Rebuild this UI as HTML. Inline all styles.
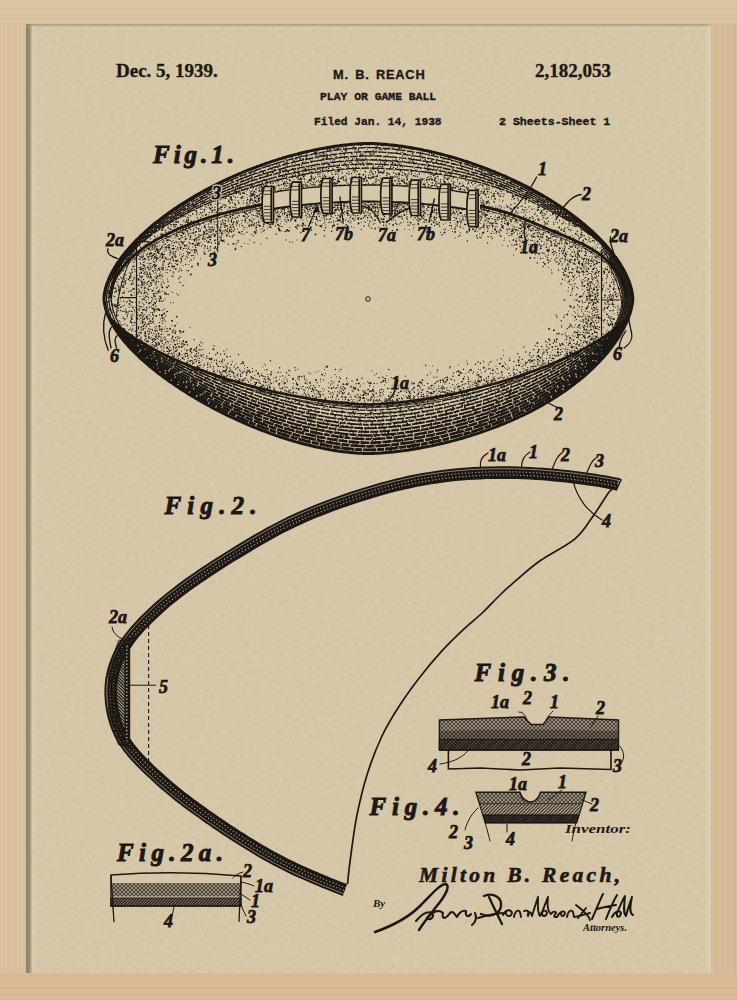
<!DOCTYPE html><html><head><meta charset="utf-8"><style>
*{margin:0;padding:0}
html,body{width:737px;height:1000px;overflow:hidden;background:#d9c19e}
#ft{position:absolute;left:0;top:0;width:737px;height:24px;background:#dac3a0;background-image:repeating-linear-gradient(0deg,rgba(180,140,90,.04) 0 1px,rgba(255,240,210,.05) 1px 3px,rgba(190,150,100,.03) 3px 5px)}
#fb{position:absolute;left:0;top:973px;width:737px;height:27px;background:#d7b994;background-image:repeating-linear-gradient(0deg,rgba(180,140,90,.04) 0 1px,rgba(255,240,210,.05) 1px 4px,rgba(190,150,100,.03) 4px 6px)}
#fl{position:absolute;left:0;top:24px;width:26px;height:949px;background:#dac19c;background-image:repeating-linear-gradient(90deg,rgba(180,140,90,.04) 0 1px,rgba(255,240,210,.05) 1px 3px,rgba(190,150,100,.03) 3px 5px)}
#fr{position:absolute;left:711px;top:24px;width:26px;height:949px;background:#d4b996;background-image:repeating-linear-gradient(90deg,rgba(180,140,90,.04) 0 1px,rgba(255,240,210,.05) 1px 4px,rgba(190,150,100,.03) 4px 6px)}
#paper{position:absolute;left:26px;top:24px;width:685px;height:949px;background:#d6c7a9;overflow:hidden}
#shl{position:absolute;left:26px;top:24px;width:11px;height:949px;background:linear-gradient(90deg,rgba(125,118,95,.85) 0,rgba(130,122,98,.8) 3px,rgba(150,140,112,.55) 5px,rgba(215,205,178,.0) 6px,rgba(230,220,195,.25) 7px,rgba(230,220,195,0) 11px)}
#sht{position:absolute;left:26px;top:24px;width:685px;height:5px;background:linear-gradient(180deg,rgba(140,132,105,.6) 0,rgba(150,140,112,.35) 2px,rgba(230,220,195,.15) 3px,rgba(230,220,195,0) 5px)}
#shr{position:absolute;left:704px;top:24px;width:7px;height:949px;background:linear-gradient(90deg,rgba(240,228,200,0),rgba(240,228,200,.35))}
.t{position:absolute;white-space:nowrap;color:#1d1813;line-height:1;-webkit-text-stroke:0.35px #1d1813}
svg{position:absolute;left:0;top:0}
</style></head><body>
<div id="ft"></div><div id="fb"></div><div id="fl"></div><div id="fr"></div>
<div id="paper"></div>
<svg width="737" height="1000" style="position:absolute;left:0;top:0">
<defs>
<filter id="ptd" filterUnits="userSpaceOnUse" x="26" y="24" width="685" height="949" color-interpolation-filters="sRGB">
<feTurbulence type="fractalNoise" baseFrequency="0.2" numOctaves="2" seed="11"/>
<feColorMatrix type="matrix" values="0 0 0 0 0.38  0 0 0 0 0.33  0 0 0 0 0.24  0.14 0 0 0 -0.072"/>
</filter>
<filter id="ptl" filterUnits="userSpaceOnUse" x="26" y="24" width="685" height="949" color-interpolation-filters="sRGB">
<feTurbulence type="fractalNoise" baseFrequency="0.2" numOctaves="2" seed="11"/>
<feColorMatrix type="matrix" values="0 0 0 0 0.96  0 0 0 0 0.92  0 0 0 0 0.82  -0.14 0 0 0 0.067"/>
</filter>
</defs>
<rect x="26" y="24" width="685" height="949" fill="#000" filter="url(#ptd)"/>
<rect x="26" y="24" width="685" height="949" fill="#000" filter="url(#ptl)"/>
</svg><div id="shl"></div><div id="sht"></div><div id="shr"></div>

<div class="t" style="left:116px;top:60px;font:bold 19px 'Liberation Serif',serif">Dec. 5, 1939.</div>
<div class="t" style="left:333px;top:67px;font:bold 12.8px 'Liberation Sans',sans-serif;letter-spacing:0.8px;word-spacing:2px">M. B. REACH</div>
<div class="t" style="left:320px;top:91px;font:bold 11.4px 'Liberation Mono',monospace">PLAY OR GAME BALL</div>
<div class="t" style="left:314px;top:115.5px;font:bold 11.2px 'Liberation Mono',monospace">Filed Jan. 14, 1938</div>
<div class="t" style="left:535px;top:60px;font:bold 19px 'Liberation Serif',serif">2,182,053</div>
<div class="t" style="left:499px;top:115px;font:bold 11.6px 'Liberation Mono',monospace">2 Sheets-Sheet 1</div>
<svg width="737" height="1000" viewBox="0 0 737 1000">
<defs>
<filter id="stip" filterUnits="userSpaceOnUse" x="0" y="0" width="737" height="1000" color-interpolation-filters="sRGB">
 <feTurbulence type="fractalNoise" baseFrequency="0.55" numOctaves="2" seed="5" result="noise"/>
 <feColorMatrix in="noise" type="matrix" values="0 0 0 0 0  0 0 0 0 0  0 0 0 0 0  1 0 0 0 0" result="nA"/>
 <feComposite in="SourceAlpha" in2="nA" operator="arithmetic" k1="0" k2="1" k3="2.2" k4="-1.4" result="s"/>
 <feComponentTransfer in="s" result="th"><feFuncA type="discrete" tableValues="0 1"/></feComponentTransfer>
 <feFlood flood-color="#1d1813"/>
 <feComposite in2="th" operator="in"/>
</filter>
</defs>
<clipPath id="ballclip"><path d="M632.8 298.5 L632.8 299.1 L632.8 299.8 L632.7 300.6 L632.6 301.5 L632.5 302.4 L632.4 303.4 L632.2 304.3 L632 305.3 L631.8 306.4 L631.6 307.4 L631.4 308.5 L631.1 309.6 L630.8 310.6 L630.5 311.8 L630.2 312.9 L629.8 314 L629.4 315.2 L629 316.3 L628.6 317.5 L628.1 318.7 L627.7 319.9 L627.2 321.1 L626.6 322.3 L626.1 323.5 L625.5 324.7 L624.9 325.9 L624.3 327.1 L623.7 328.4 L623.1 329.6 L622.4 330.8 L621.7 332.1 L621 333.3 L620.2 334.6 L619.5 335.8 L618.7 337.1 L617.9 338.4 L617.1 339.6 L616.2 340.9 L615.4 342.1 L614.5 343.4 L613.6 344.7 L612.6 345.9 L611.7 347.2 L610.7 348.5 L609.7 349.7 L608.7 351 L607.7 352.3 L606.7 353.5 L605.6 354.8 L604.5 356 L603.4 357.3 L602.3 358.6 L601.1 359.8 L600 361.1 L598.8 362.3 L597.6 363.5 L596.4 364.8 L595.1 366 L593.9 367.3 L592.6 368.5 L591.3 369.7 L590 370.9 L588.6 372.1 L587.3 373.4 L585.9 374.6 L584.5 375.8 L583.1 377 L581.7 378.2 L580.3 379.3 L578.8 380.5 L577.3 381.7 L575.9 382.9 L574.3 384 L572.8 385.2 L571.3 386.4 L569.7 387.5 L568.2 388.6 L566.6 389.8 L565 390.9 L563.3 392 L561.7 393.1 L560.1 394.2 L558.4 395.3 L556.7 396.4 L555 397.5 L553.3 398.6 L551.6 399.7 L549.8 400.7 L548.1 401.8 L546.3 402.8 L544.5 403.8 L542.8 404.9 L540.9 405.9 L539.1 406.9 L537.3 407.9 L535.4 408.9 L533.6 409.9 L531.7 410.9 L529.8 411.8 L527.9 412.8 L526 413.7 L524.1 414.7 L522.2 415.6 L520.2 416.5 L518.3 417.4 L516.3 418.3 L514.3 419.2 L512.3 420.1 L510.3 421 L508.3 421.9 L506.3 422.7 L504.3 423.5 L502.2 424.4 L500.2 425.2 L498.2 426 L496.1 426.8 L494 427.6 L491.9 428.4 L489.9 429.2 L487.8 429.9 L485.7 430.7 L483.6 431.4 L481.5 432.1 L479.3 432.9 L477.2 433.6 L475.1 434.2 L473 434.9 L470.8 435.6 L468.7 436.3 L466.6 436.9 L464.4 437.5 L462.3 438.2 L460.1 438.8 L458 439.4 L455.8 440 L453.6 440.6 L451.5 441.1 L449.3 441.7 L447.2 442.2 L445 442.8 L442.8 443.3 L440.7 443.8 L438.5 444.3 L436.4 444.8 L434.2 445.2 L432.1 445.7 L430 446.1 L427.8 446.6 L425.7 447 L423.6 447.4 L421.4 447.8 L419.3 448.2 L417.2 448.5 L415.1 448.9 L413.1 449.2 L411 449.6 L408.9 449.9 L406.9 450.2 L404.8 450.5 L402.8 450.8 L400.8 451 L398.8 451.3 L396.8 451.5 L394.9 451.7 L392.9 452 L391 452.2 L389.1 452.3 L387.3 452.5 L385.4 452.7 L383.6 452.8 L381.8 452.9 L380.1 453.1 L378.4 453.2 L376.7 453.3 L375.1 453.3 L373.5 453.4 L372.1 453.4 L370.7 453.5 L369.4 453.5 L368.4 453.5 L367.4 453.5 L366.2 453.5 L364.8 453.4 L363.4 453.4 L361.9 453.3 L360.4 453.2 L358.8 453.2 L357.2 453.1 L355.5 452.9 L353.9 452.8 L352.2 452.7 L350.4 452.5 L348.7 452.3 L347 452.1 L345.2 451.9 L343.4 451.7 L341.6 451.5 L339.8 451.2 L337.9 451 L336.1 450.7 L334.2 450.4 L332.4 450.1 L330.5 449.8 L328.6 449.4 L326.7 449.1 L324.8 448.7 L322.8 448.3 L320.9 447.9 L319 447.5 L317 447.1 L315.1 446.7 L313.1 446.2 L311.1 445.8 L309.2 445.3 L307.2 444.8 L305.2 444.3 L303.2 443.8 L301.2 443.3 L299.2 442.7 L297.2 442.1 L295.2 441.6 L293.2 441 L291.1 440.4 L289.1 439.8 L287.1 439.1 L285.1 438.5 L283 437.8 L281 437.2 L278.9 436.5 L276.9 435.8 L274.9 435.1 L272.8 434.4 L270.8 433.7 L268.7 432.9 L266.7 432.2 L264.6 431.4 L262.6 430.6 L260.5 429.8 L258.5 429 L256.4 428.2 L254.4 427.4 L252.3 426.5 L250.3 425.7 L248.3 424.8 L246.2 423.9 L244.2 423 L242.2 422.2 L240.1 421.2 L238.1 420.3 L236.1 419.4 L234.1 418.5 L232 417.5 L230 416.6 L228 415.6 L226 414.6 L224 413.6 L222.1 412.6 L220.1 411.6 L218.1 410.6 L216.1 409.6 L214.2 408.6 L212.2 407.6 L210.3 406.5 L208.4 405.5 L206.4 404.4 L204.5 403.3 L202.6 402.3 L200.7 401.2 L198.8 400.1 L197 399 L195.1 397.9 L193.2 396.8 L191.4 395.7 L189.6 394.6 L187.7 393.4 L185.9 392.3 L184.2 391.2 L182.4 390 L180.6 388.9 L178.9 387.8 L177.1 386.6 L175.4 385.4 L173.7 384.3 L172 383.1 L170.3 382 L168.6 380.8 L167 379.6 L165.4 378.4 L163.8 377.3 L162.2 376.1 L160.6 374.9 L159 373.7 L157.5 372.5 L155.9 371.3 L154.4 370.1 L152.9 368.9 L151.5 367.7 L150 366.5 L148.6 365.3 L147.2 364.1 L145.8 362.9 L144.4 361.7 L143.1 360.5 L141.7 359.3 L140.4 358.1 L139.1 356.9 L137.9 355.7 L136.6 354.5 L135.4 353.3 L134.2 352.1 L133 350.9 L131.8 349.7 L130.7 348.6 L129.6 347.4 L128.5 346.2 L127.4 345 L126.4 343.8 L125.3 342.6 L124.3 341.4 L123.4 340.2 L122.4 339.1 L121.5 337.9 L120.6 336.7 L119.7 335.6 L118.8 334.4 L118 333.2 L117.2 332.1 L116.4 330.9 L115.6 329.8 L114.9 328.6 L114.2 327.5 L113.5 326.3 L112.8 325.2 L112.2 324.1 L111.5 323 L110.9 321.8 L110.4 320.7 L109.8 319.6 L109.3 318.5 L108.8 317.4 L108.3 316.4 L107.9 315.3 L107.5 314.2 L107.1 313.2 L106.7 312.1 L106.4 311.1 L106 310 L105.7 309 L105.4 308 L105.2 307 L105 306 L104.8 305.1 L104.6 304.1 L104.4 303.2 L104.3 302.3 L104.2 301.4 L104.1 300.6 L104 299.8 L104 299.1 L104 298.5 L104 297.9 L104 297.2 L104.1 296.4 L104.2 295.5 L104.3 294.6 L104.4 293.7 L104.6 292.8 L104.8 291.8 L105 290.8 L105.2 289.8 L105.4 288.8 L105.7 287.8 L106 286.7 L106.3 285.7 L106.7 284.6 L107 283.5 L107.4 282.4 L107.9 281.3 L108.3 280.2 L108.8 279.1 L109.2 277.9 L109.8 276.8 L110.3 275.7 L110.8 274.5 L111.4 273.4 L112 272.2 L112.7 271 L113.3 269.8 L114 268.7 L114.7 267.5 L115.4 266.3 L116.2 265.1 L116.9 263.9 L117.7 262.7 L118.5 261.5 L119.4 260.3 L120.2 259.1 L121.1 257.9 L122 256.7 L122.9 255.5 L123.9 254.3 L124.9 253 L125.8 251.8 L126.9 250.6 L127.9 249.4 L129 248.2 L130 246.9 L131.1 245.7 L132.3 244.5 L133.4 243.3 L134.6 242 L135.7 240.8 L136.9 239.6 L138.2 238.4 L139.4 237.2 L140.7 235.9 L142 234.7 L143.3 233.5 L144.6 232.3 L145.9 231.1 L147.3 229.9 L148.7 228.7 L150.1 227.4 L151.5 226.2 L153 225 L154.4 223.8 L155.9 222.7 L157.4 221.5 L158.9 220.3 L160.4 219.1 L162 217.9 L163.5 216.7 L165.1 215.6 L166.7 214.4 L168.3 213.2 L169.9 212.1 L171.6 210.9 L173.2 209.8 L174.9 208.6 L176.6 207.5 L178.3 206.3 L180 205.2 L181.7 204.1 L183.5 203 L185.3 201.9 L187 200.8 L188.8 199.7 L190.6 198.6 L192.4 197.5 L194.3 196.4 L196.1 195.3 L197.9 194.3 L199.8 193.2 L201.7 192.2 L203.6 191.1 L205.4 190.1 L207.4 189.1 L209.3 188.1 L211.2 187.1 L213.1 186.1 L215.1 185.1 L217 184.1 L219 183.1 L221 182.2 L222.9 181.2 L224.9 180.3 L226.9 179.3 L228.9 178.4 L230.9 177.5 L232.9 176.6 L235 175.7 L237 174.8 L239 173.9 L241.1 173.1 L243.1 172.2 L245.1 171.4 L247.2 170.5 L249.3 169.7 L251.3 168.9 L253.4 168.1 L255.5 167.3 L257.5 166.5 L259.6 165.8 L261.7 165 L263.8 164.3 L265.8 163.5 L267.9 162.8 L270 162.1 L272.1 161.4 L274.2 160.7 L276.3 160.1 L278.4 159.4 L280.4 158.8 L282.5 158.1 L284.6 157.5 L286.7 156.9 L288.8 156.3 L290.9 155.7 L292.9 155.2 L295 154.6 L297.1 154.1 L299.1 153.5 L301.2 153 L303.3 152.5 L305.3 152 L307.4 151.5 L309.4 151.1 L311.4 150.6 L313.5 150.2 L315.5 149.8 L317.5 149.4 L319.5 149 L321.5 148.6 L323.5 148.2 L325.5 147.9 L327.5 147.5 L329.4 147.2 L331.4 146.9 L333.3 146.6 L335.2 146.3 L337.2 146 L339.1 145.8 L340.9 145.5 L342.8 145.3 L344.7 145.1 L346.5 144.9 L348.3 144.7 L350.1 144.5 L351.9 144.3 L353.6 144.2 L355.3 144.1 L357 143.9 L358.6 143.8 L360.2 143.8 L361.8 143.7 L363.3 143.6 L364.8 143.6 L366.2 143.5 L367.4 143.5 L368.4 143.5 L369.4 143.5 L370.7 143.5 L372 143.6 L373.5 143.6 L375 143.7 L376.6 143.8 L378.2 143.8 L379.9 143.9 L381.6 144.1 L383.3 144.2 L385.1 144.3 L386.8 144.5 L388.6 144.7 L390.5 144.9 L392.3 145.1 L394.2 145.3 L396.1 145.5 L398 145.8 L399.9 146 L401.8 146.3 L403.8 146.6 L405.7 146.9 L407.7 147.2 L409.7 147.5 L411.7 147.8 L413.7 148.2 L415.7 148.6 L417.7 148.9 L419.8 149.3 L421.8 149.7 L423.9 150.2 L425.9 150.6 L428 151 L430 151.5 L432.1 152 L434.2 152.4 L436.3 152.9 L438.3 153.5 L440.4 154 L442.5 154.5 L444.6 155.1 L446.7 155.6 L448.8 156.2 L450.9 156.8 L453 157.4 L455.1 158 L457.2 158.6 L459.3 159.3 L461.4 159.9 L463.5 160.6 L465.6 161.3 L467.7 161.9 L469.8 162.6 L471.9 163.4 L474 164.1 L476.1 164.8 L478.2 165.6 L480.2 166.3 L482.3 167.1 L484.4 167.9 L486.5 168.6 L488.5 169.4 L490.6 170.3 L492.7 171.1 L494.7 171.9 L496.8 172.8 L498.8 173.6 L500.8 174.5 L502.9 175.4 L504.9 176.2 L506.9 177.1 L508.9 178 L510.9 179 L512.9 179.9 L514.9 180.8 L516.8 181.8 L518.8 182.7 L520.8 183.7 L522.7 184.7 L524.6 185.6 L526.6 186.6 L528.5 187.6 L530.4 188.6 L532.3 189.6 L534.2 190.7 L536 191.7 L537.9 192.7 L539.8 193.8 L541.6 194.8 L543.4 195.9 L545.2 197 L547 198 L548.8 199.1 L550.6 200.2 L552.3 201.3 L554.1 202.4 L555.8 203.5 L557.5 204.7 L559.2 205.8 L560.9 206.9 L562.6 208 L564.3 209.2 L565.9 210.3 L567.5 211.5 L569.1 212.6 L570.7 213.8 L572.3 215 L573.9 216.1 L575.4 217.3 L576.9 218.5 L578.5 219.7 L579.9 220.9 L581.4 222.1 L582.9 223.3 L584.3 224.5 L585.7 225.7 L587.1 226.9 L588.5 228.1 L589.9 229.3 L591.2 230.5 L592.6 231.7 L593.9 232.9 L595.2 234.2 L596.4 235.4 L597.7 236.6 L598.9 237.8 L600.1 239.1 L601.3 240.3 L602.5 241.5 L603.7 242.7 L604.8 244 L605.9 245.2 L607 246.4 L608.1 247.7 L609.1 248.9 L610.1 250.1 L611.1 251.4 L612.1 252.6 L613.1 253.8 L614 255.1 L614.9 256.3 L615.8 257.5 L616.7 258.7 L617.5 259.9 L618.4 261.2 L619.2 262.4 L620 263.6 L620.7 264.8 L621.5 266 L622.2 267.2 L622.9 268.4 L623.5 269.6 L624.2 270.8 L624.8 271.9 L625.4 273.1 L626 274.3 L626.5 275.5 L627.1 276.6 L627.6 277.8 L628.1 278.9 L628.5 280 L629 281.2 L629.4 282.3 L629.8 283.4 L630.1 284.5 L630.5 285.6 L630.8 286.6 L631.1 287.7 L631.4 288.7 L631.6 289.8 L631.8 290.8 L632 291.8 L632.2 292.8 L632.4 293.7 L632.5 294.6 L632.6 295.5 L632.7 296.4 L632.8 297.2 L632.8 297.9Z"/></clipPath>
<clipPath id="topclip"><path d="M0 0 L737 0 L737 298.5 L626.4 298.5 L624.2 285.5 L622.1 280.1 L620 276 L617.8 272.6 L615.6 269.6 L613.5 267 L611.3 264.6 L609.2 262.4 L607 260.4 L604.9 258.5 L602.8 256.7 L600.6 255 L598.5 253.5 L596.3 252 L594.1 250.6 L592 249.2 L589.8 248 L587.7 246.8 L585.5 245.6 L583.4 244.5 L581.2 243.4 L579.1 242.4 L577 241.4 L574.8 240.4 L572.6 239.4 L570.5 238.5 L568.3 237.6 L566.2 236.7 L564 235.7 L561.9 234.8 L559.8 234 L557.6 233.1 L555.5 232.2 L553.3 231.3 L551.1 230.4 L549 229.5 L546.8 228.5 L544.7 227.6 L542.5 226.7 L540.4 225.8 L538.2 224.9 L536.1 224 L534 223.1 L531.8 222.2 L529.6 221.3 L527.5 220.4 L525.3 219.5 L523.2 218.7 L521 217.9 L518.9 217 L516.8 216.2 L514.6 215.5 L512.5 214.7 L510.3 214 L508.1 213.2 L506 212.6 L503.8 211.9 L501.7 211.2 L499.5 210.6 L497.4 210 L495.2 209.4 L493.1 208.9 L490.9 208.3 L488.8 207.8 L486.6 207.3 L484.5 206.8 L482.3 206.3 L480.2 205.9 L478 205.4 L475.9 205 L473.8 204.6 L471.6 204.2 L469.4 203.8 L467.3 203.4 L465.1 203.1 L463 202.7 L460.8 202.4 L458.7 202 L456.5 201.7 L454.4 201.4 L452.2 201.1 L450.1 200.8 L447.9 200.5 L445.8 200.2 L443.6 200 L441.5 199.7 L439.3 199.5 L437.2 199.2 L435 199 L432.9 198.8 L430.8 198.6 L428.6 198.3 L426.4 198.1 L424.3 197.9 L422.1 197.8 L420 197.6 L417.8 197.4 L415.7 197.2 L413.5 197.1 L411.4 196.9 L409.2 196.8 L407.1 196.7 L404.9 196.5 L402.8 196.4 L400.6 196.3 L398.5 196.2 L396.3 196.1 L394.2 196 L392 195.9 L389.9 195.9 L387.8 195.8 L385.6 195.7 L383.4 195.7 L381.3 195.6 L379.1 195.6 L377 195.6 L374.8 195.5 L372.7 195.5 L370.5 195.5 L368.4 195.5 L366.2 195.5 L364.1 195.5 L361.9 195.5 L359.8 195.6 L357.6 195.6 L355.5 195.6 L353.3 195.7 L351.2 195.7 L349 195.8 L346.9 195.9 L344.8 195.9 L342.6 196 L340.4 196.1 L338.3 196.2 L336.1 196.3 L334 196.4 L331.8 196.5 L329.7 196.7 L327.5 196.8 L325.4 196.9 L323.2 197.1 L321.1 197.2 L318.9 197.4 L316.8 197.6 L314.6 197.8 L312.5 197.9 L310.3 198.1 L308.2 198.3 L306 198.6 L303.9 198.8 L301.8 199 L299.6 199.2 L297.4 199.5 L295.3 199.7 L293.1 200 L291 200.2 L288.8 200.5 L286.7 200.8 L284.5 201.1 L282.4 201.4 L280.2 201.7 L278.1 202 L275.9 202.3 L273.8 202.7 L271.6 203 L269.5 203.4 L267.3 203.7 L265.2 204.1 L263 204.5 L260.9 204.9 L258.8 205.3 L256.6 205.7 L254.4 206.1 L252.3 206.5 L250.1 207 L248 207.4 L245.8 207.9 L243.7 208.3 L241.5 208.8 L239.4 209.3 L237.2 209.8 L235.1 210.3 L232.9 210.8 L230.8 211.4 L228.6 211.9 L226.5 212.5 L224.3 213 L222.2 213.6 L220 214.2 L217.9 214.8 L215.7 215.5 L213.6 216.1 L211.4 216.8 L209.3 217.4 L207.1 218.1 L205 218.8 L202.8 219.5 L200.7 220.2 L198.5 221 L196.4 221.7 L194.2 222.5 L192.1 223.3 L189.9 224.1 L187.8 224.9 L185.6 225.8 L183.5 226.7 L181.3 227.6 L179.2 228.5 L177 229.4 L174.9 230.4 L172.7 231.4 L170.6 232.4 L168.4 233.4 L166.3 234.5 L164.1 235.6 L162 236.7 L159.8 237.9 L157.7 239.1 L155.5 240.3 L153.4 241.6 L151.2 242.9 L149.1 244.2 L146.9 245.7 L144.8 247.1 L142.6 248.6 L140.5 250.2 L138.3 251.9 L136.2 253.6 L134 255.4 L131.9 257.3 L129.7 259.4 L127.6 261.5 L125.4 263.8 L123.3 266.3 L121.1 269.1 L119 272.1 L116.8 275.6 L114.7 279.8 L112.5 285.2 L110.4 298.5 L0 298.5Z"/></clipPath>
<clipPath id="botclip"><path d="M0 298.5 L98.4 298.5 L100.6 305.6 L102.9 309.5 L105.1 312.6 L107.4 315.4 L109.6 317.9 L111.9 320.2 L114.1 322.3 L116.4 324.3 L118.6 326.3 L120.9 328.1 L123.1 329.9 L125.4 331.6 L127.6 333.2 L129.9 334.8 L132.1 336.3 L134.4 337.8 L136.6 339.3 L138.9 340.7 L141.1 342.1 L143.4 343.4 L145.6 344.7 L147.9 346 L150.1 347.2 L152.4 348.5 L154.6 349.7 L156.9 350.8 L159.1 352 L161.4 353.1 L163.6 354.2 L165.9 355.3 L168.1 356.4 L170.4 357.5 L172.6 358.5 L174.9 359.5 L177.1 360.5 L179.4 361.5 L181.6 362.5 L183.9 363.4 L186.1 364.3 L188.4 365.3 L190.6 366.2 L192.9 367.1 L195.1 367.9 L197.4 368.8 L199.6 369.7 L201.9 370.5 L204.1 371.3 L206.4 372.1 L208.6 372.9 L210.9 373.7 L213.1 374.5 L215.4 375.3 L217.6 376 L219.9 376.8 L222.1 377.5 L224.4 378.2 L226.6 379 L228.9 379.7 L231.1 380.4 L233.4 381 L235.6 381.7 L237.9 382.4 L240.1 383 L242.4 383.7 L244.6 384.3 L246.9 384.9 L249.1 385.5 L251.4 386.1 L253.6 386.7 L255.9 387.3 L258.1 387.9 L260.4 388.5 L262.6 389 L264.9 389.6 L267.1 390.1 L269.4 390.6 L271.6 391.2 L273.9 391.7 L276.1 392.2 L278.4 392.7 L280.6 393.2 L282.9 393.6 L285.1 394.1 L287.4 394.6 L289.6 395 L291.9 395.5 L294.1 395.9 L296.4 396.3 L298.6 396.7 L300.9 397.1 L303.1 397.5 L305.4 397.9 L307.6 398.3 L309.9 398.7 L312.1 399 L314.4 399.4 L316.6 399.7 L318.9 400.1 L321.1 400.4 L323.4 400.7 L325.6 401 L327.9 401.3 L330.1 401.6 L332.4 401.8 L334.6 402.1 L336.9 402.4 L339.1 402.6 L341.4 402.8 L343.6 403 L345.9 403.3 L348.1 403.4 L350.4 403.6 L352.6 403.8 L354.9 404 L357.1 404.1 L359.4 404.2 L361.6 404.3 L363.9 404.4 L366.1 404.5 L368.4 404.5 L370.6 404.5 L372.9 404.4 L375.1 404.3 L377.4 404.2 L379.6 404.1 L381.9 404 L384.1 403.8 L386.4 403.6 L388.6 403.4 L390.9 403.3 L393.1 403 L395.4 402.8 L397.6 402.6 L399.9 402.4 L402.1 402.1 L404.4 401.8 L406.6 401.6 L408.9 401.3 L411.1 401 L413.4 400.7 L415.6 400.4 L417.9 400.1 L420.1 399.7 L422.4 399.4 L424.6 399 L426.9 398.7 L429.1 398.3 L431.4 397.9 L433.6 397.5 L435.9 397.1 L438.1 396.7 L440.4 396.3 L442.6 395.9 L444.9 395.5 L447.1 395 L449.4 394.6 L451.6 394.1 L453.9 393.6 L456.1 393.2 L458.4 392.7 L460.6 392.2 L462.9 391.7 L465.1 391.2 L467.4 390.6 L469.6 390.1 L471.9 389.6 L474.1 389 L476.4 388.5 L478.6 387.9 L480.9 387.3 L483.1 386.7 L485.4 386.1 L487.6 385.5 L489.9 384.9 L492.1 384.3 L494.4 383.7 L496.6 383 L498.9 382.4 L501.1 381.7 L503.4 381 L505.6 380.4 L507.9 379.7 L510.1 379 L512.4 378.2 L514.6 377.5 L516.9 376.8 L519.1 376 L521.4 375.3 L523.6 374.5 L525.9 373.7 L528.1 372.9 L530.4 372.1 L532.6 371.3 L534.9 370.5 L537.1 369.7 L539.4 368.8 L541.6 367.9 L543.9 367.1 L546.1 366.2 L548.4 365.3 L550.6 364.3 L552.9 363.4 L555.1 362.5 L557.4 361.5 L559.6 360.5 L561.9 359.5 L564.1 358.5 L566.4 357.5 L568.6 356.4 L570.9 355.3 L573.1 354.2 L575.4 353.1 L577.6 352 L579.9 350.8 L582.1 349.7 L584.4 348.5 L586.6 347.2 L588.9 346 L591.1 344.7 L593.4 343.4 L595.6 342.1 L597.9 340.7 L600.1 339.3 L602.4 337.8 L604.6 336.3 L606.9 334.8 L609.1 333.2 L611.4 331.6 L613.6 329.9 L615.9 328.1 L618.1 326.3 L620.4 324.3 L622.6 322.3 L624.9 320.2 L627.1 317.9 L629.4 315.4 L631.6 312.6 L633.9 309.5 L636.1 305.6 L638.4 298.5 L737 298.5 L737 1000 L0 1000Z"/></clipPath>
<clipPath id="midclip"><path d="M138.3 251.9 L140.5 250.2 L142.6 248.6 L144.8 247.1 L146.9 245.7 L149.1 244.2 L151.2 242.9 L153.4 241.6 L155.5 240.3 L157.7 239.1 L159.8 237.9 L162 236.7 L164.1 235.6 L166.3 234.5 L168.4 233.4 L170.6 232.4 L172.7 231.4 L174.9 230.4 L177 229.4 L179.2 228.5 L181.3 227.6 L183.5 226.7 L185.6 225.8 L187.8 224.9 L189.9 224.1 L192.1 223.3 L194.2 222.5 L196.4 221.7 L198.5 221 L200.7 220.2 L202.8 219.5 L205 218.8 L207.1 218.1 L209.3 217.4 L211.4 216.8 L213.6 216.1 L215.7 215.5 L217.9 214.8 L220 214.2 L222.2 213.6 L224.3 213 L226.5 212.5 L228.6 211.9 L230.8 211.4 L232.9 210.8 L235.1 210.3 L237.2 209.8 L239.4 209.3 L241.5 208.8 L243.7 208.3 L245.8 207.9 L248 207.4 L250.1 207 L252.3 206.5 L254.4 206.1 L256.6 205.7 L258.8 205.3 L260.9 204.9 L263 204.5 L265.2 204.1 L267.3 203.7 L269.5 203.4 L271.6 203 L273.8 202.7 L275.9 202.3 L278.1 202 L280.2 201.7 L282.4 201.4 L284.5 201.1 L286.7 200.8 L288.8 200.5 L291 200.2 L293.1 200 L295.3 199.7 L297.4 199.5 L299.6 199.2 L301.8 199 L303.9 198.8 L306 198.6 L308.2 198.3 L310.3 198.1 L312.5 197.9 L314.6 197.8 L316.8 197.6 L318.9 197.4 L321.1 197.2 L323.2 197.1 L325.4 196.9 L327.5 196.8 L329.7 196.7 L331.8 196.5 L334 196.4 L336.1 196.3 L338.3 196.2 L340.4 196.1 L342.6 196 L344.8 195.9 L346.9 195.9 L349 195.8 L351.2 195.7 L353.3 195.7 L355.5 195.6 L357.6 195.6 L359.8 195.6 L361.9 195.5 L364.1 195.5 L366.2 195.5 L368.4 195.5 L370.5 195.5 L372.7 195.5 L374.8 195.5 L377 195.6 L379.1 195.6 L381.3 195.6 L383.4 195.7 L385.6 195.7 L387.8 195.8 L389.9 195.9 L392 195.9 L394.2 196 L396.3 196.1 L398.5 196.2 L400.6 196.3 L402.8 196.4 L404.9 196.5 L407.1 196.7 L409.2 196.8 L411.4 196.9 L413.5 197.1 L415.7 197.2 L417.8 197.4 L420 197.6 L422.1 197.8 L424.3 197.9 L426.4 198.1 L428.6 198.3 L430.8 198.6 L432.9 198.8 L435 199 L437.2 199.2 L439.3 199.5 L441.5 199.7 L443.6 200 L445.8 200.2 L447.9 200.5 L450.1 200.8 L452.2 201.1 L454.4 201.4 L456.5 201.7 L458.7 202 L460.8 202.4 L463 202.7 L465.1 203.1 L467.3 203.4 L469.4 203.8 L471.6 204.2 L473.8 204.6 L475.9 205 L478 205.4 L480.2 205.9 L482.3 206.3 L484.5 206.8 L486.6 207.3 L488.8 207.8 L490.9 208.3 L493.1 208.9 L495.2 209.4 L497.4 210 L499.5 210.6 L501.7 211.2 L503.8 211.9 L506 212.6 L508.1 213.2 L510.3 214 L512.5 214.7 L514.6 215.5 L516.8 216.2 L518.9 217 L521 217.9 L523.2 218.7 L525.3 219.5 L527.5 220.4 L529.6 221.3 L531.8 222.2 L534 223.1 L536.1 224 L538.2 224.9 L540.4 225.8 L542.5 226.7 L544.7 227.6 L546.8 228.5 L549 229.5 L551.1 230.4 L553.3 231.3 L555.5 232.2 L557.6 233.1 L559.8 234 L561.9 234.8 L564 235.7 L566.2 236.7 L568.3 237.6 L570.5 238.5 L572.6 239.4 L574.8 240.4 L577 241.4 L579.1 242.4 L581.2 243.4 L583.4 244.5 L585.5 245.6 L587.7 246.8 L589.8 248 L592 249.2 L594.1 250.6 L596.3 252 L598.5 253.5 L600.6 255 L600.1 339.3 L597.9 340.7 L595.6 342.1 L593.4 343.4 L591.1 344.7 L588.9 346 L586.6 347.2 L584.4 348.5 L582.1 349.7 L579.9 350.8 L577.6 352 L575.4 353.1 L573.1 354.2 L570.9 355.3 L568.6 356.4 L566.4 357.5 L564.1 358.5 L561.9 359.5 L559.6 360.5 L557.4 361.5 L555.1 362.5 L552.9 363.4 L550.6 364.3 L548.4 365.3 L546.1 366.2 L543.9 367.1 L541.6 367.9 L539.4 368.8 L537.1 369.7 L534.9 370.5 L532.6 371.3 L530.4 372.1 L528.1 372.9 L525.9 373.7 L523.6 374.5 L521.4 375.3 L519.1 376 L516.9 376.8 L514.6 377.5 L512.4 378.2 L510.1 379 L507.9 379.7 L505.6 380.4 L503.4 381 L501.1 381.7 L498.9 382.4 L496.6 383 L494.4 383.7 L492.1 384.3 L489.9 384.9 L487.6 385.5 L485.4 386.1 L483.1 386.7 L480.9 387.3 L478.6 387.9 L476.4 388.5 L474.1 389 L471.9 389.6 L469.6 390.1 L467.4 390.6 L465.1 391.2 L462.9 391.7 L460.6 392.2 L458.4 392.7 L456.1 393.2 L453.9 393.6 L451.6 394.1 L449.4 394.6 L447.1 395 L444.9 395.5 L442.6 395.9 L440.4 396.3 L438.1 396.7 L435.9 397.1 L433.6 397.5 L431.4 397.9 L429.1 398.3 L426.9 398.7 L424.6 399 L422.4 399.4 L420.1 399.7 L417.9 400.1 L415.6 400.4 L413.4 400.7 L411.1 401 L408.9 401.3 L406.6 401.6 L404.4 401.8 L402.1 402.1 L399.9 402.4 L397.6 402.6 L395.4 402.8 L393.1 403 L390.9 403.3 L388.6 403.4 L386.4 403.6 L384.1 403.8 L381.9 404 L379.6 404.1 L377.4 404.2 L375.1 404.3 L372.9 404.4 L370.6 404.5 L368.4 404.5 L366.1 404.5 L363.9 404.4 L361.6 404.3 L359.4 404.2 L357.1 404.1 L354.9 404 L352.6 403.8 L350.4 403.6 L348.1 403.4 L345.9 403.3 L343.6 403 L341.4 402.8 L339.1 402.6 L336.9 402.4 L334.6 402.1 L332.4 401.8 L330.1 401.6 L327.9 401.3 L325.6 401 L323.4 400.7 L321.1 400.4 L318.9 400.1 L316.6 399.7 L314.4 399.4 L312.1 399 L309.9 398.7 L307.6 398.3 L305.4 397.9 L303.1 397.5 L300.9 397.1 L298.6 396.7 L296.4 396.3 L294.1 395.9 L291.9 395.5 L289.6 395 L287.4 394.6 L285.1 394.1 L282.9 393.6 L280.6 393.2 L278.4 392.7 L276.1 392.2 L273.9 391.7 L271.6 391.2 L269.4 390.6 L267.1 390.1 L264.9 389.6 L262.6 389 L260.4 388.5 L258.1 387.9 L255.9 387.3 L253.6 386.7 L251.4 386.1 L249.1 385.5 L246.9 384.9 L244.6 384.3 L242.4 383.7 L240.1 383 L237.9 382.4 L235.6 381.7 L233.4 381 L231.1 380.4 L228.9 379.7 L226.6 379 L224.4 378.2 L222.1 377.5 L219.9 376.8 L217.6 376 L215.4 375.3 L213.1 374.5 L210.9 373.7 L208.6 372.9 L206.4 372.1 L204.1 371.3 L201.9 370.5 L199.6 369.7 L197.4 368.8 L195.1 367.9 L192.9 367.1 L190.6 366.2 L188.4 365.3 L186.1 364.3 L183.9 363.4 L181.6 362.5 L179.4 361.5 L177.1 360.5 L174.9 359.5 L172.6 358.5 L170.4 357.5 L168.1 356.4 L165.9 355.3 L163.6 354.2 L161.4 353.1 L159.1 352 L156.9 350.8 L154.6 349.7 L152.4 348.5 L150.1 347.2 L147.9 346 L145.6 344.7 L143.4 343.4 L141.1 342.1 L138.9 340.7 L136.6 339.3Z"/></clipPath>
<clipPath id="capclip"><path d="M0 0H136.5V1000H0Z M601.5 0H737V1000H601.5Z"/></clipPath>
<filter id="blur30" x="-50%" y="-50%" width="200%" height="200%"><feGaussianBlur stdDeviation="14"/></filter>
<filter id="blur8" x="-50%" y="-50%" width="200%" height="200%"><feGaussianBlur stdDeviation="8"/></filter>
<mask id="midmask" maskUnits="userSpaceOnUse" x="0" y="0" width="737" height="1000"><rect width="737" height="1000" fill="#fff"/><ellipse cx="370.4" cy="302.5" rx="202" ry="76" fill="#000" filter="url(#blur30)"/><ellipse cx="370.4" cy="302.5" rx="180" ry="58" fill="#000"/></mask>
<g clip-path="url(#ballclip)">
<path d="M0 0m365.2 142.5h0m-1 0h0m-40.4 6.4h0m7.3-2.1h0m1.4 1.4h0m.9 1.1h0m6.4-1.1h0m3.6-.6h0m.1-2.2h0m3.3 3.4h0m.8 .6h0m2.4-4h0m2 .5h0m.6 3.1h0m1.2-3.3h0m1.4-1.2h0m.1 3.4h0m3.2-2.5h0m3.2 2.8h0m5.2-3h0m.2 4.4h0m2.1-3.7h0m4.7 1.4h0m1.9 2.5h0m.1-1.5h0m3.7 .9h0m.9-.9h0m8-1h0m.6-1.9h0m1.9 1.8h0m.3-1.1h0m3.5 3h0m1.7-3.3h0m6.9 3.9h0m2.5-1.6h0m3 .5h0m25.4 6.2h0m-3.3-2.3h0m-.1 3.2h0m-1.4 .1h0m-1.2-4.3h0m-5.6-.9h0m-.9 5.2h0m-1.3-1.3h0m-.6-2.5h0m-9.6-.9h0m-2.4 1h0m-.8 3.8h0m-2-2h0m-4.4-1.6h0m-3.1 1h0m-8.9-1.3h0m-.8 3.7h0m-.7-3.3h0m-.3 2.5h0m-10-4.5h0m-2.7 5.5h0m-1.3-2.2h0m-3.9-1.1h0m-16.1 1.2h0m-21.8-1.6h0m-2-1.5h0m-4.2 4h0m-6.8-1.7h0m-.6-1.7h0m-8.1 0h0m-6.4 1.4h0m-32.5 8h0m.9 .9h0m7.9-2h0m2.6-.8h0m8.6 .5h0m.8-1.8h0m11.7 4.4h0m2.9-.6h0m3.2-5h0m3.1 3.9h0m5.8-1.6h0m4.6-.2h0m.2 .7h0m1.1 .3h0m1.2 2.6h0m2.5-4.1h0m1.7 .7h0m.8 1.6h0m1.7-1.3h0m1.6 .4h0m5.9 1.4h0m7-.8h0m.3-3.3h0m.4 .7h0m5.3 1.8h0m7.7-.6h0m1.8 2.4h0m2-.4h0m0-3.9h0m1.4 2.7h0m.6-3.2h0m1.6 5.7h0m2.6-5.3h0m2.8-.5h0m7.7 5.9h0m1.6-1.9h0m1.6-2.8h0m1.4 .3h0m2.8 2.6h0m1.8 1.8h0m3.1-1.9h0m6.6-.3h0m3.2 .4h0m1.8 1.2h0m4.9-.2h0m1.3-.4h0m3.3-2.6h0m11.6 2.4h0m2.3 1h0m8.6-2.4h0m1.2 .7h0m2.8-2.5h0m.1-1.2h0m1.4 4.2h0m1.8-.6h0m4.2 1.7h0m3.3-.2h0m3.8-.4h0m5.6-.2h0m2.6 .7h0m16.5 6.7h0m-3.4-2.6h0m-10.6 .4h0m-11-2h0m0-.2h0m-3.6 3.9h0m-2-.8h0m-2-.5h0m-3-1h0m-2.3 2.4h0m-.4-1.2h0m-.8-2.9h0m-.7 3.4h0m-3-3.8h0m-2.9 3h0m-2-3.8h0m-7.4 4.7h0m-8-4h0m-3-.3h0m-.5 4h0m-5.3-4.1h0m-5.2 5h0m-1.3-3.1h0m-1.4-1.2h0m-8.7 1h0m-.7 3.4h0m-13-.5h0m-4-1.9h0m-.2 1.5h0m-1.9-2.2h0m-3.8 1.6h0m-1.8-4h0m-5.1 3h0m-2.1 1.6h0m-2.2-3.8h0m-12.2-.1h0m-3.2-.7h0m-1 5.5h0m-3.4-.2h0m-2.8-2.8h0m-.8 2h0m-2.3-.9h0m-3.4-3.6h0m-.5 2.6h0m-.5 2h0m-1.8 1.1h0m-1.2-2h0m-1.5-.8h0m-.4-2.3h0m-3.2 2.1h0m-.7 2h0m-.5-3.6h0m-2 3.2h0m-2.2-.1h0m-4.2-3.1h0m-2.5 1.9h0m-.1 1.9h0m0-4.6h0m-3.6 5.4h0m-.5-2.8h0m-2.6 1.1h0m-3.2-1.4h0m-1.1-1.4h0m-.1 3.3h0m-2.7-1.9h0m-.2-1.5h0m-2.4 2.8h0m-4.8-1.2h0m-7.1 1.7h0m-5.4-.6h0m-3.1 1.2h0m-2.2-2.3h0m-1.5 1.3h0m-.4-1.5h0m-1.3 .4h0m-10.1 7.9h0m.9-.5h0m.7-2.3h0m.1 .9h0m1.4-1.6h0m3.3 .1h0m2.5-1.6h0m3.4 3.6h0m6.3 1.3h0m7.5-4.2h0m0 5.1h0m6.3-2.3h0m5-2.3h0m1.5 3.4h0m.4-3.4h0m.4 1.2h0m7.7 1.3h0m1.2-1h0m0 2.9h0m1.4-1.3h0m.7-1.5h0m1.8 2.9h0m3.5-3.9h0m9.4-.6h0m.9 4.7h0m3.1-.5h0m3.6-4h0m1.1 3.6h0m3.7-.2h0m.2-2.2h0m.9-1.9h0m.7 .4h0m2 2.3h0m0 1.7h0m1.2-2.1h0m.4 2.5h0m.9-.7h0m2.9-4.8h0m1.4 3h0m3.7-1.5h0m6.5 1.4h0m8.1-1.1h0m5.4 3h0m3.9 0h0m.1-.7h0m5.5 1.1h0m11.9-3.5h0m7 .9h0m1.4-2h0m5 1.8h0m6.3 0h0m1.2-.7h0m0 3.5h0m.9-.1h0m1-1.1h0m.2-2.5h0m2.4 1.2h0m1.5 0h0m0-2.6h0m1.5 5.6h0m.3-4h0m1 1.2h0m2.6 2.6h0m2.6-1.6h0m2.5-3.8h0m3.3 5h0m2.1 .3h0m1-1h0m1.6-2.7h0m1.6 4.1h0m6.5-3.9h0m3.3-.1h0m2.5 .2h0m2.2 2h0m3.5-3.7h0m1 .1h0m1.4 2.1h0m.9 1.1h0m.9-.8h0m.6 1.8h0m8.8-1.5h0m12-.4h0m1.5 .6h0m.8 2.1h0m1.3-1.5h0m1.2-.4h0m6.2-1.9h0m8.1 3.6h0m10.5 4.8h0m-2.7 1.3h0m-5.6-4.3h0m-5 3.6h0m-1.3 .7h0m-1-3.6h0m-3.1 3.3h0m-1.1-2.8h0m-1.4-.4h0m-3.1 1.7h0m-15.5 2h0m-1.3-3.7h0m-2.6-.8h0m-3.9 1.3h0m-9.7 .1h0m-4.2-2.2h0m-1.6 3.6h0m-.4-.8h0m-.4 2.5h0m-2.3-4.9h0m-2.6 4.6h0m-.5-2.6h0m-.2-2.3h0m-1.7 3.7h0m-2.2-2.2h0m-2.2 3.1h0m-.6-2.4h0m-1 .7h0m-1.5-.3h0m-.5 2.8h0m-4.1-1.3h0m0-4.1h0m-2.6 4.8h0m-.8-1.1h0m-1.4-3.5h0m-1.3 3.3h0m-.3-1.4h0m-.1-2h0m-.8 1.7h0m-5.4 2.4h0m-.2-3.9h0m-.4 5.3h0m-1.6-5.5h0m-1.6 .5h0m-3.2 4.9h0m-.6-.8h0m-2.3-.2h0m-.3-4.1h0m-3.1 4.2h0m-2.5-2.1h0m-1.5 .8h0m-7.4 0h0m-.1-2.7h0m-6.6 1h0m-2.4-1h0m-1.1 3.3h0m-.3 1.3h0m-.9-.5h0m-1.4-1.5h0m-.4-3.2h0m-3 .7h0m-1.7 0h0m-.1 .9h0m-6.8 2.5h0m-.7 1.2h0m-2.6-5.2h0m-2.1 .4h0m-1.6 4.3h0m-.8-1.2h0m-2.2-1.7h0m-5.5 1.9h0m-3 .2h0m-1.8-1.1h0m-2.7-2.6h0m-.5 1.7h0m-6.4 2.9h0m-1.7 .3h0m-.1-2h0m-6.4 .4h0m-.1-.9h0m-1-1.9h0m-1.6 3.3h0m-1.3-3.4h0m-1.3 4.8h0m-.3-3h0m-3.9 1.8h0m-1.2-1.4h0m-1.5 1.1h0m-.1-3.2h0m-8.5 3.5h0m-3.5-2.8h0m-.9-.3h0m0 3.2h0m-1.1 .6h0m-3.4 .3h0m-3-5.4h0m-4.5 1h0m-2.2 1.3h0m-3 3.5h0m-1.3-3.8h0m-1.1 2h0m-2.7-.2h0m-.2-3.4h0m-2.1 5.4h0m-.1-4.2h0m-3.4-1.5h0m-1.1 5.7h0m-2-4.1h0m-1.3-.3h0m-5.6 1.6h0m-1.3-3.2h0m-1.5 5.9h0m-1.8-3.4h0m-2.6-2.4h0m-.4 5.8h0m-4.6-.5h0m-1.6-1.8h0m-.8-1.9h0m-.2-1.2h0m-.7 .5h0m-.2 1.1h0m-1.7 3.8h0m-2.6-3.9h0m-.5 .4h0m-1.6 3h0m-.9-1.3h0m-20 7.6h0m3.2-.3h0m1.8-1.1h0m.4-3.3h0m.6 4.8h0m4.1-.1h0m12.5-1.8h0m.6 1.3h0m.4-3.7h0m1.1 2.2h0m.5-1.6h0m2.6 2.2h0m1.5-1.7h0m.7 2.7h0m1.4-5.2h0m2.7 3.9h0m1.7 .4h0m.1-.6h0m3.5-2.1h0m5-1.1h0m.4 1h0m.4 2.4h0m2.5-.9h0m.3 2.6h0m1.6-2.1h0m3-2.5h0m2-.7h0m.1 3.3h0m.3-2.7h0m.8 2.2h0m2.3-2.1h0m.3 1.6h0m1.4 1.3h0m1.6-2.8h0m3.8-.1h0m2 .3h0m.2 3.9h0m.2 .6h0m4.2-.6h0m1.3-1.4h0m1.2 2h0m0-1.3h0m2.1-.4h0m2.2 1.4h0m1.8-2h0m.2-1.9h0m2 3.9h0m4.3-3.7h0m1.4 1.4h0m1.6 1.5h0m1.8 .8h0m2.4-.7h0m3.2 0h0m.4-2.3h0m2.9 2.9h0m0-4.4h0m1.9 4.9h0m2.4-2.6h0m1.9 2.4h0m1.8-2.3h0m1.3 2.5h0m.4-1.3h0m2.8-2.9h0m2.5 3.7h0m3.6-3.6h0m.7 1.4h0m18.7-2.9h0m3.7 4.7h0m1.5-1.8h0m3.6-2h0m3.1 4.4h0m6.2-3.5h0m1.8 1.1h0m.5-2h0m3-.3h0m.7-.9h0m.5 2.3h0m1.2 .5h0m.9 1.5h0m1.8-3.6h0m2.5-.2h0m2 1.4h0m.9-.4h0m.9 3.9h0m.2-2.9h0m1.8-1.5h0m3-.5h0m6.3 5.2h0m2.3-2.3h0m3.7-1.2h0m2.3 3h0m4.6-3h0m1.5 1.3h0m4-.4h0m.2 1.2h0m2.9-.8h0m1.2-2.8h0m.3 2.5h0m2-.9h0m.3-.2h0m1.6 2.6h0m2.8-1.7h0m3.5 .2h0m2.4-1.3h0m2.4 1.2h0m3.2 2.8h0m.4-.8h0m.1-3.8h0m3 2.6h0m1.3 0h0m.3-1.8h0m1.2 2.4h0m2.2 .2h0m3-2.6h0m2.5-.8h0m1.8 3.4h0m1-1.7h0m2.1 0h0m5.6 1.3h0m.8-2.8h0m.1 1h0m.2-2.2h0m2.7 2.6h0m1.3-1.2h0m2.8-1.4h0m2.5 4.9h0m1.1-.4h0m1.1-.4h0m4.4-1.9h0m2.8 .7h0m4.2 1.5h0m.9-3.8h0m13.7 4.5h0m1.6-3.3h0m2.8 2.1h0m1.4-3.5h0m13.4 7.9h0m-3 .1h0m-6.7-1.3h0m-4.4 1h0m-3.2-2.2h0m-15.7 1.6h0m-3.2 .1h0m-3-1.8h0m-2.1 4.7h0m-1.1-4.4h0m-.3 2.2h0m-3.8 .5h0m-2.1-3.1h0m-1.3 3.4h0m-.3 1.9h0m-2.9-.3h0m-2.4-4.9h0m-2.5 1.8h0m0 3h0m-1.8-2.1h0m-.6 2.6h0m-2.4-1.9h0m-2.3-3h0m-1.6 2.4h0m-2 2.5h0m-4.1-3.8h0m-1.4 1.6h0m-.2-2.8h0m-1.5 3.9h0m-1-1.3h0m-2.4 2.6h0m-.7-1.5h0m-2.2-2h0m-1.5 1.3h0m-3.5-1.3h0m-1.1 1.3h0m-2.4 1.3h0m-2.1-2.2h0m-1.9-2.6h0m-.1 3.7h0m-.3-2.9h0m-14.5 0h0m-1.1 3.9h0m-4.2-3.5h0m-.2 3.9h0m-.6-2.8h0m-.5 3.1h0m-.3-4.5h0m-1.4 2.1h0m-4 .5h0m-1.8 2.5h0m-.3-.4h0m-1-3.3h0m-1.5 1.2h0m-1.3-1.3h0m-.1-1.3h0m-6.6 0h0m-4.7 .8h0m-.4 4.2h0m0-4.9h0m-2.7 2.7h0m-1.8-3.5h0m-2.9 4.1h0m-2.5-3.9h0m-.6 3.1h0m-.4-1.9h0m-.8 1.1h0m-2.1 2.8h0m-.2-1h0m-1.2 .4h0m-1.3-3.5h0m-.2 1.6h0m-1.9 0h0m-.4 .5h0m-5-3h0m-1.4 1.9h0m-3.5 2.4h0m-.5-3.9h0m0 1.6h0m-1.4 2.6h0m-1-4.2h0m-.6 3.4h0m-.3-2.2h0m-.6-1.9h0m-.8 5.4h0m-1.3-1h0m-1 1.3h0m-.8-2.9h0m-.2 .8h0m-1.1-2.5h0m-1.7 2h0m-.6-1.6h0m-1 2.8h0m-.9-2.3h0m-.4-2h0m-1.7 2.2h0m-1.4-1.2h0m-1.8-1.2h0m-1.5 4.5h0m-1.1-3.7h0m-1.9 1.8h0m-.4 1.7h0m-2.6 1.5h0m-3.4-2h0m-.6 .4h0m-.7-2h0m-1.3 2.3h0m-1.4-2.3h0m-3.2 2.4h0m-.5-2.7h0m-3.7 .5h0m-.4 3.2h0m-2.3-3.5h0m-.9-1.6h0m-.6 .8h0m-1.7 0h0m-2.7 2.5h0m-.7-.9h0m-3-2h0m-.1 1h0m-2.8 2.6h0m-.4-2.9h0m-.5 .4h0m-1.9 .1h0m-.5-1.1h0m-.1 4.3h0m-2.3-3.2h0m-.6-.7h0m-1.5 2h0m-1.3-1h0m-.8 .6h0m-1.6 .4h0m-.7-1.6h0m-.6 3.4h0m-.5-2.6h0m-1.3 2h0m-1.9-3.3h0m-.5 1.5h0m-3.1 1h0m-1.1-1h0m-2.6-2.6h0m-1.5 5h0m-.1-.4h0m-2.6-1.4h0m-1.8-2.3h0m-4 1.8h0m-1.5 2.2h0m-2.2-3.3h0m-3.3 0h0m-.2 2h0m-.9-1.9h0m-6.3 2.2h0m-1.3-2.2h0m-1.4 2.5h0m-2.3-.8h0m-.6 1.2h0m-.8-4h0m-1.1 5.1h0m-1-1.7h0m-2.8 1.1h0m-1.3-1.1h0m-.1-1.3h0m-2.4-.1h0m-1.7-1h0m-4.5-1.8h0m-3 5.1h0m-1.7-3.7h0m-2.6 1.8h0m-1.8-2.3h0m-.6 1.1h0m-3.3 2.4h0m-.1-1.7h0m-2.5-2.6h0m-3 5h0m-.1-4.2h0m-2.9 3.9h0m-10.5 4.5h0m4-2.9h0m.3 5.1h0m.1-2.8h0m1.4 .4h0m3.6-.4h0m2.1-1.8h0m1.3 .5h0m.7 2h0m1.6 .7h0m1.4 1.1h0m3.3-5h0m.7 1.9h0m1.5 1h0m1.4-.4h0m.3-2h0m9.2 1.9h0m1.8-1.4h0m4.1 4.1h0m3.1-4.4h0m3 4.2h0m3.4 .5h0m4.1-4.2h0m2.3-1h0m1.5 1.8h0m.9-1.9h0m.9 3.6h0m1.6 1.3h0m6.7-.6h0m1.6-2.4h0m2.2 1.8h0m.3-3.5h0m1.2 4.7h0m.9-3h0m5.8-1h0m6.7 3.7h0m3.4-2.1h0m.9-1h0m1.1 3.4h0m1.5-2.1h0m3.7-1.2h0m4.4 .8h0m.5 3.1h0m3.8-4.3h0m.2 4.1h0m1-1.7h0m1.9-.2h0m.3-3.6h0m2 .9h0m1.4 3.7h0m.7-3.7h0m1.1 4.2h0m2.9-2.3h0m2.9-.2h0m.4-2.6h0m1 3.7h0m1-2h0m3.4 3.8h0m4.1-1.2h0m3.2-2.8h0m2.1 1.8h0m.8-1.2h0m2.1 2.6h0m3.8 1.1h0m.5-1.3h0m1.5-4.2h0m.8 4.1h0m.8 1.4h0m2.6-3.3h0m4.9 1h0m6.8 2h0m.3-2.6h0m.5-1h0m.7 2.4h0m1.3 1.1h0m4.3-.8h0m1.7-4.3h0m0 3.6h0m2.1-1.9h0m.4 2.8h0m4-1h0m.9-2.7h0m.4 1.8h0m1.8-.8h0m.6 3h0m2.4-3.3h0m1 1.7h0m1.7-.5h0m.4-2.8h0m1.7 1.9h0m1 2h0m3.6-3.5h0m1.1-.6h0m.2 5.3h0m2.3-2.5h0m2.5 .3h0m.9 1.5h0m2.9-2.7h0m.1-1.4h0m2.2 3.2h0m1.2-2.4h0m2.7 1.6h0m.2 1.7h0m5-.2h0m1.1-1.5h0m.2 2.7h0m.1-3.7h0m1.3 1.1h0m1.2 1.7h0m.4 1h0m.7-.4h0m2.6-4.5h0m1.2 2.5h0m1-3.3h0m.7 1.7h0m.7 3h0m.4-2h0m.8-1.1h0m1.9 2.1h0m1 1.7h0m2.2-2.2h0m.1 1.8h0m.3-.1h0m1-1h0m.9-2.2h0m.4 3.8h0m2.3-2.9h0m4.2-1.9h0m6.6-.4h0m.2 2.3h0m1.1-1.8h0m.6 1.3h0m2.5 0h0m.5 2.2h0m2-2.4h0m.6 .7h0m1.4-.7h0m3.6 .7h0m.5 2h0m4.1 .2h0m1.7-3.1h0m3.3-.6h0m1 4h0m1.8-2.9h0m.7 2.5h0m.3-1.5h0m1.8 .3h0m.5 .8h0m1.7-.3h0m.6-2h0m5.9 3.8h0m.4-3h0m1.6 2.1h0m5.1 .3h0m.7-3.5h0m2.1 .2h0m10.3 2.4h0m1.4-2.7h0m11.5 .5h0m4.4-1.4h0m.9 .9h0m9-.7h0m1.2 1h0m.6 3.6h0m2.2-4.1h0m1.9-1h0m7.7 1.2h0m11.8 9h0m-16.5-3.6h0m-1.4-.7h0m-20.8 .8h0m-1.7 .4h0m-8.7 .8h0m-.4 1.2h0m-3-1.6h0m-6 1.3h0m-2.3-2.1h0m-1.8 4.3h0m-6.6-.9h0m-.6-3.4h0m-1.6-.7h0m-.5 1.9h0m-.3 1.8h0m-1.8 .5h0m-.9-4.6h0m-.3 2.3h0m-1.2-2.1h0m-.6 3.5h0m-1 .3h0m-2.2-1.7h0m-.7 2.7h0m-.9-2.1h0m-.1-2.5h0m-2.5 2.2h0m-1.9 2.3h0m-2.3-3.7h0m-.4 3.7h0m-1 .7h0m-3.4-1.9h0m-1.1-.3h0m-.2 2.1h0m-.8-3.5h0m-.9 3.5h0m-.2-2.1h0m-1.6-1.4h0m0-.8h0m-1.3-.7h0m-.1 2.3h0m-.8 .9h0m-2.5 1.4h0m-.3-3.9h0m-6.4 2.5h0m-.5-.8h0m-1.3-1.2h0m-.3 3.5h0m-6-4.6h0m-.8 .6h0m-.5 1.6h0m-1.9-.4h0m-1.4-.6h0m-2 2.1h0m-.1-4h0m-3.5 5.5h0m-.5-3h0m-1.3 2.2h0m0-3.4h0m-.5 .3h0m-1.1 2.6h0m-.6-2h0m-.2 1.6h0m-2.4-.6h0m-1.8-2.4h0m-1.2 1.2h0m-3.1 .9h0m-1.7-2.2h0m-1.5 0h0m-1.6 1.9h0m-3.8-.9h0m-1.3-1.3h0m-1.6 3.6h0m-.6-3.9h0m-2 5.7h0m-1.2-4.5h0m-.7 1.6h0m-.5 2.7h0m-.1-4.5h0m-.9 .5h0m-2.5 2.9h0m-2.8-.3h0m-1.5-1.3h0m-2.1-1h0m0 1.9h0m-.5-.1h0m-.5-1.5h0m-.7-1.3h0m-.2 4.3h0m-1.2-3.4h0m-1 .5h0m-1.8-.4h0m-.1 1.9h0m-2.2-.4h0m-.1-2.4h0m-.2 1.3h0m-.6 .8h0m-2.6-2.5h0m-1 2.1h0m-.9 1.4h0m-.8-3.3h0m-1.3 2.1h0m-1.6 1.6h0m-1.8-4.4h0m-.2 5.6h0m-1.1-2.7h0m-.8-2.5h0m-1.7-.1h0m-1.3 4.4h0m-.1-4.2h0m-.4 1.4h0m-1.6-.1h0m-1-.9h0m-.9 2.9h0m-2.4 1.8h0m-.6-4.9h0m-1.9 2.6h0m-.6 1.9h0m-2.2-4.9h0m-.4 .2h0m-2 3.9h0m-.6-3h0m-2.6 .6h0m-.4 2.9h0m-1.3-4.5h0m-.3 4h0m-1.2 1.4h0m-.9-2.9h0m-.7 1.1h0m-1.1-3.5h0m-1.2 2.9h0m-1.3-2.4h0m-.5 3.8h0m-1-.4h0m-2.7-4.1h0m-.4 3.1h0m0 2.1h0m-3.3-1.7h0m-.1-3.1h0m-.4-.8h0m-1.7 1.4h0m-.3 .6h0m-1.5 2.9h0m-.6-.3h0m-1.5-3.9h0m-.3 2.1h0m-.9-1.1h0m0 2.2h0m-1 1.8h0m-1.3-.8h0m-.4-4.6h0m-2.6 3.9h0m-.4-1.7h0m-.1 3.4h0m-1.4-4.5h0m-3.3 2.6h0m-.3-2.7h0m-.8 1h0m-.7 1.1h0m-.3 2.2h0m-.2-3.5h0m-6.9 .7h0m0-2.7h0m-.3 3.5h0m-.9-.2h0m-1-1.7h0m-3.1 .1h0m-1.3 3.3h0m-.7-3.4h0m-1.3 1.9h0m-1.6 2.4h0m-1.5-3.6h0m-2.5 3.5h0m-2.3-.8h0m-.2-4.6h0m-.8 2.8h0m-.8-1.3h0m-2.1 .5h0m-.7 1.3h0m-2.1 .3h0m-1.4-.5h0m-.4 1.5h0m-1.1-3.1h0m-.3 1.8h0m-2.6 0h0m-.6-2.8h0m0 4.3h0m-1.6-.2h0m-1.8-.5h0m-1.1-2.8h0m-1.3 3h0m-.9-4.6h0m-2.8 1.1h0m-5.1-.7h0m-1.6-.3h0m-1.6 5.2h0m-.5-3.6h0m-2.9 2.4h0m-2.7-1.6h0m-3.5 0h0m-.5-2.3h0m-4.3 3.4h0m-.5-1.2h0m-3-.5h0m-.1 3.6h0m-5.1-.5h0m-.6-3.5h0m-7.2-.8h0m-1.5-.5h0m-.4 4.7h0m-2.5-.9h0m-2.4 1.8h0m0-2.3h0m-2-2.9h0m-.8-.5h0m-7 1.4h0m-4.8 1.8h0m-5.5 1.6h0m-6.3-1.5h0m0-2.6h0m-3.4 3.9h0m-1.1-.1h0m-3.8 6.4h0m.5-.2h0m1.3-2.6h0m.5-2.3h0m4.9 2h0m.3 1h0m3.6-.7h0m.6 1.7h0m1.4-3.4h0m2.4 3.7h0m6.8 .8h0m4-1.7h0m3.6-3.4h0m4 5.4h0m8.5-5.2h0m.2 1h0m2.9 1.2h0m1.5 2.8h0m2.4-.9h0m2.4-1.1h0m8.4 1.9h0m5.7-3.4h0m2.6 3.2h0m.2-4.2h0m1.2 3.1h0m.9-.7h0m2.3-2.1h0m.6 .1h0m1.8 1.8h0m.6 1.4h0m1-2.6h0m1.3 .9h0m1 .8h0m.3-2.8h0m1.2 2.8h0m2.4 .6h0m.5-3.9h0m.3 2.2h0m.7-.9h0m3.6 1.1h0m.3-.9h0m6.5 2.2h0m.5-2.6h0m.5 3.8h0m.8 .7h0m.3-5.8h0m3.8 3.8h0m.4-2.4h0m3.3 1.7h0m.2-2h0m3 0h0m1.9 3.6h0m1.1-1.3h0m.1 1.4h0m1.3-4.8h0m.4 1.3h0m.6 2h0m1.2-.1h0m1.2 1.3h0m.8 1h0m1.8-2.7h0m.4 1.5h0m.3-2.8h0m.7 3.8h0m0 .5h0m.4-2.7h0m1.5 2.3h0m.7 .4h0m1.3-.8h0m.5-3h0m2.1 0h0m3 0h0m1.6 .4h0m1.3-.4h0m2.8 2h0m2.5-2.2h0m.4 2.6h0m0-1.2h0m1.6 2.6h0m1.7-5.3h0m1.1 1.4h0m1.1 2.9h0m2.7-3h0m.8-1.1h0m.6-.4h0m2.1 0h0m.2 2.5h0m.5-1.7h0m2.1 .1h0m4.5 4.1h0m3.1-1.7h0m.9-3.4h0m2.1 4.7h0m.4-1.9h0m.4 1.2h0m.5-1.7h0m2.3 1.6h0m.1-2.2h0m.1 1.9h0m1.7 .3h0m.7-3.3h0m1 4.9h0m.4-1.3h0m.1-.5h0m.3 1.9h0m.4-4.6h0m2.1 4h0m1.7 .3h0m.7-4.4h0m.4-.9h0m2 .9h0m.7 1.7h0m3.8-.7h0m2.8 2.6h0m.2-4.4h0m3.8 5h0m2.2-4.8h0m.8 3h0m0 1.1h0m2.5-2.5h0m.2 2.9h0m1.3-3.9h0m2.4-.9h0m.5 5.4h0m2.9-2.2h0m0-3.2h0m2.2 3h0m1.8-3.2h0m.2 4.8h0m.2-1.5h0m3.6-3.2h0m2.8 .9h0m.7 4.1h0m.8-4.7h0m2.8 4h0m1.2 .8h0m.6-2h0m4.2 1h0m.6-3.1h0m1.6 .7h0m1 4.1h0m.2-1.3h0m.8-1.3h0m.6-1.3h0m.2 .4h0m1.8-2.1h0m0 3h0m1.6-1.4h0m2.3 1.5h0m1-.1h0m1 .7h0m2.6-.2h0m1.7 0h0m.3 2h0m2.6-.8h0m3.1-3.9h0m2.2 2.5h0m.6-2.1h0m2.2-.2h0m.6 3.1h0m1.4-1.3h0m.5 1.6h0m.5-3.6h0m2.9-.1h0m.7 1.4h0m.8-1h0m.7 3.4h0m3.7-4.5h0m.7 3.1h0m.6-3.1h0m2.3 1h0m.2 1.2h0m1.3 2h0m.9-4.5h0m.6 2h0m.5 2.1h0m1.8-2.9h0m1 0h0m2.1-.2h0m1.2 3.7h0m1.1-.9h0m2.6-.7h0m1.8-.4h0m1.6 2.5h0m2.3-.3h0m.3-1.5h0m11.4-2.4h0m1 2.9h0m2.2-3.2h0m7 1.5h0m1.7 0h0m2.6 .1h0m3.3-.4h0m8.3 1.9h0m2.5-2.7h0m3 2.6h0m7.6 .4h0m1.1-.6h0m2.5-1h0m6.2 3h0m1.6-2.5h0m1.2-.6h0m4.4 2.5h0m3.1-1.2h0m1.5-2h0m1.7-1.2h0m10.2 .1h0m14.8 11.3h0m-1.3-.1h0m-1.4-4.9h0m-6.1 1.5h0m-1.3-1.8h0m0 3.3h0m-.2 1.9h0m-.4-3.2h0m-1.2-1.3h0m-3.3 3.9h0m-6.2 .4h0m-1.6-3.1h0m-.7 1.4h0m-6.4-.9h0m-5.9-1.2h0m-3.2 .2h0m-3.3-1.4h0m-2 1.5h0m-2.8 .7h0m-1.1 .5h0m-1.2-2.3h0m-3.4 1.6h0m-.8-.5h0m-2.1 .6h0m-.3 2.2h0m-.9-.9h0m-.1-1.2h0m-1.3 .3h0m-2.2-2h0m-4.7 .1h0m-.8 1.4h0m-1.5 1.3h0m-1.8-2h0m-.8 3.9h0m-.5-2.6h0m-2.2-2.8h0m-2.7 3.1h0m-1.9-1.2h0m-1.3-1.3h0m-3.2 3.1h0m-.8 .9h0m-1.3-.7h0m0-3.3h0m-2 4.8h0m-3.6-3.9h0m-3.1 2.3h0m-2.8-4.2h0m-.1 .3h0m-3.8 3.8h0m-3.6 1.6h0m-1-2.9h0m-2.1 0h0m-.1 .4h0m-.3-2.2h0m-2.4 1.4h0m-1.7 2.6h0m-3.4-.1h0m-.2-4.2h0m-2.6 3.8h0m-3.1-3.4h0m-1.7-.7h0m-2.1 4h0m-1.8-.3h0m-.8-1.6h0m-.6 1.7h0m-.2-3h0m-1.9 3.7h0m-.1-4.4h0m-1.9 1.9h0m-4.6 2.1h0m-1.6-4h0m-1.1 0h0m-2 .2h0m-3.4 3.6h0m-.3-1.8h0m-1.5-1.7h0m-.1 3.4h0m-1-1.3h0m0 .3h0m-3.4 1.2h0m-.5-1.6h0m-.3-1.8h0m-1.2 2.5h0m-6.9-3h0m0 3.8h0m-2.7-1.9h0m-9.3-.1h0m-2.7 2.1h0m-.7-.6h0m-.1-3.1h0m-1.4 4.9h0m-1.7-1.8h0m-5.7 .8h0m-3.4-1h0m-1.7 0h0m-2.8-3h0m-.4 1.9h0m-4.8 1.5h0m-3.2-1.6h0m-2.4 .1h0m-.9-1.1h0m-2 2.9h0m-1-2.6h0m-3.6 .7h0m-1.6-.4h0m-1.3 3.4h0m-2 .5h0m-1.4-.7h0m-3.2-1.9h0m-2.3 1.3h0m-.6-1.3h0m-2.4 2.3h0m-.6-1.7h0m-4.7-2.2h0m-.3 3.9h0m-7.5-.3h0m-1.2-2.1h0m-.4-2.1h0m-1.7 2.5h0m-1.9 1.8h0m0-3.2h0m-1.9 .5h0m-.4 1.3h0m-2.3-2.3h0m-1.1-1.5h0m-2.4 3.4h0m-1.6-1.8h0m-3.2 3.7h0m-7.3 .3h0m-1.9-.5h0m-8.5-2.8h0m-3.5 2.1h0m-1.8-1.9h0m-1.7 0h0m-.7-2h0m-.2 3.9h0m-1.7 .3h0m-1.2-3.1h0m-1.1 .7h0m-1.7-.3h0m-.7 3.5h0m-.8 0h0m-2.3-1.3h0m-2.1-2h0m-1.6-2.1h0m-1.1 3.7h0m-3.3-2.3h0m-1-.5h0m-.3 3.6h0m-4.2-2.9h0m-2.1-1.4h0m-1 2.3h0m-1.8 .3h0m-.3-1.1h0m0 3.7h0m-.8 0h0m-3.4-.9h0m-.4-.2h0m-1.8-1.4h0m-1.1-1.1h0m-1-1.1h0m-5.1 1.4h0m-1.7-.7h0m-1.6 1.4h0m-.9-1.6h0m-2.3 2.8h0m-.4-4.2h0m-1.6 2.3h0m-1.1 .1h0m-2.3 .9h0m-.3-1.6h0m-1 1.6h0m-2.2 1.9h0m-8 .1h0m-.1-2h0m-1.4 1.7h0m-2-5.1h0m-.5 2.3h0m-.8 2.5h0m-5.3 0h0m-3.6 .3h0m-1-3.5h0m-2.8 2.4h0m-2.3 .3h0m-2.5-.1h0m-.4 .8h0m-2.3-4.7h0m-1.6 3.1h0m-3.9 1.8h0m-.1-4.5h0m-1.9 1.1h0m-8.4 2.7h0m-.5-2.7h0m-1-.2h0m-1.4 .6h0m-2.2-2.1h0m-2.9 4.3h0m-1.3-1h0m-4.8 2.7h0m2.6 2.2h0m.5 3h0m2.9-.2h0m3.5-5.1h0m1.8 1.8h0m.9 2.2h0m.1-1.1h0m1.6-1.6h0m.6 1.4h0m2.1-.8h0m5.6 1.4h0m1.3-2.1h0m.8 3.4h0m14.4-1.1h0m2.5 1.1h0m1.3-.7h0m2.9 1.4h0m1.8-2.5h0m2.4 .5h0m.1 2.1h0m.5 .5h0m.9-.1h0m1-4.2h0m.6 1.7h0m.3 2.2h0m.8-4.7h0m1.5 1h0m.9 3.8h0m3.8-1.8h0m1.4 1.9h0m2.5-.8h0m0-2.5h0m.7 3.4h0m1.1-5.7h0m2.6 1.8h0m.5 .4h0m2.7 0h0m3 2.6h0m3.3-.5h0m.4 .2h0m2.3-4.6h0m0 .9h0m.7 1.8h0m.4-2.5h0m.8 1.4h0m.7 .4h0m4.8 0h0m1.7 1.4h0m1-.6h0m2.2-2h0m1.9 3.2h0m4.7-3h0m1.1 4.7h0m2.1-4.3h0m.4-1.4h0m1.3 4.6h0m1.4 1.3h0m2.4-3.9h0m.3 .7h0m1.8-2.6h0m.8 2.2h0m3.4 1.2h0m1.6-.6h0m1.5 2.4h0m3.5-.4h0m.1-3.6h0m4.6-.1h0m2.7 1h0m1.6-.7h0m.4 3.3h0m2.2-2.3h0m.8-.9h0m3.3 1.3h0m2.1 1.1h0m3.6-1.7h0m.7 2.8h0m.5-4.2h0m5.5 2.3h0m1.3-2.6h0m2.4 .5h0m.5 2h0m.2 1.9h0m1.6-.5h0m2.7-2.6h0m2.5 3h0m1.5-4.2h0m7.1 .6h0m.6 3.8h0m1.4 .5h0m10.4-1.2h0m1.4-1.5h0m2.9 1.2h0m1.2 1.1h0m4.4-3h0m2-.1h0m6.7 3.7h0m3.7-1.1h0m1.7 .3h0m2.8-2.4h0m.5 1.6h0m5.8-2.3h0m8.8 2.3h0m2.7-3.2h0m1.3 2.6h0m3.9 .9h0m.8-4.3h0m2.1 1h0m4 .2h0m1.2 4.6h0m3.1-4.4h0m.5 1.5h0m.4-2.5h0m6.1 2.9h0m3.5-3h0m1-.3h0m.2 2.6h0m1.8 2h0m2.8-2.9h0m1.1 4h0m1-2.3h0m1 .9h0m5.4-3.5h0m2.8-.1h0m2.7 4.6h0m10.2-4.9h0m1-.4h0m9.7-.2h0m1.9 2.5h0m.1 2.4h0m1.3-4.6h0m0 3.7h0m.5 1.7h0m.2-.6h0m1.3-3.2h0m.3-1.5h0m2.1 3.8h0m3.5 .1h0m1.2-2.2h0m2.3-1.4h0m3-.7h0m.3 1.4h0m3.3 2.5h0m.5-2.2h0m1.6-.8h0m.2 1.9h0m.6-.1h0m2.4 2.2h0m1.9-3.3h0m.1 1.6h0m1.2-.5h0m.7 2.6h0m6.7-3.9h0m.7 2.2h0m1.3 .5h0m2.6-1.1h0m5.3 2.7h0m2-2.4h0m1.1-2.1h0m.5 3.7h0m.9-1.8h0m3.5-3h0m.3 2.6h0m6.1 0h0m1.9-.8h0m4 .1h0m1.9-.5h0m1.4 3.8h0m2.3-3.1h0m4.9 1.8h0m3-.3h0m3.6-.2h0m4.8-.5h0m9.5-1.9h0m4.4-.9h0m0 .3h0m3 4.6h0m2.4-.7h0m2.4-1.3h0m2.2 2.3h0m.2-5.2h0m4.1 .9h0m5.4 7.6h0m-11.8-1.9h0m-3.3 .9h0m-.3 4.2h0m-9.7-5.8h0m-2 .2h0m-7.2 5.5h0m-1.9-2.6h0m-1.8 .1h0m-5.5 0h0m-2-.1h0m-1.7-1.2h0m-1.4-1.3h0m-2 4.2h0m-.4-2.8h0m-.4-2h0m-1.7 5.4h0m-2.4-1.4h0m-1.9 1.7h0m-6.1-.6h0m-.2-4.2h0m-2.1-.8h0m-1.6 4.7h0m-1-1.9h0m-2.9-1.6h0m-2-.4h0m-1 1h0m-4.6 1.1h0m-.4-.6h0m-3.5-.6h0m-.3 3h0m-2.5-3.7h0m-.1 4.7h0m-2.3 .1h0m-4.9-1.9h0m-.7-2.3h0m-.3 2.1h0m0 1h0m-2.5-2.7h0m-.1-1.1h0m-3.5 .1h0m-1-.9h0m-2.5 3.9h0m-1-1.9h0m-1.6-.8h0m-2.1 .1h0m-2.3-.2h0m-9.3 4.3h0m-.2-3.7h0m-5.3 .1h0m-9.5-1.3h0m-2.4 1.5h0m-7.8-1.3h0m-9.1-.7h0m-1 5.4h0m-10.9-3.5h0m-.5 2.9h0m-6.2-1.8h0m-8.1-1.2h0m-13.5-.1h0m-7.8 3.4h0m-3.5-4h0m-5.6 3.6h0m-.2-3.5h0m-3.6-1.2h0m-4.4-.1h0m-2.9 1.9h0m-4.3 3.6h0m-2.4-1h0m-.5-3.8h0m-1.1-.2h0m-4.9 3.4h0m-11.5-3.1h0m-2-.9h0m-3.1 .7h0m-2.5 2.3h0m-1-2.4h0m-1.6 1h0m-1.1 1.3h0m-3.1 .8h0m-2.2-.3h0m-7.5-2.5h0m-9.3 2.3h0m-1.3 1h0m-9 1h0m-5.1-3.2h0m-2.4 2.6h0m-1.8-2.9h0m-4.3-.8h0m-6 3.2h0m-1.4 .1h0m-10.8-1.1h0m-1.1-.2h0m-3.6-.6h0m-.1 1.3h0m-1.4 .8h0m-2.5-4.3h0m-.3 2.4h0m-1.6-1.6h0m-.7 4.8h0m-5.1-4.5h0m-1.9 1.1h0m-.2 1.9h0m-2.9-.6h0m-.4-1.5h0m-6.8 .2h0m-4.9 .7h0m-1.4-.3h0m-2.2 1.4h0m-2.3 1.1h0m-.4-5h0m-.9 1.9h0m-1.1 .3h0m-1.7-.4h0m-3.2-.3h0m-2 3.5h0m-.8-.8h0m-2.6-2h0m-1.7 3h0m-4-3h0m-.3 .8h0m-4.8 1.6h0m-2.3-1.4h0m-.1-2.5h0m-5.7 3.4h0m-.1-1.9h0m-1.8 3h0m-7.7-.3h0m-3-.1h0m-.4-.1h0m-.3-4.8h0m-2.5 4.8h0m-1.3-4.8h0m-1.9 3h0m-2.7-1h0m-9.3-1.1h0m-1.3 3.9h0m-1.8-2.2h0m-6.6 6.6h0m3.7 .3h0m2.3-.6h0m.1-2.9h0m2 2.8h0m.8-1.7h0m.4 2.1h0m5.8 1.9h0m1.3-3.1h0m5.4-1.7h0m.4 4.2h0m.2-1h0m2.9 .9h0m.4-1.1h0m2.9-1.9h0m1.6 3.7h0m6.8-1h0m1.4-.1h0m4.3-3.5h0m.9-.5h0m.1 5.2h0m1.7-.4h0m1.8-2.3h0m2.4 .8h0m.5 .5h0m.1-.4h0m4-1.8h0m1.3-1.8h0m1.6 3.4h0m1.5 .5h0m.9 1.8h0m.2-3.1h0m7.3 2.8h0m.1-2.2h0m3.4 2.4h0m2.4-4.1h0m.6 3.9h0m2.7-2.4h0m.5 2.7h0m2.2-.7h0m.4-3.5h0m0 .9h0m2-2.1h0m1.9 1.2h0m1.7 2.9h0m1.9-1.1h0m4.3-2.4h0m1.2 3.1h0m2 1.2h0m3.4-3.8h0m12.6 1.2h0m4.4-1.2h0m.2 2.9h0m1.6-3.9h0m5-.2h0m13.8 2.8h0m2.9 .4h0m12.2-2.7h0m.9-.5h0m34.7-.1h0m42.5 1.4h0m29.7-.3h0m5.1 .5h0m3.9-.7h0m27.1 3.4h0m3.4-2.9h0m4.1 .8h0m4.5 1h0m1.7-1.9h0m6 3.1h0m3-4.3h0m12.7 1.2h0m1.7 2h0m1.2-3.3h0m5.9 1h0m8 2.3h0m1 1.9h0m1.4-2.9h0m1.9 .8h0m2-.4h0m7.2 2.8h0m1.2-2.7h0m.5 1.9h0m.1-4h0m3.8 4.5h0m3.6-2.2h0m2 2.2h0m1.1-5.2h0m.1 2.8h0m1-2.3h0m2.7 4.6h0m.8-.8h0m2.1 .9h0m1-1.2h0m2-1.8h0m1.7-.9h0m2.9 .9h0m.6-1.1h0m.2-1.1h0m2.9 2.5h0m3.1 2.2h0m4-2.5h0m2 2.6h0m.1-2.8h0m5.6 2h0m.9 .9h0m2.1 .2h0m1.1 .6h0m2-3h0m7.3-2.6h0m.7 5.2h0m5.6-4.1h0m17.9 3.7h0m.4-1.6h0m1.9 4.1h0m-2.9 1.7h0m-.2-2.7h0m-6 .3h0m-5 .2h0m-3.1 2.4h0m-1.7-1.9h0m-2.7 4.1h0m-3.9-4.6h0m-1.9 4.2h0m-.7-2.9h0m-2.1 .7h0m-2.2-1.2h0m-1.6 1.8h0m-.9 .2h0m-6-2.9h0m-2 4.3h0m-.6-1.2h0m-1.6 1.6h0m-3.2-2.8h0m-5.9-1.8h0m-1.9 2.5h0m-3-2.8h0m-3.5-.6h0m-.5 5h0m-2 .6h0m-8.5-4.8h0m-1.3 3.9h0m-4.8-3.4h0m-7.1 2.9h0m-22.6-2.6h0m-2.1-1.6h0m-.2 3.2h0m-24.5 .6h0m-158.2 2.1h0m-43.4-4h0m-.6-1.1h0m-2-.5h0m-1 5.6h0m-8.1-5.8h0m-7.4 .8h0m-1.2 0h0m-.5 .7h0m-6-1h0m-5.8 4.4h0m-5.2 .6h0m-2.8-5.7h0m-4.5 .9h0m-3.2 2.4h0m-1.7 1.2h0m-1.6-4h0m-2.1 2.9h0m-.3-2.1h0m-3.6 2.2h0m-3.8 1.8h0m-4-3.7h0m-1.1 2.9h0m-1.2-4h0m-5.3 4h0m-1.2-4.3h0m-3.3 4.1h0m-.8-1h0m-.5-1.9h0m-1.9 2.4h0m-3.7-.4h0m-6.8 .3h0m-1.9-3.1h0m-1.5 3.8h0m-1.2-2.4h0m-2.3 1.8h0m-4.7 1.4h0m-.3-.8h0m-1.4-2.6h0m-.9 0h0m-5.9 3h0m-1.2-1.8h0m-.7-1h0m-.6 2.2h0m-6.8 6.7h0m1.8-4.2h0m1.7-.6h0m8.6 4.8h0m2.1-2.1h0m4.5 1.4h0m1-1.7h0m2.2 .2h0m.7-2h0m1.3 2.7h0m.8 2.4h0m1.4-3.1h0m.6 3.1h0m2.4-3.7h0m1.2 2.2h0m.5-3.8h0m.6 1.6h0m1.3 1.8h0m1.8 1.6h0m0-2.9h0m1 2.6h0m2.9-1.6h0m.8 2.3h0m1.2-5.3h0m.4 2.4h0m2.2-1.8h0m2.6 1.4h0m1.4 3.1h0m.3-4h0m2.1 2.9h0m4.6 .5h0m2-2.4h0m.8-.3h0m3.8 1.5h0m1.4-3.1h0m1.5 1.3h0m.4-1.7h0m4 2h0m1.9 1.8h0m1.5 1.4h0m.1-4.3h0m.8 3.9h0m2.7-2.7h0m7.4-1.6h0m9.1 1.1h0m11.5 2.6h0m.8-1.8h0m1.4-.5h0m6.4 1h0m3.6 .5h0m12.6 0h0m31.8-1.6h0m210.1 2.8h0m1.5-4.5h0m5.5 .6h0m2.3 3.3h0m.3 1.3h0m7.6-1.3h0m.6-3.1h0m2.4-.8h0m.8 4.4h0m2.3-1.9h0m2-2.4h0m1.1 4.2h0m1.8-.4h0m4.2-3.2h0m4.7 2.2h0m4.8-.8h0m2.4 2h0m.1-1.3h0m1.4-2.7h0m3.3 4.9h0m6.2-1.5h0m3.9-.1h0m.1-1.1h0m2.4 2.7h0m.8-3.9h0m.7 1.1h0m1.1-.2h0m2.9 3.4h0m2-3.3h0m2.4 1.3h0m.4 1.6h0m4.8-1.2h0m4.9-.9h0m3.5-1.1h0m3.1-.5h0m3.6 1h0m1.8 2.9h0m4.4-5.1h0m1.2 4.8h0m.8-.4h0m.4-1.5h0m5.1 8.4h0m-1.2-.3h0m-.7-4.4h0m-1.3 2.8h0m-1 1.7h0m-.5-2.3h0m-1.3-2h0m-1.8 4.4h0m-.2-3.8h0m-2.5-.5h0m-2.1 .7h0m-2.6-1h0m-3.5 2.4h0m-1.4 1.1h0m-.5-1.2h0m-1.8-3.5h0m-1.1 .8h0m-5.8 2.6h0m-1.5 1h0m-3 1.2h0m-.5-1.9h0m-3.5 .2h0m-3.2 1.7h0m-4.1-1.5h0m-.6-2h0m-12.9-1.7h0m-1.4 1.7h0m-1.6-1h0m-9.7 .8h0m-1.3 .1h0m-6.3 3.7h0m-3.7 .1h0m-2.2-.3h0m-7.8-1.7h0m-279.7-1.7h0m-25.7 .2h0m-2.7-2h0m-10.8 5.1h0m-.4-3.8h0m-.7 0h0m-.7 3.9h0m-2.2-4.3h0m-3.6-.7h0m-1.5 2.8h0m-.9-1.2h0m-1.6 .3h0m-2.2 1.9h0m-4.4-.4h0m-.4-2.4h0m-.7 .4h0m-1.1 3.3h0m-.7-5h0m-.8 2.2h0m-5.8 1.4h0m-2.6-3.4h0m-.1 4.2h0m-1.9 1.1h0m0-1.8h0m-1.2-2h0m-.2-1.6h0m-.6 5.7h0m-2.8-.4h0m-2.3-3.5h0m-1.7 3.4h0m-.8-.7h0m-.1-3.1h0m-3 .3h0m-.8 2.8h0m-.2-.8h0m-1.5 0h0m-.7-.7h0m-2.5 1.6h0m-5-1.5h0m-4.5-1.7h0m-4.7 .2h0m-.5-1.1h0m-.6 3.8h0m-7.2 6.3h0m.6-1.7h0m.3 2.4h0m.9-2.7h0m.9-1.7h0m2.1 1.7h0m.2-1.6h0m1.1 2.3h0m1.2-1.1h0m3.2 .9h0m1-2.4h0m.5-1h0m4.1 4.6h0m4.5-3.8h0m3.5 .9h0m.1 .3h0m.1 2.7h0m2.2-1.6h0m2.2 2.4h0m1.4-4.2h0m2.7-.4h0m.5 2.3h0m2.5 2.2h0m2 .3h0m.3-4.4h0m1 .5h0m2.4 3.1h0m1 .6h0m3.4-2.2h0m4.4-.6h0m1.9 2.8h0m.9-.6h0m3.2-1.8h0m.2-2.7h0m.6 5.6h0m.9-3.6h0m2.1-.7h0m.1 2.1h0m3.8-2.7h0m6.7-.8h0m.1 5.1h0m2.9-2.9h0m.6-1.7h0m315.8 2.3h0m10-2.4h0m3.3-.5h0m8.7 2.3h0m12.8-2.3h0m6 1.2h0m2-.8h0m.2 2.5h0m2.5 .9h0m4.8-1.2h0m6.2-.4h0m.3 .3h0m4.8 1.1h0m.2-1.4h0m2.2 1.5h0m2.4 1.6h0m4.5-1.8h0m.2-.5h0m1.4 .6h0m3.4 .7h0m2.5-.1h0m.9-1.9h0m.1 2.7h0m.2-4.4h0m1.5 3.4h0m3.6-3.2h0m.9 1h0m2.9 .3h0m.5-1.2h0m.8 3.1h0m.9-.6h0m.1-.9h0m.9-2.1h0m1.7 3.4h0m.4-2.9h0m.5 4.1h0m2.7-3.6h0m.6 .5h0m2.1 2.1h0m4 5h0m-.8 2.7h0m-.2-3.9h0m-.2 2.2h0m-1.9-2.3h0m-.6 3.9h0m-.1-3.1h0m-4.3 1.1h0m-.2 1.2h0m-1.2-5h0m-4.4 3.5h0m-.4-1.7h0m-.1-1.1h0m-3 .7h0m-2-.3h0m-.1 2.9h0m-.9-3.7h0m-.8 2.2h0m-.7-2.4h0m-2 4.6h0m-.3-2.5h0m-1.5 3.4h0m-2.4-4.4h0m-3.5 2.4h0m-2.2 0h0m-1.7 1.9h0m-3.2-2.4h0m-2.8-2h0m-3.3 3.2h0m-.5-2.7h0m-6.2-1.4h0m-.6 2.8h0m-.7-1.8h0m0 2.7h0m-2.4 1.6h0m-1.3-4.8h0m-1.3 1h0m-1.8 2.2h0m-2.5-3.3h0m-3.9-.1h0m-8.2 0h0m-328.5 3.3h0m-14-2.8h0m-3 4h0m-3.9-3.8h0m-3.9 2.2h0m-8.4 .1h0m-3-.6h0m-.7-1h0m-2.2 1.1h0m-.1 2.5h0m-1.9-4.2h0m-2 4.4h0m-1.3-2.6h0m-7.6 1h0m-2-2.1h0m-.8 .2h0m-6.3-.8h0m-3.7 4.4h0m-1.3 .1h0m0-3.6h0m-1.6 3h0m-2.2-1.6h0m-4.1-2.6h0m-5.2 0h0m-6.4-.9h0m-1.2 3.6h0m-.6 1.3h0m-.8-4h0m-1.4-.8h0m-.6 1.7h0m-2.7 3.1h0m-.1-.9h0m-.2-4.1h0m-.9 2.8h0m-1.2 2.9h0m-.6-2.2h0m-1.8 2.3h0m-.1 1.2h0m.4 3.2h0m1.6-.6h0m.6-1.4h0m1.9 .6h0m2.2 .4h0m17.4-2.9h0m3.8 2.5h0m.9 .3h0m3.5 1.1h0m1-2.8h0m.9 4.2h0m0-1.2h0m2.3-2.9h0m3.5 3.8h0m4.3-2.2h0m.4 2.2h0m3.8 .5h0m.6-2.6h0m1.2 2.5h0m2.5-3.2h0m2.3 .1h0m1.3 1.8h0m9.9-2.9h0m5.7-1h0m359.8 3.1h0m17.6-1.5h0m2.8-1.2h0m6.7-.8h0m.3 3.9h0m3.4-.5h0m.3-3.2h0m2.2 5.5h0m1.2-3.6h0m2 3.1h0m0-3.1h0m1 .3h0m2.3 3.1h0m.1-5.1h0m2.1 1.7h0m.6 .1h0m3.8 .3h0m5.1 .1h0m5.6 2.5h0m1.7-2.7h0m2.1 1h0m8.6 2.2h0m.2-2.9h0m.9 1.4h0m.7 1h0m1.6 .4h0m3.2 5.7h0m-1.1-1.8h0m-3.1-1.4h0m-.4 2.8h0m-2.5-4.9h0m-6 4.5h0m-8.5-.6h0m-3.6-2.4h0m-7.7 2.9h0m-.3-2.9h0m-.4 2h0m-1.8-.1h0m-4.4-1.2h0m-1.5 .4h0m-.2-2.3h0m-1.6 1.4h0m-2.1 1.7h0m-7 1.8h0m-5.6 .2h0m-.9-.8h0m-2.3-1.8h0m-12-2.9h0m-364.8 .5h0m-7.5 .3h0m-.5 .9h0m-5.4 1.5h0m-6-.5h0m-1.5-.1h0m-3.2 2.1h0m-1.8-.5h0m-.4-2.3h0m-.8 1.7h0m-2.3-3h0m-1.1 3.3h0m-.6-1.4h0m-1.7 .8h0m-.8-1.7h0m-3.8 .8h0m-2.2 2.8h0m-1.4-3.5h0m-.6 2.2h0m-.4 .4h0m-1.4-.9h0m-1.8-1.4h0m-4.1 3.5h0m-2.6-4.1h0m-5.6 1.6h0m-10.3-1.3h0m-2.1 3.6h0m-1-1.9h0m-1.8-.1h0m-1.1-2.8h0m-.9 4.2h0m-3.7 5.6h0m.7 1.1h0m1.4-4.7h0m1.8 1.8h0m.4-1.7h0m1.7 1.1h0m.3 .3h0m5.9-1h0m2.3-.2h0m1.4 2.7h0m1.5 .8h0m.9-1.8h0m5.1-2h0m1.9 5.2h0m.3-4.6h0m1 .7h0m4.5-.9h0m.8 2.9h0m3.9 1.5h0m2.3-5.1h0m1.2 1.2h0m1.6 3.3h0m.6-2.4h0m1.8-.5h0m.1 2.3h0m1.2 1.4h0m1.9-4.5h0m2.9 1.6h0m2.4-.2h0m1.1-2.6h0m1.5 3.8h0m4.6-.8h0m4.3-2.9h0m9.3 .5h0m384 3.6h0m.9-2.9h0m3-.7h0m2.7 3.1h0m2.2 1h0m1-1.6h0m1.9-1.6h0m4.5 2.5h0m1.4 1.8h0m1-2.1h0m1.2-1.3h0m7.6-1.3h0m1.1 1.3h0m2.1-.2h0m1.2-.3h0m.8 2.4h0m4.7 .3h0m9.1-3.3h0m2.3 .1h0m2.4 1h0m2.4-1.1h0m3.1 2.8h0m1.4-4h0m.8 2.6h0m5.4 4.6h0m-2 .1h0m-2.9 1.7h0m-2.2-2.2h0m-7.6 2.1h0m-.6 2.6h0m-.2-3h0m-9.9-.4h0m-.5 1.6h0m-.2 1.4h0m-3.9-.3h0m-1.3-1.2h0m-2-3.1h0m-1.7 3.7h0m-.1 1.6h0m-1.4-4.2h0m-1.8 3.9h0m-.3-4.1h0m-1.1 3.6h0m-6.5-.9h0m-8.8 .5h0m-2.1-1.5h0m-1.1-.6h0m-1.7-.7h0m-.7 3.8h0m-399.6-1h0m-4.7-3.2h0m-3.3-.4h0m-3.3 4.2h0m-2.9-4.7h0m-.9 5.4h0m-3.7-4.1h0m-1.5 2h0m-3.2-2.6h0m-3.5 3.6h0m-1.9-1.2h0m-1.7 0h0m-4.7-1.6h0m-1.2-1.1h0m-22.3 5h0m-.4-4.1h0m-.3 .8h0m-2.8 3h0m-1.4 4h0m.2 2.3h0m.7-2.3h0m.9 2.1h0m.3-5h0m1.3 4h0m.2-4.1h0m1.9 5h0m1.6-3h0m2 1.9h0m2.3-2.7h0m5.5 3.6h0m2.3-.4h0m0-2.1h0m2.4-2.6h0m4.4 3h0m2.6 1.1h0m3.8 1.4h0m1.5-3.2h0m1.2 1.6h0m1.8-1.6h0m2.2-.4h0m1.7-2h0m2-.2h0m2.8 1.3h0m4.7 2.3h0m.4 1.8h0m3.5-3.7h0m11.5 2h0m2.1 .7h0m3.4 1.2h0m395.1-1.2h0m6.6-3.9h0m4 1.1h0m2.1 1.8h0m4.1 1.6h0m3.2-4.7h0m.1 3.2h0m.7-.5h0m.5 1.4h0m5.3 .5h0m3.5-.4h0m4-1.6h0m1.5-2.1h0m8.6-.1h0m3.1 4.9h0m.8-5.1h0m1.9 2.3h0m2.5-.9h0m5 3.6h0m.5-1.2h0m.5 5.9h0m-.1-.3h0m-.8-.6h0m-1.8-1.7h0m-.4-1.6h0m-.2 3h0m-.8-2.9h0m-.2 4.6h0m-4.2-2.3h0m-.8 .9h0m-.7 2.5h0m-1.2-4.3h0m-1.5 .5h0m-4-2h0m-2.8 4.7h0m-1.2-3.8h0m-.5 .6h0m-4.1 2h0m-2.6 .3h0m-3 1.8h0m-1-.7h0m-.6-2h0m-.6-1h0m-1 .8h0m-1-1.9h0m-4 1.8h0m-2.3-1.9h0m-2.2 3.8h0m-.3-1.2h0m-3.7-2h0m-.2 1h0m-.8-.1h0m-4.7 3.2h0m-.9-3.9h0m-3.8-.8h0m-8.6 4.6h0m-398.2-.7h0m-16.7 .7h0m-5.4-3.2h0m-.7 3.1h0m-1.2-.2h0m-7-3.9h0m-2.4 .3h0m-3.1 3.7h0m-6.2-2.7h0m-2.4 1.9h0m-7-2.2h0m-1.7 .6h0m-3-.9h0m-.1 2.4h0m-.6-1.2h0m-.2 .5h0m-.4-2.9h0m-3.6 .9h0m4.8 5.3h0m3.1 4.1h0m2.9-.9h0m6.3-3.3h0m3.8 4.4h0m1.7-2.6h0m4.6 2.9h0m4.5-3.2h0m2.9 3.3h0m1.1-2h0m2.6-1.7h0m1.1 1.6h0m2.7-3.1h0m5.6 2.5h0m1.8 2.5h0m20.1-2.6h0m414.2-2.6h0m1.1 2.4h0m.1 1.4h0m.7-3.9h0m.9 1.9h0m1.8 3.7h0m3.4-3.3h0m2.3-1.8h0m9.5 3.5h0m10.9 1.5h0m3.4-5.6h0m1.2 5.4h0m4.3 .3h0m.8-4.5h0m.9 7.8h0m-10.9 1.1h0m-2.5-2.8h0m-3 3.6h0m-4.6-2.7h0m-4.1 2.4h0m-.4-1.3h0m-6.3-1.7h0m-.1-1.6h0m-.3 3.5h0m-1.4 .3h0m-1.5-2.5h0m-.3 3h0m-.6-1h0m0 2.4h0m-5.1-.5h0m-6.2 .2h0m-3.8-1.3h0m-3.4 1.4h0m-5.9-.3h0m-401.7 .7h0m-1.8-3h0m-1.4 .8h0m-1.6 .9h0m-5.6 .6h0m-4.7-3.1h0m-.2-1.7h0m-1.9 1h0m-.2-.9h0m-1.3 1.8h0m-1.2 1h0m-.4 2.6h0m-2-2.8h0m-1.2-2.3h0m-2.2 .4h0m-1.5-.7h0m-1.7 2.8h0m-1.9-1.9h0m-1.2 3h0m-.1 1.5h0m-.5-2.5h0m-1.5 2.2h0m-6.4-1.3h0m-.6-1.2h0m-3.2 2.4h0m-.7-4.6h0m-4.8-.3h0m-4.2 3.2h0m-2.2 1.1h0m-.2-3h0m-5.4-1.8h0m6.1 6h0m3.9 .8h0m3.8 1.9h0m4.3 2.5h0m3.1-3.2h0m1.6 .8h0m.3-2.1h0m.4 .6h0m4.6 2.7h0m5.2-1.3h0m4.2-2.2h0m2.5 2h0m6 2h0m0-4.1h0m2.8 3.3h0m.3-.4h0m7.9 1.5h0m2.4 .9h0m400.1-2.6h0m8.6 .1h0m2.4-2.5h0m2.4 1.1h0m3.7 3.3h0m1.6-4h0m.5 1.5h0m1.6 .2h0m.6 1.7h0m1.7-1.7h0m.7 1.6h0m3.7 .8h0m2.4 0h0m1.3-5.1h0m.6 .3h0m0 2.9h0m2.9-1.1h0m5.9-2.2h0m3.6 3.6h0m5.7-2h0m4.1 4.1h0m3.3-1.3h0m6.7 .4h0m-2.9 3.1h0m-.7 .6h0m-.5 2.5h0m-3.4-.1h0m-2.8-3.8h0m-6.3 2.9h0m-1.3-1.7h0m-3.3 2.8h0m-3.2-1h0m-1.3-2.2h0m-4.4 2.6h0m-3.9 .3h0m-1.2-1.2h0m-1.5-2.5h0m-1.1-.9h0m-1.6 1.6h0m-.2-.9h0m-1.1 4.5h0m-1.7-5.3h0m0 3h0m-.8 .6h0m-3.9-.3h0m-1.2-.6h0m-5.7-.3h0m-397.2 2.5h0m-11.3-1.6h0m-2.7 2.2h0m-1-.7h0m-1.5-4h0m-6.6 4.7h0m-4.4-4.6h0m-.4 2.4h0m-.1-3.1h0m-5.1 3.4h0m-1.7-3.5h0m-2.1 4.8h0m-.5-3.2h0m-3.2 1.2h0m-.7 1.8h0m-9.7-4.4h0m-1 5.3h0m-4.2-1.5h0m-4.1-3.3h0m-1.7-.4h0m-2.7 .4h0m-.6 3.2h0m2.1 3.7h0m2.4 .6h0m2.4-2h0m.9 3h0m.7 0h0m3.6-3h0m2.6 1.8h0m3.8 1.8h0m1.9-2.2h0m4.3 3.9h0m.1-5.7h0m.3 .1h0m1.7 3.7h0m2.5-1.1h0m1 1.5h0m1.4 1.6h0m2.2-1.9h0m.3-3.2h0m1.4-.1h0m2.5 1.7h0m.5 3h0m4.5-1.6h0m1 .6h0m4.9-2.2h0m2 1.9h0m1.7 1.1h0m1.1-2.5h0m6-1.4h0m18.2 2.1h0m372-2.1h0m11 2h0m1.5-.1h0m1.2-2.5h0m7.1 1.5h0m3.3 0h0m4.9 .8h0m.6-1.6h0m2.1 3.6h0m1-4.1h0m1.6 3.8h0m.2-.3h0m1.4 .2h0m5.7-.9h0m4.4 2.2h0m9.6-2.4h0m.5-.1h0m2.7 1.3h0m.1-4.1h0m.4 3.9h0m.5-2h0m-2.4 5.4h0m-.3 2.3h0m-1.4-3.5h0m-1.1 1.9h0m-.9-1.1h0m-1 4.2h0m-.4-2.9h0m-.6 2.6h0m-.3-4.4h0m-5.1 2h0m-.2 1.9h0m-.2 .6h0m-.9-2.3h0m-.9-2.3h0m-2.4 2.7h0m-.6 .6h0m-5.4 .7h0m-3.3-4.7h0m-.4 5.8h0m-8.5-2.8h0m-.1-2.2h0m-.3 4.1h0m-1.9 .7h0m-2.3-3.3h0m-.3 2.6h0m-2.1-3.4h0m-.3-1.5h0m-2.9 5.8h0m-1.2-2.8h0m-1.3 2.1h0m-4 .5h0m-3-3h0m-1.6 1.4h0m-383-2.7h0m-7.9 .9h0m-1.1 .3h0m-5.5-1h0m-1.7-.2h0m-1.8 2.5h0m-4.5 .1h0m-.8-1.3h0m-5.1 2.9h0m-.1-5.2h0m-7.6 1.6h0m-.6 3.3h0m-3.4-5.3h0m-12.1 4.9h0m-1.7-1.5h0m-4.2-.1h0m-1.4-2.5h0m-1.2 2.4h0m-.3 1.2h0m-.9-1.5h0m-1.4-.8h0m2.2 4.3h0m1.7 1.1h0m.2-1.5h0m2.6 3.5h0m.5-2.7h0m.3 4.6h0m.9-3.7h0m.1 1.9h0m1.2-1.3h0m2.1-.5h0m.8-.1h0m2.1 1.8h0m.6-1.7h0m2 2.8h0m10 .3h0m2.2-.7h0m.9-4.3h0m3.5 1.5h0m1.8 1.1h0m1 1.9h0m2.9-2h0m1 .5h0m.5-2.4h0m1.4 1.3h0m.9-1.4h0m.5 1.7h0m1.6-.1h0m2.9 .9h0m0 1.7h0m3.3 .4h0m1.9 .5h0m2-1.8h0m3.9-2.9h0m.6-.4h0m1.8 4.7h0m.5-3.9h0m384.8 2.9h0m4.7 .6h0m.8 1h0m.9-2.5h0m1.8-2.6h0m.5 2.9h0m5.5-.1h0m2 1.6h0m1.1-3h0m8.8 2.5h0m1.1-3.7h0m3.1-.8h0m2.4 .9h0m.7 .4h0m3.9 1.2h0m.1 2.7h0m1.2-4.6h0m.4 .8h0m1.5 .8h0m1.3 1.2h0m.4 1.7h0m2.4-.4h0m.2-1.4h0m1.2-2.4h0m2.7 2.1h0m.6 1.9h0m1.5-.7h0m.9-3.5h0m-2.6 6.2h0m-1.4 .3h0m-3.6 0h0m-1.7 1h0m-.5-1.1h0m-1.1 4.5h0m-.3-2.8h0m-.6 2.3h0m-1.4-5.1h0m-1.9 1.1h0m0 3.2h0m-.4-1.6h0m-2.2 0h0m-8.8 .8h0m-7.4-.8h0m-1.6 1.3h0m-.3-2.6h0m-1 3.2h0m-1.4-1.4h0m-.9-2.2h0m-2.9 3.5h0m-3-1.6h0m-.5 2.6h0m-.6-4.1h0m-3.8-1h0m-.7 4.5h0m-2.2-2.2h0m-6.7 1.6h0m-9.4-3.9h0m-1.3 2.3h0m-8.8 1.8h0m-335.5-3.4h0m-1.1 3.2h0m-17.2-.6h0m-2.2-3h0m-2.3 .7h0m-1.9-.3h0m-.3 4.2h0m-4.1-5h0m-2.7 2.1h0m-1.1 1.4h0m-.6-3.1h0m-1.7 4.7h0m-.7-3.4h0m-2.1 .6h0m-.4 .5h0m-.6 1.2h0m-.4-2.9h0m-.8-.5h0m-9.2 4.1h0m-.3-2.5h0m-1.6-.4h0m-3.2 1.1h0m-3.4 1.2h0m-.2-2.4h0m-1.4-1.7h0m-1.9 5.1h0m-1.9-1h0m-.1-4h0m-5.7 4.2h0m-.6-2h0m-.9-2.2h0m-1.4 3.3h0m-1.6-2.3h0m5.1 6h0m1.6 1h0m8.9-1h0m.2 3.8h0m2-3.3h0m.2 3.9h0m1-2.4h0m1.5-3.4h0m5.5 0h0m3.1 5.8h0m2.6-.9h0m1.5-2.7h0m1.3-.8h0m.5 2.3h0m7.9-2h0m2 .2h0m.3 2.8h0m.3-.7h0m.7 1.9h0m3-4.6h0m4 1.7h0m2.3 2.6h0m.6-4.8h0m4.5 1h0m1.2-1.4h0m3.1 1.5h0m2.2 1.5h0m.8-.9h0m6.7-1.2h0m14.4 3h0m8.9-3h0m277.3 .9h0m39.4-.8h0m3.4 1.6h0m.8-.8h0m3.7 1.8h0m1.5-2h0m2.5-.6h0m2.6-.2h0m5.3-.8h0m3.1 2.6h0m1.1 .6h0m2.7-1.5h0m.1 1.8h0m2.2-1.6h0m.5 1.9h0m.1 1.4h0m7.8-5.2h0m6.4 5.1h0m2.3-2.3h0m11.2-.4h0m2.4 2.7h0m.8-2h0m1.6-2.5h0m.7 3.2h0m1.1-3h0m.2-1.1h0m-4.1 7.3h0m-11.6 1.9h0m-10.7-2.1h0m-4 2.1h0m-1.6 1h0m-5.4 .7h0m-1.6-2.6h0m-4.3 .8h0m-11.5-2h0m-4.7-1h0m-5.1 1.5h0m-.1 3.3h0m-2.9-2.7h0m-3 .5h0m-2.5 2.8h0m-4.3-4.1h0m-.7-.8h0m-19.6 3.7h0m-5.9-3.2h0m-6.6 4.6h0m-270.6-3.8h0m-3.8 3.1h0m-11.7-.8h0m-7-1.2h0m-.2-2.9h0m-1 1.2h0m-4-.1h0m-.7 .6h0m-.3 2.6h0m-2.1 .7h0m-3.1-1.5h0m-1.2-1.5h0m-.4 .8h0m-1-2.4h0m-1.9 1.6h0m-3.5-1.3h0m-.6 2h0m-2-1.8h0m-1.2 4.3h0m-3.6-2.1h0m-.4-2.4h0m-2.6 .7h0m-2.1 1.4h0m-2.2 1h0m-.6 1.8h0m-1.3-2.4h0m-2.4-3.1h0m-6.5 5h0m-7.8-1.3h0m-.6-1.6h0m-5.4 1h0m-1.3 1.5h0m-2.5-.9h0m10.9 3.1h0m3.6 3h0m4.7-.9h0m3.1 .9h0m4-3.6h0m3.9 2.2h0m2 1.1h0m4.1-.9h0m3.1-1.3h0m2.8 .8h0m4.5-2h0m1.2 .9h0m.8 .3h0m.2 1.9h0m2.2-2.4h0m1.1 1.1h0m1 .9h0m2.1-3.1h0m1.1 5.5h0m1.6-.2h0m3.1-5.3h0m1.7 3.3h0m3.5-.3h0m.3-.7h0m3.6 .1h0m10.4 1.2h0m12.6 2.2h0m1.5-2h0m8.5 1.8h0m19.6-1.8h0m1.1 1.4h0m167.3 .5h0m25.9-.9h0m8.4-3.8h0m16.4-.3h0m.5 1.5h0m4.7 2.5h0m.6-1.8h0m15.6-.2h0m16.3 .4h0m2.7 1.6h0m1.5-2.9h0m7.9-.9h0m4 .6h0m.1 3.7h0m.4-2.2h0m.7 1.9h0m.6-3h0m2 2.9h0m2.1-3.1h0m.3 3.1h0m.6-4h0m1.9 5h0m2.6-1.7h0m.1-3.7h0m4.8 .6h0m4.5 2.6h0m.7-1.9h0m4.1-1.4h0m3.2 4.7h0m2.5-4h0m6-.7h0m1.5 4.2h0m.5-3.7h0m3.4 .4h0m2 4.3h0m1.8-.6h0m5.1-2.6h0m.7 2h0m2.9-2.3h0m-7.2 6.3h0m-1.1 3.2h0m-.5-4.3h0m-8.5 2.3h0m-3 1.3h0m-2.1-2.3h0m-1.3-2.5h0m-5.6 0h0m-3.3 .3h0m-.2 1.9h0m-2.4 1.7h0m-2.1-2.9h0m-.8 1.6h0m-11.2-1.5h0m-1.7 4.6h0m-1.3-2.7h0m-3.4 .5h0m-.2-3h0m-5.7 2.1h0m-.7 1.6h0m-.9-.3h0m-1.2-2.5h0m-.4 .1h0m-2.8 1.8h0m-1.5-.8h0m-5.5 1.9h0m-1.2-.8h0m-2.7-2.8h0m-4.3 1.5h0m-1.4-1.6h0m-1.9 2h0m-1.7-1.1h0m-2.5-1h0m-5.9-.6h0m-.4 5.7h0m-4.9-2.9h0m-4.1 .7h0m-6 .2h0m-2-.3h0m-8.8 .6h0m-20.2-2.1h0m-77.8 2.7h0m-32.7 .6h0m-14.5-1.7h0m-5.9 1.4h0m-20.8-1.7h0m-2.5 1.2h0m-5.4 .5h0m-25.1-1h0m-2.2-2.9h0m-10.1 1.5h0m-7.7 2.8h0m-.2-2.4h0m-3.8 2.4h0m-2.8-3.3h0m-4.1-.6h0m-11.3-1.1h0m-2.4 .1h0m-.7 4.2h0m-2.1-4.4h0m-.1 3.8h0m-.2 1.7h0m-7.6 .1h0m-.6-4.8h0m-1.6 .4h0m-4.2-.4h0m-2.7 4.7h0m-2.8-1.3h0m-2 .9h0m-5.9-5.2h0m-11.4 1h0m-1.3 4.5h0m-4.9-4.1h0m-.3 4.1h0m-1-3.9h0m-4.9-.8h0m-3.7 4.4h0m-5.9-4.6h0m-5.2-.6h0m12.9 7.3h0m3.6 1.7h0m2.1 .4h0m3.3-1.9h0m3.7 1.2h0m.1-1.3h0m4.5 2.7h0m5.6-2.4h0m6.2 1.7h0m.7 1.8h0m6.4-2.4h0m3.2 1.4h0m3.3-4.3h0m2 2.9h0m3.1-2.5h0m10.2 .9h0m1.5 2.4h0m4.6-1.9h0m9.6 2.4h0m2.8-.5h0m14.2-.6h0m3.8-2.5h0m3 1.3h0m6.2 .5h0m2.5 .6h0m9.8 1.4h0m.8-4.2h0m4.3 5h0m12.6 .4h0m6.7-.5h0m4.6-4.1h0m1.5 .7h0m5.3-1.6h0m8.6 3.5h0m1-2.3h0m5.6 4.3h0m4-3h0m1.6 2.2h0m3 .1h0m35.1-1.6h0m11.7 .3h0m44.3-2.6h0m6.2-1h0m8.4 5.4h0m19.2-.9h0m1.2-2.9h0m2 3.3h0m.5 .7h0m4.3-4.1h0m5-1.1h0m4.1 .3h0m11.3 4.5h0m1.8-.4h0m2.2-3.4h0m1.6-.1h0m2.8 1.4h0m1.2 .1h0m.6 2.9h0m1.1-.6h0m5.5-4h0m3.6 2.1h0m2.6-.6h0m.9-1.3h0m.9 3.7h0m2.8-3.3h0m1.7 2.8h0m2.4-4.4h0m1 3.2h0m6.5 .2h0m2.5-3.5h0m4.4 5.1h0m1.9-3.8h0m.9 1.8h0m3.8 1.9h0m2.2-1.7h0m1.2 .5h0m2.3-2.3h0m6 1.3h0m.5-1.5h0m2.5 4.5h0m.3-4.9h0m4.4 1.8h0m6.5 2h0m5.7-2h0m1.5-1.2h0m2.7-.8h0m.2 3.4h0m-5.3 3.6h0m-3.2 1.4h0m-.7 2h0m-3.1-1.1h0m-5.3-1.8h0m-5.5 2h0m-3-.8h0m-.3-1.9h0m-2.2-.6h0m-.2 2.1h0m-.5 .6h0m-6.7-3.4h0m-9.3 2h0m-.9-1.2h0m-3.7 1.7h0m-2.2 2.1h0m-.9-.3h0m-1.6-1.7h0m-.1 .8h0m-7.4-.7h0m-.5 1.4h0m-.6-2.6h0m-1.4 4.1h0m-4-5.5h0m-.4 2.2h0m-3.3 3h0m-6.3-5.2h0m0 2.7h0m-10.7 .5h0m-2.3 2h0m-1.3-5.5h0m-.2 4.2h0m-.4-1.9h0m-4.6-.8h0m-2.1-.8h0m-2.4 2.1h0m-1.1-2.3h0m-5.9 3.9h0m-1.4-1.3h0m-12.2 2.1h0m-8.4-4.4h0m-.8 4.5h0m-3-1.4h0m-1.7-3.7h0m-2 .7h0m-2.2 3.4h0m-5.8 1.3h0m-15.7-.1h0m-6.7 .4h0m-.3-.2h0m-.4-1.8h0m-2.7 .3h0m-13.2-2.6h0m-7.2 .3h0m-4.1-1.5h0m-7.2 5.1h0m-8.2-.2h0m-1.4-1.6h0m-4 2h0m-15.1 0h0m-1.2-2.6h0m-14.5 2.6h0m-3.8-.8h0m-8.5-1.2h0m-12.9 2.1h0m-.4-3.9h0m-1.1 1.1h0m-6.6-1.2h0m-3.8 .7h0m-2.1-2.2h0m-.3 5h0m-6.3-4.1h0m-1.1 4.1h0m-1.7-4.1h0m-1 2.6h0m-1.4-.9h0m-2.3-1.6h0m-3.7-1.3h0m-1.8 0h0m-.2 4.1h0m-3.2 .4h0m-2.2-2.8h0m-.2 2.2h0m-3.5-3.3h0m-.8 .3h0m-7.1 .8h0m-1.3-.8h0m-.9 3.3h0m-3.5 1.5h0m-3.6-3.6h0m-2.4 0h0m0 2.4h0m-2.7 0h0m-3.9-4h0m-.2 3.8h0m-1.3-2h0m-6.2 1.7h0m-3.5-3.3h0m-3.8 1.6h0m-2.3-.5h0m0 3.9h0m-9.5-1.5h0m0-3.6h0m-1.4 1.5h0m-2.6 3.1h0m-8.6-2.9h0m-2.5 1h0m-18.3 1.1h0m-.5-4.1h0m-1.1 1.6h0m22.2 7.5h0m3 1.4h0m7.6-1h0m.3-3h0m1-.9h0m3.2 4.5h0m3.3-1h0m1.6-2.2h0m4-.1h0m5.5 3.9h0m1.3-4.1h0m2.8 3.4h0m10.1-4.2h0m3.6 1.5h0m5.1 2.1h0m1-2h0m.2-.3h0m3.5 2.2h0m3.6-.6h0m1.7 2.6h0m1-5.3h0m3.6 5.1h0m.4-4.3h0m1.5 .5h0m.2 1.5h0m.5-2.9h0m1.8-.1h0m3.3 3.7h0m1.4 .1h0m4.4-.2h0m1.3 1h0m3.8-1.9h0m.5 2.9h0m2.3-2.4h0m1.5 2.6h0m3.7-2.4h0m1.3-1.2h0m4.7 3.6h0m2.5-3.2h0m.9 1.8h0m1.9 .9h0m1.3 .4h0m.7-2h0m2.8 1.3h0m4-1.3h0m2.1-.2h0m1.1 1.9h0m6.9-1h0m1.8 .9h0m6-4.1h0m.6-1.3h0m4.1 4.2h0m.9 .2h0m.5-1h0m1.6 .2h0m2.2 1.5h0m4.7-4.8h0m5.8 2.7h0m.4 .2h0m1.8 1.9h0m7-2.3h0m.3-1.7h0m7.2 4.8h0m6-.1h0m.3-2.9h0m7.5 2.2h0m2.4 .4h0m.7-4.7h0m4.6 3.6h0m1.5-.7h0m1.8-2.4h0m.9 3.5h0m4.7-2h0m.3 2.1h0m.6-3.7h0m20.7 .1h0m.9 3.5h0m2-4h0m1.8 .6h0m3.8 3.4h0m.7-1.7h0m3 1.5h0m1.1-3.6h0m.2 4.2h0m1.7-2.2h0m1.8 2h0m8.3-5.1h0m1.4 4.2h0m.8-.6h0m3.3-.5h0m3.5 .7h0m2-1h0m.9-2.3h0m1 3.5h0m2.9 1.5h0m1.1-3.7h0m1.9 4.2h0m.7-5.8h0m3.3 3.1h0m1.4-.5h0m1.9-1.5h0m1.7 .6h0m.3-1.5h0m1.1 3.6h0m.7 .6h0m2-.7h0m1.7-1.3h0m.5-1.5h0m6.1-1h0m1.1 .7h0m3.3 1.4h0m6.5 1.7h0m.8-3.8h0m7.6 3.6h0m3.6-2.3h0m3.4 3.9h0m9.1-.4h0m2.2 .7h0m3.6-4.3h0m3.5 2.6h0m2.8-3.2h0m1.5 1.1h0m1.1 1h0m4.6-2.2h0m3.5 1.8h0m6.6 3.2h0m2.5-.7h0m1.7-.2h0m4-.2h0m1.1-3.2h0m.2-.9h0m.8 3.2h0m-2.5 2.8h0m-1 4.8h0m-5-2.1h0m-4.4 2.1h0m-1.7-2.7h0m-.4 1.4h0m-4-.2h0m-1.7-1.4h0m-.4-1.6h0m-5.1-.7h0m-6.6 .6h0m-3.4 2.1h0m-5.4 .5h0m-4.1-1.5h0m-7.6 4.2h0m-3.3-.4h0m-8-.7h0m-.4-3.3h0m-16.2-.7h0m-2.5 3.4h0m-1.1-4.2h0m-1.3 2.8h0m-3.1 .7h0m-3.7 1.8h0m-1.5-4.5h0m-1.4 2.8h0m-5.3-2.5h0m0 4.7h0m-3.5-1.1h0m-3.3-2.9h0m-2.5 .4h0m-.2-1.2h0m-2.7-.8h0m-.9 3.4h0m-3.2-2.3h0m-2.8-.9h0m-2.7 2.8h0m-.8-2.8h0m-1.1 5.2h0m-2.1-4.2h0m-2.4 4.3h0m-3.9-2.3h0m-4.4-3.2h0m-.4 .4h0m-5.5 4.6h0m-3.1 .6h0m-.1-5h0m-2.4 .2h0m-.3 4.3h0m-.2-1.7h0m-1.2-.3h0m-1 2.1h0m-2.5-4.6h0m-2.2 5.1h0m-7.5-.5h0m-.4-4.2h0m-1.3 2.9h0m-1.5 .6h0m-1.8 .1h0m-7.6-.1h0m-.2-3.2h0m-3.8 .7h0m-3.4 .5h0m-9.7 2.7h0m-.8-4.4h0m-3.7 4.6h0m-1.6-.7h0m-1.6 1h0m-6.6-5.3h0m-1.4 4.6h0m-8-2.7h0m-2.9-1.6h0m-.3 2.2h0m-.4 .3h0m-1.1-1.2h0m-.3-.9h0m-.5 3.5h0m-2.7-3h0m-1.8 .7h0m-1.8 .3h0m-7.8-1.4h0m-2.6 .3h0m-1.7 1.2h0m-1.7 1.2h0m-2.1 .9h0m-.4-1.1h0m-1-1.9h0m-6.2 .1h0m-3 .2h0m-.2-1.5h0m-.1 2.8h0m-1.2 1.1h0m-.3 1.1h0m-2.6 .1h0m-3.1-.6h0m-1.1-2.8h0m-.6 2.7h0m-1.7-3.8h0m-7.4-.8h0m-1.4 3.6h0m-.4-3.6h0m-2.6 1.6h0m-6.6 2.9h0m-8.9-3h0m-8.6-1h0m-1.5 1h0m-3.2 .2h0m-7.2-1.7h0m-2.4 3.2h0m-2.5-2.2h0m-12.1 1.1h0m-7 1.6h0m-8.8-.5h0m-2.2-1.1h0m-2.3 3.1h0m-4.8-4.6h0m-5.3 2.2h0m-1.8-.4h0m-2.6-2.7h0m-.2 3.4h0m-2.2-2h0m8.2 8.8h0m2.5-1.4h0m2.6-1.6h0m1.8-1h0m5 1.8h0m3.5-1.8h0m.8 4.7h0m1.2 .1h0m6.6-.2h0m5.9-1.7h0m2.1 2.4h0m.2-3.7h0m5.1 1.5h0m10.6-2.2h0m.5 4.1h0m3.5-.1h0m2.8-.9h0m1.7-1.2h0m.5 1.2h0m1.9-1.8h0m2.5-1h0m5.9 2.3h0m1.9-.6h0m8.1-2.4h0m2.6 4.3h0m18.6-4.2h0m1 2.5h0m.6-2h0m5.7-1.4h0m1.6 4h0m3.5-2.8h0m1.9-.7h0m.1 3h0m1.6-3h0m4.3-.2h0m.3 4.6h0m1.9-4.3h0m4.4 .3h0m1.1 1.6h0m2.4-1.4h0m1.9-.1h0m1.3 2.5h0m2.5 1h0m8.4-1.4h0m2.6-2.9h0m4.3 4.1h0m.7-3.1h0m1.1-.3h0m.4 2.4h0m.9 .7h0m1.5-.7h0m3 1.8h0m.3-3.2h0m1.4 2.2h0m1.8-.5h0m1.8-1.5h0m1.9 .2h0m.1 2.8h0m.3-1h0m1.7-1.5h0m2.1 1h0m2.4-.1h0m.8-.6h0m0-2.5h0m2 2.7h0m1-1.7h0m2.6-.6h0m1.8-.8h0m.3 3h0m2.6 1.8h0m4.9-.2h0m5.4-1.4h0m.8-2.2h0m2.8 4h0m1.1-3h0m4.6 3.1h0m4.3-5h0m.6 .6h0m.2 4.7h0m7.7-.8h0m4.9-1h0m1.6-2.8h0m2.1-.1h0m1.7 1.7h0m2.3 2.9h0m.5-.6h0m3.1-3.7h0m3.2 4.1h0m.8 0h0m5.2-5h0m6.5 .3h0m1.4 2.5h0m9.8 2.3h0m.7-3.6h0m1.3 3.7h0m1.8-2.6h0m.6 .9h0m.7 .7h0m6-4.4h0m.6 1.6h0m.4 1.1h0m19.2-.2h0m2 .9h0m6.1-1.9h0m5.1 2.8h0m.8-.5h0m1.6-1.1h0m4 2h0m2.8-3.7h0m7.7 0h0m3.1 2.7h0m3.7 1.3h0m.3-.7h0m9.9-1.3h0m.8 2.9h0m5.2-.2h0m7.7-4.8h0m-14.3 6.7h0m-2.4 0h0m-8.2 1.9h0m-4.4 1.9h0m-1.5-.2h0m-3.8-.7h0m-2-1.6h0m-.4 2.2h0m-2.2-2h0m-.5-1.6h0m-4.6 2h0m-2.1-.8h0m-.4 2.2h0m-3.8-2.4h0m-3.2 3.2h0m-1.2-1.6h0m-1.4-2h0m-1.3 3.7h0m-3.5 0h0m-5.1-5.8h0m-2.8 1.1h0m-.5 1.3h0m-1.3 1h0m-6.9-3.2h0m-4.6 .5h0m-9.4 4.9h0m-3.9-5.5h0m-1.6 5.1h0m-7.6-1.6h0m-.1-1.9h0m-1.7-1.4h0m-5 .2h0m-5.1 3.7h0m-3.1 1.5h0m-7.5-4.5h0m-13.1-.9h0m-1.2 .3h0m-2.6 2.4h0m-5.8-.8h0m-8.6 .8h0m-2.6-2.6h0m-.8 .1h0m-2.8 2h0m-3.5-2.2h0m-1.8 4.7h0m-.6-.8h0m-10.4 1.4h0m-3.2-5.1h0m-2 .7h0m-2.3-.1h0m-1.2 4.3h0m-1.3-.2h0m-.6-4.8h0m-2.8 5.5h0m-2.5-1.3h0m-2-1.7h0m-8 .2h0m-1.2 2h0m-6.8-5.1h0m-7.7 .2h0m-1.8 3.6h0m-2.1-3.6h0m-4.2 .4h0m-4.5 5.1h0m-8.2-2.4h0m-2.4-3.3h0m-.9 0h0m-.6 2.5h0m-.7 1.7h0m-8.3-1.1h0m-9.1-.5h0m-1.5 2.5h0m-.6-3.5h0m-.5-.7h0m-13.3 1.5h0m-1 .9h0m-11.8-2h0m-3.6 .8h0m-.5-1.3h0m-3.2 1.7h0m-4.1-1.4h0m-19.2 2.7h0m-8-.1h0m-1.9 .6h0m-2.7-.5h0m-6.5-1.9h0m13.9 4.9h0m16.7 4.2h0m9.5-4h0m3.2 3.1h0m3.9-2.5h0m10.3-1.3h0m3.3 2.5h0m.2-1.5h0m2.1 3.4h0m1.7-4h0m7.7 1.7h0m1.4 3h0m.4-2.7h0m6.7-1.2h0m.3 2h0m1.6 1.3h0m.5-3.6h0m3.9 1.9h0m3-1.2h0m2.8 3.8h0m.8-3.4h0m.6 2h0m3.4-3h0m2.9 2.3h0m.6-.1h0m9.1 1h0m3-.5h0m13.8 1.4h0m18.4 .4h0m4.2-2h0m5-1.9h0m5.9-.7h0m2.2 4.4h0m.8-2.6h0m1.8 .4h0m4.3-1.8h0m5.2 1.7h0m5.5 .4h0m1.2 1.1h0m4.6-1.8h0m6-2.7h0m1.7 4.2h0m5.2-4.4h0m10.9 .6h0m.9 4.2h0m1.7-1.5h0m2.7-1.9h0m9.8 2.9h0m2.8-.3h0m0-3.2h0m4.7 2.1h0m2.6 2.8h0m.1-5.7h0m3.7 .5h0m3.1 .9h0m2.5-1h0m1.7 4.6h0m1-.6h0m7.8-2.8h0m5.4-.5h0m2.9 3.7h0m2.3-1.3h0m.3 .7h0m4.3 1.5h0m.3-.8h0m5.3 .5h0m1.6-4.1h0m1.6-.4h0m0 1.4h0m11.1 .1h0m5.5 1.1h0m2.8-3.5h0m1.9 .7h0m2.5-.7h0m4.2 2.4h0m2.8-1.6h0m2 3.8h0m2.1-1.9h0m-5.4 4.7h0m-4.5 2h0m-2.1 1.7h0m-4.9-4.2h0m-2 1.6h0m-5.8-2.4h0m-3.6 2.6h0m-1.8-2.4h0m-.2 2.8h0m-10.2-.5h0m-8.6-2.5h0m-3.3 2.2h0m-2.7 1.7h0m-1.4-3.5h0m-13.8 4.3h0m-4.2-4.2h0m-2.8 4.8h0m-2.5-3.7h0m-.1-.6h0m-3.7 1.5h0m-5.1-1.9h0m-1.2 2.3h0m-6.9 .5h0m-7.3-2.7h0m-15-.8h0m-3.7 1.7h0m-13.5 3.5h0m-.9-.2h0m-4.7-4.3h0m-1.2 1.8h0m-3.2-1.5h0m-1.7 1.4h0m-2.5 2.8h0m-1.3-3.9h0m-.2-1.1h0m-2.1 3.1h0m-4.3 .2h0m-1.2-2.2h0m-1.5 4.3h0m-2.2-2.9h0m-2.1-.2h0m-1.7 .5h0m-1.3 .9h0m-.8 1.4h0m-4.3-1.8h0m-3.7-.1h0m-1.2 .4h0m-.2-3.6h0m-5.3 .2h0m-1.8 3.4h0m-7.9 .9h0m-5.9 .8h0m-4.3-2.9h0m-.4-2.3h0m-2 2.1h0m-1.4 3.2h0m-15.6-1.9h0m-.3-.7h0m-3.4 .4h0m-4.8-1.8h0m-4.2 3h0m-.6-3.1h0m-.7 1.9h0m-5.4-1.5h0m-2 3.1h0m-2-2.4h0m-2 2.8h0m-4.2-2.3h0m-10.5-1.8h0m-5.8 2.7h0m-18-2.6h0m18.3 7.4h0m.2-.9h0m5 0h0m.2-1.8h0m4 5.1h0m2.9-5.1h0m2.9 2.7h0m2.1-1.2h0m9.5-.2h0m.7 1.3h0m3.8-.5h0m16.9-2.3h0m2.7 5h0m.2-1.4h0m18.6 2.1h0m8.4-1h0m.5-1.7h0m3.6-2.1h0m2.1-.1h0m1.1 1.9h0m1.3-.1h0m.6 1.9h0m.2-4.3h0m6 1.6h0m3-1.6h0m2 2.2h0m7.4-1.6h0m2.8 5.1h0m1.5-.6h0m4.9-3h0m6.2-.5h0m6.4-1.4h0m.3-.4h0m1.2 2.4h0m2.8-1.6h0m9.4 1.2h0m3.1-.2h0m2.3 3h0m3.5-2.1h0m2.1 3h0m12.8-1.4h0m1.3-1.7h0m12.5-.9h0m7.2 3.1h0m3.5 .9h0m5-2.6h0m1.3 .5h0m6.1-2.2h0m.9 3.4h0m3.9-4.2h0m.7-.2h0m1.3 3.1h0m1.1 .5h0m.5-1.2h0m2-.1h0m.5 1.4h0m17-3.1h0m4.7 3.1h0m2.5-1.5h0m1.5-.1h0m.2 2.6h0m3-2.6h0m1 2.4h0m1-4h0m3.7 2.6h0m-10.8 4.1h0m-2.7-.6h0m-3.5 .3h0m-5.2 4.1h0m-.8-1.4h0m-1.3-2.7h0m-5.7-1.1h0m-2.3 1h0m-3.8 .9h0m-11.1 3.1h0m-2.9-2.9h0m-.8-.7h0m-9.4 4h0m-2.8-5.3h0m-4.5 5.5h0m-4.2-1.4h0m-3.6-3.4h0m-5.1 .7h0m-.2 1.8h0m-10.8-3.6h0m-1.5 3.9h0m-1.2-1.7h0m-8.4 0h0m-.3 3.8h0m-2.8-1.3h0m-.4-4h0m-1.2 .1h0m-4 .3h0m-2.4-.2h0m-1.2 4h0m-.7-3.5h0m-2.3 3h0m-1.3-4.1h0m-1.1 1.4h0m-3.2 .8h0m-6.9-1.6h0m-3.6 4.9h0m-12.5-3.9h0m-1 2.2h0m-4.1-2.4h0m-11.5 2.4h0m-5.8-.4h0m-6.8-1.1h0m-5.1-1.2h0m-1.4 4.2h0m-2.6-2.2h0m0-3.1h0m-1.4 5h0m-2.8-3.8h0m-.9 4.3h0m-3.5-4.2h0m-11.3 3.6h0m-.3-.7h0m-5.7-1h0m-3.8-.9h0m-2.3 2.6h0m-1.2 .8h0m-2.3-4.9h0m-1 4.3h0m-1.1-4h0m-1.5-1h0m-2.4 .2h0m-1.7-.5h0m-3.2 3.5h0m-4.8-1.2h0m-.3 .7h0m-1.2-1.2h0m17 4.7h0m9.3 5.2h0m8.7-1.1h0m3.2 1h0m3.3-1.3h0m8.3-4.2h0m2.3 3.8h0m4.1 .2h0m12.8-2.4h0m3.5 .7h0m2-.9h0m.6 2h0m5.9 2h0m.1-4.2h0m5.1 4.6h0m.2-1.7h0m.1-2.4h0m2.4-.5h0m11.6-.1h0m6.6 4.4h0m1.3-2.4h0m4-2.1h0m3 .2h0m1 4.2h0m3.1 .3h0m.8-3.7h0m.7-.8h0m5.6 .2h0m2.1 3.2h0m4.6 .9h0m3.1-1.2h0m0-4.5h0m6.1 1.2h0m.2 4.5h0m2.7-5.4h0m12.8 .9h0m5.1-1.1h0m.2 5.1h0m3.3-4h0m13.8 1.8h0m1.3 1.7h0m4.8-2.5h0m2.4 2.8h0m.2-3.3h0m1.9-.6h0m1.3 4.4h0m2.9-.7h0m2-1.6h0m2.2-2.2h0m5.7 .1h0m5.4-.8h0m5.1 .2h0m-29.3 6.2h0m-2.1 1.6h0m-13.3-.9h0m-1-.5h0m-9.5-.6h0m-.2 5.6h0m-3.1-2.8h0m-.8-.5h0m-3.5 1.6h0m-3.3 .2h0m-6.6-.3h0m-5.1-1.3h0m-4.3 3h0m-1.8-.1h0m-1.1-5.2h0m-4.4 4h0m-2 1.2h0m-11.4 .3h0m-7-5.7h0m-5.5 1.8h0m-.7 3.4h0m-2.2-1.5h0m-5.1-3.3h0m-.2 3.3h0m-6.6 .7h0m-.7-2.3h0m-3.1-.8h0m-10.1 3.1h0m-.1-4.3h0m-.8 .7h0m-1.9 4.8h0m-1.1-2.7h0m-1.5 .9h0m-8 .9h0m-3.3-4.9h0m-.6 5.1h0m-1.4-4.8h0m-4 4.7h0m-9-2.5h0m-1.2 1.9h0m-11.3-3.1h0m29.2 5.5h0m2.6 1.9h0m6.7-1.9h0m.3 1.5h0m5.9 .4h0m2.9 2.3h0m.8-3.3h0m2.9 1.4h0m7.1-.8h0m6.6 1.9h0m17.2-1.3h0m.2-2.1h0m.8 1.4h0m2.6 .9h0m1.6-1.9h0m1.8 1.4h0m3.2 2.1h0m3.9-2.2h0m.3 2h0m2.7-3.7h0m6.3-.1h0m3.3-.3h0m2.9 5.1h0m9.5-2.2h0m6.3-2.1h0m2.9 2.1h0m9.2-.9h0m-55.2 4.8h0m-20.9-.6h0m-7.8 .5h0" fill="none" stroke="#1d1813" stroke-width="1.00" stroke-linecap="round"/>
<path d="M0 0m370.9 143.9h0m-6.4-.3h0m-.8 0h0m-5.4 .4h0m-4.1-.1h0m-3.1-.1h0m-31.9 5h0m15.2-.5h0m.9 1.6h0m2.1 0h0m.9-3.3h0m.4 1.7h0m2.6-1.2h0m4.1-.5h0m.6 1.4h0m8.9 2h0m1.3-1.1h0m2.3 .1h0m2-3.5h0m6.7 2h0m8.9-.8h0m.7 1.3h0m.9-2.2h0m2.3 3.9h0m2 0h0m2.6-.6h0m.9-3.3h0m.4 4h0m3.2-1h0m.4-3.9h0m3.4 2.2h0m.7-.9h0m5.3 2.4h0m2.2-.3h0m9.4 .4h0m1.8 .8h0m7.3-.9h0m1.3 1.2h0m20.3 5.2h0m-.9-.8h0m-7 .3h0m-1.8-.8h0m-2.2-.7h0m-5-2.3h0m-1.6 2.5h0m-2.8 2.4h0m-9-3.9h0m-5.6 1.9h0m-1-.2h0m-1.7-1.2h0m-4.2-1.8h0m-1.8 1.8h0m-16.5 3.7h0m-1-3.9h0m-4.7 .9h0m-.9 1.8h0m-.1-4.3h0m-2.3 3.9h0m-1.1-.8h0m-2.3-2.1h0m-2 1.4h0m-2.7 1.1h0m-1.1 .8h0m-1.5-.7h0m-.8-2.4h0m-1.5-1.3h0m-1.5 3.6h0m-5 .1h0m-5.6-3h0m-1.7 3.5h0m-2.2-3.2h0m-1 4.6h0m-1.4-2.3h0m-10.3 1.9h0m-2.9-1.5h0m-3.5-1.7h0m-.2 3.7h0m-1.5-.2h0m-1.3-1.3h0m-1 1.5h0m-3-.7h0m-.6-1.3h0m-.8-1.3h0m-2-2.2h0m-.9 4.4h0m-4.9-.9h0m-.4-1.7h0m-5.2 1.8h0m-.2 1.8h0m-27.2 5h0m11.6-1.6h0m7 .6h0m.2-1.5h0m1.5 1.8h0m.4 .9h0m1.6-3.5h0m10.6 .8h0m.6 .4h0m2.6 1h0m1.1 1.3h0m1.1-2.6h0m8.9 2.3h0m3-4.4h0m.2 1.9h0m6.7 .2h0m0-1.9h0m1.8 4.5h0m1.9-1.4h0m1.6-3.2h0m4.3 1.2h0m3.7-1.1h0m.3 1.4h0m.8 3.8h0m3.2-3.1h0m4.1 .3h0m1.8-.9h0m.9 2.5h0m1.2-3.6h0m.7 4.6h0m1.1 .3h0m.4-2.6h0m1.8 1.2h0m2.2-1.5h0m3.1-.8h0m4 1.8h0m2.7-.2h0m3.7-.5h0m1.9-2.9h0m.1 4.5h0m4.7 .3h0m2.7-1.5h0m.7 1.8h0m1.7-.9h0m5.2 0h0m1.4 0h0m1 .5h0m.3-2.1h0m6.6 2.2h0m.1-5.2h0m6.2 2.2h0m1.7 .2h0m1.2-2h0m2.8 3.4h0m2.5 .2h0m3.3-.6h0m2.3-1.4h0m.6 3.2h0m1.9-1.9h0m3.4-.5h0m4.3 1h0m15.8-2.6h0m2.7 1.7h0m2.1 1.9h0m.6-2.5h0m7.7 2.7h0m16.6 5.1h0m-1.3-1.4h0m-.7 1.3h0m-3-.4h0m-.7-1.4h0m-2.5 1.7h0m-.2-2.8h0m-1.6 .9h0m-1.2-.6h0m-13.5 .9h0m-1.7-.2h0m-5-1.4h0m-5 .7h0m-3.4 .8h0m-4.9 3.7h0m-.1-4.5h0m-11.2 1.6h0m-4 1h0m-.2-2h0m-.3 3.7h0m-3.8-5h0m-13.7 3.7h0m-2.5-4.1h0m-.2 4.8h0m-4.1 .3h0m-1.4-3.5h0m-1.5 2.8h0m-5.5-3.5h0m-.3 2h0m-.3-2.8h0m-3.9 .7h0m-.5 3.5h0m-1.5-.3h0m-3.2-1.8h0m-2.5 2.6h0m-1.4-3.5h0m-2.2-.5h0m-.7 1.5h0m-1.1-.6h0m-1.6 3.8h0m-2.8-5.5h0m-.5 1h0m-2.7 .1h0m-3.8 4h0m-.3-1.7h0m-3 1.9h0m-.4-3.6h0m-.9-1.7h0m-2 .4h0m-1 4.3h0m-2-.4h0m-.4-2.3h0m-1.7-.3h0m-.7 1.3h0m-4.4-.9h0m-5.2 1.4h0m-3.8-3.4h0m-4.8 5.3h0m-1.5-3.3h0m-4.2 .7h0m-8.4-2.8h0m0 5.1h0m-2.8 .5h0m-4.4-4.4h0m-1.7-.9h0m-1.1 3h0m-2.4-.4h0m-13.2-2.3h0m-1.5 .2h0m-.3 1h0m-3.9 2.2h0m-.8-1.9h0m-2.7 0h0m-1.3 2h0m-1.3 .7h0m-3.5-2.4h0m-.5 1.4h0m-8.3 .7h0m-4 .6h0m-13 4.4h0m5.3 2.1h0m1-.9h0m.2-1.5h0m.5-2.8h0m2.7-.2h0m1.4 4.9h0m1.7 .2h0m4.3-2.5h0m1.3 .4h0m7.5 .1h0m1.4-2.3h0m4.7 3.9h0m3.3-1.9h0m2.4-.5h0m1.6 .1h0m1.9 2.6h0m2.4-.9h0m2.6 .9h0m2.8-.1h0m.9-2h0m1.1 .7h0m2.1 .6h0m.5-2.9h0m.6 2.3h0m3.1-1.7h0m2-1.1h0m2 1.9h0m1.9 2.4h0m1.5-1.5h0m2.1-.2h0m.4-.1h0m.9 1.4h0m1.6-3.8h0m1.1 1.3h0m1.8-1.2h0m1 3.3h0m2-.4h0m.1-2.4h0m1.8 .8h0m.4-.9h0m5.8 1.5h0m.1-2.9h0m1.8 2.4h0m7.6 .3h0m.5-.9h0m3.7 2.7h0m4.7 .4h0m1.9-1.4h0m2.9 1.5h0m2-3.3h0m1 1.9h0m.1 .2h0m2.4-1h0m8 0h0m5.4-1.2h0m.9 1h0m.5 1.4h0m3.5-.8h0m2.5-1.9h0m.4 .9h0m.2-.3h0m3.1 1.6h0m2.2 .6h0m.2-.9h0m.1-1.4h0m4.8 3.3h0m4.6-.9h0m2.3 1h0m1.4-3.9h0m5.3 2.6h0m2.1 .8h0m6.8-3.3h0m.4 3.7h0m7-1.7h0m1.9-3.7h0m5 2.9h0m.2-2.8h0m1.6 1.5h0m.8 1.1h0m.2-2.1h0m1.4 3.2h0m2.4-1.9h0m5.4-1h0m3 4h0m5.1 .7h0m1.7-.9h0m1.6 .4h0m1.4 .5h0m1.3-.2h0m.2-2h0m13.6 1.4h0m3.3-4.7h0m3.3-.3h0m1 5.7h0m.9-1.2h0m7.4-4h0m4.8 1.8h0m3 3h0m21.2 6.2h0m-13.5-1.3h0m-2.3 1.6h0m-1.8-5.8h0m-8.8 .9h0m-1.9-.8h0m-1.9 4.5h0m-.6-.7h0m-2.8 2h0m-.3-4.5h0m-1.7-.5h0m-1.1 4.2h0m-3.3-2.8h0m-3.6-1.6h0m-.1 1.9h0m-9.2 2.6h0m-4.2-2.6h0m-.2 1.6h0m-1-1.9h0m-1.5-1.6h0m-.8 3.4h0m-1.5 0h0m-1.2 .5h0m-2.2-.6h0m-.6-2.2h0m-3.8 4.1h0m-3.2-3.5h0m-1.3-2.3h0m-1.1 .4h0m-2.7-.4h0m-1.6 .3h0m-.6 4.4h0m-.8 .9h0m-2-2.2h0m-4.9 1.4h0m-7.3-2.6h0m-1.2-.7h0m-.3 .2h0m-5.8 .2h0m-.3 3.6h0m-.2-1.6h0m-.5 2h0m-.5-3.1h0m-3.8-1.5h0m-3.1-1h0m-.2 4.1h0m-.4-2.6h0m-1.7 1.1h0m-.2-2.4h0m-2 1.5h0m-2.4 1.4h0m-1.8 1.3h0m-1.3-4.6h0m-.9 5.1h0m-1.4-3.6h0m-6.2 2.7h0m-2.9 1.6h0m-3-3.5h0m-1.9-.2h0m-.4-2.3h0m-.7 3.2h0m-6.4-.9h0m-1.1 3.5h0m-.4-.2h0m-4.6-3.1h0m-4.4 .3h0m-1.8 .3h0m-.3 2.1h0m-.9 .2h0m-.7-1.3h0m-1.1 .8h0m-1.2-4.6h0m-2.9 4.9h0m-.9-3.3h0m-2 4.1h0m-2-1.6h0m-.8 .2h0m-2-.4h0m-2.8-3.6h0m-.7 4.9h0m-1.3 .3h0m-1.4-5.6h0m-2.7 2.9h0m-1.3 1.2h0m-3.7-3h0m-1.6 1.8h0m-1 1.6h0m-2-2.1h0m-2.3-2.2h0m-2.1 2.8h0m-3.7 1.1h0m-6.8-3.6h0m-.4 4.6h0m-.1-4.3h0m-1.5 1.1h0m-3.8 3.4h0m-2.5-2.1h0m-1.6-3.3h0m-2.6 1.2h0m-.3 1.2h0m0 1h0m-3.1 2h0m-2.1-.3h0m-.3-3h0m-1 2.1h0m-1.7-3.2h0m-3.2 3.8h0m-2.1-4.2h0m-.9 4.8h0m-6.2-1h0m-.4-4.4h0m-2.6 4.6h0m-4 1.1h0m-.8-.4h0m-1.8-4.1h0m-8 3.2h0m-2.2 1.1h0m-.1-2.8h0m-1.7 1.1h0m-8.6 2h0m-.7-1.7h0m-2.5-3.2h0m-2.2 .1h0m-4.3 4.5h0m-4 .3h0m-12.7 4.7h0m5-1.3h0m1.9-.3h0m2.9 .4h0m7.2-1.6h0m1.3 .8h0m2.8 1.9h0m1.3 1h0m.3-4.1h0m6-.3h0m.6 2.6h0m4.8-2.4h0m.7 3.1h0m.1 1.6h0m4.4-2.2h0m4.2 1.3h0m.5-2.3h0m1.8 2.7h0m1.2-2.7h0m1.7 2.2h0m1.4-4.1h0m5.3 2.6h0m2.7-1.5h0m8 2.8h0m2.1-.2h0m3.1-2.9h0m.5 4h0m.5-2.4h0m1.8 .5h0m1.5 1.6h0m2.5-3.3h0m.2 1.8h0m1.5-1.6h0m1.3 3.7h0m3.1-4.2h0m.3 1.9h0m2.4 1.8h0m1.4-.9h0m2.9 1.4h0m1-3.9h0m1.4-.4h0m1.8 2.1h0m.7-2.8h0m1.8 3.8h0m.2-2.6h0m1 1.9h0m1.1 1.6h0m1.4-4.5h0m2.7 3.6h0m.3-2.8h0m.4 2h0m1.4-1.5h0m1.3 2.4h0m3.1-4h0m1.5 .3h0m.9-.8h0m3.5 5.2h0m1.9-1.8h0m.6 1.1h0m10.9-4.5h0m1 .8h0m.6 4.6h0m.2-2.7h0m1.7 1.1h0m.7 1.7h0m2.3-.2h0m.6-2.5h0m1.4-1.1h0m3.1-.2h0m1-.1h0m1 .8h0m3.1 2.6h0m1.3-3.9h0m.3 3.6h0m1.8-.4h0m3-1.2h0m2.4 1.9h0m2.2-1.8h0m1.2 1.3h0m1.7-3.2h0m3.2 3h0m1.7-.9h0m6.2 1.9h0m6.6-.9h0m1.2-3.7h0m1 4.8h0m1.5-1.1h0m.1-1.2h0m.9-3.3h0m.8 1.4h0m.3 3.9h0m2-4.7h0m2.9 5.1h0m2.4-.8h0m1.5-.7h0m1.1-2.6h0m.9 1.9h0m1.8-.4h0m.6-.7h0m.8 3.4h0m.6-3.4h0m.9 2h0m1.3-4.4h0m.1 1.8h0m1.2 .7h0m2.3-1h0m1.8 .3h0m2 2.7h0m5-.2h0m3.1 1.3h0m1-2.8h0m0 2.6h0m2.4-4.6h0m1.2 .8h0m.4 2.3h0m2.2-.6h0m1.6-1.5h0m1.6 2.2h0m2.5 .7h0m5.2-.9h0m1.9-3.3h0m1.5 2.9h0m.4 1.3h0m.2-2.8h0m2.1 3.6h0m3.7-2.4h0m6.5-2.7h0m2 2.7h0m3.4-.4h0m1.5 2.2h0m2.3-1.5h0m7.3-1.7h0m1.4-1.3h0m1.4 1.6h0m6.2 .9h0m8.6 1.3h0m1.6-1.3h0m2.5 2.6h0m3-2h0m27.7 8.1h0m-2.8-.9h0m-1.9 .6h0m-.9-3.3h0m-7.6 .5h0m-.7 2.5h0m-6.8 .4h0m-.6-2.5h0m-.7-2.7h0m-4.3 2.8h0m-1.4 .6h0m-3.7-2.2h0m-2.4 4.1h0m-2.2-3.8h0m-.8-.6h0m-2.2 4h0m-6.8-1.8h0m-1-2.3h0m-1.1 2.4h0m-.2-.9h0m-1.8 .4h0m-.7 2.7h0m-1.1 .2h0m-2-.7h0m-3.9-.9h0m-.3-1.3h0m-1.6-1.3h0m-6 3.5h0m-1.1-3h0m-.9 1.2h0m-.8-2.2h0m-2.2 3h0m-.2-3.5h0m-2.4-.1h0m-1.2 2.2h0m-.1 .7h0m-1.1 0h0m-1.2-2.5h0m-1.3-.5h0m-3.7 .8h0m-1 4.6h0m-1.1-3.9h0m-.3-.9h0m-1.9 4.7h0m-.2-1.4h0m-1.3-1.9h0m-.4-1.3h0m-1.4 1.8h0m-1-2.1h0m-3.7-.4h0m-.8 3.9h0m-.2 1.5h0m-.9-1.6h0m-2.3-4h0m-.7 5.3h0m-.5-2.9h0m-2.6 2.3h0m-1.6-2.3h0m-.9 .3h0m-.1 3h0m-1.5-.8h0m-.5-4.8h0m-.4 2.7h0m-2.5-2.6h0m-2.3 2.2h0m0 3.1h0m-.5-2.4h0m-1.4 1.9h0m-.2-4.1h0m-2.1-.2h0m-.9 2.3h0m-.6-2.8h0m-1.7 2.6h0m-1.7-2.2h0m-3.9 4h0m-3-4.6h0m-.2 2.1h0m-.4 1.7h0m-.8 1.6h0m-.6-3.6h0m-6.5-.8h0m-2.4 4h0m-.2-4.7h0m-.8 2h0m-.2-1.6h0m-1.6 1.3h0m-.6-1.4h0m-.7 1.3h0m-.3 1.4h0m-.5-.5h0m-.5 .3h0m-1.4 0h0m-2 1.3h0m-.3-2.6h0m-1.5 2.2h0m-.9-2.3h0m-.9-.8h0m-1.8 1.7h0m-.7-2.9h0m-.6 3.5h0m-1-3.3h0m-1.8 4.9h0m-1.2-3.2h0m-.6 4h0m-1.7-5.4h0m-.9 5.2h0m-2.2-5.1h0m-2 4.7h0m-3-4h0m-.9 .5h0m-.8 2.5h0m-1-2.4h0m-1.9 2.7h0m-.2-1.5h0m-.6 2.1h0m-2.4-1.4h0m-.2-2h0m-1.8 3.8h0m-1-2h0m-3.2-3.4h0m-5.1 2.6h0m-.9 2.6h0m-3.8-1.2h0m-2.5 1.4h0m-1.5 0h0m-.9-1.7h0m-1 1.5h0m-.3-3h0m-3-1.6h0m-2.6 1.3h0m-1.6-.7h0m-.1 3.2h0m-1.2-2.8h0m-1 3.5h0m-.6-4.4h0m-2.1 1.8h0m-1.1 1.2h0m-2.3 1.2h0m-.1-2.6h0m-.8 3.2h0m-1.5-5.3h0m-.6 1.9h0m-3 1.4h0m-.1 1.5h0m-.5-3.4h0m-1.2 2.1h0m-2.2 .9h0m0 .4h0m-.5-2.4h0m-.3 1h0m-2.1-3h0m-2 5.1h0m-2.3-1.1h0m-1.1-1.7h0m-.6 .8h0m-.1 1.5h0m-2.4-4h0m-3.1 2.3h0m-2.1 .7h0m-3.4-.4h0m-.1-2.8h0m-1.1-.1h0m-2.6 3h0m-1.2-1.4h0m-.7 2.6h0m-2.8-.6h0m-.4 .9h0m-.2-3h0m-3.4 2h0m0 1.1h0m-4-5h0m-2.6-.7h0m-.5 1.9h0m-.7 .6h0m-.6 1.1h0m-2.5-3.4h0m-1.1 3.6h0m-4.6-3.3h0m-1.5 4.8h0m-.2-4.1h0m-.9 3.6h0m-2.3-4.5h0m-.6 2.5h0m-.1 1h0m-2.7-1.8h0m-1.9 3.4h0m-1.2-3.6h0m-5.4 .3h0m0-2h0m-2.3 1.3h0m-.4 2.2h0m-.7-.6h0m-3.5 2.8h0m-.3-4.5h0m-2.4 1h0m-.8 3.4h0m-1.6-4.9h0m-.3 1.4h0m-1.5 2.9h0m-1-2.3h0m-5.3-2.6h0m-2.4 5.2h0m-7.9-.1h0m-.7-2.5h0m-18.9 8.8h0m5.1-3.2h0m6.2 2.2h0m2.9-4.6h0m5.9 2.2h0m3.2-.8h0m1.3 2h0m.4 1h0m.9-.2h0m3.1 1.8h0m1.1-4h0m1.1 0h0m2.3 .9h0m.7 1.6h0m.6-3.4h0m.1-.6h0m4 3.4h0m1.8 1.4h0m2.9-4.3h0m1.3-.1h0m.6 1.5h0m2.2 2h0m.1-3.4h0m4.2 1.6h0m3.2 1.4h0m.4-3h0m.5 3.6h0m1.5-.7h0m5.1 0h0m3-2.1h0m.8 3.4h0m.3-4.1h0m1 3.5h0m.1-3.8h0m.1-.7h0m1.6 3.2h0m.7-2.5h0m3.4 .2h0m.5 4h0m1.3-1.3h0m.3-1.5h0m.6 1.2h0m.3 2h0m2.1-4.1h0m.1 4.3h0m2-2.3h0m.1 1.7h0m.5-5h0m.2 3.4h0m.2 1.8h0m1.3-3.4h0m.4 2.1h0m1.2-1.1h0m1-1.5h0m.8 1.9h0m2.1-1.3h0m.8-1.6h0m1 2.1h0m.6 3.5h0m2.8-5.8h0m2.1 5.1h0m.8-1.1h0m3.3-.5h0m1.8-.9h0m.2 2.7h0m2.3-3.7h0m.9-1.5h0m2.4 2.1h0m2.7 2.8h0m1.6 .1h0m2.2-1.6h0m3.8-.9h0m.7-.4h0m1.8 3.3h0m1.5-2.3h0m1.3-1.6h0m3.7 3.4h0m1.5 .9h0m1.1-5.9h0m.7 5.1h0m.6-4.4h0m.8 4.7h0m1.1-4.3h0m.3-.6h0m1.2 3h0m1.3-1.7h0m.4 2.8h0m.5-2h0m4-.9h0m.8-.3h0m1.2 2.5h0m.8-3.1h0m.8 4.5h0m1.5-2.2h0m.1-1.8h0m1.7 4.1h0m.5-2.7h0m.5-2.4h0m.1 1.6h0m3.4 3.7h0m1.6-3.9h0m.5 .9h0m1.7 1.4h0m1.2-.3h0m.1 .4h0m1.8-3.4h0m.4 4.5h0m.5-4.2h0m.3 3.7h0m0-1.5h0m1.3-1.4h0m.4 1.2h0m1 2.8h0m2.3-2.3h0m.9-2.6h0m.6-1h0m.3 4.5h0m.3-3.7h0m1 4.8h0m1.2-2.8h0m3.4 2.4h0m4-4.5h0m.5 3.6h0m2.1 .9h0m.9-1.4h0m1.2 2.1h0m.9-3.9h0m1.6 3.5h0m3.9-.4h0m3.8-2h0m.2-3.1h0m.5 4.3h0m.9-.6h0m1.9-.2h0m.2 .6h0m.1-1.9h0m1 .3h0m1.2-2.2h0m.6 .8h0m.2 4.4h0m2.1-2.5h0m2.4 .3h0m.4 2.3h0m.9-2.4h0m3.5-1.3h0m1.6-.7h0m.9-.9h0m.5 3.8h0m.1-3.1h0m2.1 4.6h0m.6-2.5h0m1-.9h0m3.1-1h0m1.5 2.8h0m.3-3.6h0m.2 1.8h0m1.2 1.7h0m.3 .3h0m9.4-3.7h0m2.1 1.3h0m3.8 3.5h0m.7-4.6h0m1 4.3h0m.4-2h0m1.9 .1h0m.6 1.6h0m2.1-4.4h0m.5 2.3h0m.7-.8h0m1.3 0h0m1.2-1.7h0m.5 4.5h0m3.5-1.5h0m.3 1.9h0m.4-.8h0m1.2-1.6h0m.4 .1h0m3.8-.1h0m1.1 1.6h0m.8 1.2h0m1.7-4.5h0m1.6 4.7h0m.8-2.6h0m.7 1.6h0m3.1-4.2h0m.5 4.3h0m.9-2.2h0m.2 1.8h0m.9-4.2h0m2.2 3.7h0m1.5-.9h0m.1 2h0m1.5-3.9h0m4.6-.4h0m.1 3.3h0m1.8 1.8h0m2.1-4.5h0m.2 2h0m2.8-1.9h0m7.6 4h0m2.7-5h0m.5 4.5h0m1.8-2.9h0m.8 2.5h0m.1-2.9h0m4.3 1.4h0m1.9 1h0m2.5 .7h0m.8-2.6h0m3.7-1.8h0m8.1 3.6h0m.7-.7h0m4-.1h0m4.9 2.1h0m.8-1.2h0m.5 .7h0m1.7-.8h0m2.8-1.3h0m.3-1.5h0m.5 4.5h0m18.6 5.2h0m-6.2-2.4h0m-3-1.6h0m-3.8 2.4h0m-8.9 .8h0m-3.1-1h0m-.2 2.3h0m-4.9-2.5h0m-2.2-.7h0m-.7-1.7h0m-2.7 4.9h0m-.3-4.7h0m-20.1 3.7h0m-6.2-1.2h0m-1.6 .7h0m-.3 1.8h0m-2.3-1.4h0m-1-1.3h0m-1.4 2h0m-5.4-2.1h0m-3.7 .6h0m-3.7 2.6h0m-1.2-5.7h0m-1.8-.1h0m-1.7 3.3h0m-2.5 .2h0m-1.3-.6h0m-4.5-.8h0m-5 2.4h0m-1.1-1.9h0m-.1-2.2h0m-2.3 1.6h0m-.1 2.1h0m-1.9-2h0m-.1 2.4h0m-1.4-2.6h0m-2.2 3.1h0m-1.4-1.3h0m-1.2-3.6h0m-1 2h0m-.4 2.9h0m0-.9h0m-.2-1.5h0m-.4-2.1h0m-.3 4.2h0m-.1 .4h0m-1.3 .3h0m-.7-2.2h0m-.1-1.1h0m-3.1 2h0m-.6 1.2h0m-1.3-1.7h0m-.1 2h0m-.2-5.3h0m-2.4 3.1h0m-.8-3.4h0m-.1 1.5h0m-.6 2.3h0m-.1-2.6h0m-1.8 4.4h0m-1.2 .1h0m-.8-4.8h0m-1.3-.5h0m-2.5 4.5h0m-.8 .5h0m-.1-3.1h0m-.5 1.3h0m-.9 .2h0m-.8 2.1h0m-1.8-1.4h0m-.4 1.3h0m-.5-5.5h0m-.4 2.9h0m-1.2-.4h0m-.8 2.3h0m-.5-.8h0m-.7-.6h0m-.6-2h0m-1.4 4h0m-.7-4.9h0m-.2 3.6h0m-.5 1.3h0m-.8-5.6h0m-.4 4.6h0m-.3-.6h0m-.3 1.6h0m-1.3-1.7h0m-1.2-1.3h0m-2.2-2.5h0m-.2 4.3h0m-2.4-.9h0m-2 0h0m-.5-.3h0m-.7-3.4h0m-1.9 .9h0m-1.2 0h0m-2.1-.6h0m-.6 4.4h0m-.3 .2h0m-.4-4.2h0m-3.5 4h0m-2.4-3.4h0m-.1 2.8h0m-1.1-2.9h0m-1.1 4.8h0m-2 0h0m-.9-2.8h0m-1.1 .7h0m-.8-2.2h0m-1.4-1h0m-1.9 3.2h0m-1.1 .5h0m-.2-3.7h0m-1.4 .3h0m-1.1 2.2h0m-1.5-.4h0m-.4 .5h0m-.1 1.9h0m-2.4-.1h0m-.2-.3h0m-.8 1.1h0m-1.3-.5h0m-1.1-1.7h0m-3.1 .2h0m-.4-3.8h0m-.3 2.8h0m-.2 2.8h0m-.7-1h0m-2.4-2.2h0m-.5 2.7h0m-1.2-.7h0m-.1-2.9h0m-.7 1.4h0m-1.7 2.5h0m-.6-4.4h0m-1.6 4.7h0m-.2-3.9h0m-.1-.8h0m-2.7 1.3h0m-3 0h0m-.2 3.1h0m-2.3-3h0m-.1-1.7h0m-.1 4.1h0m-.5-2.8h0m-.7 1.6h0m-1.4-3.7h0m-1 5h0m-1-2.8h0m-1.3 2.1h0m-.8-4.2h0m-1.6 1.6h0m-.7 .1h0m-.3 3.6h0m-1.6-.8h0m-1.1 .9h0m-1.9-3.2h0m-1.2 1.9h0m-.8-3.7h0m-2.8 3h0m-.1-1.3h0m-.9-1.6h0m-2 .7h0m-1.6 .6h0m-.3 3.8h0m-1-1.3h0m-.2-2.7h0m-.3 3.4h0m-.1-4.2h0m-1.7 4.8h0m-.9-4.4h0m-1.7 1h0m-.3 1.6h0m-1.3-1.2h0m-.6 .7h0m0 1.8h0m-.6-4.5h0m-1 3.6h0m-.6-2.4h0m-.2-1.2h0m-1.1 4.6h0m-1.1-2.8h0m-.3 2.7h0m-1.4 0h0m-2.1-4.9h0m-.5 3.4h0m-.4 1.7h0m-.5-2.8h0m-3.3 2.1h0m-2.8 .9h0m-.1-1.2h0m-1.5 .3h0m-1.9-1.2h0m-1 .9h0m-2.8-4.3h0m-.5 5.4h0m-3.9-2.5h0m-1.1-1.5h0m-2-.2h0m-1.7 1.5h0m-.5-1.9h0m-.5 1.6h0m-2.5-.6h0m-1.7-.6h0m-.2 4.5h0m-2.2-5.3h0m-1 4.1h0m-.2-2.6h0m-4.3 3.7h0m-.2-3.9h0m-.8 2h0m-1 .4h0m-.9-1.8h0m-.5 1.1h0m-.4-1h0m-1.6 1.5h0m-1.1-1.7h0m-2 2.6h0m-2.6-3.4h0m-.6 4.4h0m-.1-1.4h0m-3.4 .6h0m-4.6 .1h0m-.1-.5h0m-6.1-.1h0m-2.4 .3h0m-10.3-3.1h0m-1.5 3.7h0m-.5 .1h0m-6.9-5h0m-2.4 5.3h0m-.8-2.5h0m-.6-3.1h0m-4.8 3.7h0m-1.1-3.8h0m-5.5 4.5h0m-.9-4.4h0m-1.7 1.7h0m-1 1.5h0m-1.2-1.1h0m-2.6 3.5h0m-13.9 5.6h0m2.5-.3h0m5.2-3.1h0m1-.7h0m0 4.2h0m1 .3h0m.6-1.5h0m2.3-2.9h0m2.8 2.2h0m2.6-2.9h0m1.9 1.8h0m1.9 .1h0m.1-2.2h0m3.6 .9h0m.5 1.5h0m.1 2.2h0m3.4-5h0m.4 5.6h0m0-.2h0m.8-3.3h0m3-.6h0m1.2 2.2h0m2.8-.6h0m1.7 2.8h0m.9-2.5h0m2.4-2.2h0m1.5 3.5h0m1.2-.2h0m.3-1.1h0m1.1 2.3h0m3.1-4.9h0m.2 2.7h0m1.2-2.4h0m8.1 2h0m2 .4h0m4.4-.1h0m2.2 .5h0m0-.6h0m3.3 .2h0m2.2-2.5h0m.3 3.4h0m2 1.2h0m.7-1.5h0m.7-2.4h0m1.2 2.8h0m.7-1.4h0m1.1-2.9h0m.4 3.2h0m.4 1.4h0m.4-4.1h0m3.6-.4h0m.9 5.1h0m2.4-4.5h0m.5 1.9h0m2.2 2.5h0m1.6-4.7h0m2.2 3.8h0m.3-1.8h0m.5-1.8h0m1.3 2.8h0m.8-2h0m.8-1.4h0m.1 .6h0m0 4.7h0m.7-2.7h0m1.5-1.5h0m1.8-1.3h0m.3 3.3h0m.5-.8h0m.6 2.1h0m1.3-2.5h0m1.2 2.9h0m.8-4.8h0m.8 4.1h0m1.1-1.3h0m.4 2.6h0m.3-3.7h0m.2 2.4h0m2.3-3.9h0m.2 3.1h0m.7 .5h0m.2 .7h0m1-2.4h0m1.6 .1h0m1.9-1.5h0m.6 4.2h0m2.4-3.7h0m1.1-.5h0m.8 2.3h0m3.6-2.5h0m1.3 1.1h0m2.4 1.1h0m1.3 .4h0m1.7 2.3h0m.1-.6h0m.2-1.8h0m1.6 2.2h0m.2-3h0m.3 1.7h0m.9-2.8h0m1.5 3.2h0m.4-.9h0m1.4-1.9h0m2.1 4.2h0m2.5-4.9h0m1.4 2.1h0m.8-1.6h0m.2 2.7h0m.8 0h0m.7-.5h0m1.3-1.2h0m.2-1.7h0m2.4 2.2h0m0 2.5h0m.4-3.1h0m.7 1.8h0m2.2-2.7h0m1.2 1.3h0m1.4 1.3h0m1-.9h0m1 .1h0m.1-2.4h0m.6 4.4h0m1.1 .4h0m.1-.4h0m3.8-1.4h0m.3 1.3h0m1-1.4h0m.8 1.9h0m2.3-3.7h0m2.9 .3h0m2.5 0h0m2.6 1.1h0m1.9-1.7h0m3.3 3.1h0m0-2.2h0m1.4 1.7h0m.5-2.5h0m1.7-.3h0m1.5 2.9h0m.9-.7h0m1.1-3h0m.6 2.8h0m1.2 .5h0m.8-2.7h0m.6-.1h0m.2 3.1h0m1.2-1.1h0m.6-2.5h0m.6-.6h0m.6 .5h0m.1 3.6h0m1.2-1.5h0m5.1 1.4h0m1.2-.6h0m.4-2.2h0m.5-1h0m1.8 1.3h0m1.7 1.1h0m1.3-.6h0m4.2-1h0m1.9 3.2h0m.5-3.6h0m1.2 2.1h0m.3-1.2h0m3.2 2.7h0m3.6-3.3h0m1.1-1h0m.1 5.2h0m.6 .4h0m.1-4.7h0m2.5 2h0m3.4-2.1h0m.1-.6h0m2.2 5.2h0m1-4.9h0m1.4 4.3h0m2.6-.2h0m3.1-1.3h0m.8 .6h0m.5-3.9h0m.9 4h0m.1-3.5h0m1.9 .5h0m.4 2h0m1.8-.2h0m1.4-2.6h0m1.2 4.6h0m1.2-4.7h0m.7 .9h0m2.5 2.6h0m.9 2.2h0m1.6-5.6h0m2.8 4.9h0m0-2.8h0m1.8 3.1h0m1.6-2.5h0m1.1 1.3h0m.1-1h0m1.9 1.8h0m.7-4.5h0m1.2 3.6h0m2.4 .5h0m.5-1.7h0m3.1 .3h0m1.2 .3h0m1 .9h0m.1-4.1h0m2 2.8h0m.7 2h0m.4-2.6h0m.1-1.9h0m2.1 .4h0m0 4.2h0m3.1-3.9h0m.4 3.7h0m.4 .8h0m.9-2.4h0m1.9-1.8h0m1.1 1h0m.6-1.2h0m1.4-.5h0m.8 4.3h0m3.7-4.5h0m.2 4.3h0m1.4-2.1h0m0-2.2h0m1.2 2.7h0m.7 1.9h0m1.6-.2h0m.4 .4h0m.9-3.7h0m1.8 2.2h0m1.5-2.7h0m.4 2.8h0m.9-.9h0m.4 1.7h0m2 0h0m1.5-.8h0m1.8-.1h0m6.1 .1h0m2 0h0m1.9-2.5h0m.5 3.2h0m1.2-1.8h0m9 1.9h0m.6-4.2h0m.9 4h0m2.5-.4h0m3.6-.3h0m4.2-2.1h0m.6 3.4h0m2.5-2h0m6.8 1.9h0m10.8-4.2h0m2.3-.2h0m5.2 2.1h0m1.8 2.2h0m1.2-3.4h0m3.8 .5h0m.4 2.1h0m.3 1.6h0m8.2 3.4h0m-1.4 1h0m-3.5-4.3h0m-1.8 4.8h0m-.7-1.1h0m-5.4-.4h0m-3.5-2.4h0m-2.8 .7h0m-1 2.4h0m-1.8-.2h0m-1.6 1.8h0m-1.9-3.2h0m0 .9h0m-3.3-3.4h0m-.2 5.9h0m-2.4-1.5h0m-9.4 .7h0m-.3-4.8h0m-1.1 2.3h0m-7.8-.8h0m-1.3 2.2h0m-4 0h0m-.6 .6h0m-1.6 .9h0m-2.3-3.7h0m-1.6 3.8h0m-3.4 .2h0m-6.9-5.6h0m-1.5 2.7h0m-7.7 2.3h0m-.9-2.7h0m0 2.5h0m-1.1-4.9h0m-.3 3.2h0m-5.1 1.9h0m-7.7-2.7h0m-1.7 1.5h0m-.9-.6h0m-2.7 1.5h0m-4.4-2.2h0m-2.5 1.7h0m-1-3.2h0m-1.9 2.1h0m-1.4-2.3h0m-1.5 2.4h0m-1.5-.8h0m0 2.3h0m-3.3-.1h0m-1.5-1.6h0m-4.7-2.9h0m-4 2.3h0m-1 .8h0m-3.3-2.4h0m-1.3 3.6h0m-.8-1.8h0m0 2.1h0m-2.9-.3h0m-2.5-1.4h0m-.9-1.1h0m-.6 1.8h0m0-2.1h0m-.5 3.6h0m-.5-4.1h0m-3.5 4.1h0m0-3.9h0m-2-.2h0m-.8 0h0m-.8 .8h0m-2.2-1.8h0m-3.5 1.2h0m-3.2 .5h0m-3.2-.9h0m-6.2-.7h0m-.2 4.6h0m-2-3.6h0m-.9 1.8h0m-.4-2.6h0m-1.2-.3h0m-.6 1.9h0m-3.2 1.2h0m-.4-3.3h0m-1.5 2.4h0m0-1.7h0m-1 0h0m-.6 3h0m-.6 .7h0m-.7-2h0m-.1-2.1h0m-.5 4.6h0m-.5-4.4h0m-1 1.4h0m-3.4-1.9h0m-.3 5h0m-.1-3.3h0m-.7 4.1h0m-.2-4.1h0m-2-1h0m-.2 1.1h0m-4.6 2h0m-1.5 1.7h0m-1-3.1h0m-1.7 2.6h0m-.9-4h0m-1.4 2.1h0m-1.1-2.4h0m-1.4-.6h0m-.8 0h0m-2.8 1.8h0m-.1 3.4h0m-.4-4.9h0m-2.1 5.3h0m-.2-5.7h0m-1.8 4.2h0m-.4-2.8h0m-.7 .2h0m-1.7-.3h0m-1.8-.7h0m-.9 4.7h0m-.5-5h0m-2.4 1.3h0m-1.5 1h0m-1.1-2.3h0m-.1 1.4h0m-1.5 2.3h0m-1.6-3.5h0m-.3-.6h0m-.7 5.3h0m-4.1-3.1h0m-1.5-.4h0m-.1 2.1h0m-2.2-2.9h0m-2.7 .1h0m-2.6 1.7h0m-.4-1.5h0m-2.7 0h0m-2.5 .3h0m-.4 1.9h0m-.9 .6h0m-3.4-3h0m-.8 1.7h0m-2.4 .5h0m-.3-2.7h0m-2 4h0m-.9-3.1h0m-.9 2.3h0m-1.4 1.8h0m-.5-3.4h0m-.9-1.4h0m-2.7 3h0m-4.2 1.2h0m-.6-1h0m-.9 .4h0m-1.6-.1h0m-1.2-4.2h0m-1.8 0h0m-.3 .8h0m-1.3 .9h0m-.1 3.3h0m-2.5-.4h0m-2.5-1.2h0m-.5-1h0m-1.8 1.3h0m-.9-2.8h0m-2.2 3.6h0m-1.8-2.6h0m-.9 1.3h0m-1.3-1.4h0m-.4-1.7h0m-1.6 4.5h0m-.1-4.1h0m-3.3-.1h0m-.1 5.2h0m-4.5-1.8h0m-1.3 .4h0m-4.3-2.8h0m-2.1 2.2h0m-1.3-3.4h0m-2.8 4.9h0m-.8-4.3h0m-2.2 1h0m-.6 .5h0m-2.7 2.1h0m-.6-4.1h0m-2.1 .6h0m-2.1-.4h0m-3.3 5.1h0m-1.2-2.2h0m-4.4-.3h0m-1.5-2h0m-7.9 3.9h0m-.4-2.6h0m-3.9-.3h0m-7.9 .2h0m-2.7 .2h0m-6.5 3.2h0m-.1-3.6h0m-2.2 .6h0m-3.4 .1h0m-4.1 1.3h0m-2.5 1.6h0m-4.1-2.4h0m-3.5-.6h0m-3.5 .8h0m-1.6-3.2h0m-1.8 0h0m-.2 4.3h0m-2.3-2.7h0m-5.7 3.9h0m-6.2 3.5h0m1.5 0h0m1.9 1.1h0m0-2.8h0m4.5 1.1h0m1.5-1.6h0m.4 4.4h0m1.7-4.4h0m9-.4h0m1.6 4.1h0m1.5-4.6h0m3.1 1.6h0m.1 1.7h0m2.5 1.6h0m.4 0h0m2.1 0h0m3.9-3.5h0m3.4 0h0m1.7 2.7h0m1.3 .7h0m2-2.6h0m.8-.6h0m1.4 1.8h0m1.7-.1h0m1.1-2.5h0m.6 3.7h0m.5-1.4h0m1.1-2.2h0m3.1 1.1h0m.2-2h0m4.3 1.3h0m2 2.8h0m2.2-3.6h0m.7 4h0m1.1-3.4h0m2.2 2.5h0m2-3.8h0m.7 4.8h0m.3-1.3h0m3.4-1.4h0m1.5 3h0m.7-4h0m8 4.8h0m3.1-5.7h0m.9 3.5h0m.9 .7h0m1.6 .3h0m5.8-4.8h0m.4 .8h0m2.6 1h0m1.1 .9h0m.5 2.3h0m.4-.4h0m2.8-1.2h0m.1-1.5h0m19.6 1.7h0m1.6 2.3h0m.5-4.7h0m.8 2.2h0m.3 1.2h0m2.3 .4h0m1.3-4.8h0m.6 1.7h0m2.7 1.7h0m3.5-2.8h0m10.7 .3h0m1.3 4.2h0m.3-4.6h0m2.8-.3h0m2.5 0h0m0 .9h0m2.9-1.1h0m1.1 4.4h0m3.8-3.8h0m.2 1.9h0m2.3 .5h0m2.6 .4h0m1.3-1.1h0m.9-2.3h0m5.7 1.9h0m.1 2.7h0m0-2.3h0m1.2 2.2h0m.6-1.2h0m1.3-2h0m3.4 1.8h0m4.5 2.2h0m2.2-4h0m3.9 2.7h0m4.6-2.6h0m4.6 .4h0m6.8 3.6h0m.6-5h0m.6 .9h0m6 1h0m3.5 .2h0m1.1 .7h0m.2 2h0m2.2-4.9h0m4.9 2.1h0m.3-1.7h0m2.2 3.5h0m0-4.4h0m1.7 2.9h0m1.3-2.1h0m3.9-.5h0m1.1 .7h0m1.4-.7h0m1 2.7h0m5.1-.1h0m3.6-1.9h0m4.2 .7h0m1.9 2.1h0m.8-2.2h0m.3 3.7h0m3-2.2h0m.6-2.1h0m1.8 1.5h0m.5-2.4h0m1.4 4.3h0m.8-.7h0m3.7 1.4h0m1.1-4.8h0m.7 4h0m4.8-2.6h0m2.6-1.3h0m.4 .3h0m.5-.7h0m.9 2h0m.2 1h0m2-.1h0m.8-1.8h0m6.3 0h0m3.9 .3h0m0 3.2h0m8.5-1.6h0m.6 1h0m2-3.2h0m2.8 2h0m0 1.9h0m2.5 .5h0m6.4-4.1h0m3.5-.8h0m.1 3.9h0m1.2-3h0m3.3-.5h0m.5 3.8h0m2.5 1.2h0m2.7-5.2h0m1.4 2.2h0m2.6 1h0m.8 2.1h0m1.8-4h0m.7 1.8h0m3.6 2.1h0m1.5-3.9h0m.5-1.7h0m1.3 1.8h0m.8-1.1h0m.3 3.8h0m4.5 .3h0m.2-1.5h0m.4 2.3h0m.7-1.6h0m.9-2.1h0m2.7 1.2h0m0 1.9h0m4.8-.8h0m3.4-3.5h0m1 5h0m1.2-2h0m3.1-.7h0m.6-1.5h0m2.5-.8h0m1 1.5h0m4.6 .3h0m5.9-.9h0m.8 4h0m1.6-3.1h0m1.8-.8h0m.6 3.7h0m8.9-4.7h0m2.1 3.6h0m3.7-2.1h0m.1-2.1h0m1.6 1h0m.3 1.7h0m2-1.8h0m11 3h0m7.7 7.4h0m-1.6-1.2h0m-8.4 .2h0m-.4-4.1h0m-3.3 2.8h0m-2.3-1.7h0m-.6 1.5h0m-1.3 2.6h0m-4.8-4.6h0m-1.2 .9h0m-4.2-1.3h0m-4 1.6h0m-6.3-.2h0m-1.4-1.1h0m-.7 1.1h0m-1.6 4h0m-5.1-3.3h0m-1.4 3.2h0m-.9-3.6h0m-1.2 2.6h0m-3.1-1.7h0m-4.6 1.3h0m-.9-1.9h0m-1.4-1h0m-1.7 .7h0m-1.1-1.1h0m-.4 3.9h0m-.1-1.7h0m-1.6-.9h0m0 .8h0m-2.6-3.2h0m-2.9 4.9h0m-6.2-2h0m-3.9-1.6h0m-8.3 .1h0m-.4 3.1h0m-4.4-2.5h0m-.5-1.1h0m-1.3-.1h0m-.4 2.9h0m-1.5 1.5h0m-4-.6h0m-1 .7h0m-1.8 .4h0m-2.5-4h0m-3.1 2.6h0m-1.9-3.7h0m-1 2.9h0m-5-3h0m-1.8 2.1h0m-1.1-.5h0m-3.7-2h0m-.8 4.3h0m-2.1-4.1h0m-.8 1.5h0m-.2 2h0m-1.6 1.2h0m-4-1.3h0m-1.2-3.1h0m-.6 2.7h0m-9.9 .8h0m-.6-3.7h0m-.3 1.6h0m-4.3 1.4h0m-3-1.2h0m-7.2-2.2h0m-3.9 5.4h0m-7.5-2.9h0m-1.9-1.7h0m-.7-.8h0m-1.2 3.1h0m-1.3-3.1h0m-7 .8h0m-3.8 1.3h0m-1.4-1h0m-6.1 .7h0m-3.2 2.2h0m-2.7-.9h0m-3.4-2.5h0m-7 1.4h0m-4.5 1.1h0m-4.8 .8h0m-17.7-1.6h0m-5-2.3h0m-3.6 2.2h0m-7.7-2.2h0m-4.5 5.7h0m-3.8-1h0m-5.4-2.3h0m-.9-1.4h0m-3.2-.6h0m-1.9 .7h0m-5 2.2h0m-24.1 1.2h0m-1.8-.8h0m-3.8-.1h0m-2.3-1.7h0m-5.2-.3h0m-1.3-.3h0m-3.3 2.9h0m-4.3-3.8h0m-.2 2.4h0m-.3-2.9h0m-2.2 .8h0m-1.9 .9h0m-.4 1.8h0m-1.7-3.2h0m-8.4 4.8h0m-1.8-1.6h0m-8.3-3.5h0m-.7 1h0m-1.8-1h0m-.5 4h0m-.2 1.7h0m-.7-.3h0m-2.7-1.5h0m-2.2-2.2h0m-.4 3.5h0m-.7-3.6h0m-1.1-1.4h0m-2.1 5.1h0m-3.7-.3h0m-.1-1.5h0m-2.8 2.4h0m-1.8-.9h0m-1.5 .7h0m-2.2-3.7h0m-3.2 4h0m-6.1-2.9h0m-.8-1h0m-1.4-.1h0m-.8 1.1h0m-.1 2.7h0m-6.1-1.3h0m-1.4-4.1h0m-.6 4.1h0m-.8-4.1h0m-1.9 0h0m-.7 3h0m-2.5-.5h0m-1.3 1.2h0m-.2-1.5h0m-.1 3.3h0m-1.9-.2h0m-2.5-3h0m-.9 1.7h0m-.5-2h0m-6.7 2.9h0m-1.2-4.7h0m-7.2-.4h0m-1.5 3.5h0m-1.9 .6h0m-2.6-.4h0m-7.8 7.1h0m2.4-1.1h0m.6-2.8h0m2 1.2h0m8.8-1.8h0m5.7 1.9h0m.3 1.9h0m7.2-2.5h0m1.1 4.1h0m2.9-2.4h0m1.7 1.1h0m1.3-.3h0m.4-3.5h0m.2 1.6h0m2.3 0h0m3.7-1.6h0m.3 2.2h0m.8 .2h0m.2 1.8h0m.9-5h0m1.7 1.8h0m3-.7h0m1.8 3.1h0m3.7-.9h0m1.3-.3h0m7 2.4h0m1.6-1.4h0m.1-2.9h0m1 .6h0m.8 2.5h0m.3-.8h0m2.7-1.6h0m6.4-.5h0m.5 2.5h0m3.4-.9h0m3.6-1.9h0m.7 4h0m3-1.4h0m.2-2.2h0m2 1.7h0m.9-1.6h0m7.5 2h0m4.8 .7h0m8.9 1.3h0m.2-1.6h0m0-2.8h0m7.3 2h0m1.1-.9h0m21.5 1.4h0m1.6-.8h0m13.4 1.7h0m3-1.1h0m4.4 .8h0m.6-3.4h0m2.7 1.5h0m12.8 .2h0m7.5 .8h0m8.5 0h0m3.1-3.1h0m18 1.3h0m10.3-1.3h0m3.5 .1h0m7.5 .3h0m9.6 1.9h0m4.5-.4h0m29.6 1.9h0m1.5-3.4h0m.4 1.8h0m4.6 2.7h0m12.4-4h0m6.2-1h0m3.6 .8h0m24.8 .2h0m3.9 3.2h0m3.8-1h0m.4-2.7h0m3.1 4.8h0m5.2-.5h0m.4-1.5h0m2.5 .8h0m1.1-2.8h0m.8 1.3h0m2.3-2.6h0m3.4 1.3h0m2.7-.4h0m1.8 4.8h0m0-2.6h0m.8-1.7h0m.6 4.5h0m.4-5.1h0m1.1 3.7h0m.7-3.1h0m1.3 0h0m1 .9h0m2.7 3h0m.2-5.2h0m.8 .5h0m.5 2.8h0m1.7-.9h0m2.3-2.4h0m.4 .5h0m3-.2h0m1.7 2h0m1.2 .3h0m.5-2.2h0m1.6 5.1h0m1-.6h0m.7-2.8h0m1.7 2.5h0m.2-3.4h0m1.3 1.4h0m.1 2.1h0m2-3.1h0m1.9-.9h0m.5 5h0m.7-1.4h0m.4-3.4h0m2.9 2.4h0m.2-2.5h0m.7 2.2h0m4.5-.2h0m1.1 2.5h0m4.7-2h0m1.8 1.5h0m4.1-3.9h0m4.6 .4h0m1.9 1.1h0m6.5 .7h0m4.2-1h0m.1 2.2h0m4.1-3.1h0m3.8 .1h0m.2 8.6h0m-1 1.8h0m-2.7-.4h0m-.8-1h0m-1.1-2.8h0m-2.2 .2h0m-1.1 1.4h0m-1.4 .6h0m-.4 1h0m-.9-3.1h0m-3.9 3.6h0m-2.9 0h0m-1.3-2.9h0m-1.1 1.5h0m-.7-1.4h0m-.4 1.1h0m-1.2 1.9h0m-1.1-3h0m-3.7 1.5h0m-1.5-2.8h0m-1.7-.7h0m-1.9 1h0m-1 4.3h0m-.5-3.5h0m-1.4-.1h0m-1.3 .3h0m-.9-1.7h0m-2.9 3.6h0m-1.6 1.4h0m-4.6-2.1h0m-1.2-1.2h0m-1 .7h0m-.1-2.7h0m-.5 4.6h0m-7.2-2h0m-1.1-1.4h0m-4.4 .3h0m-.1-1.2h0m-1.2 2.2h0m-.8 1.6h0m-4.3-1.3h0m-.9-.9h0m-.7 1.3h0m-5.3 2h0m-4.5-4.2h0m-8.2 .8h0m-1-1.2h0m-7.7 3.1h0m-1.4-1.7h0m-2.8 .2h0m-7.3 .9h0m-3.4 .3h0m-.8-2.3h0m-16.6-.4h0m-1.5 1.3h0m-16.4-1.9h0m-30.5 1.2h0m-87.2 0h0m-38.4 4h0m-9.7-5.7h0m-9.5 4.1h0m-23-4.2h0m-11.5 2.9h0m-2.7-.7h0m-7.9-1h0m-.6 2.2h0m-1.3-.5h0m-2.2 1.9h0m-2.6-3h0m-3.8-.9h0m-2.5 2.5h0m-1.5 .2h0m-.8-3.6h0m-1.5 5.1h0m-1.5-2.8h0m-.3 2.4h0m-.3-.5h0m-.1 .7h0m-1.8-3.6h0m-1.9 4.3h0m-.1-5.1h0m-2.1 3.9h0m-.9 .9h0m-.7-4.1h0m-4.8 2.5h0m-.4 1.6h0m-1.2-5.3h0m-3.6 2.6h0m-2.8 .8h0m-4.6-1h0m-.8-2.3h0m-6.4 2.5h0m-1.8 .2h0m-.2 3h0m-.5-3.2h0m-1.1 2.5h0m-.2-2.2h0m-1-.8h0m-.4 2.2h0m-.1-2.3h0m-2.7 .4h0m-.7 2.3h0m-.9-4h0m-2.8 4.3h0m-3.6-2.9h0m-.7 3.8h0m-6.8-1.7h0m-1.3 0h0m-.2 1.7h0m-4.6-.2h0m-8.6 5.8h0m1.3 0h0m.4-3.5h0m1 3.7h0m.4-2.3h0m.7-3.2h0m.9 1.3h0m.7 1.2h0m1.6 2.5h0m.3-4.7h0m6.4 4h0m1.4 1h0m2.7 .1h0m2.5 .2h0m.2-1.1h0m1.4-3h0m.4 2.7h0m2.7-1.4h0m5.7-1h0m1.9 2.3h0m1.8-3.6h0m.9-.4h0m1.3 5.1h0m.4-.8h0m.7-4.2h0m2 1.1h0m1.2 4.1h0m1.4-3.1h0m2-.3h0m2.5 2h0m2.1-2.8h0m2.1 1.5h0m.7-1.6h0m.2 3.7h0m2.4 .5h0m3.4-1.8h0m2.2 0h0m2.1-3.1h0m1.4 3.4h0m3.2 1.5h0m.3-1.8h0m7.3-2.9h0m2.2 1.5h0m2.5 .3h0m3.3-2.2h0m.9 2.7h0m2.5 .8h0m.9-.9h0m.3-1.4h0m.1 2.4h0m4.5-3.8h0m4.4 3.9h0m10.1-3.7h0m15.9 2h0m35.8-.6h0m177.4-.9h0m20.1 1.9h0m25.6-2.6h0m1.5 4.6h0m4.9-4.8h0m11.3 .1h0m1.7 5.6h0m.1-5.2h0m2.5 2.7h0m.9 1.9h0m3.3-.3h0m2.4-3.7h0m2.2 3.5h0m3.1-4.3h0m3.2 .3h0m.9 2.3h0m.4-1.3h0m2.3-1.5h0m.7 3.5h0m1 1.4h0m.3-3.1h0m.4 3.6h0m.8 .4h0m.6-2.4h0m1.8-.5h0m.1 .6h0m.4-2.6h0m1.5-.5h0m.4 .2h0m3.1 2.7h0m.6-2.5h0m4.1 2h0m3.2-1.6h0m.4 3.7h0m2.6 .9h0m.7-4.3h0m1.5 2.7h0m5.4-4.2h0m6.8 1.4h0m2.3-.8h0m1.6 0h0m3.9 3.1h0m2.9-1.6h0m1.4 2.2h0m6.2 3.8h0m-.3 1.1h0m-2.1-2.6h0m-1.2 1.5h0m-.3-2h0m-.8 .1h0m-.2 2.2h0m-1.5 1.4h0m-.8 1h0m-8.5-.1h0m-3.5 .7h0m-3.2-3.5h0m-.3 3.6h0m-.2-2h0m-.2 2.1h0m-.1-3.2h0m-3.6 .2h0m0 2.5h0m-2.7-4.4h0m-.9 4.7h0m-.7-3.4h0m-2-.8h0m-4.6-.3h0m-.4-.3h0m-1.6 1.7h0m-3.5-1.6h0m-.7 1.6h0m-2.9 2.8h0m-2.6-.6h0m-3.8 1h0m-.6-5.7h0m-1 5.5h0m-.7-2.1h0m-4.3 1.3h0m-1.3 .4h0m-1.2-3.9h0m-9.1 2.7h0m-2.5-3.9h0m-.3 1.4h0m-1.3 2.7h0m-11.2-.5h0m-5.2-.9h0m-8.8-2.6h0m-266.4 .4h0m-23.7 .7h0m-.2 3h0m-1-1.3h0m-1-2.3h0m-.2 1.2h0m-1.1 .4h0m-3.7-1.4h0m-.2 3.3h0m-1.8 .8h0m-.9-2.6h0m-2.4-2h0m-.7 1.8h0m-.4 3.8h0m-2.7-5.8h0m-4.9 4.2h0m-2.3-.8h0m-2.2 1h0m-2.1-.9h0m-1.5-1.5h0m-1.6 3.5h0m-3.1-3.1h0m-2.5-1.6h0m-.6 2.1h0m-3.6 .1h0m-1.6 2.7h0m-2.2-2.7h0m-.2 2.5h0m-.8-3h0m-1.3 3.3h0m-.7-1.6h0m-3.4-2.9h0m-.7 1.5h0m-.8-1.7h0m-3.3-1h0m-.4 1.6h0m-1 1.2h0m-2.4 .8h0m-1.5-1.3h0m-.8-1.7h0m-1.9 2h0m-1.2-1.6h0m-.5 2.1h0m-1.7-2.9h0m-5-.1h0m-.5 .9h0m-.8 3.7h0m-.4-4.8h0m0 2.9h0m-.7-.6h0m-1.6 2.5h0m-.9-3.6h0m-1.7 4.3h0m-2.7-2.4h0m-2.4 1.9h0m-.4-1.4h0m-.8 1.9h0m-.1-2.4h0m-1.2 .8h0m-.4-2h0m-1.2 1.3h0m-1.6 2h0m-.1-1.4h0m-1.5 1.1h0m-1.2 .6h0m1.7 4.9h0m.3-1.3h0m.1-1.5h0m.6 4.2h0m1.9-5.5h0m2.2 2h0m.8-2.2h0m.8 5.3h0m1.4-4.1h0m4.3-.7h0m1.3 4.6h0m.4-1.2h0m1.2 1.6h0m.8-1.2h0m0-1.6h0m3.5-.1h0m1.5 3h0m.7-1.3h0m2.2 0h0m2.1-1.3h0m1.4 1.8h0m1.3-1h0m3.1-2.6h0m1.3 2.6h0m2.4 .2h0m1.6-1.8h0m5.5-1.6h0m1.2 1.3h0m1 3.8h0m.2-1.4h0m.9 1.4h0m.1-4.6h0m1.8 .4h0m7.3 2.8h0m3.9-.4h0m1.3 1.4h0m.6-5h0m.1 2.3h0m3.5 .8h0m1.6-.2h0m1.7-2.7h0m9.1 1.3h0m1.1-.2h0m320.7-.2h0m6.6-.4h0m2.2 4.7h0m7.6-5.2h0m1.8 .7h0m1.7 2.6h0m1.5 1.7h0m1-2.8h0m4.1-2.4h0m1.2 2.2h0m3.2 3h0m2.7-4.1h0m3-.2h0m1-.8h0m.9 3.1h0m1 1.1h0m5.9-.9h0m.8-3.6h0m2.4 0h0m1.2 4h0m1.5 1.2h0m4.5 .3h0m4-2.5h0m.5-2h0m4.8-.4h0m7.2 3.8h0m.4-1.7h0m3.7-2.1h0m1.3 2.3h0m1.2 2.6h0m2.5-.3h0m1.4-3.7h0m.7 1.2h0m.2 1.4h0m1.8 1h0m.4-3.7h0m.7 2.7h0m1.7 .9h0m1.1 .4h0m3.2 5.3h0m-3.1-3.9h0m-3.6 2.9h0m-.2-2.4h0m-1.5-1.2h0m-.7 3.1h0m-.5-1.1h0m-4.6 1.9h0m-1.9-1.8h0m-3 1.9h0m-1.6 .4h0m-1-1.3h0m-2.6-1.3h0m-1.5 1.6h0m-.9-3.2h0m-2.8 4.8h0m-.1-2.5h0m-.3 .1h0m-.2-1h0m-.3 3.1h0m-1-4.5h0m-.7 4.2h0m0-3h0m-1.3 4.1h0m-.7-5.4h0m-1.7 4.8h0m-3.4-2.2h0m-1.7-1.8h0m-3 1.6h0m-3.5-1.1h0m-.8 2.7h0m-.5-2.5h0m-1.9 3.8h0m-.3-3.5h0m-2.1-.9h0m-3.3-1.2h0m-1.6 3.1h0m-1.3 1.8h0m-3.3-1.2h0m-1.2-1.8h0m-4.7 .9h0m-1.7 1.7h0m-4.9-.2h0m-3-4h0m-3.2 4.5h0m-346.1-3h0m-5.9-.9h0m-3.9 1.2h0m0-1.8h0m-.9 4.1h0m-5.3-2h0m-1.9 .2h0m-2.8-1.6h0m-2.3-.1h0m-1.6 .2h0m-1.3-.7h0m-1.9 5.3h0m-5.5-5.5h0m-1.1 .9h0m-.5 1.4h0m-1.5 1.5h0m-1.4-.6h0m-1.9-3h0m-.6 4.8h0m-1.5-3.8h0m-3.6-.4h0m-2.2 3.2h0m-.8-2.6h0m-2.3 3.5h0m-1.1-4h0m-4.7 .5h0m-1.1 2.4h0m-4.5-3.2h0m-.1 3.8h0m-2.5-3.8h0m-.8 3.3h0m-2.5-1.4h0m-.5-.5h0m-1.1-2.1h0m-1.3 1.9h0m-1.4 .2h0m-4.7 8.1h0m1.6-1.4h0m.4 1.3h0m1.2-1.2h0m1.6-2.6h0m.8 4.5h0m.3-4.6h0m1.5 .8h0m4.2 .1h0m.9 .6h0m5.4 2.9h0m.8-2.7h0m1 .3h0m.7 3h0m4.4-1.9h0m1.9-.3h0m.2 1.5h0m2.1-2.7h0m0-1.3h0m.4 3.8h0m.9-3.1h0m.8 3.8h0m2.5-2.2h0m1.2 2.7h0m1.7-2.7h0m1.6-.3h0m2.5-.1h0m.2 1.8h0m3.5-.3h0m.7-.1h0m2.6 .6h0m1.1-3.4h0m4.8 4.1h0m.6-5h0m.3 2.1h0m11.3 2.1h0m5.7-4.1h0m12.5 1.1h0m345.1 .9h0m15.2 3.5h0m.1-5.7h0m3.7 .8h0m.4 3.5h0m1.9 1.1h0m3-5.1h0m.8 4.8h0m.4-2.2h0m8.7 .7h0m.1-1.1h0m4.4-1.8h0m1.9 2.7h0m2.9 .9h0m1.9-.4h0m2-2.6h0m2.1 3.9h0m.9-4.4h0m.9-.9h0m1.8 4.2h0m5.6 .4h0m3.3-.4h0m5.5-4.1h0m1.2 .2h0m2.2 .3h0m.1 1.6h0m.3-.6h0m.2 2.7h0m1.9-2.9h0m.7 2.2h0m.3-.9h0m1.2-2.4h0m1.2 2.5h0m1.1 1.1h0m2.4 7.8h0m-.4-4.7h0m-1.1 1.6h0m-.4 1.8h0m-.2-2.4h0m-2.1-.9h0m-1.4 1.7h0m-2 2.8h0m-3.1-2.1h0m-.8-1h0m-.7-.8h0m-1.9-1.3h0m-2.3 4.1h0m-8.5 .9h0m0-4.1h0m-.3 1.4h0m-1.1-2.5h0m-4.3 1.5h0m-4.6 1.2h0m-.8-1.9h0m-.4 3.4h0m-.8-3.3h0m-2.7 3.5h0m-3.9-2.6h0m-2.8-2h0m-.2 1.6h0m-2 3.3h0m-2.4-2.5h0m-.6 .1h0m-1.7-.5h0m-.9 .8h0m-6-.4h0m-11.2 .4h0m-363.5-2.2h0m-6.9-.3h0m-8.3 1.5h0m-2.9-1.5h0m-7.3-.5h0m-5.9 5.9h0m-2-5.3h0m-2.5 .2h0m-2.1 3.9h0m-3.3-2.6h0m-2.5 .1h0m-1.5-1.5h0m-3.3 5h0m-.5-2.1h0m-7-1.3h0m-.7-2.2h0m-.8 4.6h0m-.1-1.4h0m-4.9 1.7h0m-1.7-1h0m-.9-3.2h0m-6.4-.6h0m-.1 1.8h0m-.7 .3h0m-.4 2.3h0m-.8-4.5h0m-1.3 4.4h0m-.5-3.2h0m-.5-1h0m-.9 2.7h0m0-1.2h0m-2.4 4.8h0m.8 1.6h0m.9 3.6h0m.7-2.1h0m1.9-2.4h0m3.2 4.6h0m2-2.5h0m2.9-1.2h0m1.7 3.5h0m.8-3.6h0m4.2 1.3h0m.8-.8h0m.3-2h0m.4 4h0m.3-2.7h0m2.1 2.8h0m1.5-1.7h0m4.3-.3h0m3.2-1.7h0m.2 .7h0m1-1.4h0m1 3.2h0m5.2 2.1h0m3.5-1.5h0m4.2 1.1h0m.3-5.1h0m1.2 .4h0m.6 5.3h0m4.3-5.2h0m5.1 4.9h0m4.9-5.2h0m5.8 2.5h0m1.3-1.9h0m382.5 2.4h0m6.8 2.1h0m.2-1.3h0m9.8-4.1h0m5.8 4.9h0m.7-3.5h0m2 3.6h0m2.5 .9h0m1.5-5.7h0m.1 2.4h0m.7 1.1h0m2.4-2.2h0m1.7-1.1h0m.6 4h0m1 1.3h0m4.2-3h0m3.8-.1h0m1.1-1.9h0m5.4 3h0m.8 2h0m3.3-1.4h0m2.2 1.6h0m2.6-3.7h0m.4-1.2h0m1.9 3h0m.8-3.1h0m.3 2.3h0m.5 2.1h0m3 4h0m-1.2 1.7h0m-.3-2.3h0m-1.1 .7h0m-.4 1.8h0m-1.5-4h0m-5.5 4.1h0m-4.6-4.4h0m-2.6-.6h0m-1.5 2.6h0m-3.4-2.1h0m-4.5 2.3h0m-3.8-1h0m-3.9 .5h0m-3.6 .5h0m-.4 .8h0m-1.1-3h0m-1 2.6h0m-1.1 1.9h0m-4.6-4h0m-.4-1.1h0m-.1 3.3h0m-4.9 1.6h0m-2.1-3.5h0m-6.9-1.6h0m-6.9 1.6h0m-378 1.7h0m-3.1-3h0m-11.6 3.2h0m-5.3-3.6h0m-1.8 3h0m-5.2-2.1h0m-.1 1.9h0m-4.7 .4h0m-1.8 1.1h0m-2.2-4h0m-.1 1.9h0m-2.2 3.1h0m-.7-4.5h0m-.3 1.9h0m-1.6 .5h0m-.7-1h0m-.2 3.5h0m-3.4-2.8h0m-14.3 2.1h0m-.2-1.7h0m-1.7-.1h0m-.4-2.9h0m-3.7 2.6h0m-5.6-2.7h0m-.6 4.4h0m0-3.1h0m-1.4 4.1h0m-.8-1.9h0m-1-2.7h0m-.5 4h0m-1.4-3.9h0m-2 6h0m2.5 1.1h0m3.1 .4h0m2.9-2.5h0m3.5 3.5h0m2.3-1.1h0m1.3-.6h0m8.3 1.7h0m1.9-.9h0m2.2-1.3h0m5.6 3.3h0m.4-3.5h0m.9 2.3h0m2 1.8h0m2.7 .2h0m.3-5.3h0m2.3 4.2h0m5.4-1.1h0m.9-.9h0m.6 3.3h0m2.9-5.6h0m.7 5.1h0m2.8-1.1h0m2.3-1h0m2.2 2.7h0m.7-1.6h0m402.9-1.1h0m4.4-1.2h0m.1-1.7h0m11.1 5.5h0m3.4-4.3h0m.4 .6h0m.3 2.1h0m2 .7h0m.1-4h0m2.6 4.3h0m1.9-3.3h0m2.4 .8h0m.5 2.4h0m0-.4h0m5.3-3.8h0m6.2 .3h0m.8 2.6h0m4.1-1.9h0m2.7 3.8h0m9.2-2.8h0m1.2-1h0m.4 2.3h0m.5-3.4h0m1.8-.5h0m.9 3h0m.4-1.9h0m1 6.2h0m-.8 .6h0m-2.1-1.3h0m-3.3 2.7h0m-10.2-2.8h0m-2 1.4h0m-.4 1.9h0m-.6-2.6h0m-1.3 1.1h0m-.6-2h0m-1.2 2.8h0m-1.6 .4h0m-13.1 1.5h0m-.3 .7h0m-1.5-4.1h0m-.4 3.9h0m-2.7-.9h0m-1.8-2.3h0m-.2 2.4h0m-1.1-2.7h0m-5.9 .8h0m-.5-.9h0m-.9 .9h0m-2.5-2.7h0m-6.4 .9h0m-392.1-.3h0m-10-.7h0m-9.3 4.8h0m-3.1 0h0m-.3-2.9h0m-1.5 .6h0m-.1-1.2h0m-1 3.6h0m-1.2-1.6h0m-3.3-.1h0m-.7-3.2h0m-1 2.4h0m-1.2-.6h0m-.6 1.7h0m-.8 2.1h0m-.6-.8h0m-3.7-2.4h0m-19.9 1h0m-.6-3.5h0m-2 5.7h0m-2.7-3.2h0m-3 1.8h0m-1.4-3.6h0m-4.9 .7h0m.4 7.4h0m1.1 0h0m0 1.8h0m2.6 .3h0m1-4.2h0m5.1 3.9h0m3 .5h0m.2-3.3h0m.9 3.1h0m3.9-3.6h0m3.7 .2h0m3.9 .6h0m1.6 .1h0m6.3-.3h0m4.9 2.6h0m2.6-2.4h0m3.4 .2h0m1.7-1.5h0m3.7 2.7h0m1.1-2.2h0m5.3-.1h0m1.8-.7h0m6.8 2h0m394.4-2.5h0m5 5.5h0m4.9-5.5h0m2.5 .4h0m.5 4.5h0m4.4-4.3h0m.5 1.9h0m2.5-.4h0m1.7-2h0m1.1 5.8h0m1.3-2.8h0m1.6-.6h0m2-1.5h0m3 2.1h0m2.2-1h0m7 .4h0m.3 1.3h0m3.5 .2h0m.7 .1h0m3.1-3.4h0m.1 2.1h0m1.2 1.7h0m7.6-.7h0m.9-1.7h0m.5 .7h0m0 3h0m.7-5.1h0m1 3h0m.2 1.6h0m3.3 .2h0m.4-5.1h0m-1.5 7.2h0m-.9 .2h0m-2.2 2.3h0m-.9-3.3h0m-1.7-.2h0m-2.1 2.5h0m-1.3-2.1h0m-4.2-.5h0m-.4 3.7h0m-3.2 .5h0m-1.7-4.4h0m-3.6 1.1h0m-.3 1.4h0m-6.7 2.9h0m-.1-2.3h0m-3.7 .9h0m-2.3-2h0m-3.7-1.6h0m-2.8 4.3h0m-3.2-4.3h0m-.1 2.8h0m-2.6-2.6h0m-4.9 0h0m-1.2 1.1h0m-405.7 3.3h0m-8-1.2h0m-2.6-1.2h0m-1.1-2.7h0m-1.4 5.6h0m-.6-1.4h0m-.5-2.3h0m-6.8-.9h0m-.3 3.3h0m-1.2-.6h0m-3.9-3.5h0m-1.6 2.2h0m-.5 1.7h0m-2.3-2.2h0m-5.4 3.1h0m-2.1-4.2h0m-.1 4.2h0m-5.2-.1h0m-1.1-5.1h0m-2 4.4h0m-.4-3.1h0m-2 .8h0m-.1 2.5h0m-2.3-4.2h0m-.9 .5h0m-4.5 2.4h0m-3.3-3.3h0m.7 8.4h0m2.4 .4h0m2.1-2.8h0m4.7 3.5h0m10.1 .6h0m3.9-.6h0m.1 1.8h0m1.2-3.3h0m5.2 1h0m1.9 1h0m2-3.4h0m1 3.8h0m.3-2.4h0m.7 2h0m2.8 .4h0m.9-.2h0m2-1.6h0m3.1-1.9h0m.3 1.7h0m.4 3.5h0m6.6-3h0m6 1.1h0m390.4-1.2h0m.9 2.1h0m6.8 .3h0m14.5-1.3h0m1.7 .4h0m2.8 .2h0m6 .3h0m.7-4.8h0m.1 4.3h0m2.4-2.7h0m.9 4.3h0m.1-2.3h0m1.6-.7h0m.2 .5h0m2.4-.8h0m1.3 1.8h0m9.8 .6h0m1.2 .7h0m1.6-1.2h0m6.5-4.2h0m.3 2.3h0m3.5 2.3h0m.4-2.5h0m2.6-2.2h0m.4-.2h0m1.9 4.1h0m-3.7 4.5h0m-8.6-1.7h0m-1.1 .4h0m-.6-1h0m-1.1 3.4h0m-1-3.1h0m-2.3 5.3h0m-.9-3.1h0m-2.7-1.1h0m-1 .8h0m-2.8-2.4h0m-2.2 .6h0m-.1 2.3h0m-2.1 1.7h0m-.9-2.4h0m-2.5 1.8h0m-1-1.9h0m-5.3-1.2h0m-.2 3.4h0m-.4 1.3h0m-.9-4.8h0m-2 3.3h0m-.1-2h0m-.1-.5h0m-6.8-.2h0m-6.1 4.3h0m-8.9-3.2h0m-397.1-.7h0m-2.2 .9h0m-2.8 1.7h0m-5.9-1.4h0m-.8-1.9h0m0 3.1h0m-1.6 1h0m-3.4-4.4h0m-.4-.7h0m-.4-.3h0m-1.4 5h0m-.7-4.8h0m-.4 .9h0m-1.3 .2h0m-2.1-1.3h0m-2.9 1.1h0m-3.5 3.4h0m-3.7-.6h0m-.2-1h0m-5.8-1.2h0m-1-1.3h0m-4.6 2.6h0m-2.5 2.7h0m-2.6-.9h0m-1.5-1.7h0m-1.4-1.4h0m-1.5 .7h0m4.5 4.1h0m1.1-.5h0m0 1.3h0m1.2 3.9h0m.7-.7h0m3.1-3.7h0m1 4.5h0m.8-4.2h0m.6 4.6h0m1.2-1.2h0m.8 .6h0m2.7-4h0m1.4 4.8h0m2.1-.8h0m2.1 .1h0m1-4.1h0m4.3 2.8h0m.3 .8h0m0-1.9h0m2.6 .6h0m.9 2.6h0m1.8-1.5h0m.6-3.7h0m2 1.6h0m2.5 2.4h0m3.2 .6h0m4.1-3h0m3.1 1.5h0m.2 1.8h0m2.7 .2h0m4.9-1.1h0m6.8 1.1h0m387.7-3h0m5.5 1.8h0m1.9-1.4h0m1-1.3h0m1.5-.3h0m6.1 1.7h0m2.1-2.8h0m.4 3.4h0m3.5-.8h0m.5-.1h0m.3-1.5h0m3.4-.7h0m0 2.1h0m2.4-.5h0m2.6-.3h0m1.1 1.1h0m.7-1.7h0m1.3 1.2h0m1.8-.2h0m1.2 2.8h0m.6-2h0m9.1-2.1h0m.8 .2h0m2.9 .3h0m.1 3.6h0m.5 .4h0m.2-2.3h0m2 1.7h0m.2-1.7h0m2.1 2.4h0m.6-.9h0m1.3-4h0m.6 1h0m2.1 3h0m.5-.5h0m.3-4h0m.3 .3h0m-3.2 6.1h0m-.3 2.1h0m-.3 .1h0m-4.1 .3h0m-.3 1.5h0m-2.5-1.7h0m-1-2.7h0m0 4.7h0m-.6-1.5h0m-.4 .7h0m-2.1-2.6h0m-1 3.8h0m-10.2-2.9h0m-1.1-.8h0m-3.6 1.6h0m0 .4h0m-.3 .3h0m-2.9-.8h0m0-2.8h0m-3.1 2.4h0m-2.6-.8h0m-1.2 2.2h0m-5.1-1.9h0m-1.2 0h0m-1.4-.7h0m-8.6 4h0m-4.2-1.3h0m-5-.5h0m-375.9-1.1h0m-5.2-1.6h0m-3.1-.3h0m-3.1 3.8h0m-1.6-.1h0m-.1-3.6h0m-6.2 .5h0m-.5 2.9h0m-2.3-1h0m-1.7-3h0m-.8 4.3h0m-.6-3.6h0m-.9-.8h0m-.9 3.1h0m-2.4-.7h0m-1.9-1.6h0m-.5 2.1h0m-.3 .9h0m-1-3h0m-2.3 2.8h0m-.1-2.1h0m-6.2 3.3h0m-.2-2.4h0m-1.7 2.1h0m-.5-4.2h0m-.7 4h0m-.8-3.4h0m-2.9 3.4h0m-.5 1.1h0m-.1-4.8h0m-4.9 3.8h0m-.9-2.3h0m-1.1-2.1h0m-.8 3.2h0m-.2 1.7h0m-1.9-1.1h0m-4.9-2.8h0m6 4.9h0m.1 2.3h0m4 1.3h0m.1-2.9h0m.7 4.9h0m1-5.9h0m1.2 4h0m1.4 1.8h0m2.4-1.7h0m.5-1.8h0m.3 2.4h0m.6-.3h0m2.5-4h0m1.7 3.2h0m1.3-1.1h0m.1-1.4h0m.1 3h0m1.1 .9h0m2.6-1.4h0m1.4-1.2h0m.3 2.9h0m2.6-4.6h0m1.8 2.4h0m2.3 2.2h0m1.5-2.6h0m1.1 1.1h0m1.1-1.9h0m4 2.4h0m.1 .9h0m1.6-.5h0m2.3-3.8h0m0 2.4h0m2.7 2.2h0m4.2-2.6h0m.7-1.6h0m.3-1h0m2.8 1.5h0m1.3 2.3h0m2-1.8h0m15.4 1.3h0m351.5 1.9h0m4.1-1h0m4.5-.5h0m.1 1.5h0m1.8 .5h0m10.3-2.8h0m.3-2.3h0m6.3 3.5h0m3.6-2.9h0m.5 4.4h0m3.3-1.5h0m3.5 .6h0m1.7 .1h0m1.7 .5h0m.4-3.8h0m.9-1.1h0m1.3 2.9h0m1.3-.3h0m.1-1h0m1.3 1.3h0m.2-1.4h0m1.3 1.9h0m3.6-.9h0m3.2 1.1h0m2.3-.4h0m1.8-.1h0m.6-3.5h0m1.3 1.2h0m.6 2.8h0m.8 1.6h0m1.6-4h0m1.3 2.8h0m.9-2h0m1.6-.2h0m1.1 2.9h0m.5-3.7h0m-3.8 7h0m-1 1.2h0m-.5-3h0m-.7 1.1h0m-1.1 3.7h0m-.5-3.6h0m-.3 2h0m-2.1-2.8h0m-1.9 1.1h0m-.4-1.8h0m-.7 4.1h0m-14.3-1.4h0m-1-1.4h0m-3.7-1.4h0m-.2 4.4h0m-6.5-3h0m-.6 3.2h0m-.2-2.5h0m-1.8-1.2h0m-1.3 3.6h0m-.1 .9h0m-4.5-2.7h0m-5.6-.7h0m-3.1-.6h0m-4 2.3h0m-2.3-3h0m-3.3 1h0m-.4 .4h0m-2.7 2h0m-5.1-.1h0m-6.7-.9h0m-11.1 1.3h0m-309.9-1h0m-13.2-3.8h0m-1.5 2.9h0m-2.6 2.2h0m-9.3-2.2h0m-1.9-2.9h0m-.8 2.3h0m-.9 .5h0m-1-1.3h0m-1 .7h0m-4.6-.2h0m-.9 3h0m-2.8 .9h0m-.4-1.5h0m-3.3 1.1h0m-3-.7h0m-1.4-4.1h0m-1.4 4.8h0m-3 0h0m-.1-1.6h0m-1.8-1.3h0m-.8-2.5h0m-1.2 2.9h0m-1-.3h0m-.9-2.4h0m-.9 4.2h0m-.5-1.4h0m-1.5-2.8h0m-.8 3.7h0m-2.8 .1h0m-2.9-2.8h0m-1.6 .1h0m-7.8-.6h0m-2.2 4.4h0m-.4-3.8h0m-.5 1.2h0m-.6-1.8h0m-1.4 1.9h0m-2.2 .4h0m-1.3-1h0m-.5-.5h0m3.2 5.1h0m1.4-.3h0m6.2 .5h0m.4 4.8h0m1.6-.3h0m7.7 .5h0m2.1-1.1h0m.9-3.9h0m3 1h0m3.6-1.9h0m6.8 3h0m2.7 .3h0m.9 .2h0m.7-2.4h0m.1 3.9h0m2.8 .2h0m3.9-2h0m.2-3.3h0m.3 3.4h0m.6-.9h0m10.8 3.3h0m3.3-4h0m.8-1h0m.3 4h0m4.6-4.5h0m.1 5.7h0m.2-3h0m1.7 2h0m.7-3.2h0m2.1 .1h0m8.4 3.2h0m7.9 .1h0m6.4-2.1h0m.9 2.9h0m293-.3h0m8.1-1.7h0m4.1 .8h0m3.9-3.3h0m3.8 2.9h0m.6-.6h0m4.5 2h0m1.2-.7h0m.1-1.2h0m2.2-2.2h0m1.1 2.8h0m1.5-4.2h0m9.5 3.8h0m2 .6h0m.5-3.2h0m1.6 2.2h0m2.8-2.5h0m1.1 4.1h0m1.4-3.9h0m3.8 2.5h0m3-1.5h0m.7 1h0m1.1-3.2h0m1.2 .7h0m6.4 2.4h0m3.6 2.4h0m1-3.8h0m2.6-1.5h0m2.3 2h0m1.5 3.4h0m2.2-2h0m.1-1.2h0m.4-2.6h0m2.9 5.3h0m3.4-4.4h0m1 3h0m-2.7 5.1h0m-.2-2.7h0m-2.1 2.2h0m-11.8-1.1h0m-2.5 3.3h0m-2.7 .1h0m-4.1-2.1h0m-.8-2.2h0m-5.1-.2h0m-.4 2.5h0m-1.8-.7h0m0 1.9h0m-3.4-2.8h0m-1.4 .4h0m-1.2-.5h0m-2.1 3.7h0m-1.8-4.2h0m-1.3 4.6h0m-.8-3.5h0m-.3-1.6h0m-1.4 1.6h0m-1.3 .4h0m-1.5-.8h0m-1.9 3h0m-2.3-3h0m-.1 2.5h0m-3.3 .6h0m-8.1-1.9h0m-5.2-.8h0m-1.9 1.5h0m-9.1 2.2h0m-2.8-2.2h0m-18.3 1.6h0m-262.7-4.1h0m-8.3 1.7h0m-3 .5h0m-3 3.1h0m-3.6-5.8h0m-5 .4h0m-4.6 5.1h0m-4.1-3.4h0m-.3 2.1h0m-5.2-2.2h0m-.6-1.3h0m-1.3 3.2h0m-3-1.4h0m-1.4-1.2h0m-.3 .9h0m-.5 3.4h0m-6.2-1.5h0m-.6-2.8h0m-1.9 1h0m-1.6 2.9h0m-4.2-4.6h0m-.9-.1h0m-.4 3.9h0m-.3-2.4h0m-4 .3h0m-1.3 .3h0m-.4-2h0m-3.5-.8h0m-1.9 .3h0m-1.1 4.9h0m-4.9-4.4h0m-1.8 2.6h0m-1.8 2.2h0m-3.6-.8h0m-.3 .8h0m-6.4-1.1h0m9.8 3.9h0m6.3-1.3h0m.9-1h0m1.1 5.4h0m1.6-3.2h0m5.2 2.4h0m.6 .9h0m3.8-2h0m.6-1.3h0m.1 2.2h0m3.5-1.5h0m9.6-2.3h0m.8 5.3h0m.6-5.4h0m.9 2.6h0m.3 .6h0m3.4-2.3h0m2.5 1.6h0m.2-2.5h0m.1 2h0m.7-.4h0m1 2.9h0m3.5 .2h0m3.3-.5h0m2.4-.2h0m4.3-4.3h0m2.1 2.7h0m.2-2.8h0m.3 4.1h0m2.5-2.6h0m2.1-.7h0m.8 .8h0m3.8 4h0m1.6-2.3h0m3.6 1.2h0m.9-3.1h0m9 2.2h0m1.5-2.2h0m27.7-.9h0m155.3 4.6h0m41.8-1.6h0m7.9 .6h0m2.6-2.3h0m2.4 1.2h0m10.4-1.4h0m12.2 4.1h0m2.7-1.4h0m4-4.3h0m4.1 1.2h0m2.6 4h0m2.1-3.4h0m6.6 3.2h0m2.5-3.1h0m1.1-1.8h0m1.4 1.9h0m2.3-1.9h0m1.7 3.3h0m.8-3.5h0m3.2 3.9h0m1.6-3h0m1.9 4.3h0m.9-2.1h0m.4-2.5h0m1.2 3.1h0m1.4-.7h0m5 1.9h0m.7-4.6h0m1.8 1.7h0m9.8 2.8h0m4.1-4.4h0m4.6 .2h0m.1 3.9h0m1.7 .5h0m6.4-1.9h0m1.6-1.7h0m4.1 3.2h0m.7-2.7h0m9.3 .3h0m-3.3 4.3h0m-1.7 2.1h0m-2.3-.2h0m-.8-1.8h0m-3 .9h0m-3.1-.3h0m-2.9 1.2h0m-.6 1.3h0m-2.2 .6h0m-6.9 .6h0m-5.8-1.5h0m-4 .9h0m-3.6-2.1h0m-2.3 1.1h0m-1.4 2h0m-.6-.4h0m-3.7-1.7h0m-1.7 2h0m-5.3-5.2h0m-.3 4.2h0m-1.9 1.3h0m-2.7-5.3h0m-1.2 5.5h0m-.2-5.5h0m-.7 1.8h0m-.9-1.7h0m-1.4 .5h0m-3.6 2.9h0m-1.5 .4h0m-2.5 1.4h0m-1.2-5.1h0m-8.2 2.6h0m-.5 .8h0m-5.5-.3h0m-10.7-.8h0m-8.3-.1h0m-3.6 2.8h0m-11.6 .5h0m-5-.1h0m-5.2-2.6h0m-6.6 2.4h0m-6.7-5h0m-12.5 3.3h0m-48.9-.5h0m-48-.1h0m-5.4 .1h0m-9.3-2.4h0m-31.2 .7h0m-6 2.4h0m-9.3-2.5h0m-8.2 4.1h0m-4.6-2h0m-10.6 .9h0m-3.6 .8h0m-3.2-.9h0m-1.9-3h0m-4.3 4.3h0m-3.4-1.6h0m-2.1-2.9h0m-1.9 1.6h0m-5.2 .9h0m-.7-2h0m-.3 3.1h0m-.5 .7h0m-2-4.4h0m-.2 .9h0m-1.6 3.3h0m-1.2 .3h0m-.2-1.3h0m-.1-3.3h0m-1.2 4.2h0m-3 .6h0m-1.1-5.6h0m-4.9 .3h0m-.4 2.4h0m-2.4-2.4h0m-3.5 3.2h0m-8.6-2.6h0m-.4 .8h0m-4.5 1.8h0m-2.8 1.8h0m-3.2-4.8h0m-.5 3.7h0m-7.3-3.8h0m-2.2 2h0m-3 1.8h0m-7.4-4.1h0m-4.8-.1h0m0 3.5h0m-.2-1.4h0m-7.4-1.3h0m-.9 2.1h0m9.8 6.4h0m.7-3h0m9.9-.6h0m9 4.6h0m.1-.8h0m4.8-1.7h0m.1 3.3h0m6.5-2.3h0m6.9-1.8h0m1.9 0h0m2.4 .7h0m1.2 1.2h0m.3 2h0m.4-3.7h0m6.7-.1h0m.6 .6h0m.3 3.7h0m1-2.8h0m3 .6h0m.4 1.7h0m.6-4.3h0m4.5 4.1h0m1.2-4h0m.2 3h0m.8-.5h0m2.4-1h0m.6 1.8h0m3.5-.4h0m1.1 1.3h0m2.2-1.9h0m.6-1.3h0m2.7 .3h0m.4 2.1h0m1.3-3.5h0m4.4 2h0m13 1h0m.1 .3h0m2.3-.9h0m1.1 .9h0m2 .5h0m3 .2h0m2.8-3h0m.5 .6h0m4.8 2.5h0m2-4.7h0m4.5 3.5h0m3.9-3.1h0m2.3 2.5h0m12.9 1.5h0m2.3-.8h0m72.3-2.4h0m2.5 4.1h0m3.9-.4h0m8.4 .4h0m14.2-1.6h0m22.1-1h0m6.4 2h0m3 0h0m16.1-.9h0m.5-3.2h0m8.4 .1h0m15 1.8h0m2.3 1.8h0m9.2-.3h0m2.2-3.2h0m2.4 .6h0m8.2 3.4h0m6.5-.1h0m.9-3.7h0m1.6 2h0m3.1-2.8h0m.7 5.3h0m.5-4.4h0m.1 1.4h0m9.9 1.9h0m3.3 .6h0m8.2-3.8h0m.6 1.8h0m0-2.2h0m3.5 1.5h0m10.5-2.6h0m2.8 5h0m2.9-3.3h0m1.9 2.7h0m2.7-1h0m2.9-2.4h0m16.1-.9h0m7.1 0h0m-18.1 6.8h0m-1.3-.1h0m-3.2-.8h0m-4.1 1.5h0m-2.9 4.1h0m-2.2-3h0m-6.3-1.2h0m-1.1-1.2h0m-8 .4h0m-.4-.1h0m-.8 4.5h0m-5.4 .2h0m-5.3-4.2h0m-4.1-.8h0m-1.8 2.3h0m-5.8-2.6h0m-1.4 3.6h0m-2.6-1.3h0m-1.2 2.8h0m-4.3-1.3h0m-1.1-2.7h0m-6.3-1h0m-1.2 .2h0m-2.5 2.2h0m-1.4 .4h0m-3-.2h0m0 1.5h0m-3.2 .5h0m-.4 .7h0m-1.1-2.3h0m-.2-2.6h0m-1.9 1.8h0m-3.1-.1h0m-3.3 2.1h0m-2.5-1.1h0m-.9 1.6h0m-5.9 1.1h0m0-4.8h0m-3 4.5h0m-11.3-3.1h0m-2.9-1.1h0m-6.1 2.4h0m-1.7 .6h0m-5.8-1.3h0m-.7 .4h0m-1.6 1.5h0m-8 .5h0m-22.7-.9h0m-.6-1.7h0m-18.1 1.7h0m-.5-3.9h0m-.3 2.1h0m-3.2 1h0m-1.4 .8h0m-6.6 .9h0m-5.1-.8h0m-7.1-4.5h0m-5.9 5.6h0m-4-2.9h0m-5.4-2.7h0m-6.4 .3h0m-6.4 3.6h0m-2.2-1h0m-8.2-1h0m-2.9-1h0m-3.5 3.5h0m-12.3-3.6h0m-6.7 .1h0m-1.5 3.8h0m-9.1-1.8h0m-2.5 1.4h0m-.9 1.2h0m-4.5 0h0m-.7 .1h0m-7.3-.4h0m-1.5-3.1h0m-.5-1.2h0m-1.6-.3h0m-2.9 1h0m-1.5 1.8h0m-3.4 1.9h0m-.7-2.4h0m-.7 1.5h0m-.8-2.9h0m-1.8 3.5h0m-5.3-3.2h0m-2.3 2h0m-2.8-3.9h0m-1.7 .6h0m-2.1 2h0m-2.1-1.2h0m-.3 2h0m0-.9h0m-2 3.3h0m-1.7-4.5h0m-3.8 0h0m-1.7-.1h0m-.4 2.3h0m-4.6 .3h0m-1.8-2.5h0m-.9 4.1h0m-6.4-.3h0m-1.2-4h0m-.1 1.8h0m-1.1-1.6h0m-4.9 .9h0m-.7 2h0m-6.4-.6h0m-.2-1.2h0m-5.5 3.4h0m-.5-5.2h0m-.1 2h0m-3 1.4h0m-1.3-2.4h0m-4.7-1h0m-3.3 4.7h0m-2.9-.5h0m-.9 .2h0m-.6 .1h0m-2.5-1.3h0m-1.3 2.1h0m-2.4-1h0m6.9 4.4h0m2.1-3h0m1.4 2.4h0m2.4 2.2h0m2.7-.5h0m3.6-4.5h0m.1 1.4h0m6 2.9h0m1.3 1.6h0m0-3.7h0m3.5-.4h0m1 3.9h0m.5-3.1h0m.8-2.3h0m1 3.6h0m5.7-2.1h0m7.4 2.9h0m2.7 .7h0m3.1-4.5h0m3.1 2.1h0m1.9 1h0m1.1-1.9h0m2.9-.7h0m3.3 4h0m3.7-1.8h0m5.7 1.8h0m1.1-1h0m3 .8h0m3.7-3.3h0m.8 1h0m3.6 2.8h0m4.9-4.4h0m.5 2.1h0m5.4-1.2h0m4.6 3.2h0m4.8-4.2h0m7.1 1.9h0m7 1.5h0m3.2-.3h0m.1-4.2h0m1.6 4.5h0m5-2.2h0m4.5 1h0m2-.3h0m1.3 1.5h0m0-3h0m2.8-.1h0m1.6 1.9h0m3.9-1.5h0m9.8 1.8h0m4.6-.5h0m4.5-1.9h0m2.7 1.6h0m1.4 1.8h0m1.1-1.9h0m4-1.9h0m3.9 1.2h0m2.5 1.2h0m4.2 1.9h0m10.5 .2h0m1.5-3.6h0m3 4h0m8.9-.3h0m5.9-1.1h0m6.3-1.2h0m7.6-1.4h0m.9 .8h0m.7 3.2h0m.3-5.6h0m3.2 5.3h0m5.7-.1h0m5.7 .6h0m2-3h0m2.8 2.4h0m7-1.2h0m8.9 .4h0m.1-2.5h0m3.4-.1h0m.4 3h0m.9-1.8h0m.8 1.4h0m8.5-3.8h0m1.9 4.2h0m3.3-2.7h0m.7 .4h0m.6 2.6h0m.5-3h0m2.9-1.7h0m.7 3.3h0m.4 .4h0m6.2-1.1h0m5.2-1.8h0m2.8-1.1h0m5.3-.2h0m7.4 5.4h0m8.8 .1h0m1.1-2.4h0m2.4 2h0m5.2-1.6h0m2.1 2.1h0m.7-2.7h0m.4-1.7h0m6.8 1.6h0m0-2.8h0m2.1 .6h0m4.4 3.8h0m1.4 .7h0m3.4 .2h0m1.6-4h0m2.7 4h0m2.6-3.1h0m3.7 2.8h0m5.4-1.5h0m1.8-2.2h0m1.9 .4h0m2.1 1.2h0m1.1-.1h0m3.3-2h0m3.2 4.8h0m.6 .2h0m6.9-3.3h0m-15.8 4.6h0m-1.6 4.5h0m-1.1-3.1h0m-.7 1.1h0m-2.5 1.8h0m-.5-1.6h0m-.6 1.4h0m-1.6-4.7h0m-4.3 4.8h0m-.4-1.6h0m-.5-3.7h0m-1.6 1.6h0m-4.1 .4h0m-14.7-1.1h0m-2.8-.1h0m-1 2.6h0m-.2-.8h0m-.1 0h0m-2.5-1.7h0m-.3 2.8h0m-7.1-.5h0m-.7 1.1h0m-.5-2.3h0m-9.8-1.7h0m-2.8 0h0m-1.8 3.3h0m-1.7-1.1h0m-3.5-1h0m-2.8 .8h0m-1.4-.7h0m-6.6 4h0m-1.9-2.3h0m-14.6-2h0m-3-.2h0m-2.1 1.9h0m-1.2-2.9h0m-4.2 1.7h0m-1.4 0h0m-1.6 .3h0m-.7 2.4h0m-1.2-3.1h0m-2.3 3.9h0m-3.1-2.3h0m-2-.2h0m-.9 .5h0m-2.2-1.3h0m-.3 3.8h0m-.9-4.5h0m-.3 4.3h0m-3.7-1.4h0m-1.8-1.9h0m-.3 2.5h0m-1.9-2.8h0m-4.8 .2h0m-4.8 .5h0m-3.1-.6h0m-2.2-1.4h0m-5.6 1.9h0m-1.1 2.8h0m-6.8-3.1h0m-8.4 .7h0m-1.9-.7h0m-.7-2.3h0m-.1 4.5h0m-3.4-1h0m-2.4 1.3h0m-.1-3.1h0m-1.2 2.5h0m-1-2.7h0m-3.4 3h0m-.1-1.4h0m-3.6-.4h0m-.6 1.4h0m0-2.5h0m-1-1.1h0m-4.3-.2h0m-1.3 4h0m-4.2-2.8h0m-4.1 1.5h0m-.8 1.1h0m-3.9-1.3h0m-.8-2.6h0m-.5 3.7h0m-.8-1h0m-1.1-1.6h0m-3.7 3.9h0m-4.2-1.2h0m-3-.3h0m-1.6-2.3h0m-5.5 3h0m-2.5 .7h0m-4-5h0m-2.9 .2h0m-1.2 5.3h0m-.9-4.3h0m-3.1 3h0m-3-.1h0m-8.6-1.2h0m-6.1-.1h0m-.6-2.8h0m-3.2 3.9h0m-.4-2.3h0m-2.2 2.9h0m-3.6-3.5h0m-6.1-.4h0m-1 3.1h0m-2.3-1.5h0m-1.9 .4h0m-4.6 .8h0m-.1-2h0m-2.5 0h0m0-1.4h0m-1.8 2.5h0m-9.7 3h0m-5.1-2.2h0m-.2 2.4h0m-4.6-5.9h0m-1.8 4.7h0m-7-3.7h0m-4.9 4.5h0m-3-3.5h0m-1.9-.7h0m-1.1 0h0m-5.6 3.2h0m-2.6-3.3h0m-1.4 .7h0m-3.7 2.3h0m-1.7 .4h0m-2-1.3h0m-1.8-.6h0m-2.3-1.7h0m-1.2 4.7h0m-2.6-5h0m-1.2 5.2h0m-1.9-.6h0m-.6-1h0m-5.6-2.6h0m16.5 8.3h0m.4 1.4h0m4.7-1.5h0m5.8-.3h0m.8 .1h0m3.2-2h0m2.1 1.7h0m11.1 2.2h0m2.6-5.4h0m.5 2.9h0m3.3-3h0m2.1 3.8h0m1.8-2.1h0m3.9 3.3h0m1.6-2.2h0m1.3-2.8h0m1.6 .4h0m2.1 2.6h0m6.4 2.1h0m1.4-4.3h0m2.9 4.9h0m.7-2.9h0m4.7 1.6h0m3.9 1.4h0m1.5-3h0m.8-1.9h0m1.1 4.4h0m10.2-2.3h0m.4-2.5h0m2.5 3h0m3 1.6h0m3.4 .2h0m.2-2.4h0m7.8-.9h0m3.6-2.1h0m2.5 .2h0m2 3.1h0m2.4-.4h0m6.1-1.7h0m12.5-1h0m.3 1.4h0m3.3 1.4h0m1.1-2.6h0m.1 4.7h0m1.5-2h0m3-2.3h0m0 4.8h0m.8-4.7h0m.4 5.1h0m2-4.9h0m.1 4.6h0m.3-2.4h0m.8-1.9h0m2.3 2.1h0m.2 .9h0m6.4-4.1h0m.9 .7h0m3.2 .2h0m.4 3h0m8.2-.1h0m1.1 0h0m1.7 .2h0m.3-2h0m1-1.3h0m1.8-.7h0m2.3 4.2h0m1-.5h0m.6 1.6h0m1.5-1.3h0m.8 .3h0m1.2-4.6h0m3.5 5.6h0m.6-2.7h0m.3 1.5h0m1.3-1.4h0m2.4-.4h0m1.1 3.2h0m3.3-5.4h0m.1 4.7h0m3-1.3h0m2.6-1.3h0m2.4-.3h0m.9 .7h0m6.3-1.9h0m.4 1.5h0m1.3-.5h0m.6 1.7h0m1.9 .9h0m1.2-1.5h0m.4-2.3h0m3.5 1.7h0m.1-1.9h0m.2 5.4h0m2.6-2.3h0m.7-3.3h0m1.4 2.5h0m3.6-1.5h0m11 1.2h0m6.3 1.7h0m1.3-.4h0m5.4-.3h0m2.2-1h0m2.3-.2h0m2-1.2h0m6.5 .8h0m.1 2.6h0m1.1 0h0m1.3-1.6h0m.8-1.8h0m3.4 1.6h0m4.1-1.6h0m1.7-.3h0m.8-.3h0m6.7 4.4h0m2.6-1.2h0m1.6 .9h0m.9 .6h0m8 .5h0m1-1.1h0m1-3.7h0m8.4 3.2h0m8.3-3.3h0m4.9 2.4h0m2.8-1.9h0m.3 1.8h0m5.1 .5h0m1.3-3.1h0m.3 .6h0m.2 3.5h0m1-4.7h0m2.4 3h0m.5 2.8h0m4.8-3.9h0m2.6 3.6h0m1.9-2.7h0m3.9 .4h0m-8.1 3.4h0m-3.8 .1h0m-3.1 5h0m-2.1-.4h0m-11-5.1h0m-4.4 1.7h0m-2.8 .7h0m-13.3-1.4h0m-2.5 2.5h0m-4.9 .3h0m-18.8 .5h0m-8.4-4h0m-2.8 3.6h0m-2.4 1.1h0m-6 .3h0m-4.3-2.9h0m-8.6 3.1h0m-6.7-3.5h0m-1.4-.2h0m-2.6-.3h0m-1.6-.9h0m-2.8 4.8h0m-.2-1.4h0m-.7-2h0m-.7 .8h0m-.7 1.4h0m-1.8 .8h0m-1.5-3.3h0m-1.5 2.1h0m-1.2-1.5h0m-.9-1.5h0m-.5 1h0m-5.5 3.4h0m-1.6-3.5h0m-1.1 1.7h0m-1.3 1.4h0m-5.3 .1h0m-1.4-1.7h0m-2.7 .5h0m-2.6-2.1h0m-1.4 .7h0m-.6 1.2h0m-3.6 1.3h0m-1.3-2.3h0m-3.1-1.3h0m-1.6-1h0m-2.3 3.6h0m-2.2 1h0m-3.9-4.1h0m-2 1.2h0m-1.3 1.1h0m-1.4 .5h0m-4.3-.9h0m-10-1.6h0m-.7-1h0m-.4 3.9h0m-1.6-4.1h0m-4.4 .3h0m-2.8-.2h0m-10 5.2h0m-.8-1.3h0m-1-.2h0m-2.1 1.8h0m-5-1h0m-2.1 .8h0m-6.1-4.2h0m-1.3 2.2h0m-2.7-.6h0m-5.3 2.5h0m-1.6-3.2h0m-11.4-.4h0m-4.8 1.7h0m-.6-1.6h0m-1.3-1.7h0m-3.5 1.1h0m-2.1 2.3h0m-5.2-.1h0m-.1-1.7h0m-2.9 2h0m-1.2 2.1h0m-3.6-.6h0m-3.9-2.9h0m-5.1 .7h0m-3.1-.9h0m-7.7 .8h0m-1-2.8h0m-3.2 0h0m-3 2.1h0m-5.1-1.9h0m-11.3 1.9h0m-1.7 .3h0m-3-2.1h0m-.2 3.4h0m-3.4 1.3h0m-.5-2.3h0m-.1 2.9h0m-1.9-3.8h0m-3.7 .6h0m-2.3 .3h0m5.6 3.6h0m1.7 1h0m2.9-1.2h0m2.5 .8h0m3.3 .1h0m3.9 1.5h0m4.7-.8h0m4.5-.3h0m1.7-1.1h0m.6 2.6h0m1 1.5h0m2.3-1.9h0m4 2.5h0m.5-1.6h0m2.5-2.2h0m7.2 1.9h0m2.7 .7h0m1.6-3.2h0m4.6 2.3h0m3.2 1.2h0m.2-.8h0m2.5-.7h0m9.2-1.4h0m.1 3.3h0m.5-1.9h0m10.1-1.2h0m4.1 2h0m3.5 .2h0m3 .3h0m2.7-2.6h0m3.4 .9h0m.8-.6h0m3.7 4h0m1.1-4.1h0m11.7 4.4h0m.1-5.9h0m.6 2h0m8.3 2h0m4.1-3.2h0m.9 3.1h0m1.1 .6h0m4.2-2.8h0m6-1.7h0m2.9 5h0m2-3.6h0m1.1 1.3h0m7.9-2.4h0m5.1 4.1h0m.3-3.4h0m11.7 3.4h0m4.2-.6h0m2.5-.4h0m4.2 1.9h0m1-4.1h0m4 1.7h0m1.3 1.3h0m2 1.1h0m8.6-.7h0m2.9 .5h0m.1-5h0m7.8 2.4h0m1.2 2h0m2.4-1.1h0m1.5 1.5h0m9.7-1.8h0m8.9 0h0m5.3-.6h0m20.7-1.8h0m2.3 3.8h0m7.3-4.6h0m7.5 4.1h0m.4-1.6h0m.7 2.8h0m.4 .6h0m5.8-4.9h0m.7 3.8h0m.8-3h0m3.5-1.2h0m.6 2.3h0m.5-2.3h0m1.6 3.4h0m3.8-3.1h0m4.7 .3h0m5.5 2.5h0m.3-2.6h0m-4.9 9.1h0m-.5-3.7h0m-4.5 4h0m-12.1-1.3h0m-8.9-2.2h0m-1.6 2h0m-6.8 .7h0m-5.7-3.2h0m-4.6 1.2h0m-.9 2.8h0m-3.1-.9h0m-1.5 1.6h0m-6.8-1.7h0m-6.6-1.6h0m-4.1 4h0m-4-2.5h0m-5.6 .6h0m-1.3-.3h0m-10.7 1.7h0m-2.6-1.3h0m-2.7 1.4h0m-.9-4.9h0m-.3 1.7h0m-2.1 2h0m-.2-1.4h0m-.8-2.3h0m-.6 3.3h0m-5.1 1.5h0m-5-3.2h0m-2.9 2.3h0m-.7-2.8h0m-6 .8h0m-.7 2.6h0m-3.9-4.8h0m-6.4 1.2h0m-1.2-1.3h0m-1 2.7h0m-1.8-2.4h0m-.4 2.9h0m-3.6-.9h0m-4.9-2.2h0m-12.2 3.9h0m-2.7-1.1h0m-1.3-2.5h0m-.1 5.2h0m-1.7-3.8h0m-3.1-1.4h0m-3 4.2h0m-.9 .2h0m-12.1-.7h0m-4.6-.2h0m-3.6-1.4h0m-5.7-.4h0m-2.8-1.3h0m-1.5 3.2h0m-.5-1h0m-1.6-.1h0m-.8-2.1h0m-1.4 3.9h0m-1.7 .6h0m-1.4-5.4h0m-6.8 0h0m-8.4 .7h0m-2.8 2.4h0m-.7 1.5h0m-5.7 0h0m-3.2-1h0m-.6 1.2h0m-4.1-3.3h0m-3.3 2.9h0m-2.9-3.6h0m-1-.5h0m-5.3 .3h0m-5 3.5h0m-2.8-1.4h0m-2.5-.7h0m-.4-1.4h0m-2.1 4.5h0m-.1-3.6h0m-.2-1.6h0m-5.2 5.2h0m-1.6-2.3h0m-.3 1.1h0m-6.1 .6h0m-2-.7h0m7.8 2.9h0m5.6 .5h0m1.3 2.7h0m3.1 0h0m6.6-1.5h0m6 2h0m8.1-2.1h0m3.9-.1h0m.6-2.1h0m21.7 1.4h0m1.5 3.7h0m4.3-3.3h0m.9 2h0m1.8 1h0m.5-1.1h0m2.2-.9h0m0-2.1h0m12.6 .9h0m3.3 2.8h0m1-1.8h0m4.1 1.5h0m8.6-.4h0m2.1-3.3h0m.5 4.7h0m3.5 .3h0m5.1-.6h0m.8-4.4h0m1.5 .1h0m.4 3.8h0m4.1-2.9h0m2 1.6h0m3.9-1.5h0m.9-1.2h0m7.1 4.7h0m3.2 .7h0m2.2-4.4h0m1.5 3.9h0m2 .5h0m5.1-1.1h0m4.3-3.5h0m.9-1h0m5.7 .8h0m9.1 1.7h0m.3-2.1h0m.8 2.8h0m8.9-1.2h0m3.6-1h0m11.5-.6h0m.4 3.5h0m.2-4.2h0m1.5 4.1h0m1.7-2.8h0m6.2 3h0m4 1.4h0m9.5-3.2h0m2.6 1.5h0m7.3-2.4h0m1.4 2.2h0m1.8-2.4h0m.6-.9h0m.9 4h0m5.4 0h0m.6 .1h0m2 .7h0m3.6 .6h0m9.9-5.5h0m1.1 3.6h0m.7 1.9h0m3.7-4.1h0m-7.2 5.1h0m-2.4-.2h0m-5.5 3.1h0m-1.7-.6h0m-11.6-.9h0m-3.5-1.7h0m-.1 5.3h0m-1.4-4h0m-2.5-.2h0m-.5-.8h0m-8.2 1.3h0m-8.1-1.4h0m-.3 1.7h0m-7.7 1.1h0m-2.1-2.5h0m-5.7 .6h0m-6.1 1.5h0m-1 1.8h0m-1.7-3.5h0m-7.6-.8h0m-.7 2h0m-2.5 .4h0m-5.7 .8h0m-1.9-2.6h0m-7.1 2.4h0m-5-2.6h0m-6-1.1h0m-6.2 5.9h0m-4.3-4h0m-.3 3.9h0m-3.2-3.8h0m-3.1 0h0m-.3 1.9h0m-3.5-.1h0m-4.3-2.4h0m-4.5-.4h0m-4 4.6h0m-5.3-4.2h0m-1.6 2.1h0m-2.4-2.3h0m-3.8 .5h0m-.2 2.4h0m-8.4-3.6h0m-1.4 4.5h0m-1.8-3.8h0m-8.2 .9h0m-6.5-1.9h0m-2.6 3.9h0m-4.2 1.6h0m-5.4-3h0m-.2 2.2h0m-.4-4.3h0m-4.1 1.5h0m-6.4 1.8h0m-3.8-1.7h0m-4.8 1.6h0m-12.9 1.6h0m13.4 .7h0m1.5 .7h0m3 .7h0m5.1-1.4h0m.2 4.8h0m5.8-1.5h0m3.9 2.4h0m6.7 .2h0m1.1-3.6h0m5.2-.6h0m2.4-.8h0m1.3 .6h0m1.3 3h0m.7-1.9h0m5.4 .3h0m5-1.2h0m6.1-1.8h0m2 3.3h0m3.9-3h0m1.7 3.2h0m1 .3h0m.1-1.3h0m2.4 1.3h0m2.7-2.4h0m1.1 2.1h0m9.3 2.5h0m.2-1.6h0m1.5-1.1h0m.3-2.9h0m2.6 4.5h0m3.4-4.2h0m2.3 3.1h0m4.3 1.9h0m.7-1.1h0m1.1-2h0m1.9 1.9h0m.4-3.7h0m3.7 4.8h0m2.4-3.5h0m3.3-1.1h0m1.4 2.9h0m1.3 .3h0m.3-4h0m4.2 3.3h0m1.4 0h0m2.6 .8h0m1.2-2h0m1.3 1.8h0m5.2-1.9h0m2.6 2.3h0m2.1-1.2h0m2.6-1.7h0m1.3 1.7h0m2 2h0m1.1-.8h0m1-1.3h0m7.5-.7h0m2.4 .7h0m5.4 1.1h0m4.3-.1h0m5.3-.1h0m4.1-.2h0m18.5-.4h0m-6.3 3h0m-10.2 1.5h0m-2 1.4h0m-6.1 1.3h0m-.8-1.3h0m0-1.6h0m-10.5 3.3h0m-.2-2.2h0m-12.4 2.5h0m-12.5-2.8h0m-.3 .9h0m-2.8 .6h0m-2.2 .6h0m-1.3-4.2h0m-4.5 2.9h0m-13.2 .5h0m-3.4-1.8h0m-3 .4h0m-1.6 3.3h0m-7.4-1.7h0m-2.1-1h0m-6.9 1.7h0m-1.4 .8h0m-.9-1.9h0m-2.6 1.5h0m-7.6-2.6h0m-4.3-2h0m-.8 3.4h0m-1.7-3h0m-2.8 3.3h0m-4.5 .4h0m-2.3 1.2h0m-1.2-.2h0m-.3-2.3h0m-2.8-2.8h0m0 4.2h0m-3.2-4.4h0m-2.2 3.2h0m-3.2 .5h0m-3.5-1.9h0m-9.8 1h0m15.5 4.5h0m20.6 2.5h0m2.6 0h0m2.1 .6h0m.6-2.9h0m1.5 2.9h0m.3-.5h0m.2-2.3h0m2.7 1.8h0m.1-2.9h0m.3 4.8h0m10-5.1h0m3.3 4.5h0m1.3 0h0m2.1-4.1h0m2.7 .6h0m3.9 2.3h0m10.5 .3h0m0-3h0m2.1 0h0m4 4.8h0m3.5 0h0m2-3.6h0m7.7 .2h0m2.5-.3h0m2.6-2.2h0m2 1.7h0m2.9 0h0m2.5-.6h0m1 1.8h0m1.3 .7h0m.4-.4h0m.4 1.2h0m3.9-3.4h0m1.1-1h0m2.2 2h0m1.8 0h0m2.1-.9h0m2.1 .1h0m2.8 .1h0m-67.2 6.8h0m-6.3-1.9h0m-2.9 0h0m-6.5-.3h0" fill="none" stroke="#1d1813" stroke-width="1.44" stroke-linecap="round"/>
<path d="M0 0m327.5 149.9h0m2.5-.6h0m7.2-.3h0m16.4-1.5h0m8.8-2.8h0m19.5 .5h0m1.5 .1h0m15.9 2.4h0m22.8 2.5h0m-1.4 3.3h0m-8 .1h0m-52 2.4h0m-15.1-5.6h0m-11.1 4.6h0m-11-1.2h0m-6.6 0h0m-1.4-1.6h0m-7.4-.6h0m-3.7 .5h0m-5.8 3.2h0m-21.4 4.4h0m18.8-1h0m4.1 0h0m2.9 .3h0m3.1 .4h0m.2-2.6h0m20.2 1.6h0m.6-1.7h0m29.7 2.3h0m22.7 .7h0m17.6 1.2h0m15.5 .2h0m18.8 0h0m4.9 .9h0m12.4-3h0m11.7 5.3h0m-15 .3h0m-16.7 0h0m-.9 2h0m-.8-4.1h0m-12.6 1.3h0m-5.4-1.4h0m-10.2 2h0m-3.4-.1h0m-2.7-1.5h0m-10.3 3.7h0m-18.6-1.6h0m-26 2.6h0m-4-5.1h0m-4.6 2.3h0m-.6-.6h0m-41.3 2.1h0m-.3-3.8h0m-1.5 5h0m-8-.1h0m-14.4 5.7h0m9.7-.7h0m2.1-2.5h0m5.1 .6h0m3.9-1.9h0m2.1 1.3h0m2.1 1.3h0m4.8-2.5h0m2.6 .6h0m3.5 4.5h0m6.6-4.7h0m6 3.4h0m11.2-4.3h0m16.4 2.8h0m8.9-2.8h0m7.1 1.9h0m18.4-.9h0m5.2 3.3h0m1.7 0h0m2.3 .5h0m4.3 .2h0m2.7-4.2h0m9.1 4.6h0m1.5-2.7h0m11.1 .4h0m18.7-2.1h0m6.2 4.2h0m25.4-5.1h0m6.6 4.9h0m13.6 .5h0m24.5 4.8h0m-15.1 1h0m-.1-4.7h0m-5.9-.4h0m-1.5 3.6h0m-18-.2h0m-2.6-1.6h0m-1.7-.1h0m-14.1 3.4h0m-12.3-1.3h0m-.7 1.8h0m-.8-4.7h0m-1.7 4.6h0m-5.2-.1h0m-4.2-.1h0m-17.2-4.9h0m-12.6 2.6h0m-2.1-.5h0m-4.7 1.6h0m-.6 1.2h0m-.9-1.1h0m-7.4-2.2h0m-4.2 1.3h0m-2.2 .7h0m-2-.3h0m-3.1-.1h0m-1.9 1h0m-.3-4.1h0m-3.9-.5h0m-16.4 2.9h0m-9.7-.1h0m-.9 .8h0m-7-1.3h0m-11.4 2.7h0m-2.9-2.8h0m-.6 3h0m-6.9-3h0m-2.5 3h0m-.5-1.2h0m-2.7-1.7h0m-2.7-.5h0m-12.5 .7h0m-15.1-2.5h0m-7.8 3.9h0m-17.1-.4h0m-11.3 7.3h0m.4-4.4h0m16.4 1.2h0m3.7 3.5h0m14.1-.2h0m.9-4.3h0m10.7-.1h0m1.1 4.6h0m5-2.1h0m1.1 .3h0m5.2-3h0m12 5.4h0m3.4-.9h0m3.8-5h0m11.5 1.2h0m.1 3.9h0m13.5-2.6h0m1.5 1.2h0m2.2-3.3h0m.2 1.4h0m1.1-.3h0m.7 3.9h0m4.3 0h0m6.9-4.4h0m2.2 2h0m.5 2.1h0m12.8-4.4h0m8.6 4.6h0m8.5-.4h0m2.9-1.2h0m.6-2.9h0m1.6 3.7h0m0-1.7h0m4.1 1.3h0m6.8-.4h0m2.8-3.1h0m1.5 1.6h0m2.2 1.2h0m4.8-1.6h0m8 3.7h0m1-2.2h0m4.2 1.4h0m10.4 .7h0m9.7-4h0m.4 1.4h0m18.2 2.5h0m19.3 0h0m7-4.9h0m6.1 1.8h0m1 .7h0m5.1 2.5h0m1.6-5h0m7.7 2.2h0m3-.5h0m8.4 5h0m-2.2 1.2h0m-15.7-2.3h0m-4.2 3.3h0m-.2-3.3h0m-12.4 5.5h0m-10.7-.3h0m-21.9-3.5h0m-2.6 .9h0m-1.4 3.1h0m-6.7-1.5h0m-1.7-2.3h0m-2.9 .7h0m-2-1.5h0m-17.8 3.4h0m-2.1-2.7h0m-4.3 1.4h0m-1.1-.5h0m-7.1-1.5h0m-.2-.3h0m-2 3.3h0m-4.3-2.4h0m-.7 1.7h0m-3.6 .6h0m-4.8-1.8h0m-2.5-1.5h0m-9.1 1.6h0m-1-2.4h0m-5.3 2.5h0m-1.7 3.3h0m-.1-4.2h0m-6.8 2.9h0m-3.6-3.5h0m-1 4.2h0m-7.3-.8h0m-2-1.4h0m-4.6-2.1h0m-3.4 3.1h0m-1.6-.7h0m-17.5-2.9h0m-1.4 4h0m-3.8-.2h0m-7.8-1.9h0m-2.4 .5h0m-.6 1.1h0m-7.5-.7h0m-5.2-.3h0m-12.6 2h0m-6.2-1.9h0m-.1-1.9h0m-5.6 2.6h0m-5.1 .5h0m-1.6-2.5h0m-.2 3.4h0m-.3-1.8h0m-7.5 2.2h0m-14.3-4.3h0m-4.1 3.9h0m-9.9-.6h0m-6.4-3.8h0m-8.9 2.6h0m-10.5 8.1h0m2.1-.1h0m1.3-3.5h0m3.7-1.7h0m6 1.7h0m.2 1.1h0m13 1.2h0m4.5 .7h0m5.1-3.6h0m5.2 4.4h0m2.7-4.4h0m7.5 1.7h0m1.5-1h0m1.1 1h0m.7 2.2h0m2.2-1h0m2.3-1.1h0m3.9 .5h0m4-.3h0m11 1.4h0m1.9 .2h0m5.9-3.2h0m1.3-.5h0m4.3 1.9h0m1.2-2.3h0m.7 2.3h0m1.8-3.1h0m.1 1.6h0m3.3 2.9h0m2.3-2.3h0m6.6-.2h0m1.4 3.3h0m1.5-2.7h0m10.1 .4h0m.5-1.3h0m1.5 .1h0m.1 .7h0m.1-2.2h0m1.4 2.9h0m.8-2.4h0m4.3 4.8h0m3 0h0m2.1-5.1h0m.1 4.3h0m6.7-2.8h0m3.8-.4h0m0 3.8h0m.1-5.1h0m2.5 4.5h0m2.6-3h0m13-1.1h0m7.5 4h0m4.7 .8h0m3.1-4.9h0m1.5 .6h0m1.1 4.2h0m.6-3.2h0m.3 3.7h0m3.2-1h0m1.9-2.7h0m7.2-.1h0m.4 3.5h0m4.6-1.2h0m.3-2.7h0m2.1 3.4h0m.5 0h0m4.1-2.6h0m1.1-.6h0m5.6-1.6h0m5 5h0m0-5.2h0m2.4 3.1h0m11.2-2.7h0m3.8 1.4h0m.9 1.4h0m3.6 .9h0m4.6-3.9h0m4.8 1h0m4.8 1h0m6.8 1.3h0m11.2-.4h0m11.5-2h0m1.8 1.6h0m8.1 .7h0m4.3-2.3h0m14.9 3.5h0m.6-1.1h0m30.8 1.4h0m-.8 6.2h0m-4.6-4h0m-12.4-.6h0m-31.3 .2h0m-7.2 3.5h0m-9-1.3h0m-6.4-2.6h0m-3.8 3.7h0m-2.4-1.6h0m-7.3 3.5h0m-1.8-5h0m-2.1 .2h0m-1.3 2.1h0m-5.3-1.8h0m-.4 2h0m-5.2 0h0m-9 .9h0m-5.1-2.7h0m-3.5-.1h0m-6.5-1h0m-.8 1.3h0m-4.5-.3h0m-1-.5h0m-8.7 .5h0m-.2-.7h0m-3.7 1.5h0m-.8 2.8h0m-2.1-3.2h0m-3.6 .7h0m-.8 2.5h0m-1.7-2.7h0m-2.4-.4h0m-18.8 .1h0m-2.2 .5h0m-6.1-.4h0m-5.3-.7h0m-1.9 .3h0m-2.3-1.6h0m-3.1 3.1h0m-4.4 1h0m-1.4 .2h0m-3.3-.2h0m-7.2-2.7h0m-2.3 1.1h0m-4.5 1.5h0m-9.9-.1h0m-.4-1.4h0m-3.1 1.9h0m-5.9-3.5h0m-1 4.3h0m-3.1-.4h0m-5.5-.4h0m-2.7-.8h0m-5.7-2.6h0m-.7-1.2h0m-6.1 .1h0m-1.2 3.1h0m-5.7-2.9h0m-2.3 4.9h0m-13.2-5h0m0 2.5h0m-.4-2h0m-7.7 .2h0m-.9 1.5h0m-18.3-.6h0m-.9-1.4h0m-2.1 2.7h0m-3.3-2.9h0m-14.3 2.3h0m-7 .7h0m-9.9-3.1h0m.3 7.5h0m16 3.1h0m.3-4h0m10.9 2.1h0m7.8 .5h0m5.8-2.7h0m11.5 3.8h0m14.2-.4h0m5.4-.4h0m.4 .3h0m.5 1.8h0m4-.6h0m3.4-.1h0m3.1-4.1h0m5 4.1h0m3.6-3.1h0m15.7 1h0m4.3-1.1h0m.1 2.5h0m7.2-.6h0m2.2-2.3h0m.4-1.5h0m.1 3.8h0m12.8 .9h0m6.7-3.3h0m1.8 2.4h0m.1-2.5h0m2.4 0h0m.9-.6h0m2.6 .8h0m6.8 3.1h0m2.1-2.8h0m2.8 .5h0m1.9 .1h0m5.1 .2h0m6.2 .2h0m4.8-.6h0m.9-2.1h0m.8 3.7h0m2.1-.7h0m3.8-.1h0m2.6 1.8h0m1.3-3h0m.8 3.6h0m2.3-3.9h0m1.7 1.9h0m1.1-.7h0m3.6-.2h0m1 3.4h0m.3-5.1h0m.8 2.1h0m1-.3h0m.2-1.8h0m5.2 2h0m2.6 2.1h0m5.5-.5h0m1.4-.8h0m2-2.7h0m1.5 1.3h0m2.8-.7h0m4.3 .6h0m5.2 .9h0m5-2.3h0m8.6 1h0m1.2 2h0m3.6-3.5h0m2.4 1.9h0m2.9-1.7h0m1 2.4h0m7.3-2.4h0m.2 3.8h0m.7-2.2h0m5.6-1.6h0m1.2 3.8h0m.7-1.4h0m1.2-1.5h0m.5 1.1h0m.5 3.1h0m7.5-5.1h0m2.1 3.5h0m3-3.7h0m.4 1.1h0m23.6 1.5h0m6.9 .8h0m23.7 2.3h0m.6-2.6h0m5.3 2.1h0m2.9-3.8h0m25.3 10.1h0m-19.3-1.7h0m-11.3-3h0m-37 3h0m-4-1.4h0m-2.2-1.7h0m-9.5-.6h0m-1.1 .9h0m-.8 3.7h0m-1.3-.4h0m-1.3-4.4h0m-3.1 1.7h0m-2.2-1h0m-1.8 2.9h0m-3 .7h0m-.7-3.4h0m-.2 4h0m-12.5-1.7h0m-7.4-.7h0m-3-2.6h0m-8.6 2.6h0m-1.5-2.1h0m-.5 1.3h0m-5.3-1.6h0m-2 1.8h0m-1.3 .6h0m-19.7 1h0m-.1-1h0m-.3-2.1h0m-6.9 4.4h0m-4.6-3.8h0m-.4 1.7h0m-1.9-1.3h0m-2 2h0m-.6 1.8h0m-4.1 .3h0m-19.3-5.6h0m-2.8 0h0m-3.8 6h0m-10.9-5.6h0m-6 3.3h0m-.6-1.3h0m-12-2.1h0m-.9 2.9h0m-3.4-1.6h0m-.5 2.8h0m-3.4-.5h0m-.8 1.3h0m-2.2 .2h0m-7.9-3.7h0m-13.9 1.2h0m-3.1-2.2h0m-9.2 3.2h0m-1.5-2.4h0m-1.3 4.1h0m-14.8-.6h0m-8-3.5h0m-3.2 4.3h0m-1.6-1.8h0m-1.5-3h0m-12.2 2.4h0m-1.3-.9h0m-1.1 3.5h0m-7.7-4.1h0m-2.9 3.4h0m-5.9-2.6h0m-1 2.4h0m-8.1-5.1h0m-.9 2.3h0m-4.7-1.6h0m-6.2 4h0m-10-3.7h0m-5.7-.4h0m-1.8 1.3h0m-5.3 3.9h0m-1.5-.3h0m-1.7-2.5h0m-2.3 2.1h0m-8.4-3.3h0m-9 9h0m11.8-.6h0m.8 .6h0m3 1.1h0m2.1 0h0m8.9-.9h0m11.7-.7h0m5.6-1.1h0m6.5 2.8h0m19.5-4.9h0m15 3h0m23.4-.9h0m.9-1.8h0m.8 2.6h0m6.3-.8h0m.3 1.9h0m1.3-4.5h0m1.7 .2h0m11.3 2.5h0m4.2 1.5h0m5.7-3h0m15.2 1.4h0m23.5 1.3h0m.1-4.2h0m12.9 2.3h0m5.3 .3h0m3-.2h0m6.4-1.1h0m7.3 2.5h0m.2-4.1h0m8.6 3.3h0m2.6 2.3h0m33.4-2.5h0m2.1-2.8h0m12.6 1.1h0m.5 2.1h0m21.3-1h0m1.3 3.1h0m17.7-1.8h0m13.8-1.1h0m10.1-1.5h0m2.9 1.7h0m3.1-.2h0m9.2-2h0m1.8 3.7h0m10.1 .9h0m7.4-.3h0m5.1-1h0m35.6 6.1h0m-.3-3.2h0m-14.7 4.6h0m-29.1-1.4h0m-1.3 .6h0m-.5-1.2h0m-4.9 1h0m-15.5-3.5h0m-.4 1.3h0m-4.8 1.8h0m-.7 1.2h0m-9.3-3.9h0m-.2 2.6h0m-8.9-.6h0m-7.4 2.2h0m-39.3-3.5h0m-3.3-1.9h0m-7.7 3.7h0m-7.7-1.9h0m-25.2 1h0m-9.5-2.8h0m-25 1h0m-11.1 2.8h0m-13.4-.7h0m-1.4 1h0m-12.1-.3h0m-9.7 1.3h0m-7.6-3.2h0m-.4-.7h0m-.4 2.5h0m-4.8-.7h0m-1.8 1.8h0m-17.9-2.3h0m-5.8-.8h0m-1.7 3.3h0m-.4-2.8h0m-2.1-1.3h0m-4.1 1h0m-4 1.9h0m-3.6 1.3h0m-4.8-2.6h0m-2.2 1.3h0m-12.1-3.2h0m-3.7 4.3h0m-.9-2.5h0m-6.8 1.2h0m-4.5-1.7h0m-16.7 2.1h0m-1.5-3.1h0m-4.7-.2h0m-4.1 1.3h0m-1.8 1.9h0m-1.3-2.7h0m-17.5 1.3h0m-2.8-.1h0m-7.1 .7h0m-.6 2.5h0m-1.5-3.9h0m-5.2 3h0m5.5 3h0m8.3-.6h0m11.7 3h0m1.4 1.4h0m0-4.5h0m2 .8h0m.9-2h0m6.9 5h0m5.3-4.2h0m5.7 3.5h0m2.5-1.8h0m5.5-.6h0m3.9 1.7h0m3.9-1h0m1.9 2.6h0m5.2-1.9h0m2.7-.3h0m9.4 1.4h0m15.4-.4h0m24-3.9h0m.2 1.2h0m1 1.2h0m7.2-.5h0m2 .7h0m19.1-2.1h0m89.2 1h0m47.2 2.9h0m10.6-.6h0m11.9 .1h0m2.3-3h0m.1 1.5h0m3.6-1.3h0m2.1 1.9h0m7.7 1.8h0m12.3-3.4h0m17.6 1.4h0m26.5-2.4h0m9.8 3.9h0m5-2h0m1.6 .3h0m5.8-1h0m2.7 1.6h0m11.6 2.5h0m5.4 .7h0m-20 4.8h0m-10.7-1.4h0m-3.6-1.2h0m-4.3-2.2h0m-4.3 1.9h0m-4.4 0h0m-12.1 1h0m-.3-1.8h0m-205.9-1.2h0m-88.7 1.2h0m-11.8-.8h0m-.7 1.1h0m-3.7 1h0m-.4 2.7h0m-.6-3.1h0m-5.7-2.3h0m-5.6 2.9h0m-3.9 2.4h0m-3.9-3.4h0m-4.9 3.1h0m-4.3-3.5h0m-2 3.3h0m-2.9-3.5h0m-9.8-.8h0m-4.1-.3h0m-16.8 1.4h0m-12.3 8.3h0m1.9 0h0m9.5-2.6h0m2 .1h0m1.9 .2h0m2.5 .8h0m4 3.3h0m27-3.1h0m2.7 3h0m8-2.2h0m2.2 2h0m2.3-.6h0m1-1.7h0m10.1-1.4h0m12.7-1.6h0m1.7 .7h0m10.5 2.7h0m282.7-2.5h0m.5 3.2h0m20.9-2.9h0m3.5 4.4h0m10.5-.6h0m15.5-1.5h0m7.8-1.3h0m.8 .1h0m6.2 1.4h0m1-1.9h0m24.6 6.9h0m-1.8 1.8h0m-14.2 1.2h0m-3.8-5.2h0m-4.1-.8h0m-3.9 5h0m-7.6-4.3h0m-7.9 3.8h0m-4.3-2.2h0m-10.7 2h0m-1.8-.1h0m-6.6-1.8h0m-20.4-1.8h0m-284.9 2.7h0m-40.4 .6h0m-14.6-2h0m-7.1 .7h0m-4-1.1h0m-.7 0h0m-8.4 1.9h0m-2.4 1.4h0m-1.4-1.1h0m-7.4-1h0m-.8-.6h0m-6 1.1h0m-8-.9h0m-12 8.7h0m3.4-1.3h0m6.8 0h0m5.7-.8h0m11.6-1.1h0m1.4-.5h0m1.3 2.5h0m2.1-1.7h0m.3 3.6h0m1.8 .1h0m1.5-5.3h0m3.3 1.6h0m1.2 3.8h0m.3-3.1h0m12.1 1.2h0m14.7-3.2h0m24.7-.3h0m315.9 5.4h0m8.9-4.2h0m26.5-.2h0m.6 1.1h0m6.4 2h0m4.8-3.3h0m.7 1h0m1 1.6h0m16.8 1h0m1.1-3.8h0m8.9 .9h0m2.3 0h0m10 6.8h0m-2.9 3h0m-2.9-.7h0m-3-3.8h0m-3.1 2.2h0m-10 2.1h0m-5.3-2.8h0m-7.7-1.6h0m-4.1 3.6h0m-.8 .3h0m-3.6-3.3h0m-.8 4h0m-4.6-2.3h0m-21.5-1.4h0m-3.1 3.8h0m-346.9 0h0m-21.2-2.9h0m-7.3 2.1h0m-5.4-1.8h0m-19.6-2.6h0m-19.9 4h0m-4.4 1h0m-4.5 1.2h0m3.6 5h0m2.9-3.6h0m18.1 3.1h0m1.7-.5h0m6-1.4h0m6.1-2.9h0m1.3 1.3h0m.7-.5h0m3.2 4.2h0m3.8-1.8h0m9.4-1.5h0m1.8 .3h0m1.5 2.5h0m1.5-4.7h0m14.7 2.2h0m373.9 1.8h0m6.8 .8h0m8.2-.8h0m1.7-3.4h0m11.1 3.8h0m13.5 .7h0m3.9-1.2h0m3.6-3.1h0m7.1 3.1h0m-1.3 5.2h0m-3.5-2h0m-8 .7h0m-4.7 .5h0m-.3-1.4h0m-7.9 1.1h0m-1.1 1.7h0m-12-2.3h0m-4.9 .1h0m-12.8-.8h0m-1.1 3.9h0m-373.4-.5h0m-31 1h0m-9.6-1.6h0m-2.8 .2h0m-6.2-1.4h0m-24.1 .4h0m-6.4 6.9h0m14.4 1.5h0m4.9-5.1h0m8.6 3.3h0m2.9 1.8h0m7.2-5.1h0m2.2 .6h0m2.8 3.3h0m2.6-2.2h0m411.9-1.5h0m5.2 .4h0m15 1.9h0m26.9 .8h0m5.2-3.4h0m.2 5.5h0m3.5-.3h0m.6-1h0m2 1.3h0m.6-2.2h0m.8 6.7h0m-3.4-2.5h0m-.9 3.9h0m-1.8-2.1h0m-1.9-1.1h0m-10.1 1.9h0m-13.7 .8h0m-4.8-5.1h0m-3.9 1.9h0m-3.3 2h0m-417.4 1.4h0m-4.7-.1h0m-11.3-4.4h0m-8.5 0h0m-11 1.2h0m-6.2-.5h0m-2.5 3.5h0m-4-.4h0m-5.5-.3h0m-.8-1.4h0m-6.1 1.1h0m-.9-.5h0m-.1 5.6h0m2.5 1.8h0m.7-2.3h0m6.6-2.5h0m.5 3.2h0m3.3-2.2h0m.4 2.9h0m4.1 .5h0m10.4-3.9h0m10.8 3.7h0m3.7-2.7h0m5.3 3.9h0m4.7-2.5h0m.2 .7h0m7.7 2.1h0m422.9-3.7h0m4.5-1h0m4 .5h0m4.4 .6h0m11.5-1.3h0m1.5 3.1h0m3.7-3.3h0m6.2-.1h0m1 3.1h0m3-1.1h0m1.4 .7h0m.8 3.2h0m-6.5 1.1h0m-8.1 .9h0m-5 2.3h0m-1 1h0m-5.6-4.4h0m-7.2-.4h0m-1.7 4.2h0m-.8-2.2h0m-.2-3h0m-4.5 1.1h0m-.7 1.4h0m-.3-1.2h0m-428.9 2.9h0m-.5-1.9h0m-28.9-1.5h0m-21.6 1.6h0m-6 .1h0m4.3 5.3h0m4.2 2.3h0m2 1.2h0m2.5 .6h0m1.2-2.6h0m11.5 .5h0m.5-3h0m19.2 2.5h0m4.3 1.2h0m1.3-2h0m4.9-1.7h0m419.6 .7h0m12.2-1.3h0m1.8 4.2h0m.6-1.5h0m3.5-1.4h0m10.6 .1h0m4.4 2.6h0m14.7-1.4h0m.4 8.4h0m-20-3.3h0m-12.6-.1h0m-8 .1h0m-.6 .5h0m-15.5-1.8h0m-411.7 3h0m-.8-.5h0m-3.3 .3h0m-1.9-.9h0m-10 1.1h0m-10.3-2.3h0m-23.3 2.1h0m-2.8-1.6h0m-.9 2.2h0m4.1 6.1h0m16.5-4.2h0m10.6 .4h0m3.7 2.5h0m15.6 1.1h0m5.7-.7h0m.5-.4h0m1.9-1.4h0m12.5 3.1h0m390.5-2.1h0m7.9 2.5h0m21.4 .5h0m2.3 .2h0m8-3.3h0m15.6 7.8h0m-4.9 1.2h0m-1.9-.1h0m-3.2 .7h0m-21.3-1h0m-2.7-2.2h0m-416.4 0h0m-9.5-2.6h0m-12 3h0m-1.9 2.6h0m-6.1-.9h0m-.2-1.6h0m-5.2-3.2h0m-5.4 .9h0m-.1 3.6h0m-17.1-1.1h0m.4 6.4h0m.5 1.4h0m3.1 .7h0m24.7-3.9h0m15.9-.1h0m2 3.4h0m8.8-.7h0m5-3h0m374.2 3.2h0m29.7-3.2h0m5.3 3.5h0m2.2 .5h0m3.9-5.4h0m.8 5.3h0m4.3-1.5h0m15.1-3.9h0m8.7 1.3h0m-1.5 9.4h0m-11.3-.7h0m-11.5-1.9h0m-7.2 .1h0m-8.5 2.2h0m-1.4 .2h0m-19.1-1.2h0m-4.8-3.3h0m-370.5 1.4h0m-3.6-.7h0m-4.6 2.1h0m-29.9 .2h0m-4.4-.5h0m-10.8 3h0m-5.1-1.5h0m-1.8-3.2h0m-2.9 .9h0m-.9 2.3h0m-.6-2.7h0m2 5.6h0m7.6 4.2h0m.6-2.2h0m1.5 2.3h0m15-5.3h0m2.5 5.3h0m.9-3.6h0m3.8 1.6h0m3-3h0m3-.3h0m15.6 4.4h0m9 .7h0m365.5-2.2h0m8 .2h0m13.2-1.3h0m8.1-.7h0m5.8-1.1h0m1 1.6h0m4.8-1.5h0m4 5.2h0m1.6-2.9h0m.8-1.9h0m8.1 4.6h0m4.2-3.7h0m3.1 2.6h0m.2-3.8h0m1.9 .5h0m2.7 1.7h0m-10.2 8.6h0m-16.5-4.5h0m-3.3-.1h0m-7.3 2.3h0m-7.5 2h0m-2.1-3.5h0m-7.1 .3h0m-1.9 1.7h0m-8.1 1.7h0m-14.9-4.2h0m-350.8-.9h0m-4.8 5h0m-2.6-.2h0m-4.1-2.1h0m-16.1-.9h0m-2.6-.1h0m-.4 2.4h0m-19-3.1h0m-2 2.2h0m-.6 3.7h0m4-.3h0m3.1 3.6h0m7.2-1.8h0m18.6-2.3h0m2.3 2.8h0m.3-.2h0m9.4 2.6h0m6.6 .1h0m.9-3h0m3.7 .7h0m4.2-1.5h0m18.7-.3h0m325.5 .6h0m18.7 2.3h0m.4-3.3h0m9.2 4.9h0m2.7-.9h0m.9 .3h0m15.1-2.9h0m12.2-.1h0m2.4-2.2h0m1.1 .5h0m.5 2h0m.2 1.1h0m1.3-2.4h0m-3.2 9.4h0m-.2-3.7h0m-7.4 1.4h0m-2.7 2.3h0m-7.2-2.6h0m-2.4 .8h0m-11-1h0m-1.7 3.2h0m-14.2-.4h0m-13.1-.8h0m-2.3-2.1h0m-.5 3.8h0m-326.2-.7h0m-2-.1h0m-27-.7h0m-12.8-1.1h0m-14-.3h0m-13.7-1.2h0m-1.4-1.1h0m33.9 10.7h0m12.9-2.6h0m55.8 .6h0m256.7 .6h0m18.7-3.4h0m.5 5.1h0m6.9-2.3h0m4-2.9h0m1.9 1.2h0m16.6 1.2h0m16 .3h0m11.7-.6h0m-14.5 9.4h0m-34.7 0h0m-24.3-5.3h0m-9.8 3.9h0m-9-2.4h0m-13 2.2h0m-12.3 1.2h0m-131.3-4.7h0m-79.3 4.3h0m-16 1h0m-5.8-1.6h0m-12.3 1.3h0m-11.2-1.9h0m-3-1.5h0m-2.2-1.3h0m-14.5 .2h0m-1.1 3.2h0m-3.8 .3h0m-7-.3h0m-2.3 7.1h0m52.6-2.4h0m2.7 1.5h0m9.6-3.1h0m13-.6h0m3.2-.5h0m1.5 5.1h0m6.6-3.5h0m41.2 3h0m22.9-2.2h0m125.2 2.8h0m11.7-2.1h0m1.4-2.6h0m18.2 2.2h0m2.2 2h0m21-4.8h0m12.8 5.5h0m5.5-5.3h0m.8 2.5h0m2-.8h0m34.7-2h0m4.5 2.9h0m4.4-1.8h0m13.4 4.6h0m-15.8 4h0m-19-1.7h0m-.9-1.9h0m-5.1 3.7h0m-2.4-3.3h0m-2 1.9h0m-4.7-2.2h0m-1.9 2.1h0m-34-1.3h0m-1.9 1.3h0m-5.6 1.2h0m-6.7 0h0m-1.6-.7h0m-2 2.8h0m-7.9-2h0m-4.9-2.9h0m-1.5 2.9h0m-14.8-1.7h0m-4 .5h0m-2.8 .1h0m-18-.4h0m-.9 2.7h0m-1.7-.7h0m-5.9 1.3h0m-12.3 .2h0m-18-2.9h0m-12.9 2.6h0m-11.9 .1h0m-1.6-3.7h0m-10.4 4.2h0m-7.6-2.3h0m-23.2-1.6h0m-6 2.8h0m-4.5 .3h0m-12.6-4.1h0m-16.5 2.1h0m-10.8 1.2h0m-9.4 .5h0m-3-4.3h0m-10.3 1.8h0m-4.5 .7h0m-6.8 .1h0m-3.6-1h0m-22.5-1.4h0m-4.7 0h0m-6.8-.2h0m-23.7-.2h0m-4.5-.1h0m16.5 7.7h0m3.9 3.2h0m62.4-3.1h0m6.5-1.4h0m5.9 2.3h0m1.2-.7h0m5 2h0m2.7-.6h0m12.4 .6h0m15.2-3.5h0m1.3 4.4h0m14 .2h0m18.8-.9h0m11.5-4.3h0m1.8 4.3h0m9.7 .5h0m.7-.9h0m43.1-2.4h0m6.7 4.1h0m2.6 .1h0m6.4-2.1h0m3.9-2h0m13.6 .1h0m9.9 2.3h0m35.3-2h0m21.1-.1h0m3.7-.1h0m2.4-.2h0m3.9-1.2h0m16.6 1.8h0m36.4-1.1h0m5.1-.8h0m4.1 1.1h0m-29.7 7.1h0m-13.7 1.9h0m-1.2-3.1h0m-8 4.2h0m-6.7-5.5h0m-.8 2.3h0m-3.5-2h0m-8.3 .3h0m-6.1 3.1h0m-12.2 1.1h0m-6.8-2.5h0m-6.4 0h0m-4.3 3.3h0m-.6-2.2h0m-1-3h0m-13.3 2.5h0m-2.5-.8h0m-10.6-.6h0m-2.7 1.8h0m-1.5-.3h0m-12 .8h0m-9.2-2.8h0m-8 .1h0m-28.5-.8h0m-2.6 .8h0m-4.1 2.2h0m-2.4 1.9h0m-43.8-1.2h0m-1.1-2.3h0m-25.2 .9h0m-4.3-.8h0m-12.9 2h0m-4.9 .4h0m-1.1 1.2h0m-6.2-4.1h0m-3.6 0h0m-8.7 1.7h0m-11.8-1.1h0m-11.8 1.2h0m-6.1 2h0m-21.5-2.4h0m-4.2 .6h0m14.7 8.5h0m34.3-4.5h0m21 4.6h0m10.6-2.9h0m.2 2.7h0m1.6-5.7h0m2.9 4.4h0m34.8-3h0m9 1.7h0m35-1.5h0m3.3 .3h0m9.9 3.1h0m15.4-4.9h0m1.6 4.6h0m2.1 .3h0m5-.8h0m9.9-2.4h0m2.1-1.8h0m4 2h0m6 2.3h0m4.2-4h0m7.3 3h0m8.6-2.3h0m1.9-1h0m10.6 .2h0m21.8 3.4h0m13.1-3.6h0m9.3 4.6h0m13.2-4.6h0m5.9 4h0m9.4 1.8h0m9.9 4h0m-3.5 .3h0m-36.5 1.7h0m-1.5-1.6h0m-15-1.6h0m-2.5-2.5h0m-2.3 1.4h0m-5.2 .4h0m-.9 .8h0m-2.5 3h0m-.3-2.7h0m-2.4-.1h0m-22.5-.2h0m-7.5 2.2h0m-2.8-.7h0m-6.3-4h0m-18 1.8h0m-7.5 2.6h0m-10.5 .8h0m-14.7-2.3h0m-5.1-.9h0m-2.3 2.3h0m-5.2-.1h0m-2.4 .3h0m-10-4.8h0m-17.6 5.1h0m-7.5-2.5h0m-.8 .4h0m-12.1-2h0m-1.2 3.3h0m-9-3.3h0m-3 4.8h0m-1.5-.6h0m-7.9-3.1h0m-3.3-1h0m-7 1.2h0m-19.7 2.1h0m-1.8-.9h0m-.5-.6h0m-24.7 1.7h0m-.4 1h0m-15.5-2.9h0m17.8 9h0m6-3.7h0m.8 4h0m1.4-1.2h0m5.2 1.2h0m1.3-.1h0m15.8-1.5h0m1.7 1h0m11.7-4h0m5.9 3.1h0m5.9 1.4h0m1.1-5.7h0m3.2 .2h0m10.9 4.6h0m6.1-1.3h0m9.2 .5h0m14 1.1h0m10.6-2.1h0m10.7 .7h0m3.8-3h0m13.6 4.1h0m4.7-2.5h0m7.1 1.8h0m6.8-2.7h0m8.9 2.2h0m2.3-2.3h0m5.8 1.7h0m2.3-2.5h0m3 5.3h0m.6-4.1h0m27.4 1.6h0m6.8 .7h0m6.9-2.5h0m2 2.7h0m2.3-1.6h0m9.7 1.6h0m6.5-3.7h0m2.5 3h0m6.7-1.4h0m9.3-2.2h0m2.7 3.6h0m3.2 2.2h0m1.4-5.9h0m2.4 4.9h0m.9 .5h0m9.9-.9h0m2.6-.7h0m-.8 6.5h0m-9.3-1.6h0m-5.8 2.9h0m-.7-4.1h0m-26.2-.7h0m-10.1 4.9h0m-7.1-3.8h0m-8.9-1.2h0m-5.9 4.8h0m-49.3-1.4h0m-14.4 0h0m-3.1 0h0m-7.9-2.7h0m-5.9 3.8h0m-14.4-.7h0m-10.3-2.8h0m-24.7 .3h0m-2.7 2.1h0m-22.2-1.8h0m-.3-1.6h0m-9.2 2.6h0m-.4-2.6h0m-5.3 3.1h0m-3.9-2.9h0m-7.2-.2h0m-.5 .2h0m-14.2 .7h0m.2 7h0m0-.6h0m13.4-1.3h0m5.7 1.4h0m28.2 1.6h0m4 1h0m4.1 1h0m17.3-1h0m1.5 .7h0m8-4.5h0m13.3 2.7h0m31.9-.7h0m17.4 1.7h0m4.9 .6h0m8.3-4.8h0m8.9-.1h0m19.5 3.1h0m.4 2.6h0m4.4-3h0m9.8-2.6h0m3.3 .6h0m.3 3.1h0m29.8 .9h0m1.3-1.5h0m17.1-3.1h0m1.6 2h0m2.7 1h0m-43.6 7.4h0m-.1-.4h0m-12-.5h0m-7.8-3.9h0m-10.5 3.6h0m-11.6-1.5h0m-22-1.7h0m-10 2.3h0m-34.6 2.6h0m-8.5-4h0m-20.8 2.8h0m-3.9 0h0m-9.9-3.2h0m-2 2.1h0m-.3-1.5h0m-.6 4.1h0m-14.8-3.3h0m-3.8 5.4h0m10.9 4.1h0m19.9-4.6h0m6.5 4.4h0m8.3-4.7h0m6.8 3.8h0m8.6-.8h0m7.3-2.8h0m34.9-.2h0m29.2 5h0m.9-3.3h0m10.4 .8h0m.6-2.9h0m5 1.2h0m9.3 1.9h0m9.7-1.1h0m17.6-1.3h0m2.4 .7h0m-28.3 5h0m-9.3-.5h0m-2.7 2.3h0m-.6 2.8h0m-12.2-3.4h0m-5.5 .6h0m-12.4 2h0m-4.7-2.4h0m-3-1h0m-4.2 1.9h0m-11.2 2.3h0m-4.6 0h0m-17.1 0h0m-.8-1.1h0m-13.8 1.6h0m-12.5-2.8h0m-38.2-1.1h0m27.7 6.7h0m7.8 1.5h0m2-1.8h0m59.8-1.5h0m7.1 1.3h0m10.7 .4h0m5.7-2.3h0m4.6 2.5h0m-26.6 3.4h0" fill="none" stroke="#1d1813" stroke-width="1.90" stroke-linecap="round"/>
<path d="M112.4 272.8 L114.7 268.5 L117.1 264.8 L119.4 261.3 L121.7 258.1 L124 255.1 L126.4 252.3 L128.7 249.6 L131 247 L133.3 244.5 L135.7 242.1 L138 239.8 L140.3 237.5 L142.7 235.4 L145 233.3 L147.3 231.2 L149.6 229.3 L152 227.3 L154.3 225.4 L156.6 223.6 L158.9 221.8 L161.3 220.1 L163.6 218.3 L165.9 216.7 L168.3 215 L170.6 213.4 L172.9 211.8 L175.2 210.3 L177.6 208.7 L179.9 207.2 L182.2 205.8 L184.5 204.3 L186.9 202.9 L189.2 201.5 L191.5 200.2 L193.9 198.8 L196.2 197.5 L198.5 196.2 L200.8 195 L203.2 193.7 L205.5 192.5 L207.8 191.3 L210.1 190.1 L212.5 188.9 L214.8 187.7 L217.1 186.6 L219.5 185.5 L221.8 184.4 L224.1 183.3 L226.4 182.3 L228.8 181.2 L231.1 180.2 L233.4 179.2 L235.7 178.2 L238.1 177.2 L240.4 176.2 L242.7 175.3 L245.1 174.4 L247.4 173.5 L249.7 172.6 L252 171.7 L254.4 170.8 L256.7 170 L259 169.1 L261.3 168.3 L263.7 167.5 L266 166.7 L268.3 166 L270.7 165.2 L273 164.5 L275.3 163.7 L277.6 163 L280 162.3 L282.3 161.6 L284.6 161 L286.9 160.3 L289.3 159.7 L291.6 159.1 L293.9 158.5 L296.3 157.9 L298.6 157.3 L300.9 156.7 L303.2 156.2 L305.6 155.7 L307.9 155.1 L310.2 154.6 L312.5 154.1 L314.9 153.7 L317.2 153.2 L319.5 152.8 L321.9 152.4 L324.2 151.9 L326.5 151.6 L328.8 151.2 L331.2 150.8 L333.5 150.5 L335.8 150.2 L338.1 149.8 L340.5 149.6 L342.8 149.3 L345.1 149 L347.5 148.8 L349.8 148.6 L352.1 148.4 L354.4 148.2 L356.8 148 L359.1 147.9 L361.4 147.8 L363.7 147.7 L366.1 147.6 L368.4 147.6 L370.7 147.6 L373.1 147.7 L375.4 147.8 L377.7 147.9 L380 148 L382.4 148.2 L384.7 148.4 L387 148.5 L389.3 148.8 L391.7 149 L394 149.2 L396.3 149.5 L398.7 149.8 L401 150.1 L403.3 150.4 L405.6 150.7 L408 151 L410.3 151.4 L412.6 151.8 L414.9 152.2 L417.3 152.6 L419.6 153 L421.9 153.4 L424.3 153.9 L426.6 154.3 L428.9 154.8 L431.2 155.3 L433.6 155.8 L435.9 156.3 L438.2 156.9 L440.5 157.4 L442.9 158 L445.2 158.5 L447.5 159.1 L449.9 159.7 L452.2 160.4 L454.5 161 L456.8 161.7 L459.2 162.3 L461.5 163 L463.8 163.7 L466.1 164.4 L468.5 165.1 L470.8 165.9 L473.1 166.6 L475.5 167.4 L477.8 168.2 L480.1 169 L482.4 169.8 L484.8 170.7 L487.1 171.5 L489.4 172.4 L491.7 173.3 L494.1 174.2 L496.4 175.1 L498.7 176 L501.1 177 L503.4 178 L505.7 179 L508 180 L510.4 181 L512.7 182.1 L515 183.1 L517.3 184.2 L519.7 185.3 L522 186.5 L524.3 187.6 L526.7 188.8 L529 190 L531.3 191.2 L533.6 192.4 L536 193.7 L538.3 194.9 L540.6 196.2 L542.9 197.5 L545.3 198.9 L547.6 200.2 L549.9 201.6 L552.3 203 L554.6 204.5 L556.9 205.9 L559.2 207.4 L561.6 208.9 L563.9 210.4 L566.2 212 L568.5 213.6 L570.9 215.2 L573.2 216.9 L575.5 218.6 L577.9 220.4 L580.2 222.2 L582.5 224 L584.8 225.9 L587.2 227.8 L589.5 229.8 L591.8 231.9 L594.1 234 L596.5 236.1 L598.8 238.4 L601.1 240.7 L603.5 243.1 L605.8 245.7 L608.1 248.3 L610.4 251 L612.8 253.9 L615.1 257 L617.4 260.2 L619.7 263.7 L622.1 267.5 L624.4 271.8" fill="none" stroke="#1d1813" stroke-width="1.35" stroke-dasharray="14 1.3 8 1.2" stroke-dashoffset="0.0" clip-path="url(#topclip)"/>
<path d="M112.4 274.1 L114.7 269.7 L117.1 265.8 L119.4 262.4 L121.7 259.2 L124 256.2 L126.4 253.3 L128.7 250.6 L131 248.1 L133.3 245.6 L135.7 243.3 L138 241 L140.3 238.8 L142.7 236.7 L145 234.6 L147.3 232.6 L149.6 230.7 L152 228.8 L154.3 227 L156.6 225.2 L158.9 223.4 L161.3 221.7 L163.6 220 L165.9 218.4 L168.3 216.8 L170.6 215.2 L172.9 213.7 L175.2 212.1 L177.6 210.7 L179.9 209.2 L182.2 207.8 L184.5 206.4 L186.9 205 L189.2 203.7 L191.5 202.3 L193.9 201 L196.2 199.8 L198.5 198.5 L200.8 197.3 L203.2 196 L205.5 194.9 L207.8 193.7 L210.1 192.5 L212.5 191.4 L214.8 190.3 L217.1 189.2 L219.5 188.1 L221.8 187 L224.1 186 L226.4 185 L228.8 184 L231.1 183 L233.4 182 L235.7 181 L238.1 180.1 L240.4 179.2 L242.7 178.3 L245.1 177.4 L247.4 176.5 L249.7 175.6 L252 174.8 L254.4 173.9 L256.7 173.1 L259 172.3 L261.3 171.5 L263.7 170.8 L266 170 L268.3 169.3 L270.7 168.5 L273 167.8 L275.3 167.1 L277.6 166.4 L280 165.8 L282.3 165.1 L284.6 164.5 L286.9 163.8 L289.3 163.2 L291.6 162.6 L293.9 162 L296.3 161.5 L298.6 160.9 L300.9 160.4 L303.2 159.9 L305.6 159.3 L307.9 158.8 L310.2 158.4 L312.5 157.9 L314.9 157.5 L317.2 157 L319.5 156.6 L321.9 156.2 L324.2 155.8 L326.5 155.4 L328.8 155.1 L331.2 154.7 L333.5 154.4 L335.8 154.1 L338.1 153.8 L340.5 153.5 L342.8 153.3 L345.1 153 L347.5 152.8 L349.8 152.6 L352.1 152.4 L354.4 152.2 L356.8 152.1 L359.1 152 L361.4 151.9 L363.7 151.8 L366.1 151.7 L368.4 151.7 L370.7 151.7 L373.1 151.8 L375.4 151.9 L377.7 152 L380 152.1 L382.4 152.2 L384.7 152.4 L387 152.6 L389.3 152.8 L391.7 153 L394 153.2 L396.3 153.4 L398.7 153.7 L401 154 L403.3 154.3 L405.6 154.6 L408 154.9 L410.3 155.2 L412.6 155.6 L414.9 155.9 L417.3 156.3 L419.6 156.7 L421.9 157.1 L424.3 157.5 L426.6 157.9 L428.9 158.4 L431.2 158.8 L433.6 159.3 L435.9 159.8 L438.2 160.3 L440.5 160.8 L442.9 161.3 L445.2 161.9 L447.5 162.4 L449.9 163 L452.2 163.6 L454.5 164.2 L456.8 164.8 L459.2 165.4 L461.5 166 L463.8 166.7 L466.1 167.4 L468.5 168.1 L470.8 168.8 L473.1 169.5 L475.5 170.2 L477.8 171 L480.1 171.7 L482.4 172.5 L484.8 173.3 L487.1 174.1 L489.4 175 L491.7 175.8 L494.1 176.7 L496.4 177.6 L498.7 178.5 L501.1 179.4 L503.4 180.4 L505.7 181.3 L508 182.3 L510.4 183.3 L512.7 184.3 L515 185.4 L517.3 186.4 L519.7 187.5 L522 188.6 L524.3 189.7 L526.7 190.9 L529 192.1 L531.3 193.2 L533.6 194.4 L536 195.7 L538.3 196.9 L540.6 198.2 L542.9 199.5 L545.3 200.8 L547.6 202.1 L549.9 203.4 L552.3 204.8 L554.6 206.2 L556.9 207.6 L559.2 209 L561.6 210.5 L563.9 212 L566.2 213.5 L568.5 215 L570.9 216.6 L573.2 218.2 L575.5 219.9 L577.9 221.6 L580.2 223.3 L582.5 225.1 L584.8 226.9 L587.2 228.8 L589.5 230.7 L591.8 232.7 L594.1 234.8 L596.5 236.9 L598.8 239.1 L601.1 241.4 L603.5 243.8 L605.8 246.2 L608.1 248.8 L610.4 251.6 L612.8 254.4 L615.1 257.5 L617.4 260.7 L619.7 264.2 L622.1 268.1 L624.4 272.4" fill="none" stroke="#1d1813" stroke-width="1.35" stroke-dasharray="14 1.3 8 1.2" stroke-dashoffset="5.3" clip-path="url(#topclip)"/>
<path d="M112.4 275.3 L114.7 270.8 L117.1 266.9 L119.4 263.4 L121.7 260.2 L124 257.2 L126.4 254.4 L128.7 251.7 L131 249.2 L133.3 246.8 L135.7 244.5 L138 242.2 L140.3 240.1 L142.7 238 L145 236 L147.3 234 L149.6 232.1 L152 230.3 L154.3 228.5 L156.6 226.7 L158.9 225 L161.3 223.3 L163.6 221.7 L165.9 220.1 L168.3 218.5 L170.6 217 L172.9 215.5 L175.2 214 L177.6 212.6 L179.9 211.2 L182.2 209.8 L184.5 208.4 L186.9 207.1 L189.2 205.8 L191.5 204.5 L193.9 203.2 L196.2 202 L198.5 200.8 L200.8 199.6 L203.2 198.4 L205.5 197.2 L207.8 196.1 L210.1 195 L212.5 193.9 L214.8 192.8 L217.1 191.7 L219.5 190.7 L221.8 189.7 L224.1 188.7 L226.4 187.7 L228.8 186.7 L231.1 185.7 L233.4 184.8 L235.7 183.9 L238.1 183 L240.4 182.1 L242.7 181.2 L245.1 180.3 L247.4 179.5 L249.7 178.7 L252 177.8 L254.4 177 L256.7 176.3 L259 175.5 L261.3 174.7 L263.7 174 L266 173.3 L268.3 172.5 L270.7 171.8 L273 171.2 L275.3 170.5 L277.6 169.8 L280 169.2 L282.3 168.5 L284.6 167.9 L286.9 167.3 L289.3 166.7 L291.6 166.2 L293.9 165.6 L296.3 165.1 L298.6 164.5 L300.9 164 L303.2 163.5 L305.6 163 L307.9 162.6 L310.2 162.1 L312.5 161.7 L314.9 161.2 L317.2 160.8 L319.5 160.4 L321.9 160 L324.2 159.7 L326.5 159.3 L328.8 159 L331.2 158.6 L333.5 158.3 L335.8 158 L338.1 157.8 L340.5 157.5 L342.8 157.3 L345.1 157 L347.5 156.8 L349.8 156.6 L352.1 156.5 L354.4 156.3 L356.8 156.2 L359.1 156 L361.4 156 L363.7 155.9 L366.1 155.8 L368.4 155.8 L370.7 155.8 L373.1 155.9 L375.4 155.9 L377.7 156 L380 156.2 L382.4 156.3 L384.7 156.4 L387 156.6 L389.3 156.8 L391.7 157 L394 157.2 L396.3 157.4 L398.7 157.6 L401 157.9 L403.3 158.1 L405.6 158.4 L408 158.7 L410.3 159 L412.6 159.3 L414.9 159.7 L417.3 160 L419.6 160.4 L421.9 160.7 L424.3 161.1 L426.6 161.5 L428.9 161.9 L431.2 162.4 L433.6 162.8 L435.9 163.2 L438.2 163.7 L440.5 164.2 L442.9 164.7 L445.2 165.2 L447.5 165.7 L449.9 166.2 L452.2 166.8 L454.5 167.3 L456.8 167.9 L459.2 168.5 L461.5 169.1 L463.8 169.7 L466.1 170.3 L468.5 171 L470.8 171.7 L473.1 172.3 L475.5 173 L477.8 173.7 L480.1 174.5 L482.4 175.2 L484.8 176 L487.1 176.7 L489.4 177.5 L491.7 178.4 L494.1 179.2 L496.4 180.1 L498.7 180.9 L501.1 181.8 L503.4 182.7 L505.7 183.7 L508 184.6 L510.4 185.6 L512.7 186.6 L515 187.6 L517.3 188.7 L519.7 189.7 L522 190.8 L524.3 191.9 L526.7 193 L529 194.1 L531.3 195.3 L533.6 196.5 L536 197.7 L538.3 198.9 L540.6 200.1 L542.9 201.4 L545.3 202.6 L547.6 203.9 L549.9 205.2 L552.3 206.5 L554.6 207.9 L556.9 209.2 L559.2 210.6 L561.6 212 L563.9 213.5 L566.2 214.9 L568.5 216.4 L570.9 217.9 L573.2 219.5 L575.5 221.1 L577.9 222.7 L580.2 224.4 L582.5 226.1 L584.8 227.9 L587.2 229.7 L589.5 231.6 L591.8 233.5 L594.1 235.6 L596.5 237.6 L598.8 239.8 L601.1 242 L603.5 244.4 L605.8 246.8 L608.1 249.4 L610.4 252.1 L612.8 254.9 L615.1 257.9 L617.4 261.2 L619.7 264.7 L622.1 268.6 L624.4 273.1" fill="none" stroke="#1d1813" stroke-width="1.35" stroke-dasharray="14 1.3 8 1.2" stroke-dashoffset="10.6" clip-path="url(#topclip)"/>
<path d="M112.4 276.6 L114.7 271.9 L117.1 267.9 L119.4 264.4 L121.7 261.2 L124 258.2 L126.4 255.5 L128.7 252.8 L131 250.3 L133.3 247.9 L135.7 245.7 L138 243.5 L140.3 241.3 L142.7 239.3 L145 237.3 L147.3 235.4 L149.6 233.5 L152 231.7 L154.3 230 L156.6 228.3 L158.9 226.6 L161.3 224.9 L163.6 223.4 L165.9 221.8 L168.3 220.3 L170.6 218.8 L172.9 217.3 L175.2 215.9 L177.6 214.5 L179.9 213.1 L182.2 211.8 L184.5 210.5 L186.9 209.2 L189.2 207.9 L191.5 206.6 L193.9 205.4 L196.2 204.2 L198.5 203 L200.8 201.9 L203.2 200.7 L205.5 199.6 L207.8 198.5 L210.1 197.4 L212.5 196.4 L214.8 195.3 L217.1 194.3 L219.5 193.3 L221.8 192.3 L224.1 191.3 L226.4 190.4 L228.8 189.5 L231.1 188.5 L233.4 187.6 L235.7 186.7 L238.1 185.9 L240.4 185 L242.7 184.2 L245.1 183.3 L247.4 182.5 L249.7 181.7 L252 180.9 L254.4 180.1 L256.7 179.4 L259 178.7 L261.3 177.9 L263.7 177.2 L266 176.5 L268.3 175.8 L270.7 175.2 L273 174.5 L275.3 173.8 L277.6 173.2 L280 172.6 L282.3 172 L284.6 171.4 L286.9 170.8 L289.3 170.3 L291.6 169.7 L293.9 169.2 L296.3 168.7 L298.6 168.2 L300.9 167.7 L303.2 167.2 L305.6 166.7 L307.9 166.3 L310.2 165.8 L312.5 165.4 L314.9 165 L317.2 164.6 L319.5 164.2 L321.9 163.9 L324.2 163.5 L326.5 163.2 L328.8 162.9 L331.2 162.5 L333.5 162.3 L335.8 162 L338.1 161.7 L340.5 161.5 L342.8 161.3 L345.1 161 L347.5 160.8 L349.8 160.7 L352.1 160.5 L354.4 160.4 L356.8 160.2 L359.1 160.1 L361.4 160 L363.7 160 L366.1 159.9 L368.4 159.9 L370.7 159.9 L373.1 160 L375.4 160 L377.7 160.1 L380 160.2 L382.4 160.3 L384.7 160.5 L387 160.6 L389.3 160.8 L391.7 161 L394 161.1 L396.3 161.3 L398.7 161.6 L401 161.8 L403.3 162 L405.6 162.3 L408 162.5 L410.3 162.8 L412.6 163.1 L414.9 163.4 L417.3 163.7 L419.6 164.1 L421.9 164.4 L424.3 164.7 L426.6 165.1 L428.9 165.5 L431.2 165.9 L433.6 166.3 L435.9 166.7 L438.2 167.1 L440.5 167.6 L442.9 168 L445.2 168.5 L447.5 169 L449.9 169.5 L452.2 170 L454.5 170.5 L456.8 171 L459.2 171.6 L461.5 172.1 L463.8 172.7 L466.1 173.3 L468.5 173.9 L470.8 174.5 L473.1 175.2 L475.5 175.8 L477.8 176.5 L480.1 177.2 L482.4 177.9 L484.8 178.6 L487.1 179.4 L489.4 180.1 L491.7 180.9 L494.1 181.7 L496.4 182.5 L498.7 183.4 L501.1 184.2 L503.4 185.1 L505.7 186 L508 186.9 L510.4 187.9 L512.7 188.9 L515 189.9 L517.3 190.9 L519.7 191.9 L522 193 L524.3 194 L526.7 195.1 L529 196.2 L531.3 197.4 L533.6 198.5 L536 199.7 L538.3 200.9 L540.6 202.1 L542.9 203.3 L545.3 204.5 L547.6 205.8 L549.9 207 L552.3 208.3 L554.6 209.6 L556.9 210.9 L559.2 212.2 L561.6 213.6 L563.9 215 L566.2 216.4 L568.5 217.8 L570.9 219.3 L573.2 220.8 L575.5 222.3 L577.9 223.9 L580.2 225.5 L582.5 227.2 L584.8 228.9 L587.2 230.7 L589.5 232.5 L591.8 234.4 L594.1 236.3 L596.5 238.4 L598.8 240.5 L601.1 242.7 L603.5 245 L605.8 247.4 L608.1 249.9 L610.4 252.6 L612.8 255.4 L615.1 258.4 L617.4 261.7 L619.7 265.2 L622.1 269.1 L624.4 273.7" fill="none" stroke="#1d1813" stroke-width="1.35" stroke-dasharray="14 1.3 8 1.2" stroke-dashoffset="15.9" clip-path="url(#topclip)"/>
<path d="M112.4 277.9 L114.7 273 L117.1 269 L119.4 265.5 L121.7 262.3 L124 259.3 L126.4 256.5 L128.7 253.9 L131 251.4 L133.3 249.1 L135.7 246.8 L138 244.7 L140.3 242.6 L142.7 240.6 L145 238.7 L147.3 236.8 L149.6 235 L152 233.2 L154.3 231.5 L156.6 229.8 L158.9 228.2 L161.3 226.6 L163.6 225 L165.9 223.5 L168.3 222 L170.6 220.6 L172.9 219.2 L175.2 217.8 L177.6 216.4 L179.9 215.1 L182.2 213.8 L184.5 212.5 L186.9 211.2 L189.2 210 L191.5 208.8 L193.9 207.6 L196.2 206.5 L198.5 205.3 L200.8 204.2 L203.2 203.1 L205.5 202 L207.8 201 L210.1 199.9 L212.5 198.9 L214.8 197.9 L217.1 196.9 L219.5 195.9 L221.8 195 L224.1 194 L226.4 193.1 L228.8 192.2 L231.1 191.3 L233.4 190.4 L235.7 189.6 L238.1 188.7 L240.4 187.9 L242.7 187.1 L245.1 186.3 L247.4 185.5 L249.7 184.8 L252 184 L254.4 183.3 L256.7 182.5 L259 181.8 L261.3 181.1 L263.7 180.4 L266 179.8 L268.3 179.1 L270.7 178.5 L273 177.8 L275.3 177.2 L277.6 176.6 L280 176 L282.3 175.4 L284.6 174.9 L286.9 174.3 L289.3 173.8 L291.6 173.3 L293.9 172.8 L296.3 172.3 L298.6 171.8 L300.9 171.3 L303.2 170.9 L305.6 170.4 L307.9 170 L310.2 169.6 L312.5 169.2 L314.9 168.8 L317.2 168.4 L319.5 168 L321.9 167.7 L324.2 167.4 L326.5 167.1 L328.8 166.7 L331.2 166.5 L333.5 166.2 L335.8 165.9 L338.1 165.7 L340.5 165.5 L342.8 165.2 L345.1 165 L347.5 164.9 L349.8 164.7 L352.1 164.5 L354.4 164.4 L356.8 164.3 L359.1 164.2 L361.4 164.1 L363.7 164.1 L366.1 164 L368.4 164 L370.7 164 L373.1 164.1 L375.4 164.1 L377.7 164.2 L380 164.3 L382.4 164.4 L384.7 164.5 L387 164.6 L389.3 164.8 L391.7 164.9 L394 165.1 L396.3 165.3 L398.7 165.5 L401 165.7 L403.3 165.9 L405.6 166.1 L408 166.4 L410.3 166.6 L412.6 166.9 L414.9 167.2 L417.3 167.4 L419.6 167.7 L421.9 168.1 L424.3 168.4 L426.6 168.7 L428.9 169.1 L431.2 169.4 L433.6 169.8 L435.9 170.2 L438.2 170.6 L440.5 171 L442.9 171.4 L445.2 171.8 L447.5 172.2 L449.9 172.7 L452.2 173.2 L454.5 173.7 L456.8 174.2 L459.2 174.7 L461.5 175.2 L463.8 175.7 L466.1 176.3 L468.5 176.8 L470.8 177.4 L473.1 178 L475.5 178.6 L477.8 179.3 L480.1 179.9 L482.4 180.6 L484.8 181.3 L487.1 182 L489.4 182.7 L491.7 183.5 L494.1 184.2 L496.4 185 L498.7 185.8 L501.1 186.6 L503.4 187.5 L505.7 188.4 L508 189.3 L510.4 190.2 L512.7 191.1 L515 192.1 L517.3 193.1 L519.7 194.1 L522 195.1 L524.3 196.2 L526.7 197.2 L529 198.3 L531.3 199.4 L533.6 200.5 L536 201.7 L538.3 202.8 L540.6 204 L542.9 205.2 L545.3 206.4 L547.6 207.6 L549.9 208.8 L552.3 210.1 L554.6 211.3 L556.9 212.6 L559.2 213.9 L561.6 215.2 L563.9 216.5 L566.2 217.8 L568.5 219.2 L570.9 220.6 L573.2 222.1 L575.5 223.6 L577.9 225.1 L580.2 226.6 L582.5 228.2 L584.8 229.9 L587.2 231.6 L589.5 233.4 L591.8 235.2 L594.1 237.1 L596.5 239.1 L598.8 241.2 L601.1 243.4 L603.5 245.6 L605.8 248 L608.1 250.5 L610.4 253.1 L612.8 255.9 L615.1 258.9 L617.4 262.1 L619.7 265.7 L622.1 269.6 L624.4 274.3" fill="none" stroke="#1d1813" stroke-width="1.35" stroke-dasharray="14 1.3 8 1.2" stroke-dashoffset="21.2" clip-path="url(#topclip)"/>
<path d="M112.4 279.2 L114.7 274.1 L117.1 270.1 L119.4 266.5 L121.7 263.3 L124 260.3 L126.4 257.6 L128.7 255 L131 252.6 L133.3 250.2 L135.7 248 L138 245.9 L140.3 243.9 L142.7 241.9 L145 240 L147.3 238.2 L149.6 236.4 L152 234.7 L154.3 233 L156.6 231.3 L158.9 229.8 L161.3 228.2 L163.6 226.7 L165.9 225.2 L168.3 223.8 L170.6 222.4 L172.9 221 L175.2 219.6 L177.6 218.3 L179.9 217 L182.2 215.8 L184.5 214.5 L186.9 213.3 L189.2 212.1 L191.5 211 L193.9 209.8 L196.2 208.7 L198.5 207.6 L200.8 206.5 L203.2 205.4 L205.5 204.4 L207.8 203.4 L210.1 202.4 L212.5 201.4 L214.8 200.4 L217.1 199.5 L219.5 198.5 L221.8 197.6 L224.1 196.7 L226.4 195.8 L228.8 194.9 L231.1 194.1 L233.4 193.3 L235.7 192.4 L238.1 191.6 L240.4 190.8 L242.7 190 L245.1 189.3 L247.4 188.5 L249.7 187.8 L252 187.1 L254.4 186.4 L256.7 185.7 L259 185 L261.3 184.3 L263.7 183.7 L266 183 L268.3 182.4 L270.7 181.8 L273 181.2 L275.3 180.6 L277.6 180 L280 179.4 L282.3 178.9 L284.6 178.4 L286.9 177.8 L289.3 177.3 L291.6 176.8 L293.9 176.3 L296.3 175.9 L298.6 175.4 L300.9 175 L303.2 174.5 L305.6 174.1 L307.9 173.7 L310.2 173.3 L312.5 172.9 L314.9 172.6 L317.2 172.2 L319.5 171.9 L321.9 171.5 L324.2 171.2 L326.5 170.9 L328.8 170.6 L331.2 170.4 L333.5 170.1 L335.8 169.9 L338.1 169.6 L340.5 169.4 L342.8 169.2 L345.1 169.1 L347.5 168.9 L349.8 168.7 L352.1 168.6 L354.4 168.5 L356.8 168.4 L359.1 168.3 L361.4 168.2 L363.7 168.2 L366.1 168.1 L368.4 168.1 L370.7 168.1 L373.1 168.2 L375.4 168.2 L377.7 168.3 L380 168.3 L382.4 168.4 L384.7 168.5 L387 168.7 L389.3 168.8 L391.7 168.9 L394 169.1 L396.3 169.2 L398.7 169.4 L401 169.6 L403.3 169.8 L405.6 170 L408 170.2 L410.3 170.4 L412.6 170.7 L414.9 170.9 L417.3 171.2 L419.6 171.4 L421.9 171.7 L424.3 172 L426.6 172.3 L428.9 172.6 L431.2 172.9 L433.6 173.3 L435.9 173.6 L438.2 174 L440.5 174.3 L442.9 174.7 L445.2 175.1 L447.5 175.5 L449.9 175.9 L452.2 176.4 L454.5 176.8 L456.8 177.3 L459.2 177.7 L461.5 178.2 L463.8 178.7 L466.1 179.2 L468.5 179.8 L470.8 180.3 L473.1 180.9 L475.5 181.5 L477.8 182.1 L480.1 182.7 L482.4 183.3 L484.8 183.9 L487.1 184.6 L489.4 185.3 L491.7 186 L494.1 186.7 L496.4 187.5 L498.7 188.3 L501.1 189.1 L503.4 189.9 L505.7 190.7 L508 191.6 L510.4 192.5 L512.7 193.4 L515 194.3 L517.3 195.3 L519.7 196.3 L522 197.3 L524.3 198.3 L526.7 199.3 L529 200.4 L531.3 201.5 L533.6 202.6 L536 203.7 L538.3 204.8 L540.6 206 L542.9 207.1 L545.3 208.3 L547.6 209.4 L549.9 210.6 L552.3 211.8 L554.6 213 L556.9 214.2 L559.2 215.5 L561.6 216.7 L563.9 218 L566.2 219.3 L568.5 220.6 L570.9 222 L573.2 223.4 L575.5 224.8 L577.9 226.2 L580.2 227.7 L582.5 229.3 L584.8 230.9 L587.2 232.6 L589.5 234.3 L591.8 236.1 L594.1 237.9 L596.5 239.9 L598.8 241.9 L601.1 244 L603.5 246.2 L605.8 248.6 L608.1 251 L610.4 253.6 L612.8 256.4 L615.1 259.4 L617.4 262.6 L619.7 266.1 L622.1 270.1 L624.4 274.9" fill="none" stroke="#1d1813" stroke-width="1.35" stroke-dasharray="14 1.3 8 1.2" stroke-dashoffset="26.5" clip-path="url(#topclip)"/>
<path d="M107 313 L109.2 317.8 L111.4 321.7 L113.5 325.3 L115.7 328.6 L117.9 331.7 L120.1 334.6 L122.2 337.3 L124.4 339.8 L126.6 342.3 L128.8 344.7 L131 347 L133.1 349.2 L135.3 351.3 L137.5 353.4 L139.7 355.4 L141.9 357.3 L144 359.2 L146.2 361.1 L148.4 362.9 L150.6 364.7 L152.7 366.5 L154.9 368.2 L157.1 369.8 L159.3 371.5 L161.5 373.1 L163.6 374.7 L165.8 376.3 L168 377.8 L170.2 379.3 L172.3 380.8 L174.5 382.3 L176.7 383.7 L178.9 385.1 L181.1 386.5 L183.2 387.9 L185.4 389.3 L187.6 390.6 L189.8 391.9 L192 393.2 L194.1 394.5 L196.3 395.8 L198.5 397 L200.7 398.3 L202.8 399.5 L205 400.7 L207.2 401.9 L209.4 403.1 L211.6 404.2 L213.7 405.4 L215.9 406.5 L218.1 407.6 L220.3 408.7 L222.5 409.8 L224.6 410.9 L226.8 411.9 L229 413 L231.2 414 L233.3 415 L235.5 416 L237.7 417 L239.9 418 L242.1 418.9 L244.2 419.9 L246.4 420.8 L248.6 421.7 L250.8 422.6 L252.9 423.5 L255.1 424.4 L257.3 425.2 L259.5 426.1 L261.7 426.9 L263.8 427.8 L266 428.6 L268.2 429.4 L270.4 430.2 L272.6 430.9 L274.7 431.7 L276.9 432.4 L279.1 433.2 L281.3 433.9 L283.4 434.6 L285.6 435.3 L287.8 435.9 L290 436.6 L292.2 437.2 L294.3 437.9 L296.5 438.5 L298.7 439.1 L300.9 439.7 L303 440.2 L305.2 440.8 L307.4 441.4 L309.6 441.9 L311.8 442.4 L313.9 442.9 L316.1 443.4 L318.3 443.9 L320.5 444.3 L322.7 444.7 L324.8 445.2 L327 445.6 L329.2 446 L331.4 446.3 L333.5 446.7 L335.7 447 L337.9 447.4 L340.1 447.7 L342.3 448 L344.4 448.2 L346.6 448.5 L348.8 448.7 L351 448.9 L353.2 449.1 L355.3 449.3 L357.5 449.5 L359.7 449.6 L361.9 449.7 L364 449.8 L366.2 449.9 L368.4 449.9 L370.6 449.9 L372.8 449.8 L374.9 449.7 L377.1 449.6 L379.3 449.5 L381.5 449.4 L383.6 449.2 L385.8 449 L388 448.8 L390.2 448.6 L392.4 448.4 L394.5 448.2 L396.7 447.9 L398.9 447.7 L401.1 447.4 L403.3 447.1 L405.4 446.8 L407.6 446.5 L409.8 446.2 L412 445.8 L414.1 445.5 L416.3 445.1 L418.5 444.7 L420.7 444.4 L422.9 444 L425 443.5 L427.2 443.1 L429.4 442.7 L431.6 442.2 L433.8 441.8 L435.9 441.3 L438.1 440.8 L440.3 440.3 L442.5 439.8 L444.6 439.3 L446.8 438.8 L449 438.2 L451.2 437.7 L453.4 437.1 L455.5 436.5 L457.7 435.9 L459.9 435.3 L462.1 434.7 L464.2 434.1 L466.4 433.5 L468.6 432.8 L470.8 432.1 L473 431.5 L475.1 430.8 L477.3 430.1 L479.5 429.3 L481.7 428.6 L483.9 427.9 L486 427.1 L488.2 426.3 L490.4 425.5 L492.6 424.7 L494.7 423.9 L496.9 423.1 L499.1 422.3 L501.3 421.4 L503.5 420.5 L505.6 419.6 L507.8 418.7 L510 417.8 L512.2 416.9 L514.3 415.9 L516.5 414.9 L518.7 413.9 L520.9 412.9 L523.1 411.9 L525.2 410.9 L527.4 409.8 L529.6 408.7 L531.8 407.6 L534 406.5 L536.1 405.3 L538.3 404.2 L540.5 403 L542.7 401.8 L544.8 400.5 L547 399.3 L549.2 398 L551.4 396.7 L553.6 395.4 L555.7 394 L557.9 392.6 L560.1 391.2 L562.3 389.8 L564.4 388.3 L566.6 386.8 L568.8 385.3 L571 383.7 L573.2 382.1 L575.3 380.4 L577.5 378.8 L579.7 377 L581.9 375.3 L584.1 373.5 L586.2 371.6 L588.4 369.7 L590.6 367.8 L592.8 365.8 L594.9 363.7 L597.1 361.5 L599.3 359.3 L601.5 357.1 L603.7 354.7 L605.8 352.3 L608 349.7 L610.2 347.1 L612.4 344.3 L614.6 341.4 L616.7 338.3 L618.9 335 L621.1 331.6 L623.3 327.8 L625.4 323.7 L627.6 319.1 L629.8 314" fill="none" stroke="#1d1813" stroke-width="2.90" stroke-dasharray="13 0.9 7 1.1" stroke-dashoffset="7.3" clip-path="url(#botclip)"/>
<path d="M107 313 L109.2 317.3 L111.4 320.8 L113.5 324.2 L115.7 327.3 L117.9 330.3 L120.1 333 L122.2 335.7 L124.4 338.2 L126.6 340.6 L128.8 342.9 L131 345.1 L133.1 347.2 L135.3 349.3 L137.5 351.3 L139.7 353.3 L141.9 355.2 L144 357.1 L146.2 358.9 L148.4 360.7 L150.6 362.4 L152.7 364.2 L154.9 365.8 L157.1 367.5 L159.3 369.1 L161.5 370.7 L163.6 372.2 L165.8 373.8 L168 375.3 L170.2 376.8 L172.3 378.2 L174.5 379.7 L176.7 381.1 L178.9 382.5 L181.1 383.9 L183.2 385.2 L185.4 386.6 L187.6 387.9 L189.8 389.2 L192 390.5 L194.1 391.7 L196.3 393 L198.5 394.2 L200.7 395.4 L202.8 396.6 L205 397.8 L207.2 399 L209.4 400.1 L211.6 401.3 L213.7 402.4 L215.9 403.5 L218.1 404.6 L220.3 405.7 L222.5 406.7 L224.6 407.8 L226.8 408.8 L229 409.9 L231.2 410.9 L233.3 411.9 L235.5 412.9 L237.7 413.8 L239.9 414.8 L242.1 415.7 L244.2 416.7 L246.4 417.6 L248.6 418.5 L250.8 419.4 L252.9 420.2 L255.1 421.1 L257.3 422 L259.5 422.8 L261.7 423.6 L263.8 424.4 L266 425.2 L268.2 426 L270.4 426.8 L272.6 427.6 L274.7 428.3 L276.9 429 L279.1 429.7 L281.3 430.5 L283.4 431.1 L285.6 431.8 L287.8 432.5 L290 433.1 L292.2 433.8 L294.3 434.4 L296.5 435 L298.7 435.6 L300.9 436.2 L303 436.8 L305.2 437.3 L307.4 437.8 L309.6 438.4 L311.8 438.9 L313.9 439.4 L316.1 439.8 L318.3 440.3 L320.5 440.8 L322.7 441.2 L324.8 441.6 L327 442 L329.2 442.4 L331.4 442.8 L333.5 443.1 L335.7 443.5 L337.9 443.8 L340.1 444.1 L342.3 444.4 L344.4 444.6 L346.6 444.9 L348.8 445.1 L351 445.3 L353.2 445.5 L355.3 445.7 L357.5 445.9 L359.7 446 L361.9 446.1 L364 446.2 L366.2 446.3 L368.4 446.3 L370.6 446.3 L372.8 446.2 L374.9 446.1 L377.1 446 L379.3 445.9 L381.5 445.8 L383.6 445.6 L385.8 445.4 L388 445.2 L390.2 445 L392.4 444.8 L394.5 444.6 L396.7 444.3 L398.9 444.1 L401.1 443.8 L403.3 443.5 L405.4 443.2 L407.6 442.9 L409.8 442.6 L412 442.2 L414.1 441.9 L416.3 441.5 L418.5 441.2 L420.7 440.8 L422.9 440.4 L425 440 L427.2 439.6 L429.4 439.1 L431.6 438.7 L433.8 438.2 L435.9 437.8 L438.1 437.3 L440.3 436.8 L442.5 436.3 L444.6 435.8 L446.8 435.2 L449 434.7 L451.2 434.2 L453.4 433.6 L455.5 433 L457.7 432.4 L459.9 431.8 L462.1 431.2 L464.2 430.6 L466.4 430 L468.6 429.3 L470.8 428.7 L473 428 L475.1 427.3 L477.3 426.6 L479.5 425.9 L481.7 425.2 L483.9 424.4 L486 423.7 L488.2 422.9 L490.4 422.1 L492.6 421.3 L494.7 420.5 L496.9 419.7 L499.1 418.9 L501.3 418 L503.5 417.2 L505.6 416.3 L507.8 415.4 L510 414.5 L512.2 413.5 L514.3 412.6 L516.5 411.6 L518.7 410.6 L520.9 409.6 L523.1 408.6 L525.2 407.6 L527.4 406.5 L529.6 405.5 L531.8 404.4 L534 403.3 L536.1 402.1 L538.3 401 L540.5 399.8 L542.7 398.6 L544.8 397.4 L547 396.2 L549.2 394.9 L551.4 393.6 L553.6 392.3 L555.7 391 L557.9 389.6 L560.1 388.2 L562.3 386.8 L564.4 385.4 L566.6 383.9 L568.8 382.4 L571 380.8 L573.2 379.2 L575.3 377.6 L577.5 376 L579.7 374.3 L581.9 372.6 L584.1 370.8 L586.2 369 L588.4 367.1 L590.6 365.2 L592.8 363.2 L594.9 361.2 L597.1 359.1 L599.3 356.9 L601.5 354.7 L603.7 352.4 L605.8 350 L608 347.5 L610.2 345 L612.4 342.3 L614.6 339.4 L616.7 336.5 L618.9 333.3 L621.1 330 L623.3 326.4 L625.4 322.5 L627.6 318.3 L629.8 314" fill="none" stroke="#1d1813" stroke-width="2.75" stroke-dasharray="15 0.9 8 1.1" stroke-dashoffset="14.6" clip-path="url(#botclip)"/>
<path d="M107 313 L109.2 316.8 L111.4 319.9 L113.5 323.1 L115.7 326.1 L117.9 328.9 L120.1 331.5 L122.2 334.1 L124.4 336.5 L126.6 338.8 L128.8 341 L131 343.2 L133.1 345.3 L135.3 347.3 L137.5 349.3 L139.7 351.2 L141.9 353.1 L144 354.9 L146.2 356.7 L148.4 358.5 L150.6 360.2 L152.7 361.8 L154.9 363.5 L157.1 365.1 L159.3 366.7 L161.5 368.2 L163.6 369.8 L165.8 371.3 L168 372.8 L170.2 374.2 L172.3 375.7 L174.5 377.1 L176.7 378.5 L178.9 379.8 L181.1 381.2 L183.2 382.5 L185.4 383.8 L187.6 385.1 L189.8 386.4 L192 387.7 L194.1 388.9 L196.3 390.1 L198.5 391.4 L200.7 392.5 L202.8 393.7 L205 394.9 L207.2 396 L209.4 397.2 L211.6 398.3 L213.7 399.4 L215.9 400.5 L218.1 401.6 L220.3 402.6 L222.5 403.7 L224.6 404.7 L226.8 405.7 L229 406.8 L231.2 407.8 L233.3 408.7 L235.5 409.7 L237.7 410.7 L239.9 411.6 L242.1 412.5 L244.2 413.4 L246.4 414.4 L248.6 415.2 L250.8 416.1 L252.9 417 L255.1 417.8 L257.3 418.7 L259.5 419.5 L261.7 420.3 L263.8 421.1 L266 421.9 L268.2 422.7 L270.4 423.4 L272.6 424.2 L274.7 424.9 L276.9 425.6 L279.1 426.3 L281.3 427 L283.4 427.7 L285.6 428.4 L287.8 429 L290 429.7 L292.2 430.3 L294.3 430.9 L296.5 431.5 L298.7 432.1 L300.9 432.7 L303 433.3 L305.2 433.8 L307.4 434.3 L309.6 434.8 L311.8 435.4 L313.9 435.8 L316.1 436.3 L318.3 436.8 L320.5 437.2 L322.7 437.6 L324.8 438.1 L327 438.5 L329.2 438.8 L331.4 439.2 L333.5 439.6 L335.7 439.9 L337.9 440.2 L340.1 440.5 L342.3 440.8 L344.4 441.1 L346.6 441.3 L348.8 441.5 L351 441.8 L353.2 441.9 L355.3 442.1 L357.5 442.3 L359.7 442.4 L361.9 442.5 L364 442.6 L366.2 442.7 L368.4 442.7 L370.6 442.7 L372.8 442.6 L374.9 442.5 L377.1 442.4 L379.3 442.3 L381.5 442.2 L383.6 442 L385.8 441.8 L388 441.6 L390.2 441.4 L392.4 441.2 L394.5 441 L396.7 440.7 L398.9 440.5 L401.1 440.2 L403.3 439.9 L405.4 439.6 L407.6 439.3 L409.8 439 L412 438.7 L414.1 438.3 L416.3 438 L418.5 437.6 L420.7 437.2 L422.9 436.8 L425 436.4 L427.2 436 L429.4 435.6 L431.6 435.1 L433.8 434.7 L435.9 434.2 L438.1 433.7 L440.3 433.2 L442.5 432.7 L444.6 432.2 L446.8 431.7 L449 431.2 L451.2 430.6 L453.4 430.1 L455.5 429.5 L457.7 428.9 L459.9 428.3 L462.1 427.7 L464.2 427.1 L466.4 426.5 L468.6 425.8 L470.8 425.2 L473 424.5 L475.1 423.8 L477.3 423.1 L479.5 422.4 L481.7 421.7 L483.9 421 L486 420.2 L488.2 419.5 L490.4 418.7 L492.6 417.9 L494.7 417.1 L496.9 416.3 L499.1 415.5 L501.3 414.6 L503.5 413.8 L505.6 412.9 L507.8 412 L510 411.1 L512.2 410.2 L514.3 409.3 L516.5 408.3 L518.7 407.3 L520.9 406.4 L523.1 405.4 L525.2 404.3 L527.4 403.3 L529.6 402.2 L531.8 401.2 L534 400.1 L536.1 399 L538.3 397.8 L540.5 396.7 L542.7 395.5 L544.8 394.3 L547 393.1 L549.2 391.8 L551.4 390.6 L553.6 389.3 L555.7 387.9 L557.9 386.6 L560.1 385.2 L562.3 383.8 L564.4 382.4 L566.6 381 L568.8 379.5 L571 377.9 L573.2 376.4 L575.3 374.8 L577.5 373.2 L579.7 371.5 L581.9 369.8 L584.1 368.1 L586.2 366.3 L588.4 364.5 L590.6 362.6 L592.8 360.7 L594.9 358.7 L597.1 356.6 L599.3 354.5 L601.5 352.3 L603.7 350.1 L605.8 347.8 L608 345.4 L610.2 342.8 L612.4 340.2 L614.6 337.5 L616.7 334.6 L618.9 331.6 L621.1 328.4 L623.3 325 L625.4 321.3 L627.6 317.5 L629.8 314" fill="none" stroke="#1d1813" stroke-width="2.60" stroke-dasharray="11 0.9 9 1.1" stroke-dashoffset="4.9" clip-path="url(#botclip)"/>
<path d="M107 313 L109.2 316.3 L111.4 319.1 L113.5 322 L115.7 324.8 L117.9 327.5 L120.1 330 L122.2 332.5 L124.4 334.8 L126.6 337.1 L128.8 339.2 L131 341.3 L133.1 343.4 L135.3 345.3 L137.5 347.3 L139.7 349.1 L141.9 351 L144 352.8 L146.2 354.5 L148.4 356.2 L150.6 357.9 L152.7 359.5 L154.9 361.2 L157.1 362.7 L159.3 364.3 L161.5 365.8 L163.6 367.3 L165.8 368.8 L168 370.2 L170.2 371.7 L172.3 373.1 L174.5 374.5 L176.7 375.8 L178.9 377.2 L181.1 378.5 L183.2 379.8 L185.4 381.1 L187.6 382.4 L189.8 383.6 L192 384.9 L194.1 386.1 L196.3 387.3 L198.5 388.5 L200.7 389.7 L202.8 390.8 L205 392 L207.2 393.1 L209.4 394.2 L211.6 395.3 L213.7 396.4 L215.9 397.5 L218.1 398.6 L220.3 399.6 L222.5 400.6 L224.6 401.7 L226.8 402.7 L229 403.7 L231.2 404.6 L233.3 405.6 L235.5 406.6 L237.7 407.5 L239.9 408.4 L242.1 409.3 L244.2 410.2 L246.4 411.1 L248.6 412 L250.8 412.9 L252.9 413.7 L255.1 414.6 L257.3 415.4 L259.5 416.2 L261.7 417 L263.8 417.8 L266 418.6 L268.2 419.3 L270.4 420.1 L272.6 420.8 L274.7 421.5 L276.9 422.3 L279.1 422.9 L281.3 423.6 L283.4 424.3 L285.6 425 L287.8 425.6 L290 426.2 L292.2 426.9 L294.3 427.5 L296.5 428.1 L298.7 428.6 L300.9 429.2 L303 429.8 L305.2 430.3 L307.4 430.8 L309.6 431.3 L311.8 431.8 L313.9 432.3 L316.1 432.8 L318.3 433.2 L320.5 433.7 L322.7 434.1 L324.8 434.5 L327 434.9 L329.2 435.3 L331.4 435.6 L333.5 436 L335.7 436.3 L337.9 436.6 L340.1 436.9 L342.3 437.2 L344.4 437.5 L346.6 437.7 L348.8 437.9 L351 438.2 L353.2 438.4 L355.3 438.5 L357.5 438.7 L359.7 438.8 L361.9 438.9 L364 439 L366.2 439.1 L368.4 439.1 L370.6 439.1 L372.8 439 L374.9 438.9 L377.1 438.8 L379.3 438.7 L381.5 438.6 L383.6 438.4 L385.8 438.2 L388 438 L390.2 437.8 L392.4 437.6 L394.5 437.4 L396.7 437.2 L398.9 436.9 L401.1 436.6 L403.3 436.3 L405.4 436 L407.6 435.7 L409.8 435.4 L412 435.1 L414.1 434.7 L416.3 434.4 L418.5 434 L420.7 433.6 L422.9 433.2 L425 432.8 L427.2 432.4 L429.4 432 L431.6 431.6 L433.8 431.1 L435.9 430.6 L438.1 430.2 L440.3 429.7 L442.5 429.2 L444.6 428.7 L446.8 428.2 L449 427.6 L451.2 427.1 L453.4 426.6 L455.5 426 L457.7 425.4 L459.9 424.8 L462.1 424.2 L464.2 423.6 L466.4 423 L468.6 422.3 L470.8 421.7 L473 421 L475.1 420.4 L477.3 419.7 L479.5 419 L481.7 418.3 L483.9 417.5 L486 416.8 L488.2 416.1 L490.4 415.3 L492.6 414.5 L494.7 413.7 L496.9 412.9 L499.1 412.1 L501.3 411.3 L503.5 410.4 L505.6 409.6 L507.8 408.7 L510 407.8 L512.2 406.9 L514.3 406 L516.5 405 L518.7 404.1 L520.9 403.1 L523.1 402.1 L525.2 401.1 L527.4 400.1 L529.6 399 L531.8 397.9 L534 396.9 L536.1 395.8 L538.3 394.6 L540.5 393.5 L542.7 392.3 L544.8 391.2 L547 390 L549.2 388.7 L551.4 387.5 L553.6 386.2 L555.7 384.9 L557.9 383.6 L560.1 382.2 L562.3 380.9 L564.4 379.5 L566.6 378 L568.8 376.6 L571 375.1 L573.2 373.5 L575.3 372 L577.5 370.4 L579.7 368.8 L581.9 367.1 L584.1 365.4 L586.2 363.6 L588.4 361.8 L590.6 360 L592.8 358.1 L594.9 356.2 L597.1 354.2 L599.3 352.1 L601.5 350 L603.7 347.8 L605.8 345.5 L608 343.2 L610.2 340.7 L612.4 338.2 L614.6 335.6 L616.7 332.8 L618.9 329.9 L621.1 326.8 L623.3 323.6 L625.4 320.2 L627.6 316.6 L629.8 314" fill="none" stroke="#1d1813" stroke-width="2.45" stroke-dasharray="13 0.9 6 1.1" stroke-dashoffset="12.2" clip-path="url(#botclip)"/>
<path d="M107 313 L109.2 315.8 L111.4 318.2 L113.5 320.9 L115.7 323.5 L117.9 326.1 L120.1 328.5 L122.2 330.9 L124.4 333.1 L126.6 335.3 L128.8 337.4 L131 339.5 L133.1 341.4 L135.3 343.4 L137.5 345.2 L139.7 347.1 L141.9 348.9 L144 350.6 L146.2 352.3 L148.4 354 L150.6 355.6 L152.7 357.2 L154.9 358.8 L157.1 360.4 L159.3 361.9 L161.5 363.4 L163.6 364.9 L165.8 366.3 L168 367.7 L170.2 369.1 L172.3 370.5 L174.5 371.9 L176.7 373.2 L178.9 374.5 L181.1 375.8 L183.2 377.1 L185.4 378.4 L187.6 379.6 L189.8 380.9 L192 382.1 L194.1 383.3 L196.3 384.5 L198.5 385.7 L200.7 386.8 L202.8 388 L205 389.1 L207.2 390.2 L209.4 391.3 L211.6 392.4 L213.7 393.4 L215.9 394.5 L218.1 395.5 L220.3 396.6 L222.5 397.6 L224.6 398.6 L226.8 399.6 L229 400.6 L231.2 401.5 L233.3 402.5 L235.5 403.4 L237.7 404.3 L239.9 405.2 L242.1 406.1 L244.2 407 L246.4 407.9 L248.6 408.8 L250.8 409.6 L252.9 410.5 L255.1 411.3 L257.3 412.1 L259.5 412.9 L261.7 413.7 L263.8 414.5 L266 415.2 L268.2 416 L270.4 416.7 L272.6 417.4 L274.7 418.2 L276.9 418.9 L279.1 419.5 L281.3 420.2 L283.4 420.9 L285.6 421.5 L287.8 422.2 L290 422.8 L292.2 423.4 L294.3 424 L296.5 424.6 L298.7 425.2 L300.9 425.7 L303 426.3 L305.2 426.8 L307.4 427.3 L309.6 427.8 L311.8 428.3 L313.9 428.8 L316.1 429.2 L318.3 429.7 L320.5 430.1 L322.7 430.5 L324.8 430.9 L327 431.3 L329.2 431.7 L331.4 432.1 L333.5 432.4 L335.7 432.7 L337.9 433 L340.1 433.3 L342.3 433.6 L344.4 433.9 L346.6 434.1 L348.8 434.4 L351 434.6 L353.2 434.8 L355.3 434.9 L357.5 435.1 L359.7 435.2 L361.9 435.3 L364 435.4 L366.2 435.5 L368.4 435.5 L370.6 435.5 L372.8 435.4 L374.9 435.3 L377.1 435.2 L379.3 435.1 L381.5 435 L383.6 434.8 L385.8 434.6 L388 434.5 L390.2 434.2 L392.4 434 L394.5 433.8 L396.7 433.6 L398.9 433.3 L401.1 433 L403.3 432.8 L405.4 432.5 L407.6 432.1 L409.8 431.8 L412 431.5 L414.1 431.2 L416.3 430.8 L418.5 430.4 L420.7 430.1 L422.9 429.7 L425 429.3 L427.2 428.9 L429.4 428.4 L431.6 428 L433.8 427.6 L435.9 427.1 L438.1 426.6 L440.3 426.1 L442.5 425.7 L444.6 425.2 L446.8 424.6 L449 424.1 L451.2 423.6 L453.4 423 L455.5 422.5 L457.7 421.9 L459.9 421.3 L462.1 420.7 L464.2 420.1 L466.4 419.5 L468.6 418.9 L470.8 418.2 L473 417.6 L475.1 416.9 L477.3 416.2 L479.5 415.5 L481.7 414.8 L483.9 414.1 L486 413.4 L488.2 412.6 L490.4 411.9 L492.6 411.1 L494.7 410.3 L496.9 409.5 L499.1 408.7 L501.3 407.9 L503.5 407.1 L505.6 406.2 L507.8 405.3 L510 404.4 L512.2 403.5 L514.3 402.6 L516.5 401.7 L518.7 400.8 L520.9 399.8 L523.1 398.8 L525.2 397.8 L527.4 396.8 L529.6 395.8 L531.8 394.7 L534 393.7 L536.1 392.6 L538.3 391.5 L540.5 390.3 L542.7 389.2 L544.8 388 L547 386.8 L549.2 385.6 L551.4 384.4 L553.6 383.2 L555.7 381.9 L557.9 380.6 L560.1 379.2 L562.3 377.9 L564.4 376.5 L566.6 375.1 L568.8 373.7 L571 372.2 L573.2 370.7 L575.3 369.2 L577.5 367.6 L579.7 366 L581.9 364.4 L584.1 362.7 L586.2 361 L588.4 359.2 L590.6 357.4 L592.8 355.6 L594.9 353.7 L597.1 351.7 L599.3 349.7 L601.5 347.6 L603.7 345.5 L605.8 343.3 L608 341 L610.2 338.6 L612.4 336.2 L614.6 333.6 L616.7 331 L618.9 328.2 L621.1 325.2 L623.3 322.2 L625.4 319 L627.6 315.8 L629.8 314" fill="none" stroke="#1d1813" stroke-width="2.30" stroke-dasharray="15 0.9 7 1.1" stroke-dashoffset="2.5" clip-path="url(#botclip)"/>
<path d="M107 313 L109.2 315.3 L111.4 317.3 L113.5 319.7 L115.7 322.2 L117.9 324.7 L120.1 327 L122.2 329.3 L124.4 331.4 L126.6 333.6 L128.8 335.6 L131 337.6 L133.1 339.5 L135.3 341.4 L137.5 343.2 L139.7 345 L141.9 346.7 L144 348.4 L146.2 350.1 L148.4 351.8 L150.6 353.4 L152.7 354.9 L154.9 356.5 L157.1 358 L159.3 359.5 L161.5 360.9 L163.6 362.4 L165.8 363.8 L168 365.2 L170.2 366.6 L172.3 367.9 L174.5 369.3 L176.7 370.6 L178.9 371.9 L181.1 373.2 L183.2 374.4 L185.4 375.7 L187.6 376.9 L189.8 378.1 L192 379.3 L194.1 380.5 L196.3 381.7 L198.5 382.8 L200.7 383.9 L202.8 385.1 L205 386.2 L207.2 387.3 L209.4 388.3 L211.6 389.4 L213.7 390.5 L215.9 391.5 L218.1 392.5 L220.3 393.5 L222.5 394.5 L224.6 395.5 L226.8 396.5 L229 397.5 L231.2 398.4 L233.3 399.3 L235.5 400.3 L237.7 401.2 L239.9 402.1 L242.1 403 L244.2 403.8 L246.4 404.7 L248.6 405.5 L250.8 406.4 L252.9 407.2 L255.1 408 L257.3 408.8 L259.5 409.6 L261.7 410.4 L263.8 411.1 L266 411.9 L268.2 412.6 L270.4 413.4 L272.6 414.1 L274.7 414.8 L276.9 415.5 L279.1 416.1 L281.3 416.8 L283.4 417.5 L285.6 418.1 L287.8 418.7 L290 419.3 L292.2 419.9 L294.3 420.5 L296.5 421.1 L298.7 421.7 L300.9 422.2 L303 422.8 L305.2 423.3 L307.4 423.8 L309.6 424.3 L311.8 424.8 L313.9 425.2 L316.1 425.7 L318.3 426.1 L320.5 426.6 L322.7 427 L324.8 427.4 L327 427.8 L329.2 428.1 L331.4 428.5 L333.5 428.8 L335.7 429.2 L337.9 429.5 L340.1 429.8 L342.3 430 L344.4 430.3 L346.6 430.5 L348.8 430.8 L351 431 L353.2 431.2 L355.3 431.3 L357.5 431.5 L359.7 431.6 L361.9 431.7 L364 431.8 L366.2 431.9 L368.4 431.9 L370.6 431.9 L372.8 431.8 L374.9 431.7 L377.1 431.6 L379.3 431.5 L381.5 431.4 L383.6 431.2 L385.8 431 L388 430.9 L390.2 430.7 L392.4 430.4 L394.5 430.2 L396.7 430 L398.9 429.7 L401.1 429.4 L403.3 429.2 L405.4 428.9 L407.6 428.6 L409.8 428.2 L412 427.9 L414.1 427.6 L416.3 427.2 L418.5 426.9 L420.7 426.5 L422.9 426.1 L425 425.7 L427.2 425.3 L429.4 424.9 L431.6 424.4 L433.8 424 L435.9 423.5 L438.1 423.1 L440.3 422.6 L442.5 422.1 L444.6 421.6 L446.8 421.1 L449 420.6 L451.2 420.1 L453.4 419.5 L455.5 419 L457.7 418.4 L459.9 417.8 L462.1 417.2 L464.2 416.6 L466.4 416 L468.6 415.4 L470.8 414.7 L473 414.1 L475.1 413.4 L477.3 412.8 L479.5 412.1 L481.7 411.4 L483.9 410.7 L486 409.9 L488.2 409.2 L490.4 408.5 L492.6 407.7 L494.7 406.9 L496.9 406.1 L499.1 405.3 L501.3 404.5 L503.5 403.7 L505.6 402.8 L507.8 402 L510 401.1 L512.2 400.2 L514.3 399.3 L516.5 398.4 L518.7 397.5 L520.9 396.5 L523.1 395.5 L525.2 394.6 L527.4 393.6 L529.6 392.5 L531.8 391.5 L534 390.5 L536.1 389.4 L538.3 388.3 L540.5 387.2 L542.7 386.1 L544.8 384.9 L547 383.7 L549.2 382.5 L551.4 381.3 L553.6 380.1 L555.7 378.8 L557.9 377.6 L560.1 376.2 L562.3 374.9 L564.4 373.6 L566.6 372.2 L568.8 370.8 L571 369.3 L573.2 367.8 L575.3 366.3 L577.5 364.8 L579.7 363.2 L581.9 361.6 L584.1 360 L586.2 358.3 L588.4 356.6 L590.6 354.8 L592.8 353 L594.9 351.2 L597.1 349.3 L599.3 347.3 L601.5 345.3 L603.7 343.2 L605.8 341.1 L608 338.8 L610.2 336.5 L612.4 334.2 L614.6 331.7 L616.7 329.1 L618.9 326.5 L621.1 323.7 L623.3 320.8 L625.4 317.8 L627.6 315 L629.8 314" fill="none" stroke="#1d1813" stroke-width="2.15" stroke-dasharray="11 0.9 8 1.1" stroke-dashoffset="9.8" clip-path="url(#botclip)"/>
<path d="M107 313 L109.2 314.8 L111.4 316.4 L113.5 318.6 L115.7 321 L117.9 323.3 L120.1 325.5 L122.2 327.7 L124.4 329.8 L126.6 331.8 L128.8 333.8 L131 335.7 L133.1 337.6 L135.3 339.4 L137.5 341.2 L139.7 342.9 L141.9 344.6 L144 346.3 L146.2 347.9 L148.4 349.5 L150.6 351.1 L152.7 352.6 L154.9 354.1 L157.1 355.6 L159.3 357.1 L161.5 358.5 L163.6 359.9 L165.8 361.3 L168 362.7 L170.2 364 L172.3 365.4 L174.5 366.7 L176.7 368 L178.9 369.2 L181.1 370.5 L183.2 371.7 L185.4 373 L187.6 374.2 L189.8 375.4 L192 376.5 L194.1 377.7 L196.3 378.8 L198.5 380 L200.7 381.1 L202.8 382.2 L205 383.3 L207.2 384.3 L209.4 385.4 L211.6 386.4 L213.7 387.5 L215.9 388.5 L218.1 389.5 L220.3 390.5 L222.5 391.5 L224.6 392.4 L226.8 393.4 L229 394.3 L231.2 395.3 L233.3 396.2 L235.5 397.1 L237.7 398 L239.9 398.9 L242.1 399.8 L244.2 400.6 L246.4 401.5 L248.6 402.3 L250.8 403.1 L252.9 403.9 L255.1 404.7 L257.3 405.5 L259.5 406.3 L261.7 407.1 L263.8 407.8 L266 408.6 L268.2 409.3 L270.4 410 L272.6 410.7 L274.7 411.4 L276.9 412.1 L279.1 412.7 L281.3 413.4 L283.4 414 L285.6 414.7 L287.8 415.3 L290 415.9 L292.2 416.5 L294.3 417.1 L296.5 417.6 L298.7 418.2 L300.9 418.7 L303 419.3 L305.2 419.8 L307.4 420.3 L309.6 420.8 L311.8 421.3 L313.9 421.7 L316.1 422.2 L318.3 422.6 L320.5 423 L322.7 423.4 L324.8 423.8 L327 424.2 L329.2 424.6 L331.4 424.9 L333.5 425.3 L335.7 425.6 L337.9 425.9 L340.1 426.2 L342.3 426.4 L344.4 426.7 L346.6 426.9 L348.8 427.2 L351 427.4 L353.2 427.6 L355.3 427.7 L357.5 427.9 L359.7 428 L361.9 428.1 L364 428.2 L366.2 428.3 L368.4 428.3 L370.6 428.3 L372.8 428.2 L374.9 428.1 L377.1 428 L379.3 427.9 L381.5 427.8 L383.6 427.6 L385.8 427.4 L388 427.3 L390.2 427.1 L392.4 426.8 L394.5 426.6 L396.7 426.4 L398.9 426.1 L401.1 425.9 L403.3 425.6 L405.4 425.3 L407.6 425 L409.8 424.7 L412 424.3 L414.1 424 L416.3 423.6 L418.5 423.3 L420.7 422.9 L422.9 422.5 L425 422.1 L427.2 421.7 L429.4 421.3 L431.6 420.9 L433.8 420.4 L435.9 420 L438.1 419.5 L440.3 419.1 L442.5 418.6 L444.6 418.1 L446.8 417.6 L449 417.1 L451.2 416.5 L453.4 416 L455.5 415.4 L457.7 414.9 L459.9 414.3 L462.1 413.7 L464.2 413.1 L466.4 412.5 L468.6 411.9 L470.8 411.3 L473 410.6 L475.1 410 L477.3 409.3 L479.5 408.6 L481.7 407.9 L483.9 407.2 L486 406.5 L488.2 405.8 L490.4 405 L492.6 404.3 L494.7 403.5 L496.9 402.7 L499.1 401.9 L501.3 401.1 L503.5 400.3 L505.6 399.5 L507.8 398.6 L510 397.8 L512.2 396.9 L514.3 396 L516.5 395.1 L518.7 394.2 L520.9 393.2 L523.1 392.3 L525.2 391.3 L527.4 390.3 L529.6 389.3 L531.8 388.3 L534 387.3 L536.1 386.2 L538.3 385.1 L540.5 384 L542.7 382.9 L544.8 381.8 L547 380.6 L549.2 379.5 L551.4 378.3 L553.6 377 L555.7 375.8 L557.9 374.5 L560.1 373.3 L562.3 371.9 L564.4 370.6 L566.6 369.2 L568.8 367.9 L571 366.4 L573.2 365 L575.3 363.5 L577.5 362 L579.7 360.5 L581.9 358.9 L584.1 357.3 L586.2 355.6 L588.4 354 L590.6 352.2 L592.8 350.5 L594.9 348.7 L597.1 346.8 L599.3 344.9 L601.5 342.9 L603.7 340.9 L605.8 338.8 L608 336.7 L610.2 334.4 L612.4 332.1 L614.6 329.8 L616.7 327.3 L618.9 324.7 L621.1 322.1 L623.3 319.4 L625.4 316.6 L627.6 314.1 L629.8 314" fill="none" stroke="#1d1813" stroke-width="2.00" stroke-dasharray="13 0.9 9 1.1" stroke-dashoffset="0.1" clip-path="url(#botclip)"/>
<path d="M107 313 L109.2 314.4 L111.4 315.5 L113.5 317.5 L115.7 319.7 L117.9 321.9 L120.1 324 L122.2 326.1 L124.4 328.1 L126.6 330 L128.8 332 L131 333.8 L133.1 335.6 L135.3 337.4 L137.5 339.2 L139.7 340.8 L141.9 342.5 L144 344.1 L146.2 345.7 L148.4 347.3 L150.6 348.8 L152.7 350.3 L154.9 351.8 L157.1 353.2 L159.3 354.7 L161.5 356.1 L163.6 357.5 L165.8 358.8 L168 360.2 L170.2 361.5 L172.3 362.8 L174.5 364.1 L176.7 365.3 L178.9 366.6 L181.1 367.8 L183.2 369 L185.4 370.2 L187.6 371.4 L189.8 372.6 L192 373.7 L194.1 374.9 L196.3 376 L198.5 377.1 L200.7 378.2 L202.8 379.3 L205 380.4 L207.2 381.4 L209.4 382.4 L211.6 383.5 L213.7 384.5 L215.9 385.5 L218.1 386.5 L220.3 387.5 L222.5 388.4 L224.6 389.4 L226.8 390.3 L229 391.2 L231.2 392.2 L233.3 393.1 L235.5 394 L237.7 394.8 L239.9 395.7 L242.1 396.6 L244.2 397.4 L246.4 398.2 L248.6 399.1 L250.8 399.9 L252.9 400.7 L255.1 401.5 L257.3 402.2 L259.5 403 L261.7 403.8 L263.8 404.5 L266 405.2 L268.2 405.9 L270.4 406.6 L272.6 407.3 L274.7 408 L276.9 408.7 L279.1 409.3 L281.3 410 L283.4 410.6 L285.6 411.2 L287.8 411.9 L290 412.5 L292.2 413 L294.3 413.6 L296.5 414.2 L298.7 414.7 L300.9 415.2 L303 415.8 L305.2 416.3 L307.4 416.8 L309.6 417.3 L311.8 417.7 L313.9 418.2 L316.1 418.6 L318.3 419.1 L320.5 419.5 L322.7 419.9 L324.8 420.3 L327 420.6 L329.2 421 L331.4 421.4 L333.5 421.7 L335.7 422 L337.9 422.3 L340.1 422.6 L342.3 422.9 L344.4 423.1 L346.6 423.4 L348.8 423.6 L351 423.8 L353.2 424 L355.3 424.1 L357.5 424.3 L359.7 424.4 L361.9 424.5 L364 424.6 L366.2 424.7 L368.4 424.7 L370.6 424.7 L372.8 424.6 L374.9 424.5 L377.1 424.4 L379.3 424.3 L381.5 424.2 L383.6 424 L385.8 423.8 L388 423.7 L390.2 423.5 L392.4 423.2 L394.5 423 L396.7 422.8 L398.9 422.5 L401.1 422.3 L403.3 422 L405.4 421.7 L407.6 421.4 L409.8 421.1 L412 420.8 L414.1 420.4 L416.3 420.1 L418.5 419.7 L420.7 419.3 L422.9 419 L425 418.6 L427.2 418.2 L429.4 417.7 L431.6 417.3 L433.8 416.9 L435.9 416.4 L438.1 416 L440.3 415.5 L442.5 415 L444.6 414.5 L446.8 414 L449 413.5 L451.2 413 L453.4 412.5 L455.5 411.9 L457.7 411.4 L459.9 410.8 L462.1 410.2 L464.2 409.6 L466.4 409 L468.6 408.4 L470.8 407.8 L473 407.1 L475.1 406.5 L477.3 405.8 L479.5 405.2 L481.7 404.5 L483.9 403.8 L486 403.1 L488.2 402.4 L490.4 401.6 L492.6 400.9 L494.7 400.1 L496.9 399.3 L499.1 398.6 L501.3 397.8 L503.5 396.9 L505.6 396.1 L507.8 395.3 L510 394.4 L512.2 393.6 L514.3 392.7 L516.5 391.8 L518.7 390.9 L520.9 389.9 L523.1 389 L525.2 388 L527.4 387.1 L529.6 386.1 L531.8 385.1 L534 384 L536.1 383 L538.3 381.9 L540.5 380.9 L542.7 379.8 L544.8 378.7 L547 377.5 L549.2 376.4 L551.4 375.2 L553.6 374 L555.7 372.8 L557.9 371.5 L560.1 370.3 L562.3 369 L564.4 367.7 L566.6 366.3 L568.8 365 L571 363.6 L573.2 362.1 L575.3 360.7 L577.5 359.2 L579.7 357.7 L581.9 356.2 L584.1 354.6 L586.2 353 L588.4 351.3 L590.6 349.6 L592.8 347.9 L594.9 346.2 L597.1 344.3 L599.3 342.5 L601.5 340.6 L603.7 338.6 L605.8 336.6 L608 334.5 L610.2 332.3 L612.4 330.1 L614.6 327.8 L616.7 325.5 L618.9 323 L621.1 320.5 L623.3 318 L625.4 315.4 L627.6 313.3 L629.8 314" fill="none" stroke="#1d1813" stroke-width="1.85" stroke-dasharray="15 0.9 6 1.1" stroke-dashoffset="7.4" clip-path="url(#botclip)"/>
<path d="M107 313 L109.2 313.9 L111.4 314.6 L113.5 316.4 L115.7 318.4 L117.9 320.4 L120.1 322.5 L122.2 324.5 L124.4 326.4 L126.6 328.3 L128.8 330.1 L131 332 L133.1 333.7 L135.3 335.4 L137.5 337.1 L139.7 338.8 L141.9 340.4 L144 342 L146.2 343.5 L148.4 345 L150.6 346.5 L152.7 348 L154.9 349.5 L157.1 350.9 L159.3 352.3 L161.5 353.6 L163.6 355 L165.8 356.3 L168 357.7 L170.2 358.9 L172.3 360.2 L174.5 361.5 L176.7 362.7 L178.9 363.9 L181.1 365.2 L183.2 366.3 L185.4 367.5 L187.6 368.7 L189.8 369.8 L192 371 L194.1 372.1 L196.3 373.2 L198.5 374.3 L200.7 375.3 L202.8 376.4 L205 377.4 L207.2 378.5 L209.4 379.5 L211.6 380.5 L213.7 381.5 L215.9 382.5 L218.1 383.5 L220.3 384.4 L222.5 385.4 L224.6 386.3 L226.8 387.2 L229 388.1 L231.2 389 L233.3 389.9 L235.5 390.8 L237.7 391.7 L239.9 392.5 L242.1 393.4 L244.2 394.2 L246.4 395 L248.6 395.8 L250.8 396.6 L252.9 397.4 L255.1 398.2 L257.3 399 L259.5 399.7 L261.7 400.4 L263.8 401.2 L266 401.9 L268.2 402.6 L270.4 403.3 L272.6 404 L274.7 404.6 L276.9 405.3 L279.1 405.9 L281.3 406.6 L283.4 407.2 L285.6 407.8 L287.8 408.4 L290 409 L292.2 409.6 L294.3 410.1 L296.5 410.7 L298.7 411.2 L300.9 411.8 L303 412.3 L305.2 412.8 L307.4 413.3 L309.6 413.7 L311.8 414.2 L313.9 414.7 L316.1 415.1 L318.3 415.5 L320.5 415.9 L322.7 416.3 L324.8 416.7 L327 417.1 L329.2 417.4 L331.4 417.8 L333.5 418.1 L335.7 418.4 L337.9 418.7 L340.1 419 L342.3 419.3 L344.4 419.5 L346.6 419.8 L348.8 420 L351 420.2 L353.2 420.4 L355.3 420.5 L357.5 420.7 L359.7 420.8 L361.9 420.9 L364 421 L366.2 421.1 L368.4 421.1 L370.6 421.1 L372.8 421 L374.9 420.9 L377.1 420.8 L379.3 420.7 L381.5 420.6 L383.6 420.4 L385.8 420.2 L388 420.1 L390.2 419.9 L392.4 419.6 L394.5 419.4 L396.7 419.2 L398.9 418.9 L401.1 418.7 L403.3 418.4 L405.4 418.1 L407.6 417.8 L409.8 417.5 L412 417.2 L414.1 416.8 L416.3 416.5 L418.5 416.1 L420.7 415.8 L422.9 415.4 L425 415 L427.2 414.6 L429.4 414.2 L431.6 413.8 L433.8 413.3 L435.9 412.9 L438.1 412.4 L440.3 412 L442.5 411.5 L444.6 411 L446.8 410.5 L449 410 L451.2 409.5 L453.4 408.9 L455.5 408.4 L457.7 407.8 L459.9 407.3 L462.1 406.7 L464.2 406.1 L466.4 405.5 L468.6 404.9 L470.8 404.3 L473 403.7 L475.1 403 L477.3 402.4 L479.5 401.7 L481.7 401 L483.9 400.3 L486 399.6 L488.2 398.9 L490.4 398.2 L492.6 397.5 L494.7 396.7 L496.9 396 L499.1 395.2 L501.3 394.4 L503.5 393.6 L505.6 392.8 L507.8 391.9 L510 391.1 L512.2 390.2 L514.3 389.4 L516.5 388.5 L518.7 387.6 L520.9 386.7 L523.1 385.7 L525.2 384.8 L527.4 383.8 L529.6 382.8 L531.8 381.9 L534 380.8 L536.1 379.8 L538.3 378.8 L540.5 377.7 L542.7 376.6 L544.8 375.5 L547 374.4 L549.2 373.3 L551.4 372.1 L553.6 370.9 L555.7 369.7 L557.9 368.5 L560.1 367.3 L562.3 366 L564.4 364.7 L566.6 363.4 L568.8 362.1 L571 360.7 L573.2 359.3 L575.3 357.9 L577.5 356.4 L579.7 354.9 L581.9 353.4 L584.1 351.9 L586.2 350.3 L588.4 348.7 L590.6 347.1 L592.8 345.4 L594.9 343.6 L597.1 341.9 L599.3 340.1 L601.5 338.2 L603.7 336.3 L605.8 334.3 L608 332.3 L610.2 330.2 L612.4 328.1 L614.6 325.9 L616.7 323.6 L618.9 321.3 L621.1 318.9 L623.3 316.6 L625.4 314.3 L627.6 312.5 L629.8 314" fill="none" stroke="#1d1813" stroke-width="1.70" stroke-dasharray="11 0.9 7 1.1" stroke-dashoffset="14.7" clip-path="url(#botclip)"/>
<path d="M107 313 L109.2 313.4 L111.4 313.7 L113.5 315.3 L115.7 317.1 L117.9 319 L120.1 321 L122.2 322.9 L124.4 324.7 L126.6 326.5 L128.8 328.3 L131 330.1 L133.1 331.8 L135.3 333.5 L137.5 335.1 L139.7 336.7 L141.9 338.3 L144 339.8 L146.2 341.3 L148.4 342.8 L150.6 344.3 L152.7 345.7 L154.9 347.1 L157.1 348.5 L159.3 349.9 L161.5 351.2 L163.6 352.5 L165.8 353.8 L168 355.1 L170.2 356.4 L172.3 357.6 L174.5 358.9 L176.7 360.1 L178.9 361.3 L181.1 362.5 L183.2 363.6 L185.4 364.8 L187.6 365.9 L189.8 367.1 L192 368.2 L194.1 369.3 L196.3 370.3 L198.5 371.4 L200.7 372.5 L202.8 373.5 L205 374.5 L207.2 375.6 L209.4 376.6 L211.6 377.5 L213.7 378.5 L215.9 379.5 L218.1 380.4 L220.3 381.4 L222.5 382.3 L224.6 383.2 L226.8 384.1 L229 385 L231.2 385.9 L233.3 386.8 L235.5 387.7 L237.7 388.5 L239.9 389.4 L242.1 390.2 L244.2 391 L246.4 391.8 L248.6 392.6 L250.8 393.4 L252.9 394.2 L255.1 394.9 L257.3 395.7 L259.5 396.4 L261.7 397.1 L263.8 397.8 L266 398.6 L268.2 399.2 L270.4 399.9 L272.6 400.6 L274.7 401.3 L276.9 401.9 L279.1 402.5 L281.3 403.2 L283.4 403.8 L285.6 404.4 L287.8 405 L290 405.6 L292.2 406.1 L294.3 406.7 L296.5 407.2 L298.7 407.8 L300.9 408.3 L303 408.8 L305.2 409.3 L307.4 409.8 L309.6 410.2 L311.8 410.7 L313.9 411.1 L316.1 411.6 L318.3 412 L320.5 412.4 L322.7 412.8 L324.8 413.2 L327 413.5 L329.2 413.9 L331.4 414.2 L333.5 414.5 L335.7 414.8 L337.9 415.1 L340.1 415.4 L342.3 415.7 L344.4 415.9 L346.6 416.2 L348.8 416.4 L351 416.6 L353.2 416.8 L355.3 416.9 L357.5 417.1 L359.7 417.2 L361.9 417.3 L364 417.4 L366.2 417.5 L368.4 417.5 L370.6 417.5 L372.8 417.4 L374.9 417.3 L377.1 417.2 L379.3 417.1 L381.5 417 L383.6 416.8 L385.8 416.6 L388 416.5 L390.2 416.3 L392.4 416.1 L394.5 415.8 L396.7 415.6 L398.9 415.3 L401.1 415.1 L403.3 414.8 L405.4 414.5 L407.6 414.2 L409.8 413.9 L412 413.6 L414.1 413.3 L416.3 412.9 L418.5 412.6 L420.7 412.2 L422.9 411.8 L425 411.4 L427.2 411 L429.4 410.6 L431.6 410.2 L433.8 409.8 L435.9 409.3 L438.1 408.9 L440.3 408.4 L442.5 407.9 L444.6 407.5 L446.8 407 L449 406.5 L451.2 405.9 L453.4 405.4 L455.5 404.9 L457.7 404.3 L459.9 403.8 L462.1 403.2 L464.2 402.6 L466.4 402 L468.6 401.4 L470.8 400.8 L473 400.2 L475.1 399.6 L477.3 398.9 L479.5 398.3 L481.7 397.6 L483.9 396.9 L486 396.2 L488.2 395.5 L490.4 394.8 L492.6 394.1 L494.7 393.3 L496.9 392.6 L499.1 391.8 L501.3 391 L503.5 390.2 L505.6 389.4 L507.8 388.6 L510 387.8 L512.2 386.9 L514.3 386 L516.5 385.2 L518.7 384.3 L520.9 383.4 L523.1 382.5 L525.2 381.5 L527.4 380.6 L529.6 379.6 L531.8 378.6 L534 377.6 L536.1 376.6 L538.3 375.6 L540.5 374.5 L542.7 373.5 L544.8 372.4 L547 371.3 L549.2 370.2 L551.4 369 L553.6 367.9 L555.7 366.7 L557.9 365.5 L560.1 364.3 L562.3 363 L564.4 361.8 L566.6 360.5 L568.8 359.2 L571 357.8 L573.2 356.4 L575.3 355.1 L577.5 353.6 L579.7 352.2 L581.9 350.7 L584.1 349.2 L586.2 347.7 L588.4 346.1 L590.6 344.5 L592.8 342.8 L594.9 341.1 L597.1 339.4 L599.3 337.7 L601.5 335.9 L603.7 334 L605.8 332.1 L608 330.1 L610.2 328.1 L612.4 326.1 L614.6 324 L616.7 321.8 L618.9 319.6 L621.1 317.4 L623.3 315.1 L625.4 313.1 L627.6 311.7 L629.8 314" fill="none" stroke="#1d1813" stroke-width="1.55" stroke-dasharray="13 0.9 8 1.1" stroke-dashoffset="5.0" clip-path="url(#botclip)"/>
<path d="M107 313 L109.2 312.9 L111.4 312.8 L113.5 314.2 L115.7 315.8 L117.9 317.6 L120.1 319.5 L122.2 321.3 L124.4 323 L126.6 324.8 L128.8 326.5 L131 328.2 L133.1 329.9 L135.3 331.5 L137.5 333.1 L139.7 334.6 L141.9 336.1 L144 337.6 L146.2 339.1 L148.4 340.6 L150.6 342 L152.7 343.4 L154.9 344.8 L157.1 346.1 L159.3 347.5 L161.5 348.8 L163.6 350.1 L165.8 351.4 L168 352.6 L170.2 353.9 L172.3 355.1 L174.5 356.3 L176.7 357.5 L178.9 358.6 L181.1 359.8 L183.2 361 L185.4 362.1 L187.6 363.2 L189.8 364.3 L192 365.4 L194.1 366.5 L196.3 367.5 L198.5 368.6 L200.7 369.6 L202.8 370.6 L205 371.6 L207.2 372.6 L209.4 373.6 L211.6 374.6 L213.7 375.5 L215.9 376.5 L218.1 377.4 L220.3 378.4 L222.5 379.3 L224.6 380.2 L226.8 381.1 L229 381.9 L231.2 382.8 L233.3 383.7 L235.5 384.5 L237.7 385.4 L239.9 386.2 L242.1 387 L244.2 387.8 L246.4 388.6 L248.6 389.4 L250.8 390.1 L252.9 390.9 L255.1 391.6 L257.3 392.4 L259.5 393.1 L261.7 393.8 L263.8 394.5 L266 395.2 L268.2 395.9 L270.4 396.6 L272.6 397.2 L274.7 397.9 L276.9 398.5 L279.1 399.1 L281.3 399.8 L283.4 400.4 L285.6 401 L287.8 401.5 L290 402.1 L292.2 402.7 L294.3 403.2 L296.5 403.7 L298.7 404.3 L300.9 404.8 L303 405.3 L305.2 405.8 L307.4 406.2 L309.6 406.7 L311.8 407.2 L313.9 407.6 L316.1 408 L318.3 408.4 L320.5 408.8 L322.7 409.2 L324.8 409.6 L327 410 L329.2 410.3 L331.4 410.6 L333.5 411 L335.7 411.3 L337.9 411.6 L340.1 411.8 L342.3 412.1 L344.4 412.3 L346.6 412.6 L348.8 412.8 L351 413 L353.2 413.2 L355.3 413.3 L357.5 413.5 L359.7 413.6 L361.9 413.7 L364 413.8 L366.2 413.9 L368.4 413.9 L370.6 413.9 L372.8 413.8 L374.9 413.7 L377.1 413.6 L379.3 413.5 L381.5 413.4 L383.6 413.2 L385.8 413 L388 412.9 L390.2 412.7 L392.4 412.5 L394.5 412.2 L396.7 412 L398.9 411.7 L401.1 411.5 L403.3 411.2 L405.4 410.9 L407.6 410.6 L409.8 410.3 L412 410 L414.1 409.7 L416.3 409.3 L418.5 409 L420.7 408.6 L422.9 408.2 L425 407.9 L427.2 407.5 L429.4 407.1 L431.6 406.6 L433.8 406.2 L435.9 405.8 L438.1 405.3 L440.3 404.9 L442.5 404.4 L444.6 403.9 L446.8 403.4 L449 402.9 L451.2 402.4 L453.4 401.9 L455.5 401.4 L457.7 400.8 L459.9 400.3 L462.1 399.7 L464.2 399.1 L466.4 398.5 L468.6 398 L470.8 397.3 L473 396.7 L475.1 396.1 L477.3 395.5 L479.5 394.8 L481.7 394.1 L483.9 393.5 L486 392.8 L488.2 392.1 L490.4 391.4 L492.6 390.6 L494.7 389.9 L496.9 389.2 L499.1 388.4 L501.3 387.6 L503.5 386.8 L505.6 386.1 L507.8 385.2 L510 384.4 L512.2 383.6 L514.3 382.7 L516.5 381.9 L518.7 381 L520.9 380.1 L523.1 379.2 L525.2 378.3 L527.4 377.3 L529.6 376.4 L531.8 375.4 L534 374.4 L536.1 373.4 L538.3 372.4 L540.5 371.4 L542.7 370.3 L544.8 369.3 L547 368.2 L549.2 367.1 L551.4 366 L553.6 364.8 L555.7 363.7 L557.9 362.5 L560.1 361.3 L562.3 360.1 L564.4 358.8 L566.6 357.5 L568.8 356.2 L571 354.9 L573.2 353.6 L575.3 352.2 L577.5 350.8 L579.7 349.4 L581.9 348 L584.1 346.5 L586.2 345 L588.4 343.5 L590.6 341.9 L592.8 340.3 L594.9 338.6 L597.1 337 L599.3 335.3 L601.5 333.5 L603.7 331.7 L605.8 329.9 L608 328 L610.2 326 L612.4 324.1 L614.6 322 L616.7 320 L618.9 317.9 L621.1 315.8 L623.3 313.7 L625.4 311.9 L627.6 310.8 L629.8 314" fill="none" stroke="#1d1813" stroke-width="1.40" stroke-dasharray="15 0.9 9 1.1" stroke-dashoffset="12.3" clip-path="url(#botclip)"/>
<path d="M107 313 L109.2 312.4 L111.4 311.9 L113.5 313.1 L115.7 314.6 L117.9 316.2 L120.1 317.9 L122.2 319.7 L124.4 321.4 L126.6 323 L128.8 324.7 L131 326.3 L133.1 327.9 L135.3 329.5 L137.5 331 L139.7 332.5 L141.9 334 L144 335.5 L146.2 336.9 L148.4 338.3 L150.6 339.7 L152.7 341.1 L154.9 342.4 L157.1 343.8 L159.3 345.1 L161.5 346.3 L163.6 347.6 L165.8 348.9 L168 350.1 L170.2 351.3 L172.3 352.5 L174.5 353.7 L176.7 354.9 L178.9 356 L181.1 357.1 L183.2 358.3 L185.4 359.4 L187.6 360.5 L189.8 361.5 L192 362.6 L194.1 363.7 L196.3 364.7 L198.5 365.7 L200.7 366.7 L202.8 367.7 L205 368.7 L207.2 369.7 L209.4 370.7 L211.6 371.6 L213.7 372.6 L215.9 373.5 L218.1 374.4 L220.3 375.3 L222.5 376.2 L224.6 377.1 L226.8 378 L229 378.8 L231.2 379.7 L233.3 380.5 L235.5 381.4 L237.7 382.2 L239.9 383 L242.1 383.8 L244.2 384.6 L246.4 385.4 L248.6 386.1 L250.8 386.9 L252.9 387.6 L255.1 388.4 L257.3 389.1 L259.5 389.8 L261.7 390.5 L263.8 391.2 L266 391.9 L268.2 392.6 L270.4 393.2 L272.6 393.9 L274.7 394.5 L276.9 395.1 L279.1 395.7 L281.3 396.3 L283.4 396.9 L285.6 397.5 L287.8 398.1 L290 398.7 L292.2 399.2 L294.3 399.7 L296.5 400.3 L298.7 400.8 L300.9 401.3 L303 401.8 L305.2 402.3 L307.4 402.7 L309.6 403.2 L311.8 403.6 L313.9 404.1 L316.1 404.5 L318.3 404.9 L320.5 405.3 L322.7 405.7 L324.8 406 L327 406.4 L329.2 406.7 L331.4 407.1 L333.5 407.4 L335.7 407.7 L337.9 408 L340.1 408.3 L342.3 408.5 L344.4 408.8 L346.6 409 L348.8 409.2 L351 409.4 L353.2 409.6 L355.3 409.7 L357.5 409.9 L359.7 410 L361.9 410.1 L364 410.2 L366.2 410.3 L368.4 410.3 L370.6 410.3 L372.8 410.2 L374.9 410.1 L377.1 410 L379.3 409.9 L381.5 409.8 L383.6 409.6 L385.8 409.4 L388 409.3 L390.2 409.1 L392.4 408.9 L394.5 408.6 L396.7 408.4 L398.9 408.2 L401.1 407.9 L403.3 407.6 L405.4 407.3 L407.6 407 L409.8 406.7 L412 406.4 L414.1 406.1 L416.3 405.8 L418.5 405.4 L420.7 405 L422.9 404.7 L425 404.3 L427.2 403.9 L429.4 403.5 L431.6 403.1 L433.8 402.7 L435.9 402.2 L438.1 401.8 L440.3 401.3 L442.5 400.9 L444.6 400.4 L446.8 399.9 L449 399.4 L451.2 398.9 L453.4 398.4 L455.5 397.9 L457.7 397.3 L459.9 396.8 L462.1 396.2 L464.2 395.6 L466.4 395.1 L468.6 394.5 L470.8 393.9 L473 393.3 L475.1 392.6 L477.3 392 L479.5 391.3 L481.7 390.7 L483.9 390 L486 389.3 L488.2 388.7 L490.4 387.9 L492.6 387.2 L494.7 386.5 L496.9 385.8 L499.1 385 L501.3 384.3 L503.5 383.5 L505.6 382.7 L507.8 381.9 L510 381.1 L512.2 380.3 L514.3 379.4 L516.5 378.6 L518.7 377.7 L520.9 376.8 L523.1 375.9 L525.2 375 L527.4 374.1 L529.6 373.1 L531.8 372.2 L534 371.2 L536.1 370.2 L538.3 369.2 L540.5 368.2 L542.7 367.2 L544.8 366.1 L547 365.1 L549.2 364 L551.4 362.9 L553.6 361.8 L555.7 360.6 L557.9 359.5 L560.1 358.3 L562.3 357.1 L564.4 355.9 L566.6 354.6 L568.8 353.3 L571 352.1 L573.2 350.7 L575.3 349.4 L577.5 348 L579.7 346.7 L581.9 345.2 L584.1 343.8 L586.2 342.3 L588.4 340.8 L590.6 339.3 L592.8 337.7 L594.9 336.1 L597.1 334.5 L599.3 332.8 L601.5 331.1 L603.7 329.4 L605.8 327.6 L608 325.8 L610.2 323.9 L612.4 322 L614.6 320.1 L616.7 318.1 L618.9 316.2 L621.1 314.2 L623.3 312.3 L625.4 310.7 L627.6 310 L629.8 314" fill="none" stroke="#1d1813" stroke-width="1.25" stroke-dasharray="11 0.9 6 1.1" stroke-dashoffset="2.6" clip-path="url(#botclip)"/>
<path d="M107 313 L109.2 311.9 L111.4 311 L113.5 311.9 L115.7 313.3 L117.9 314.8 L120.1 316.4 L122.2 318.1 L124.4 319.7 L126.6 321.3 L128.8 322.9 L131 324.4 L133.1 326 L135.3 327.5 L137.5 329 L139.7 330.5 L141.9 331.9 L144 333.3 L146.2 334.7 L148.4 336.1 L150.6 337.5 L152.7 338.8 L154.9 340.1 L157.1 341.4 L159.3 342.7 L161.5 343.9 L163.6 345.2 L165.8 346.4 L168 347.6 L170.2 348.8 L172.3 349.9 L174.5 351.1 L176.7 352.2 L178.9 353.4 L181.1 354.5 L183.2 355.6 L185.4 356.6 L187.6 357.7 L189.8 358.8 L192 359.8 L194.1 360.8 L196.3 361.9 L198.5 362.9 L200.7 363.9 L202.8 364.8 L205 365.8 L207.2 366.8 L209.4 367.7 L211.6 368.7 L213.7 369.6 L215.9 370.5 L218.1 371.4 L220.3 372.3 L222.5 373.2 L224.6 374 L226.8 374.9 L229 375.7 L231.2 376.6 L233.3 377.4 L235.5 378.2 L237.7 379 L239.9 379.8 L242.1 380.6 L244.2 381.4 L246.4 382.1 L248.6 382.9 L250.8 383.6 L252.9 384.4 L255.1 385.1 L257.3 385.8 L259.5 386.5 L261.7 387.2 L263.8 387.9 L266 388.5 L268.2 389.2 L270.4 389.9 L272.6 390.5 L274.7 391.1 L276.9 391.7 L279.1 392.3 L281.3 392.9 L283.4 393.5 L285.6 394.1 L287.8 394.7 L290 395.2 L292.2 395.8 L294.3 396.3 L296.5 396.8 L298.7 397.3 L300.9 397.8 L303 398.3 L305.2 398.8 L307.4 399.2 L309.6 399.7 L311.8 400.1 L313.9 400.5 L316.1 401 L318.3 401.4 L320.5 401.7 L322.7 402.1 L324.8 402.5 L327 402.8 L329.2 403.2 L331.4 403.5 L333.5 403.8 L335.7 404.1 L337.9 404.4 L340.1 404.7 L342.3 404.9 L344.4 405.2 L346.6 405.4 L348.8 405.6 L351 405.8 L353.2 406 L355.3 406.1 L357.5 406.3 L359.7 406.4 L361.9 406.5 L364 406.6 L366.2 406.7 L368.4 406.7 L370.6 406.7 L372.8 406.6 L374.9 406.5 L377.1 406.4 L379.3 406.3 L381.5 406.2 L383.6 406 L385.8 405.9 L388 405.7 L390.2 405.5 L392.4 405.3 L394.5 405 L396.7 404.8 L398.9 404.6 L401.1 404.3 L403.3 404 L405.4 403.8 L407.6 403.5 L409.8 403.2 L412 402.8 L414.1 402.5 L416.3 402.2 L418.5 401.8 L420.7 401.5 L422.9 401.1 L425 400.7 L427.2 400.3 L429.4 399.9 L431.6 399.5 L433.8 399.1 L435.9 398.7 L438.1 398.2 L440.3 397.8 L442.5 397.3 L444.6 396.8 L446.8 396.4 L449 395.9 L451.2 395.4 L453.4 394.9 L455.5 394.3 L457.7 393.8 L459.9 393.3 L462.1 392.7 L464.2 392.1 L466.4 391.6 L468.6 391 L470.8 390.4 L473 389.8 L475.1 389.2 L477.3 388.5 L479.5 387.9 L481.7 387.2 L483.9 386.6 L486 385.9 L488.2 385.2 L490.4 384.5 L492.6 383.8 L494.7 383.1 L496.9 382.4 L499.1 381.6 L501.3 380.9 L503.5 380.1 L505.6 379.3 L507.8 378.5 L510 377.7 L512.2 376.9 L514.3 376.1 L516.5 375.3 L518.7 374.4 L520.9 373.5 L523.1 372.6 L525.2 371.8 L527.4 370.8 L529.6 369.9 L531.8 369 L534 368 L536.1 367.1 L538.3 366.1 L540.5 365.1 L542.7 364 L544.8 363 L547 362 L549.2 360.9 L551.4 359.8 L553.6 358.7 L555.7 357.6 L557.9 356.4 L560.1 355.3 L562.3 354.1 L564.4 352.9 L566.6 351.7 L568.8 350.4 L571 349.2 L573.2 347.9 L575.3 346.6 L577.5 345.3 L579.7 343.9 L581.9 342.5 L584.1 341.1 L586.2 339.7 L588.4 338.2 L590.6 336.7 L592.8 335.2 L594.9 333.6 L597.1 332.1 L599.3 330.4 L601.5 328.8 L603.7 327.1 L605.8 325.4 L608 323.6 L610.2 321.8 L612.4 320 L614.6 318.2 L616.7 316.3 L618.9 314.5 L621.1 312.6 L623.3 310.9 L625.4 309.5 L627.6 309.2 L629.8 314" fill="none" stroke="#1d1813" stroke-width="1.10" stroke-dasharray="13 0.9 7 1.1" stroke-dashoffset="9.9" clip-path="url(#botclip)"/>
<path d="M630.4 298.5 L630.3 300.1 L630.1 302.2 L629.8 304.4 L629.3 306.7 L628.7 309.2 L628 311.8 L627.1 314.4 L626.1 317.1 L624.9 319.8 L623.7 322.5 L622.3 325.4 L620.7 328.2 L619.1 331 L617.3 333.9 L615.4 336.8 L613.3 339.7 L611.2 342.7 L608.9 345.6 L606.5 348.5 L604 351.5 L601.3 354.4 L598.6 357.3 L595.7 360.2 L592.7 363.1 L589.6 366 L586.4 368.9 L583.1 371.7 L579.7 374.6 L576.2 377.4 L572.6 380.2 L568.9 382.9 L565.1 385.6 L561.2 388.3 L557.2 391 L553.2 393.6 L549 396.2 L544.8 398.7 L540.5 401.2 L536.1 403.7 L531.7 406.1 L527.2 408.5 L522.6 410.8 L518 413.1 L513.3 415.3 L508.6 417.4 L503.8 419.5 L499 421.6 L494.1 423.6 L489.2 425.5 L484.3 427.3 L479.4 429.1 L474.4 430.9 L469.4 432.6 L464.4 434.2 L459.3 435.7 L454.3 437.2 L449.3 438.6 L444.2 439.9 L439.2 441.2 L434.2 442.4 L429.2 443.5 L424.3 444.5 L419.4 445.5 L414.5 446.4 L409.7 447.2 L404.9 447.9 L400.3 448.6 L395.7 449.2 L391.2 449.7 L386.8 450.1 L382.6 450.5 L378.5 450.7 L374.7 450.9 L371.2 451.1 L368.4 451.1 L365.6 451.1 L362.1 450.9 L358.3 450.7 L354.2 450.5 L350 450.1 L345.6 449.7 L341.1 449.2 L336.5 448.6 L331.9 447.9 L327.1 447.2 L322.3 446.4 L317.4 445.5 L312.5 444.5 L307.6 443.5 L302.6 442.4 L297.6 441.2 L292.6 439.9 L287.5 438.6 L282.5 437.2 L277.5 435.7 L272.4 434.2 L267.4 432.6 L262.4 430.9 L257.4 429.1 L252.5 427.3 L247.6 425.5 L242.7 423.6 L237.8 421.6 L233 419.5 L228.2 417.4 L223.5 415.3 L218.8 413.1 L214.2 410.8 L209.6 408.5 L205.1 406.1 L200.7 403.7 L196.3 401.2 L192 398.7 L187.8 396.2 L183.6 393.6 L179.6 391 L175.6 388.3 L171.7 385.6 L167.9 382.9 L164.2 380.2 L160.6 377.4 L157.1 374.6 L153.7 371.7 L150.4 368.9 L147.2 366 L144.1 363.1 L141.1 360.2 L138.2 357.3 L135.5 354.4 L132.8 351.5 L130.3 348.5 L127.9 345.6 L125.6 342.7 L123.5 339.7 L121.4 336.8 L119.5 333.9 L117.7 331 L116.1 328.2 L114.5 325.4 L113.1 322.5 L111.9 319.8 L110.7 317.1 L109.7 314.4 L108.8 311.8 L108.1 309.2 L107.5 306.7 L107 304.4 L106.7 302.2 L106.5 300.1 L106.4 298.5 L106.5 296.9 L106.7 294.8 L107 292.6 L107.5 290.3 L108.1 287.8 L108.8 285.2 L109.7 282.6 L110.7 279.9 L111.9 277.2 L113.1 274.5 L114.5 271.6 L116.1 268.8 L117.7 266 L119.5 263.1 L121.4 260.2 L123.5 257.3 L125.6 254.3 L127.9 251.4 L130.3 248.5 L132.8 245.5 L135.5 242.6 L138.2 239.7 L141.1 236.8 L144.1 233.9 L147.2 231 L150.4 228.1 L153.7 225.3 L157.1 222.4 L160.6 219.6 L164.2 216.8 L167.9 214.1 L171.7 211.4 L175.6 208.7 L179.6 206 L183.6 203.4 L187.8 200.8 L192 198.3 L196.3 195.8 L200.7 193.3 L205.1 190.9 L209.6 188.5 L214.2 186.2 L218.8 183.9 L223.5 181.7 L228.2 179.6 L233 177.5 L237.8 175.4 L242.7 173.4 L247.6 171.5 L252.5 169.7 L257.4 167.9 L262.4 166.1 L267.4 164.4 L272.4 162.8 L277.5 161.3 L282.5 159.8 L287.5 158.4 L292.6 157.1 L297.6 155.8 L302.6 154.6 L307.6 153.5 L312.5 152.5 L317.4 151.5 L322.3 150.6 L327.1 149.8 L331.9 149.1 L336.5 148.4 L341.1 147.8 L345.6 147.3 L350 146.9 L354.2 146.5 L358.3 146.3 L362.1 146.1 L365.6 145.9 L368.4 145.9 L371.2 145.9 L374.7 146.1 L378.5 146.3 L382.6 146.5 L386.8 146.9 L391.2 147.3 L395.7 147.8 L400.3 148.4 L404.9 149.1 L409.7 149.8 L414.5 150.6 L419.4 151.5 L424.3 152.5 L429.2 153.5 L434.2 154.6 L439.2 155.8 L444.2 157.1 L449.3 158.4 L454.3 159.8 L459.3 161.3 L464.4 162.8 L469.4 164.4 L474.4 166.1 L479.4 167.9 L484.3 169.7 L489.2 171.5 L494.1 173.4 L499 175.4 L503.8 177.5 L508.6 179.6 L513.3 181.7 L518 183.9 L522.6 186.2 L527.2 188.5 L531.7 190.9 L536.1 193.3 L540.5 195.8 L544.8 198.3 L549 200.8 L553.2 203.4 L557.2 206 L561.2 208.7 L565.1 211.4 L568.9 214.1 L572.6 216.8 L576.2 219.6 L579.7 222.4 L583.1 225.3 L586.4 228.1 L589.6 231 L592.7 233.9 L595.7 236.8 L598.6 239.7 L601.3 242.6 L604 245.5 L606.5 248.5 L608.9 251.4 L611.2 254.3 L613.3 257.3 L615.4 260.2 L617.3 263.1 L619.1 266 L620.7 268.8 L622.3 271.6 L623.7 274.5 L624.9 277.2 L626.1 279.9 L627.1 282.6 L628 285.2 L628.7 287.8 L629.3 290.3 L629.8 292.6 L630.1 294.8 L630.3 296.9 L630.4 298.5Z M628 298.5 L627.9 300.1 L627.7 302.1 L627.4 304.3 L626.9 306.6 L626.3 309 L625.6 311.5 L624.7 314.1 L623.7 316.8 L622.6 319.4 L621.3 322.2 L619.9 324.9 L618.4 327.7 L616.8 330.5 L615 333.4 L613.1 336.2 L611.1 339.1 L609 342 L606.7 344.9 L604.3 347.7 L601.8 350.6 L599.2 353.5 L596.5 356.4 L593.6 359.3 L590.6 362.1 L587.6 365 L584.4 367.8 L581.1 370.6 L577.8 373.4 L574.3 376.1 L570.7 378.9 L567 381.6 L563.3 384.3 L559.4 386.9 L555.5 389.5 L551.5 392.1 L547.4 394.7 L543.2 397.2 L538.9 399.6 L534.6 402.1 L530.2 404.4 L525.8 406.7 L521.2 409 L516.7 411.3 L512 413.4 L507.3 415.6 L502.6 417.6 L497.8 419.6 L493 421.6 L488.1 423.5 L483.3 425.3 L478.3 427.1 L473.4 428.8 L468.4 430.4 L463.5 432 L458.5 433.5 L453.5 435 L448.5 436.4 L443.5 437.7 L438.6 438.9 L433.6 440.1 L428.7 441.2 L423.8 442.2 L418.9 443.2 L414.1 444 L409.3 444.8 L404.6 445.6 L400 446.2 L395.4 446.8 L391 447.3 L386.6 447.7 L382.4 448.1 L378.4 448.4 L374.6 448.5 L371.1 448.7 L368.4 448.7 L365.7 448.7 L362.2 448.5 L358.4 448.4 L354.4 448.1 L350.2 447.7 L345.8 447.3 L341.4 446.8 L336.8 446.2 L332.2 445.6 L327.5 444.8 L322.7 444 L317.9 443.2 L313 442.2 L308.1 441.2 L303.2 440.1 L298.2 438.9 L293.3 437.7 L288.3 436.4 L283.3 435 L278.3 433.5 L273.3 432 L268.4 430.4 L263.4 428.8 L258.5 427.1 L253.5 425.3 L248.7 423.5 L243.8 421.6 L239 419.6 L234.2 417.6 L229.5 415.6 L224.8 413.4 L220.1 411.3 L215.6 409 L211 406.7 L206.6 404.4 L202.2 402.1 L197.9 399.6 L193.6 397.2 L189.4 394.7 L185.3 392.1 L181.3 389.5 L177.4 386.9 L173.5 384.3 L169.8 381.6 L166.1 378.9 L162.5 376.1 L159 373.4 L155.7 370.6 L152.4 367.8 L149.2 365 L146.2 362.1 L143.2 359.3 L140.3 356.4 L137.6 353.5 L135 350.6 L132.5 347.7 L130.1 344.9 L127.8 342 L125.7 339.1 L123.7 336.2 L121.8 333.4 L120 330.5 L118.4 327.7 L116.9 324.9 L115.5 322.2 L114.2 319.4 L113.1 316.8 L112.1 314.1 L111.2 311.5 L110.5 309 L109.9 306.6 L109.4 304.3 L109.1 302.1 L108.9 300.1 L108.8 298.5 L108.9 296.9 L109.1 294.9 L109.4 292.7 L109.9 290.4 L110.5 288 L111.2 285.5 L112.1 282.9 L113.1 280.2 L114.2 277.6 L115.5 274.8 L116.9 272.1 L118.4 269.3 L120 266.5 L121.8 263.6 L123.7 260.8 L125.7 257.9 L127.8 255 L130.1 252.1 L132.5 249.3 L135 246.4 L137.6 243.5 L140.3 240.6 L143.2 237.7 L146.2 234.9 L149.2 232 L152.4 229.2 L155.7 226.4 L159 223.6 L162.5 220.9 L166.1 218.1 L169.8 215.4 L173.5 212.7 L177.4 210.1 L181.3 207.5 L185.3 204.9 L189.4 202.3 L193.6 199.8 L197.9 197.4 L202.2 194.9 L206.6 192.6 L211 190.3 L215.6 188 L220.1 185.7 L224.8 183.6 L229.5 181.4 L234.2 179.4 L239 177.4 L243.8 175.4 L248.7 173.5 L253.5 171.7 L258.5 169.9 L263.4 168.2 L268.4 166.6 L273.3 165 L278.3 163.5 L283.3 162 L288.3 160.6 L293.3 159.3 L298.2 158.1 L303.2 156.9 L308.1 155.8 L313 154.8 L317.9 153.8 L322.7 153 L327.5 152.2 L332.2 151.4 L336.8 150.8 L341.4 150.2 L345.8 149.7 L350.2 149.3 L354.4 148.9 L358.4 148.6 L362.2 148.5 L365.7 148.3 L368.4 148.3 L371.1 148.3 L374.6 148.5 L378.4 148.6 L382.4 148.9 L386.6 149.3 L391 149.7 L395.4 150.2 L400 150.8 L404.6 151.4 L409.3 152.2 L414.1 153 L418.9 153.8 L423.8 154.8 L428.7 155.8 L433.6 156.9 L438.6 158.1 L443.5 159.3 L448.5 160.6 L453.5 162 L458.5 163.5 L463.5 165 L468.4 166.6 L473.4 168.2 L478.3 169.9 L483.3 171.7 L488.1 173.5 L493 175.4 L497.8 177.4 L502.6 179.4 L507.3 181.4 L512 183.6 L516.7 185.7 L521.2 188 L525.8 190.3 L530.2 192.6 L534.6 194.9 L538.9 197.4 L543.2 199.8 L547.4 202.3 L551.5 204.9 L555.5 207.5 L559.4 210.1 L563.3 212.7 L567 215.4 L570.7 218.1 L574.3 220.9 L577.8 223.6 L581.1 226.4 L584.4 229.2 L587.6 232 L590.6 234.9 L593.6 237.7 L596.5 240.6 L599.2 243.5 L601.8 246.4 L604.3 249.3 L606.7 252.1 L609 255 L611.1 257.9 L613.1 260.8 L615 263.6 L616.8 266.5 L618.4 269.3 L619.9 272.1 L621.3 274.8 L622.6 277.6 L623.7 280.2 L624.7 282.9 L625.6 285.5 L626.3 288 L626.9 290.4 L627.4 292.7 L627.7 294.9 L627.9 296.9 L628 298.5Z M625.6 298.5 L625.5 300.1 L625.3 302 L625 304.2 L624.5 306.5 L623.9 308.9 L623.2 311.3 L622.4 313.9 L621.4 316.5 L620.2 319.1 L619 321.8 L617.6 324.5 L616.1 327.3 L614.5 330 L612.7 332.8 L610.9 335.6 L608.9 338.4 L606.7 341.3 L604.5 344.1 L602.1 347 L599.6 349.8 L597.1 352.6 L594.3 355.5 L591.5 358.3 L588.6 361.1 L585.6 363.9 L582.4 366.7 L579.2 369.4 L575.8 372.2 L572.4 374.9 L568.8 377.6 L565.2 380.3 L561.5 382.9 L557.7 385.5 L553.8 388.1 L549.8 390.6 L545.7 393.1 L541.6 395.6 L537.4 398 L533.1 400.4 L528.7 402.7 L524.3 405 L519.8 407.3 L515.3 409.5 L510.7 411.6 L506 413.7 L501.4 415.7 L496.6 417.7 L491.8 419.6 L487 421.5 L482.2 423.3 L477.3 425 L472.4 426.7 L467.5 428.3 L462.6 429.9 L457.7 431.4 L452.7 432.8 L447.8 434.2 L442.8 435.5 L437.9 436.7 L433 437.8 L428.1 438.9 L423.3 439.9 L418.4 440.9 L413.7 441.7 L408.9 442.5 L404.3 443.2 L399.7 443.9 L395.2 444.4 L390.7 444.9 L386.4 445.3 L382.3 445.7 L378.3 446 L374.6 446.1 L371.1 446.3 L368.4 446.3 L365.7 446.3 L362.2 446.1 L358.5 446 L354.5 445.7 L350.4 445.3 L346.1 444.9 L341.6 444.4 L337.1 443.9 L332.5 443.2 L327.9 442.5 L323.1 441.7 L318.4 440.9 L313.5 439.9 L308.7 438.9 L303.8 437.8 L298.9 436.7 L294 435.5 L289 434.2 L284.1 432.8 L279.1 431.4 L274.2 429.9 L269.3 428.3 L264.4 426.7 L259.5 425 L254.6 423.3 L249.8 421.5 L245 419.6 L240.2 417.7 L235.4 415.7 L230.8 413.7 L226.1 411.6 L221.5 409.5 L217 407.3 L212.5 405 L208.1 402.7 L203.7 400.4 L199.4 398 L195.2 395.6 L191.1 393.1 L187 390.6 L183 388.1 L179.1 385.5 L175.3 382.9 L171.6 380.3 L168 377.6 L164.4 374.9 L161 372.2 L157.6 369.4 L154.4 366.7 L151.2 363.9 L148.2 361.1 L145.3 358.3 L142.5 355.5 L139.7 352.6 L137.2 349.8 L134.7 347 L132.3 344.1 L130.1 341.3 L127.9 338.4 L125.9 335.6 L124.1 332.8 L122.3 330 L120.7 327.3 L119.2 324.5 L117.8 321.8 L116.6 319.1 L115.4 316.5 L114.4 313.9 L113.6 311.3 L112.9 308.9 L112.3 306.5 L111.8 304.2 L111.5 302 L111.3 300.1 L111.2 298.5 L111.3 296.9 L111.5 295 L111.8 292.8 L112.3 290.5 L112.9 288.1 L113.6 285.7 L114.4 283.1 L115.4 280.5 L116.6 277.9 L117.8 275.2 L119.2 272.5 L120.7 269.7 L122.3 267 L124.1 264.2 L125.9 261.4 L127.9 258.6 L130.1 255.7 L132.3 252.9 L134.7 250 L137.2 247.2 L139.7 244.4 L142.5 241.5 L145.3 238.7 L148.2 235.9 L151.2 233.1 L154.4 230.3 L157.6 227.6 L161 224.8 L164.4 222.1 L168 219.4 L171.6 216.7 L175.3 214.1 L179.1 211.5 L183 208.9 L187 206.4 L191.1 203.9 L195.2 201.4 L199.4 199 L203.7 196.6 L208.1 194.3 L212.5 192 L217 189.7 L221.5 187.5 L226.1 185.4 L230.8 183.3 L235.4 181.3 L240.2 179.3 L245 177.4 L249.8 175.5 L254.6 173.7 L259.5 172 L264.4 170.3 L269.3 168.7 L274.2 167.1 L279.1 165.6 L284.1 164.2 L289 162.8 L294 161.5 L298.9 160.3 L303.8 159.2 L308.7 158.1 L313.5 157.1 L318.4 156.1 L323.1 155.3 L327.9 154.5 L332.5 153.8 L337.1 153.1 L341.6 152.6 L346.1 152.1 L350.4 151.7 L354.5 151.3 L358.5 151 L362.2 150.9 L365.7 150.7 L368.4 150.7 L371.1 150.7 L374.6 150.9 L378.3 151 L382.3 151.3 L386.4 151.7 L390.7 152.1 L395.2 152.6 L399.7 153.1 L404.3 153.8 L408.9 154.5 L413.7 155.3 L418.4 156.1 L423.3 157.1 L428.1 158.1 L433 159.2 L437.9 160.3 L442.8 161.5 L447.8 162.8 L452.7 164.2 L457.7 165.6 L462.6 167.1 L467.5 168.7 L472.4 170.3 L477.3 172 L482.2 173.7 L487 175.5 L491.8 177.4 L496.6 179.3 L501.4 181.3 L506 183.3 L510.7 185.4 L515.3 187.5 L519.8 189.7 L524.3 192 L528.7 194.3 L533.1 196.6 L537.4 199 L541.6 201.4 L545.7 203.9 L549.8 206.4 L553.8 208.9 L557.7 211.5 L561.5 214.1 L565.2 216.7 L568.8 219.4 L572.4 222.1 L575.8 224.8 L579.2 227.6 L582.4 230.3 L585.6 233.1 L588.6 235.9 L591.5 238.7 L594.3 241.5 L597.1 244.4 L599.6 247.2 L602.1 250 L604.5 252.9 L606.7 255.7 L608.9 258.6 L610.9 261.4 L612.7 264.2 L614.5 267 L616.1 269.7 L617.6 272.5 L619 275.2 L620.2 277.9 L621.4 280.5 L622.4 283.1 L623.2 285.7 L623.9 288.1 L624.5 290.5 L625 292.8 L625.3 295 L625.5 296.9 L625.6 298.5Z" fill="none" stroke="#1d1813" stroke-width="1.1" clip-path="url(#capclip)"/>
<path d="M110.4 298.5 L112.5 285.2 L114.7 279.8 L116.8 275.6 L119 272.1 L121.1 269.1 L123.3 266.3 L125.4 263.8 L127.6 261.5 L129.7 259.4 L131.9 257.3 L134 255.4 L136.2 253.6 L138.3 251.9 L140.5 250.2 L142.6 248.6 L144.8 247.1 L146.9 245.7 L149.1 244.2 L151.2 242.9 L153.4 241.6 L155.5 240.3 L157.7 239.1 L159.8 237.9 L162 236.7 L164.1 235.6 L166.3 234.5 L168.4 233.4 L170.6 232.4 L172.7 231.4 L174.9 230.4 L177 229.4 L179.2 228.5 L181.3 227.6 L183.5 226.7 L185.6 225.8 L187.8 224.9 L189.9 224.1 L192.1 223.3 L194.2 222.5 L196.4 221.7 L198.5 221 L200.7 220.2 L202.8 219.5 L205 218.8 L207.1 218.1 L209.3 217.4 L211.4 216.8 L213.6 216.1 L215.7 215.5 L217.9 214.8 L220 214.2 L222.2 213.6 L224.3 213 L226.5 212.5 L228.6 211.9 L230.8 211.4 L232.9 210.8 L235.1 210.3 L237.2 209.8 L239.4 209.3 L241.5 208.8 L243.7 208.3 L245.8 207.9 L248 207.4 L250.1 207 L252.3 206.5 L254.4 206.1 L256.6 205.7 L258.8 205.3 L260.9 204.9 L263 204.5 L265.2 204.1 L267.3 203.7 L269.5 203.4 L271.6 203 L273.8 202.7 L275.9 202.3 L278.1 202 L280.2 201.7 L282.4 201.4 L284.5 201.1 L286.7 200.8 L288.8 200.5 L291 200.2 L293.1 200 L295.3 199.7 L297.4 199.5 L299.6 199.2 L301.8 199 L303.9 198.8 L306 198.6 L308.2 198.3 L310.3 198.1 L312.5 197.9 L314.6 197.8 L316.8 197.6 L318.9 197.4 L321.1 197.2 L323.2 197.1 L325.4 196.9 L327.5 196.8 L329.7 196.7 L331.8 196.5 L334 196.4 L336.1 196.3 L338.3 196.2 L340.4 196.1 L342.6 196 L344.8 195.9 L346.9 195.9 L349 195.8 L351.2 195.7 L353.3 195.7 L355.5 195.6 L357.6 195.6 L359.8 195.6 L361.9 195.5 L364.1 195.5 L366.2 195.5 L368.4 195.5 L370.5 195.5 L372.7 195.5 L374.8 195.5 L377 195.6 L379.1 195.6 L381.3 195.6 L383.4 195.7 L385.6 195.7 L387.8 195.8 L389.9 195.9 L392 195.9 L394.2 196 L396.3 196.1 L398.5 196.2 L400.6 196.3 L402.8 196.4 L404.9 196.5 L407.1 196.7 L409.2 196.8 L411.4 196.9 L413.5 197.1 L415.7 197.2 L417.8 197.4 L420 197.6 L422.1 197.8 L424.3 197.9 L426.4 198.1 L428.6 198.3 L430.8 198.6 L432.9 198.8 L435 199 L437.2 199.2 L439.3 199.5 L441.5 199.7 L443.6 200 L445.8 200.2 L447.9 200.5 L450.1 200.8 L452.2 201.1 L454.4 201.4 L456.5 201.7 L458.7 202 L460.8 202.4 L463 202.7 L465.1 203.1 L467.3 203.4 L469.4 203.8 L471.6 204.2 L473.8 204.6 L475.9 205 L478 205.4 L480.2 205.9 L482.3 206.3 L484.5 206.8 L486.6 207.3 L488.8 207.8 L490.9 208.3 L493.1 208.9 L495.2 209.4 L497.4 210 L499.5 210.6 L501.7 211.2 L503.8 211.9 L506 212.6 L508.1 213.2 L510.3 214 L512.5 214.7 L514.6 215.5 L516.8 216.2 L518.9 217 L521 217.9 L523.2 218.7 L525.3 219.5 L527.5 220.4 L529.6 221.3 L531.8 222.2 L534 223.1 L536.1 224 L538.2 224.9 L540.4 225.8 L542.5 226.7 L544.7 227.6 L546.8 228.5 L549 229.5 L551.1 230.4 L553.3 231.3 L555.5 232.2 L557.6 233.1 L559.8 234 L561.9 234.8 L564 235.7 L566.2 236.7 L568.3 237.6 L570.5 238.5 L572.6 239.4 L574.8 240.4 L577 241.4 L579.1 242.4 L581.2 243.4 L583.4 244.5 L585.5 245.6 L587.7 246.8 L589.8 248 L592 249.2 L594.1 250.6 L596.3 252 L598.5 253.5 L600.6 255 L602.8 256.7 L604.9 258.5 L607 260.4 L609.2 262.4 L611.3 264.6 L613.5 267 L615.6 269.6 L617.8 272.6 L620 276 L622.1 280.1 L624.2 285.5 L626.4 298.5" fill="none" stroke="#1d1813" stroke-width="2.8"/>
<path d="M118.4 276.2 L120.9 272.6 L123.4 269.4 L125.9 266.5 L128.4 263.9 L130.9 261.5 L133.4 259.2 L135.9 257.1 L138.4 255 L140.9 253.1 L143.4 251.3 L145.9 249.6 L148.4 247.9 L150.9 246.3 L153.4 244.8 L155.9 243.3 L158.4 241.9 L160.9 240.5 L163.4 239.2 L165.9 237.9 L168.4 236.6 L170.9 235.4 L173.4 234.3 L175.9 233.1 L178.4 232 L180.9 230.9 L183.4 229.9 L185.9 228.9 L188.4 227.9 L190.9 227 L193.4 226 L195.9 225.1 L198.4 224.2 L200.9 223.4 L203.4 222.5 L205.9 221.7 L208.4 220.9 L210.9 220.1 L213.4 219.4 L215.9 218.6 L218.4 217.9 L220.9 217.2 L223.4 216.5 L225.9 215.8 L228.4 215.2 L230.9 214.5 L233.4 213.9 L235.9 213.3 L238.4 212.7 L240.9 212.2 L243.4 211.6 L245.9 211.1 L248.4 210.5 L250.9 210 L253.4 209.5 L255.9 209 L258.4 208.5 L260.9 208.1 L263.4 207.6 L265.9 207.2 L268.4 206.8 L270.9 206.3 L273.4 205.9 L275.9 205.5 L278.4 205.2 L280.9 204.8 L283.4 204.5 L285.9 204.1 L288.4 203.8 L290.9 203.5 L293.4 203.1 L295.9 202.9 L298.4 202.6 L300.9 202.3 L303.4 202 L305.9 201.8 L308.4 201.5 L310.9 201.3 L313.4 201.1 L315.9 200.9 L318.4 200.7 L320.9 200.5 L323.4 200.3 L325.9 200.1 L328.4 199.9 L330.9 199.8 L333.4 199.7 L335.9 199.5 L338.4 199.4 L340.9 199.3 L343.4 199.2 L345.9 199.1 L348.4 199 L350.9 198.9 L353.4 198.9 L355.9 198.8 L358.4 198.8 L360.9 198.7 L363.4 198.7 L365.9 198.7 L368.4 198.7 L370.9 198.7 L373.4 198.7 L375.9 198.7 L378.4 198.8 L380.9 198.8 L383.4 198.9 L385.9 198.9 L388.4 199 L390.9 199.1 L393.4 199.2 L395.9 199.3 L398.4 199.4 L400.9 199.5 L403.4 199.7 L405.9 199.8 L408.4 199.9 L410.9 200.1 L413.4 200.3 L415.9 200.5 L418.4 200.7 L420.9 200.9 L423.4 201.1 L425.9 201.3 L428.4 201.5 L430.9 201.8 L433.4 202 L435.9 202.3 L438.4 202.6 L440.9 202.9 L443.4 203.2 L445.9 203.5 L448.4 203.8 L450.9 204.1 L453.4 204.5 L455.9 204.8 L458.4 205.2 L460.9 205.6 L463.4 206 L465.9 206.4 L468.4 206.8 L470.9 207.3 L473.4 207.7 L475.9 208.2 L478.4 208.7 L480.9 209.2 L483.4 209.7 L485.9 210.3 L488.4 210.9 L490.9 211.5 L493.4 212.1 L495.9 212.8 L498.4 213.5 L500.9 214.2 L503.4 214.9 L505.9 215.7 L508.4 216.5 L510.9 217.4 L513.4 218.2 L515.9 219.1 L518.4 220 L520.9 221 L523.4 222 L525.9 223 L528.4 224 L530.9 225 L533.4 226 L535.9 227.1 L538.4 228.2 L540.9 229.2 L543.4 230.3 L545.9 231.3 L548.4 232.4 L550.9 233.5 L553.4 234.5 L555.9 235.5 L558.4 236.6 L560.9 237.6 L563.4 238.7 L565.9 239.7 L568.4 240.8 L570.9 241.9 L573.4 243 L575.9 244.1 L578.4 245.2 L580.9 246.4 L583.4 247.7 L585.9 249 L588.4 250.3 L590.9 251.8 L593.4 253.3 L595.9 254.9 L598.4 256.6 L600.9 258.4 L603.4 260.4 L605.9 262.5 L608.4 264.8 L610.9 267.3 L613.4 270.1 L615.9 273.2 L618.4 276.7" fill="none" stroke="#1d1813" stroke-width="0.8"/>
<path d="M98.4 298.5 L100.6 305.6 L102.9 309.5 L105.1 312.6 L107.4 315.4 L109.6 317.9 L111.9 320.2 L114.1 322.3 L116.4 324.3 L118.6 326.3 L120.9 328.1 L123.1 329.9 L125.4 331.6 L127.6 333.2 L129.9 334.8 L132.1 336.3 L134.4 337.8 L136.6 339.3 L138.9 340.7 L141.1 342.1 L143.4 343.4 L145.6 344.7 L147.9 346 L150.1 347.2 L152.4 348.5 L154.6 349.7 L156.9 350.8 L159.1 352 L161.4 353.1 L163.6 354.2 L165.9 355.3 L168.1 356.4 L170.4 357.5 L172.6 358.5 L174.9 359.5 L177.1 360.5 L179.4 361.5 L181.6 362.5 L183.9 363.4 L186.1 364.3 L188.4 365.3 L190.6 366.2 L192.9 367.1 L195.1 367.9 L197.4 368.8 L199.6 369.7 L201.9 370.5 L204.1 371.3 L206.4 372.1 L208.6 372.9 L210.9 373.7 L213.1 374.5 L215.4 375.3 L217.6 376 L219.9 376.8 L222.1 377.5 L224.4 378.2 L226.6 379 L228.9 379.7 L231.1 380.4 L233.4 381 L235.6 381.7 L237.9 382.4 L240.1 383 L242.4 383.7 L244.6 384.3 L246.9 384.9 L249.1 385.5 L251.4 386.1 L253.6 386.7 L255.9 387.3 L258.1 387.9 L260.4 388.5 L262.6 389 L264.9 389.6 L267.1 390.1 L269.4 390.6 L271.6 391.2 L273.9 391.7 L276.1 392.2 L278.4 392.7 L280.6 393.2 L282.9 393.6 L285.1 394.1 L287.4 394.6 L289.6 395 L291.9 395.5 L294.1 395.9 L296.4 396.3 L298.6 396.7 L300.9 397.1 L303.1 397.5 L305.4 397.9 L307.6 398.3 L309.9 398.7 L312.1 399 L314.4 399.4 L316.6 399.7 L318.9 400.1 L321.1 400.4 L323.4 400.7 L325.6 401 L327.9 401.3 L330.1 401.6 L332.4 401.8 L334.6 402.1 L336.9 402.4 L339.1 402.6 L341.4 402.8 L343.6 403 L345.9 403.3 L348.1 403.4 L350.4 403.6 L352.6 403.8 L354.9 404 L357.1 404.1 L359.4 404.2 L361.6 404.3 L363.9 404.4 L366.1 404.5 L368.4 404.5 L370.6 404.5 L372.9 404.4 L375.1 404.3 L377.4 404.2 L379.6 404.1 L381.9 404 L384.1 403.8 L386.4 403.6 L388.6 403.4 L390.9 403.3 L393.1 403 L395.4 402.8 L397.6 402.6 L399.9 402.4 L402.1 402.1 L404.4 401.8 L406.6 401.6 L408.9 401.3 L411.1 401 L413.4 400.7 L415.6 400.4 L417.9 400.1 L420.1 399.7 L422.4 399.4 L424.6 399 L426.9 398.7 L429.1 398.3 L431.4 397.9 L433.6 397.5 L435.9 397.1 L438.1 396.7 L440.4 396.3 L442.6 395.9 L444.9 395.5 L447.1 395 L449.4 394.6 L451.6 394.1 L453.9 393.6 L456.1 393.2 L458.4 392.7 L460.6 392.2 L462.9 391.7 L465.1 391.2 L467.4 390.6 L469.6 390.1 L471.9 389.6 L474.1 389 L476.4 388.5 L478.6 387.9 L480.9 387.3 L483.1 386.7 L485.4 386.1 L487.6 385.5 L489.9 384.9 L492.1 384.3 L494.4 383.7 L496.6 383 L498.9 382.4 L501.1 381.7 L503.4 381 L505.6 380.4 L507.9 379.7 L510.1 379 L512.4 378.2 L514.6 377.5 L516.9 376.8 L519.1 376 L521.4 375.3 L523.6 374.5 L525.9 373.7 L528.1 372.9 L530.4 372.1 L532.6 371.3 L534.9 370.5 L537.1 369.7 L539.4 368.8 L541.6 367.9 L543.9 367.1 L546.1 366.2 L548.4 365.3 L550.6 364.3 L552.9 363.4 L555.1 362.5 L557.4 361.5 L559.6 360.5 L561.9 359.5 L564.1 358.5 L566.4 357.5 L568.6 356.4 L570.9 355.3 L573.1 354.2 L575.4 353.1 L577.6 352 L579.9 350.8 L582.1 349.7 L584.4 348.5 L586.6 347.2 L588.9 346 L591.1 344.7 L593.4 343.4 L595.6 342.1 L597.9 340.7 L600.1 339.3 L602.4 337.8 L604.6 336.3 L606.9 334.8 L609.1 333.2 L611.4 331.6 L613.6 329.9 L615.9 328.1 L618.1 326.3 L620.4 324.3 L622.6 322.3 L624.9 320.2 L627.1 317.9 L629.4 315.4 L631.6 312.6 L633.9 309.5 L636.1 305.6 L638.4 298.5" fill="none" stroke="#1d1813" stroke-width="2.6"/>
<path d="M106.4 317.4 L109 320.4 L111.6 323.1 L114.3 325.6 L116.9 328 L119.5 330.2 L122.1 332.3 L124.7 334.3 L127.4 336.2 L130 338.1 L132.6 339.8 L135.2 341.6 L137.8 343.2 L140.5 344.8 L143.1 346.4 L145.7 347.9 L148.3 349.4 L150.9 350.9 L153.6 352.3 L156.2 353.7 L158.8 355 L161.4 356.3 L164 357.6 L166.7 358.9 L169.3 360.1 L171.9 361.3 L174.5 362.5 L177.1 363.7 L179.8 364.8 L182.4 366 L185 367.1 L187.6 368.1 L190.2 369.2 L192.9 370.2 L195.5 371.3 L198.1 372.3 L200.7 373.3 L203.3 374.2 L206 375.2 L208.6 376.1 L211.2 377 L213.8 377.9 L216.4 378.8 L219.1 379.7 L221.7 380.6 L224.3 381.4 L226.9 382.2 L229.5 383.1 L232.2 383.9 L234.8 384.7 L237.4 385.4 L240 386.2 L242.6 386.9 L245.3 387.7 L247.9 388.4 L250.5 389.1 L253.1 389.8 L255.7 390.5 L258.4 391.2 L261 391.8 L263.6 392.5 L266.2 393.1 L268.8 393.7 L271.5 394.3 L274.1 394.9 L276.7 395.5 L279.3 396.1 L281.9 396.6 L284.6 397.2 L287.2 397.7 L289.8 398.2 L292.4 398.8 L295 399.3 L297.7 399.7 L300.3 400.2 L302.9 400.7 L305.5 401.1 L308.1 401.6 L310.8 402 L313.4 402.4 L316 402.8 L318.6 403.2 L321.2 403.6 L323.9 404 L326.5 404.3 L329.1 404.6 L331.7 405 L334.3 405.3 L337 405.6 L339.6 405.8 L342.2 406.1 L344.8 406.4 L347.4 406.6 L350.1 406.8 L352.7 407 L355.3 407.2 L357.9 407.3 L360.5 407.5 L363.2 407.6 L365.8 407.7 L368.4 407.7 L371 407.7 L373.6 407.6 L376.3 407.5 L378.9 407.3 L381.5 407.2 L384.1 407 L386.7 406.8 L389.4 406.6 L392 406.4 L394.6 406.1 L397.2 405.8 L399.8 405.6 L402.5 405.3 L405.1 405 L407.7 404.6 L410.3 404.3 L412.9 404 L415.6 403.6 L418.2 403.2 L420.8 402.8 L423.4 402.4 L426 402 L428.7 401.6 L431.3 401.1 L433.9 400.7 L436.5 400.2 L439.1 399.7 L441.8 399.3 L444.4 398.8 L447 398.2 L449.6 397.7 L452.2 397.2 L454.9 396.6 L457.5 396.1 L460.1 395.5 L462.7 394.9 L465.3 394.3 L468 393.7 L470.6 393.1 L473.2 392.5 L475.8 391.8 L478.4 391.2 L481.1 390.5 L483.7 389.8 L486.3 389.1 L488.9 388.4 L491.5 387.7 L494.2 386.9 L496.8 386.2 L499.4 385.4 L502 384.7 L504.6 383.9 L507.3 383.1 L509.9 382.2 L512.5 381.4 L515.1 380.6 L517.7 379.7 L520.4 378.8 L523 377.9 L525.6 377 L528.2 376.1 L530.8 375.2 L533.5 374.2 L536.1 373.3 L538.7 372.3 L541.3 371.3 L543.9 370.2 L546.6 369.2 L549.2 368.1 L551.8 367.1 L554.4 366 L557 364.8 L559.7 363.7 L562.3 362.5 L564.9 361.3 L567.5 360.1 L570.1 358.9 L572.8 357.6 L575.4 356.3 L578 355 L580.6 353.7 L583.2 352.3 L585.9 350.9 L588.5 349.4 L591.1 347.9 L593.7 346.4 L596.3 344.8 L599 343.2 L601.6 341.6 L604.2 339.8 L606.8 338.1 L609.4 336.2 L612.1 334.3 L614.7 332.3 L617.3 330.2 L619.9 328 L622.5 325.6 L625.2 323.1 L627.8 320.4 L630.4 317.4" fill="none" stroke="#1d1813" stroke-width="0.9"/>
<clipPath id="rtip"><path d="M609.5 0H737V1000H609.5Z"/></clipPath>
<path d="M632.8 298.5 L632.8 299.1 L632.8 299.8 L632.7 300.6 L632.6 301.5 L632.5 302.4 L632.4 303.4 L632.2 304.3 L632 305.3 L631.8 306.4 L631.6 307.4 L631.4 308.5 L631.1 309.6 L630.8 310.6 L630.5 311.8 L630.2 312.9 L629.8 314 L629.4 315.2 L629 316.3 L628.6 317.5 L628.1 318.7 L627.7 319.9 L627.2 321.1 L626.6 322.3 L626.1 323.5 L625.5 324.7 L624.9 325.9 L624.3 327.1 L623.7 328.4 L623.1 329.6 L622.4 330.8 L621.7 332.1 L621 333.3 L620.2 334.6 L619.5 335.8 L618.7 337.1 L617.9 338.4 L617.1 339.6 L616.2 340.9 L615.4 342.1 L614.5 343.4 L613.6 344.7 L612.6 345.9 L611.7 347.2 L610.7 348.5 L609.7 349.7 L608.7 351 L607.7 352.3 L606.7 353.5 L605.6 354.8 L604.5 356 L603.4 357.3 L602.3 358.6 L601.1 359.8 L600 361.1 L598.8 362.3 L597.6 363.5 L596.4 364.8 L595.1 366 L593.9 367.3 L592.6 368.5 L591.3 369.7 L590 370.9 L588.6 372.1 L587.3 373.4 L585.9 374.6 L584.5 375.8 L583.1 377 L581.7 378.2 L580.3 379.3 L578.8 380.5 L577.3 381.7 L575.9 382.9 L574.3 384 L572.8 385.2 L571.3 386.4 L569.7 387.5 L568.2 388.6 L566.6 389.8 L565 390.9 L563.3 392 L561.7 393.1 L560.1 394.2 L558.4 395.3 L556.7 396.4 L555 397.5 L553.3 398.6 L551.6 399.7 L549.8 400.7 L548.1 401.8 L546.3 402.8 L544.5 403.8 L542.8 404.9 L540.9 405.9 L539.1 406.9 L537.3 407.9 L535.4 408.9 L533.6 409.9 L531.7 410.9 L529.8 411.8 L527.9 412.8 L526 413.7 L524.1 414.7 L522.2 415.6 L520.2 416.5 L518.3 417.4 L516.3 418.3 L514.3 419.2 L512.3 420.1 L510.3 421 L508.3 421.9 L506.3 422.7 L504.3 423.5 L502.2 424.4 L500.2 425.2 L498.2 426 L496.1 426.8 L494 427.6 L491.9 428.4 L489.9 429.2 L487.8 429.9 L485.7 430.7 L483.6 431.4 L481.5 432.1 L479.3 432.9 L477.2 433.6 L475.1 434.2 L473 434.9 L470.8 435.6 L468.7 436.3 L466.6 436.9 L464.4 437.5 L462.3 438.2 L460.1 438.8 L458 439.4 L455.8 440 L453.6 440.6 L451.5 441.1 L449.3 441.7 L447.2 442.2 L445 442.8 L442.8 443.3 L440.7 443.8 L438.5 444.3 L436.4 444.8 L434.2 445.2 L432.1 445.7 L430 446.1 L427.8 446.6 L425.7 447 L423.6 447.4 L421.4 447.8 L419.3 448.2 L417.2 448.5 L415.1 448.9 L413.1 449.2 L411 449.6 L408.9 449.9 L406.9 450.2 L404.8 450.5 L402.8 450.8 L400.8 451 L398.8 451.3 L396.8 451.5 L394.9 451.7 L392.9 452 L391 452.2 L389.1 452.3 L387.3 452.5 L385.4 452.7 L383.6 452.8 L381.8 452.9 L380.1 453.1 L378.4 453.2 L376.7 453.3 L375.1 453.3 L373.5 453.4 L372.1 453.4 L370.7 453.5 L369.4 453.5 L368.4 453.5 L367.4 453.5 L366.2 453.5 L364.8 453.4 L363.4 453.4 L361.9 453.3 L360.4 453.2 L358.8 453.2 L357.2 453.1 L355.5 452.9 L353.9 452.8 L352.2 452.7 L350.4 452.5 L348.7 452.3 L347 452.1 L345.2 451.9 L343.4 451.7 L341.6 451.5 L339.8 451.2 L337.9 451 L336.1 450.7 L334.2 450.4 L332.4 450.1 L330.5 449.8 L328.6 449.4 L326.7 449.1 L324.8 448.7 L322.8 448.3 L320.9 447.9 L319 447.5 L317 447.1 L315.1 446.7 L313.1 446.2 L311.1 445.8 L309.2 445.3 L307.2 444.8 L305.2 444.3 L303.2 443.8 L301.2 443.3 L299.2 442.7 L297.2 442.1 L295.2 441.6 L293.2 441 L291.1 440.4 L289.1 439.8 L287.1 439.1 L285.1 438.5 L283 437.8 L281 437.2 L278.9 436.5 L276.9 435.8 L274.9 435.1 L272.8 434.4 L270.8 433.7 L268.7 432.9 L266.7 432.2 L264.6 431.4 L262.6 430.6 L260.5 429.8 L258.5 429 L256.4 428.2 L254.4 427.4 L252.3 426.5 L250.3 425.7 L248.3 424.8 L246.2 423.9 L244.2 423 L242.2 422.2 L240.1 421.2 L238.1 420.3 L236.1 419.4 L234.1 418.5 L232 417.5 L230 416.6 L228 415.6 L226 414.6 L224 413.6 L222.1 412.6 L220.1 411.6 L218.1 410.6 L216.1 409.6 L214.2 408.6 L212.2 407.6 L210.3 406.5 L208.4 405.5 L206.4 404.4 L204.5 403.3 L202.6 402.3 L200.7 401.2 L198.8 400.1 L197 399 L195.1 397.9 L193.2 396.8 L191.4 395.7 L189.6 394.6 L187.7 393.4 L185.9 392.3 L184.2 391.2 L182.4 390 L180.6 388.9 L178.9 387.8 L177.1 386.6 L175.4 385.4 L173.7 384.3 L172 383.1 L170.3 382 L168.6 380.8 L167 379.6 L165.4 378.4 L163.8 377.3 L162.2 376.1 L160.6 374.9 L159 373.7 L157.5 372.5 L155.9 371.3 L154.4 370.1 L152.9 368.9 L151.5 367.7 L150 366.5 L148.6 365.3 L147.2 364.1 L145.8 362.9 L144.4 361.7 L143.1 360.5 L141.7 359.3 L140.4 358.1 L139.1 356.9 L137.9 355.7 L136.6 354.5 L135.4 353.3 L134.2 352.1 L133 350.9 L131.8 349.7 L130.7 348.6 L129.6 347.4 L128.5 346.2 L127.4 345 L126.4 343.8 L125.3 342.6 L124.3 341.4 L123.4 340.2 L122.4 339.1 L121.5 337.9 L120.6 336.7 L119.7 335.6 L118.8 334.4 L118 333.2 L117.2 332.1 L116.4 330.9 L115.6 329.8 L114.9 328.6 L114.2 327.5 L113.5 326.3 L112.8 325.2 L112.2 324.1 L111.5 323 L110.9 321.8 L110.4 320.7 L109.8 319.6 L109.3 318.5 L108.8 317.4 L108.3 316.4 L107.9 315.3 L107.5 314.2 L107.1 313.2 L106.7 312.1 L106.4 311.1 L106 310 L105.7 309 L105.4 308 L105.2 307 L105 306 L104.8 305.1 L104.6 304.1 L104.4 303.2 L104.3 302.3 L104.2 301.4 L104.1 300.6 L104 299.8 L104 299.1 L104 298.5 L104 297.9 L104 297.2 L104.1 296.4 L104.2 295.5 L104.3 294.6 L104.4 293.7 L104.6 292.8 L104.8 291.8 L105 290.8 L105.2 289.8 L105.4 288.8 L105.7 287.8 L106 286.7 L106.3 285.7 L106.7 284.6 L107 283.5 L107.4 282.4 L107.9 281.3 L108.3 280.2 L108.8 279.1 L109.2 277.9 L109.8 276.8 L110.3 275.7 L110.8 274.5 L111.4 273.4 L112 272.2 L112.7 271 L113.3 269.8 L114 268.7 L114.7 267.5 L115.4 266.3 L116.2 265.1 L116.9 263.9 L117.7 262.7 L118.5 261.5 L119.4 260.3 L120.2 259.1 L121.1 257.9 L122 256.7 L122.9 255.5 L123.9 254.3 L124.9 253 L125.8 251.8 L126.9 250.6 L127.9 249.4 L129 248.2 L130 246.9 L131.1 245.7 L132.3 244.5 L133.4 243.3 L134.6 242 L135.7 240.8 L136.9 239.6 L138.2 238.4 L139.4 237.2 L140.7 235.9 L142 234.7 L143.3 233.5 L144.6 232.3 L145.9 231.1 L147.3 229.9 L148.7 228.7 L150.1 227.4 L151.5 226.2 L153 225 L154.4 223.8 L155.9 222.7 L157.4 221.5 L158.9 220.3 L160.4 219.1 L162 217.9 L163.5 216.7 L165.1 215.6 L166.7 214.4 L168.3 213.2 L169.9 212.1 L171.6 210.9 L173.2 209.8 L174.9 208.6 L176.6 207.5 L178.3 206.3 L180 205.2 L181.7 204.1 L183.5 203 L185.3 201.9 L187 200.8 L188.8 199.7 L190.6 198.6 L192.4 197.5 L194.3 196.4 L196.1 195.3 L197.9 194.3 L199.8 193.2 L201.7 192.2 L203.6 191.1 L205.4 190.1 L207.4 189.1 L209.3 188.1 L211.2 187.1 L213.1 186.1 L215.1 185.1 L217 184.1 L219 183.1 L221 182.2 L222.9 181.2 L224.9 180.3 L226.9 179.3 L228.9 178.4 L230.9 177.5 L232.9 176.6 L235 175.7 L237 174.8 L239 173.9 L241.1 173.1 L243.1 172.2 L245.1 171.4 L247.2 170.5 L249.3 169.7 L251.3 168.9 L253.4 168.1 L255.5 167.3 L257.5 166.5 L259.6 165.8 L261.7 165 L263.8 164.3 L265.8 163.5 L267.9 162.8 L270 162.1 L272.1 161.4 L274.2 160.7 L276.3 160.1 L278.4 159.4 L280.4 158.8 L282.5 158.1 L284.6 157.5 L286.7 156.9 L288.8 156.3 L290.9 155.7 L292.9 155.2 L295 154.6 L297.1 154.1 L299.1 153.5 L301.2 153 L303.3 152.5 L305.3 152 L307.4 151.5 L309.4 151.1 L311.4 150.6 L313.5 150.2 L315.5 149.8 L317.5 149.4 L319.5 149 L321.5 148.6 L323.5 148.2 L325.5 147.9 L327.5 147.5 L329.4 147.2 L331.4 146.9 L333.3 146.6 L335.2 146.3 L337.2 146 L339.1 145.8 L340.9 145.5 L342.8 145.3 L344.7 145.1 L346.5 144.9 L348.3 144.7 L350.1 144.5 L351.9 144.3 L353.6 144.2 L355.3 144.1 L357 143.9 L358.6 143.8 L360.2 143.8 L361.8 143.7 L363.3 143.6 L364.8 143.6 L366.2 143.5 L367.4 143.5 L368.4 143.5 L369.4 143.5 L370.7 143.5 L372 143.6 L373.5 143.6 L375 143.7 L376.6 143.8 L378.2 143.8 L379.9 143.9 L381.6 144.1 L383.3 144.2 L385.1 144.3 L386.8 144.5 L388.6 144.7 L390.5 144.9 L392.3 145.1 L394.2 145.3 L396.1 145.5 L398 145.8 L399.9 146 L401.8 146.3 L403.8 146.6 L405.7 146.9 L407.7 147.2 L409.7 147.5 L411.7 147.8 L413.7 148.2 L415.7 148.6 L417.7 148.9 L419.8 149.3 L421.8 149.7 L423.9 150.2 L425.9 150.6 L428 151 L430 151.5 L432.1 152 L434.2 152.4 L436.3 152.9 L438.3 153.5 L440.4 154 L442.5 154.5 L444.6 155.1 L446.7 155.6 L448.8 156.2 L450.9 156.8 L453 157.4 L455.1 158 L457.2 158.6 L459.3 159.3 L461.4 159.9 L463.5 160.6 L465.6 161.3 L467.7 161.9 L469.8 162.6 L471.9 163.4 L474 164.1 L476.1 164.8 L478.2 165.6 L480.2 166.3 L482.3 167.1 L484.4 167.9 L486.5 168.6 L488.5 169.4 L490.6 170.3 L492.7 171.1 L494.7 171.9 L496.8 172.8 L498.8 173.6 L500.8 174.5 L502.9 175.4 L504.9 176.2 L506.9 177.1 L508.9 178 L510.9 179 L512.9 179.9 L514.9 180.8 L516.8 181.8 L518.8 182.7 L520.8 183.7 L522.7 184.7 L524.6 185.6 L526.6 186.6 L528.5 187.6 L530.4 188.6 L532.3 189.6 L534.2 190.7 L536 191.7 L537.9 192.7 L539.8 193.8 L541.6 194.8 L543.4 195.9 L545.2 197 L547 198 L548.8 199.1 L550.6 200.2 L552.3 201.3 L554.1 202.4 L555.8 203.5 L557.5 204.7 L559.2 205.8 L560.9 206.9 L562.6 208 L564.3 209.2 L565.9 210.3 L567.5 211.5 L569.1 212.6 L570.7 213.8 L572.3 215 L573.9 216.1 L575.4 217.3 L576.9 218.5 L578.5 219.7 L579.9 220.9 L581.4 222.1 L582.9 223.3 L584.3 224.5 L585.7 225.7 L587.1 226.9 L588.5 228.1 L589.9 229.3 L591.2 230.5 L592.6 231.7 L593.9 232.9 L595.2 234.2 L596.4 235.4 L597.7 236.6 L598.9 237.8 L600.1 239.1 L601.3 240.3 L602.5 241.5 L603.7 242.7 L604.8 244 L605.9 245.2 L607 246.4 L608.1 247.7 L609.1 248.9 L610.1 250.1 L611.1 251.4 L612.1 252.6 L613.1 253.8 L614 255.1 L614.9 256.3 L615.8 257.5 L616.7 258.7 L617.5 259.9 L618.4 261.2 L619.2 262.4 L620 263.6 L620.7 264.8 L621.5 266 L622.2 267.2 L622.9 268.4 L623.5 269.6 L624.2 270.8 L624.8 271.9 L625.4 273.1 L626 274.3 L626.5 275.5 L627.1 276.6 L627.6 277.8 L628.1 278.9 L628.5 280 L629 281.2 L629.4 282.3 L629.8 283.4 L630.1 284.5 L630.5 285.6 L630.8 286.6 L631.1 287.7 L631.4 288.7 L631.6 289.8 L631.8 290.8 L632 291.8 L632.2 292.8 L632.4 293.7 L632.5 294.6 L632.6 295.5 L632.7 296.4 L632.8 297.2 L632.8 297.9Z M621.8 299 L621.8 300.3 L621.6 302 L621.4 303.8 L621.1 305.7 L620.7 307.7 L620.1 309.7 L619.6 311.9 L618.9 314 L618.1 316.3 L617.2 318.5 L616.3 320.8 L615.2 323.1 L614.1 325.5 L612.9 327.8 L611.6 330.2 L610.2 332.6 L608.7 335 L607.1 337.4 L605.4 339.9 L603.7 342.3 L601.9 344.7 L600 347.2 L598 349.6 L595.9 352.1 L593.8 354.5 L591.6 357 L589.2 359.4 L586.9 361.9 L584.4 364.3 L581.9 366.7 L579.3 369.1 L576.6 371.5 L573.9 373.9 L571 376.2 L568.2 378.6 L565.2 380.9 L562.2 383.2 L559.1 385.5 L556 387.7 L552.8 390 L549.5 392.2 L546.2 394.4 L542.8 396.5 L539.4 398.7 L535.9 400.8 L532.4 402.8 L528.8 404.9 L525.2 406.9 L521.6 408.9 L517.8 410.8 L514.1 412.7 L510.3 414.6 L506.5 416.4 L502.6 418.2 L498.7 420 L494.8 421.7 L490.8 423.4 L486.9 425 L482.9 426.6 L478.8 428.2 L474.8 429.7 L470.7 431.2 L466.7 432.6 L462.6 434 L458.5 435.3 L454.4 436.6 L450.3 437.8 L446.2 439 L442.1 440.1 L438 441.2 L433.9 442.2 L429.8 443.2 L425.7 444.2 L421.7 445.1 L417.7 445.9 L413.7 446.7 L409.7 447.4 L405.8 448.1 L401.9 448.7 L398.1 449.3 L394.3 449.8 L390.6 450.2 L387 450.7 L383.4 451 L379.9 451.3 L376.6 451.6 L373.4 451.8 L370.3 451.9 L367.6 452 L365.4 452 L363.2 452 L360.5 451.9 L357.4 451.8 L354.2 451.6 L350.9 451.3 L347.4 451 L343.8 450.7 L340.2 450.2 L336.5 449.8 L332.7 449.3 L328.9 448.7 L325 448.1 L321.1 447.4 L317.1 446.7 L313.1 445.9 L309.1 445.1 L305.1 444.2 L301 443.2 L296.9 442.2 L292.8 441.2 L288.7 440.1 L284.6 439 L280.5 437.8 L276.4 436.6 L272.3 435.3 L268.2 434 L264.1 432.6 L260.1 431.2 L256 429.7 L252 428.2 L247.9 426.6 L243.9 425 L240 423.4 L236 421.7 L232.1 420 L228.2 418.2 L224.3 416.4 L220.5 414.6 L216.7 412.7 L213 410.8 L209.2 408.9 L205.6 406.9 L202 404.9 L198.4 402.8 L194.9 400.8 L191.4 398.7 L188 396.5 L184.6 394.4 L181.3 392.2 L178 390 L174.8 387.7 L171.7 385.5 L168.6 383.2 L165.6 380.9 L162.6 378.6 L159.8 376.2 L156.9 373.9 L154.2 371.5 L151.5 369.1 L148.9 366.7 L146.4 364.3 L143.9 361.9 L141.6 359.4 L139.2 357 L137 354.5 L134.9 352.1 L132.8 349.6 L130.8 347.2 L128.9 344.7 L127.1 342.3 L125.4 339.9 L123.7 337.4 L122.1 335 L120.6 332.6 L119.2 330.2 L117.9 327.8 L116.7 325.5 L115.6 323.1 L114.5 320.8 L113.6 318.5 L112.7 316.3 L111.9 314 L111.2 311.9 L110.7 309.7 L110.1 307.7 L109.7 305.7 L109.4 303.8 L109.2 302 L109 300.3 L109 299 L109 297.7 L109.2 296 L109.4 294.2 L109.7 292.3 L110.1 290.3 L110.7 288.3 L111.2 286.1 L111.9 284 L112.7 281.7 L113.6 279.5 L114.5 277.2 L115.6 274.9 L116.7 272.5 L117.9 270.2 L119.2 267.8 L120.6 265.4 L122.1 263 L123.7 260.6 L125.4 258.1 L127.1 255.7 L128.9 253.3 L130.8 250.8 L132.8 248.4 L134.9 245.9 L137 243.5 L139.2 241 L141.6 238.6 L143.9 236.1 L146.4 233.7 L148.9 231.3 L151.5 228.9 L154.2 226.5 L156.9 224.1 L159.8 221.8 L162.6 219.4 L165.6 217.1 L168.6 214.8 L171.7 212.5 L174.8 210.3 L178 208 L181.3 205.8 L184.6 203.6 L188 201.5 L191.4 199.3 L194.9 197.2 L198.4 195.2 L202 193.1 L205.6 191.1 L209.2 189.1 L213 187.2 L216.7 185.3 L220.5 183.4 L224.3 181.6 L228.2 179.8 L232.1 178 L236 176.3 L240 174.6 L243.9 173 L247.9 171.4 L252 169.8 L256 168.3 L260.1 166.8 L264.1 165.4 L268.2 164 L272.3 162.7 L276.4 161.4 L280.5 160.2 L284.6 159 L288.7 157.9 L292.8 156.8 L296.9 155.8 L301 154.8 L305.1 153.8 L309.1 152.9 L313.1 152.1 L317.1 151.3 L321.1 150.6 L325 149.9 L328.9 149.3 L332.7 148.7 L336.5 148.2 L340.2 147.8 L343.8 147.3 L347.4 147 L350.9 146.7 L354.2 146.4 L357.4 146.2 L360.5 146.1 L363.2 146 L365.4 146 L367.6 146 L370.3 146.1 L373.4 146.2 L376.6 146.4 L379.9 146.7 L383.4 147 L387 147.3 L390.6 147.8 L394.3 148.2 L398.1 148.7 L401.9 149.3 L405.8 149.9 L409.7 150.6 L413.7 151.3 L417.7 152.1 L421.7 152.9 L425.7 153.8 L429.8 154.8 L433.9 155.8 L438 156.8 L442.1 157.9 L446.2 159 L450.3 160.2 L454.4 161.4 L458.5 162.7 L462.6 164 L466.7 165.4 L470.7 166.8 L474.8 168.3 L478.8 169.8 L482.9 171.4 L486.9 173 L490.8 174.6 L494.8 176.3 L498.7 178 L502.6 179.8 L506.5 181.6 L510.3 183.4 L514.1 185.3 L517.8 187.2 L521.6 189.1 L525.2 191.1 L528.8 193.1 L532.4 195.2 L535.9 197.2 L539.4 199.3 L542.8 201.5 L546.2 203.6 L549.5 205.8 L552.8 208 L556 210.3 L559.1 212.5 L562.2 214.8 L565.2 217.1 L568.2 219.4 L571 221.8 L573.9 224.1 L576.6 226.5 L579.3 228.9 L581.9 231.3 L584.4 233.7 L586.9 236.1 L589.2 238.6 L591.6 241 L593.8 243.5 L595.9 245.9 L598 248.4 L600 250.8 L601.9 253.3 L603.7 255.7 L605.4 258.1 L607.1 260.6 L608.7 263 L610.2 265.4 L611.6 267.8 L612.9 270.2 L614.1 272.5 L615.2 274.9 L616.3 277.2 L617.2 279.5 L618.1 281.7 L618.9 284 L619.6 286.1 L620.1 288.3 L620.7 290.3 L621.1 292.3 L621.4 294.2 L621.6 296 L621.8 297.7 L621.8 299Z" fill="#1d1813" fill-rule="evenodd" clip-path="url(#rtip)" opacity="0.85"/>
<path d="M136.5 248V339M120 297.6H136.5M601.5 252V339.5M601.5 300H619.4" fill="none" stroke="#1d1813" stroke-width="1.2"/>
<path d="M131 258 C121 280 117 300 116.5 317 M606 259 C616 278 621 292 622 304" fill="none" stroke="#1d1813" stroke-width="1"/>
</g>
<path d="M632.8 298.5 L632.8 299.1 L632.8 299.8 L632.7 300.6 L632.6 301.5 L632.5 302.4 L632.4 303.4 L632.2 304.3 L632 305.3 L631.8 306.4 L631.6 307.4 L631.4 308.5 L631.1 309.6 L630.8 310.6 L630.5 311.8 L630.2 312.9 L629.8 314 L629.4 315.2 L629 316.3 L628.6 317.5 L628.1 318.7 L627.7 319.9 L627.2 321.1 L626.6 322.3 L626.1 323.5 L625.5 324.7 L624.9 325.9 L624.3 327.1 L623.7 328.4 L623.1 329.6 L622.4 330.8 L621.7 332.1 L621 333.3 L620.2 334.6 L619.5 335.8 L618.7 337.1 L617.9 338.4 L617.1 339.6 L616.2 340.9 L615.4 342.1 L614.5 343.4 L613.6 344.7 L612.6 345.9 L611.7 347.2 L610.7 348.5 L609.7 349.7 L608.7 351 L607.7 352.3 L606.7 353.5 L605.6 354.8 L604.5 356 L603.4 357.3 L602.3 358.6 L601.1 359.8 L600 361.1 L598.8 362.3 L597.6 363.5 L596.4 364.8 L595.1 366 L593.9 367.3 L592.6 368.5 L591.3 369.7 L590 370.9 L588.6 372.1 L587.3 373.4 L585.9 374.6 L584.5 375.8 L583.1 377 L581.7 378.2 L580.3 379.3 L578.8 380.5 L577.3 381.7 L575.9 382.9 L574.3 384 L572.8 385.2 L571.3 386.4 L569.7 387.5 L568.2 388.6 L566.6 389.8 L565 390.9 L563.3 392 L561.7 393.1 L560.1 394.2 L558.4 395.3 L556.7 396.4 L555 397.5 L553.3 398.6 L551.6 399.7 L549.8 400.7 L548.1 401.8 L546.3 402.8 L544.5 403.8 L542.8 404.9 L540.9 405.9 L539.1 406.9 L537.3 407.9 L535.4 408.9 L533.6 409.9 L531.7 410.9 L529.8 411.8 L527.9 412.8 L526 413.7 L524.1 414.7 L522.2 415.6 L520.2 416.5 L518.3 417.4 L516.3 418.3 L514.3 419.2 L512.3 420.1 L510.3 421 L508.3 421.9 L506.3 422.7 L504.3 423.5 L502.2 424.4 L500.2 425.2 L498.2 426 L496.1 426.8 L494 427.6 L491.9 428.4 L489.9 429.2 L487.8 429.9 L485.7 430.7 L483.6 431.4 L481.5 432.1 L479.3 432.9 L477.2 433.6 L475.1 434.2 L473 434.9 L470.8 435.6 L468.7 436.3 L466.6 436.9 L464.4 437.5 L462.3 438.2 L460.1 438.8 L458 439.4 L455.8 440 L453.6 440.6 L451.5 441.1 L449.3 441.7 L447.2 442.2 L445 442.8 L442.8 443.3 L440.7 443.8 L438.5 444.3 L436.4 444.8 L434.2 445.2 L432.1 445.7 L430 446.1 L427.8 446.6 L425.7 447 L423.6 447.4 L421.4 447.8 L419.3 448.2 L417.2 448.5 L415.1 448.9 L413.1 449.2 L411 449.6 L408.9 449.9 L406.9 450.2 L404.8 450.5 L402.8 450.8 L400.8 451 L398.8 451.3 L396.8 451.5 L394.9 451.7 L392.9 452 L391 452.2 L389.1 452.3 L387.3 452.5 L385.4 452.7 L383.6 452.8 L381.8 452.9 L380.1 453.1 L378.4 453.2 L376.7 453.3 L375.1 453.3 L373.5 453.4 L372.1 453.4 L370.7 453.5 L369.4 453.5 L368.4 453.5 L367.4 453.5 L366.2 453.5 L364.8 453.4 L363.4 453.4 L361.9 453.3 L360.4 453.2 L358.8 453.2 L357.2 453.1 L355.5 452.9 L353.9 452.8 L352.2 452.7 L350.4 452.5 L348.7 452.3 L347 452.1 L345.2 451.9 L343.4 451.7 L341.6 451.5 L339.8 451.2 L337.9 451 L336.1 450.7 L334.2 450.4 L332.4 450.1 L330.5 449.8 L328.6 449.4 L326.7 449.1 L324.8 448.7 L322.8 448.3 L320.9 447.9 L319 447.5 L317 447.1 L315.1 446.7 L313.1 446.2 L311.1 445.8 L309.2 445.3 L307.2 444.8 L305.2 444.3 L303.2 443.8 L301.2 443.3 L299.2 442.7 L297.2 442.1 L295.2 441.6 L293.2 441 L291.1 440.4 L289.1 439.8 L287.1 439.1 L285.1 438.5 L283 437.8 L281 437.2 L278.9 436.5 L276.9 435.8 L274.9 435.1 L272.8 434.4 L270.8 433.7 L268.7 432.9 L266.7 432.2 L264.6 431.4 L262.6 430.6 L260.5 429.8 L258.5 429 L256.4 428.2 L254.4 427.4 L252.3 426.5 L250.3 425.7 L248.3 424.8 L246.2 423.9 L244.2 423 L242.2 422.2 L240.1 421.2 L238.1 420.3 L236.1 419.4 L234.1 418.5 L232 417.5 L230 416.6 L228 415.6 L226 414.6 L224 413.6 L222.1 412.6 L220.1 411.6 L218.1 410.6 L216.1 409.6 L214.2 408.6 L212.2 407.6 L210.3 406.5 L208.4 405.5 L206.4 404.4 L204.5 403.3 L202.6 402.3 L200.7 401.2 L198.8 400.1 L197 399 L195.1 397.9 L193.2 396.8 L191.4 395.7 L189.6 394.6 L187.7 393.4 L185.9 392.3 L184.2 391.2 L182.4 390 L180.6 388.9 L178.9 387.8 L177.1 386.6 L175.4 385.4 L173.7 384.3 L172 383.1 L170.3 382 L168.6 380.8 L167 379.6 L165.4 378.4 L163.8 377.3 L162.2 376.1 L160.6 374.9 L159 373.7 L157.5 372.5 L155.9 371.3 L154.4 370.1 L152.9 368.9 L151.5 367.7 L150 366.5 L148.6 365.3 L147.2 364.1 L145.8 362.9 L144.4 361.7 L143.1 360.5 L141.7 359.3 L140.4 358.1 L139.1 356.9 L137.9 355.7 L136.6 354.5 L135.4 353.3 L134.2 352.1 L133 350.9 L131.8 349.7 L130.7 348.6 L129.6 347.4 L128.5 346.2 L127.4 345 L126.4 343.8 L125.3 342.6 L124.3 341.4 L123.4 340.2 L122.4 339.1 L121.5 337.9 L120.6 336.7 L119.7 335.6 L118.8 334.4 L118 333.2 L117.2 332.1 L116.4 330.9 L115.6 329.8 L114.9 328.6 L114.2 327.5 L113.5 326.3 L112.8 325.2 L112.2 324.1 L111.5 323 L110.9 321.8 L110.4 320.7 L109.8 319.6 L109.3 318.5 L108.8 317.4 L108.3 316.4 L107.9 315.3 L107.5 314.2 L107.1 313.2 L106.7 312.1 L106.4 311.1 L106 310 L105.7 309 L105.4 308 L105.2 307 L105 306 L104.8 305.1 L104.6 304.1 L104.4 303.2 L104.3 302.3 L104.2 301.4 L104.1 300.6 L104 299.8 L104 299.1 L104 298.5 L104 297.9 L104 297.2 L104.1 296.4 L104.2 295.5 L104.3 294.6 L104.4 293.7 L104.6 292.8 L104.8 291.8 L105 290.8 L105.2 289.8 L105.4 288.8 L105.7 287.8 L106 286.7 L106.3 285.7 L106.7 284.6 L107 283.5 L107.4 282.4 L107.9 281.3 L108.3 280.2 L108.8 279.1 L109.2 277.9 L109.8 276.8 L110.3 275.7 L110.8 274.5 L111.4 273.4 L112 272.2 L112.7 271 L113.3 269.8 L114 268.7 L114.7 267.5 L115.4 266.3 L116.2 265.1 L116.9 263.9 L117.7 262.7 L118.5 261.5 L119.4 260.3 L120.2 259.1 L121.1 257.9 L122 256.7 L122.9 255.5 L123.9 254.3 L124.9 253 L125.8 251.8 L126.9 250.6 L127.9 249.4 L129 248.2 L130 246.9 L131.1 245.7 L132.3 244.5 L133.4 243.3 L134.6 242 L135.7 240.8 L136.9 239.6 L138.2 238.4 L139.4 237.2 L140.7 235.9 L142 234.7 L143.3 233.5 L144.6 232.3 L145.9 231.1 L147.3 229.9 L148.7 228.7 L150.1 227.4 L151.5 226.2 L153 225 L154.4 223.8 L155.9 222.7 L157.4 221.5 L158.9 220.3 L160.4 219.1 L162 217.9 L163.5 216.7 L165.1 215.6 L166.7 214.4 L168.3 213.2 L169.9 212.1 L171.6 210.9 L173.2 209.8 L174.9 208.6 L176.6 207.5 L178.3 206.3 L180 205.2 L181.7 204.1 L183.5 203 L185.3 201.9 L187 200.8 L188.8 199.7 L190.6 198.6 L192.4 197.5 L194.3 196.4 L196.1 195.3 L197.9 194.3 L199.8 193.2 L201.7 192.2 L203.6 191.1 L205.4 190.1 L207.4 189.1 L209.3 188.1 L211.2 187.1 L213.1 186.1 L215.1 185.1 L217 184.1 L219 183.1 L221 182.2 L222.9 181.2 L224.9 180.3 L226.9 179.3 L228.9 178.4 L230.9 177.5 L232.9 176.6 L235 175.7 L237 174.8 L239 173.9 L241.1 173.1 L243.1 172.2 L245.1 171.4 L247.2 170.5 L249.3 169.7 L251.3 168.9 L253.4 168.1 L255.5 167.3 L257.5 166.5 L259.6 165.8 L261.7 165 L263.8 164.3 L265.8 163.5 L267.9 162.8 L270 162.1 L272.1 161.4 L274.2 160.7 L276.3 160.1 L278.4 159.4 L280.4 158.8 L282.5 158.1 L284.6 157.5 L286.7 156.9 L288.8 156.3 L290.9 155.7 L292.9 155.2 L295 154.6 L297.1 154.1 L299.1 153.5 L301.2 153 L303.3 152.5 L305.3 152 L307.4 151.5 L309.4 151.1 L311.4 150.6 L313.5 150.2 L315.5 149.8 L317.5 149.4 L319.5 149 L321.5 148.6 L323.5 148.2 L325.5 147.9 L327.5 147.5 L329.4 147.2 L331.4 146.9 L333.3 146.6 L335.2 146.3 L337.2 146 L339.1 145.8 L340.9 145.5 L342.8 145.3 L344.7 145.1 L346.5 144.9 L348.3 144.7 L350.1 144.5 L351.9 144.3 L353.6 144.2 L355.3 144.1 L357 143.9 L358.6 143.8 L360.2 143.8 L361.8 143.7 L363.3 143.6 L364.8 143.6 L366.2 143.5 L367.4 143.5 L368.4 143.5 L369.4 143.5 L370.7 143.5 L372 143.6 L373.5 143.6 L375 143.7 L376.6 143.8 L378.2 143.8 L379.9 143.9 L381.6 144.1 L383.3 144.2 L385.1 144.3 L386.8 144.5 L388.6 144.7 L390.5 144.9 L392.3 145.1 L394.2 145.3 L396.1 145.5 L398 145.8 L399.9 146 L401.8 146.3 L403.8 146.6 L405.7 146.9 L407.7 147.2 L409.7 147.5 L411.7 147.8 L413.7 148.2 L415.7 148.6 L417.7 148.9 L419.8 149.3 L421.8 149.7 L423.9 150.2 L425.9 150.6 L428 151 L430 151.5 L432.1 152 L434.2 152.4 L436.3 152.9 L438.3 153.5 L440.4 154 L442.5 154.5 L444.6 155.1 L446.7 155.6 L448.8 156.2 L450.9 156.8 L453 157.4 L455.1 158 L457.2 158.6 L459.3 159.3 L461.4 159.9 L463.5 160.6 L465.6 161.3 L467.7 161.9 L469.8 162.6 L471.9 163.4 L474 164.1 L476.1 164.8 L478.2 165.6 L480.2 166.3 L482.3 167.1 L484.4 167.9 L486.5 168.6 L488.5 169.4 L490.6 170.3 L492.7 171.1 L494.7 171.9 L496.8 172.8 L498.8 173.6 L500.8 174.5 L502.9 175.4 L504.9 176.2 L506.9 177.1 L508.9 178 L510.9 179 L512.9 179.9 L514.9 180.8 L516.8 181.8 L518.8 182.7 L520.8 183.7 L522.7 184.7 L524.6 185.6 L526.6 186.6 L528.5 187.6 L530.4 188.6 L532.3 189.6 L534.2 190.7 L536 191.7 L537.9 192.7 L539.8 193.8 L541.6 194.8 L543.4 195.9 L545.2 197 L547 198 L548.8 199.1 L550.6 200.2 L552.3 201.3 L554.1 202.4 L555.8 203.5 L557.5 204.7 L559.2 205.8 L560.9 206.9 L562.6 208 L564.3 209.2 L565.9 210.3 L567.5 211.5 L569.1 212.6 L570.7 213.8 L572.3 215 L573.9 216.1 L575.4 217.3 L576.9 218.5 L578.5 219.7 L579.9 220.9 L581.4 222.1 L582.9 223.3 L584.3 224.5 L585.7 225.7 L587.1 226.9 L588.5 228.1 L589.9 229.3 L591.2 230.5 L592.6 231.7 L593.9 232.9 L595.2 234.2 L596.4 235.4 L597.7 236.6 L598.9 237.8 L600.1 239.1 L601.3 240.3 L602.5 241.5 L603.7 242.7 L604.8 244 L605.9 245.2 L607 246.4 L608.1 247.7 L609.1 248.9 L610.1 250.1 L611.1 251.4 L612.1 252.6 L613.1 253.8 L614 255.1 L614.9 256.3 L615.8 257.5 L616.7 258.7 L617.5 259.9 L618.4 261.2 L619.2 262.4 L620 263.6 L620.7 264.8 L621.5 266 L622.2 267.2 L622.9 268.4 L623.5 269.6 L624.2 270.8 L624.8 271.9 L625.4 273.1 L626 274.3 L626.5 275.5 L627.1 276.6 L627.6 277.8 L628.1 278.9 L628.5 280 L629 281.2 L629.4 282.3 L629.8 283.4 L630.1 284.5 L630.5 285.6 L630.8 286.6 L631.1 287.7 L631.4 288.7 L631.6 289.8 L631.8 290.8 L632 291.8 L632.2 292.8 L632.4 293.7 L632.5 294.6 L632.6 295.5 L632.7 296.4 L632.8 297.2 L632.8 297.9Z" fill="none" stroke="#1d1813" stroke-width="3"/>
<circle cx="368" cy="299" r="2.3" fill="none" stroke="#1d1813" stroke-width="1"/>
<path d="M262 194.2 L265.6 193.5 L269.3 192.9 L272.9 192.3 L276.5 191.8 L280.2 191.2 L283.8 190.7 L287.4 190.2 L291.1 189.7 L294.7 189.3 L298.3 188.9 L302 188.5 L305.6 188.1 L309.2 187.7 L312.9 187.4 L316.5 187.1 L320.1 186.8 L323.8 186.6 L327.4 186.3 L331 186.1 L334.7 185.9 L338.3 185.7 L341.9 185.5 L345.6 185.4 L349.2 185.3 L352.8 185.2 L356.5 185.1 L360.1 185.1 L363.7 185 L367.4 185 L371 185 L374.6 185 L378.3 185.1 L381.9 185.1 L385.5 185.2 L389.2 185.3 L392.8 185.5 L396.4 185.6 L400.1 185.8 L403.7 186 L407.3 186.2 L411 186.4 L414.6 186.7 L418.2 186.9 L421.9 187.2 L425.5 187.6 L429.1 187.9 L432.8 188.3 L436.4 188.6 L440 189.1 L443.7 189.5 L447.3 189.9 L450.9 190.4 L454.6 190.9 L458.2 191.5 L461.8 192 L465.5 192.6 L469.1 193.2 L472.7 193.9 L476.4 194.6 L480 195.3 L480 211.8 L476.4 211.1 L472.7 210.4 L469.1 209.7 L465.5 209.1 L461.8 208.5 L458.2 208 L454.6 207.4 L450.9 206.9 L447.3 206.4 L443.7 206 L440 205.6 L436.4 205.1 L432.8 204.8 L429.1 204.4 L425.5 204.1 L421.9 203.7 L418.2 203.4 L414.6 203.2 L411 202.9 L407.3 202.7 L403.7 202.5 L400.1 202.3 L396.4 202.1 L392.8 202 L389.2 201.8 L385.5 201.7 L381.9 201.6 L378.3 201.6 L374.6 201.5 L371 201.5 L367.4 201.5 L363.7 201.5 L360.1 201.6 L356.5 201.6 L352.8 201.7 L349.2 201.8 L345.6 201.9 L341.9 202 L338.3 202.2 L334.7 202.4 L331 202.6 L327.4 202.8 L323.8 203.1 L320.1 203.3 L316.5 203.6 L312.9 203.9 L309.2 204.2 L305.6 204.6 L302 205 L298.3 205.4 L294.7 205.8 L291.1 206.2 L287.4 206.7 L283.8 207.2 L280.2 207.7 L276.5 208.3 L272.9 208.8 L269.3 209.4 L265.6 210 L262 210.7Z" fill="#d6c7a9" stroke="none"/>
<path d="M262 194.2 L265.6 193.5 L269.3 192.9 L272.9 192.3 L276.5 191.8 L280.2 191.2 L283.8 190.7 L287.4 190.2 L291.1 189.7 L294.7 189.3 L298.3 188.9 L302 188.5 L305.6 188.1 L309.2 187.7 L312.9 187.4 L316.5 187.1 L320.1 186.8 L323.8 186.6 L327.4 186.3 L331 186.1 L334.7 185.9 L338.3 185.7 L341.9 185.5 L345.6 185.4 L349.2 185.3 L352.8 185.2 L356.5 185.1 L360.1 185.1 L363.7 185 L367.4 185 L371 185 L374.6 185 L378.3 185.1 L381.9 185.1 L385.5 185.2 L389.2 185.3 L392.8 185.5 L396.4 185.6 L400.1 185.8 L403.7 186 L407.3 186.2 L411 186.4 L414.6 186.7 L418.2 186.9 L421.9 187.2 L425.5 187.6 L429.1 187.9 L432.8 188.3 L436.4 188.6 L440 189.1 L443.7 189.5 L447.3 189.9 L450.9 190.4 L454.6 190.9 L458.2 191.5 L461.8 192 L465.5 192.6 L469.1 193.2 L472.7 193.9 L476.4 194.6 L480 195.3" fill="none" stroke="#1d1813" stroke-width="1.3"/>
<path d="M262 210.7 L265.6 210 L269.3 209.4 L272.9 208.8 L276.5 208.3 L280.2 207.7 L283.8 207.2 L287.4 206.7 L291.1 206.2 L294.7 205.8 L298.3 205.4 L302 205 L305.6 204.6 L309.2 204.2 L312.9 203.9 L316.5 203.6 L320.1 203.3 L323.8 203.1 L327.4 202.8 L331 202.6 L334.7 202.4 L338.3 202.2 L341.9 202 L345.6 201.9 L349.2 201.8 L352.8 201.7 L356.5 201.6 L360.1 201.6 L363.7 201.5 L367.4 201.5 L371 201.5 L374.6 201.5 L378.3 201.6 L381.9 201.6 L385.5 201.7 L389.2 201.8 L392.8 202 L396.4 202.1 L400.1 202.3 L403.7 202.5 L407.3 202.7 L411 202.9 L414.6 203.2 L418.2 203.4 L421.9 203.7 L425.5 204.1 L429.1 204.4 L432.8 204.8 L436.4 205.1 L440 205.6 L443.7 206 L447.3 206.4 L450.9 206.9 L454.6 207.4 L458.2 208 L461.8 208.5 L465.5 209.1 L469.1 209.7 L472.7 210.4 L476.4 211.1 L480 211.8" fill="none" stroke="#1d1813" stroke-width="1.9"/>
<path d="M264.4 186.5 H273.4 V222.5 H264.4 C261.4 216.5 261.4 192.5 264.4 186.5Z" fill="#d6c7a9" stroke="#1d1813" stroke-width="1.7"/>
<path d="M271.2 187.5 V221.5" stroke="#1d1813" stroke-width="1.6"/>
<path d="M263.9 206.3H271.4M263.9 209.5H271.4M263.9 212.8H271.4M263.9 216H271.4M263.9 219.3H271.4M263.9 190.8H271.4M263.9 194.4H271.4" stroke="#1d1813" stroke-width="0.8"/>
<path d="M292.4 182.2 H301.4 V217 H292.4 C289.4 211 289.4 188.2 292.4 182.2Z" fill="#d6c7a9" stroke="#1d1813" stroke-width="1.7"/>
<path d="M299.2 183.2 V216" stroke="#1d1813" stroke-width="1.6"/>
<path d="M291.9 201.3H299.4M291.9 204.5H299.4M291.9 207.6H299.4M291.9 210.7H299.4M291.9 213.9H299.4M291.9 186.4H299.4M291.9 189.9H299.4" stroke="#1d1813" stroke-width="0.8"/>
<path d="M323.1 178.5 H332.1 V213.3 H323.1 C320.1 207.3 320.1 184.5 323.1 178.5Z" fill="#d6c7a9" stroke="#1d1813" stroke-width="1.7"/>
<path d="M329.9 179.5 V212.3" stroke="#1d1813" stroke-width="1.6"/>
<path d="M322.6 197.6H330.1M322.6 200.8H330.1M322.6 203.9H330.1M322.6 207H330.1M322.6 210.2H330.1M322.6 182.7H330.1M322.6 186.2H330.1" stroke="#1d1813" stroke-width="0.8"/>
<path d="M352.4 177.5 H361.4 V213 H352.4 C349.4 207 349.4 183.5 352.4 177.5Z" fill="#d6c7a9" stroke="#1d1813" stroke-width="1.7"/>
<path d="M359.2 178.5 V212" stroke="#1d1813" stroke-width="1.6"/>
<path d="M351.9 197H359.4M351.9 200.2H359.4M351.9 203.4H359.4M351.9 206.6H359.4M351.9 209.8H359.4M351.9 181.8H359.4M351.9 185.3H359.4" stroke="#1d1813" stroke-width="0.8"/>
<path d="M382.9 178.2 H391.9 V213.8 H382.9 C379.9 207.8 379.9 184.2 382.9 178.2Z" fill="#d6c7a9" stroke="#1d1813" stroke-width="1.7"/>
<path d="M389.8 179.2 V212.8" stroke="#1d1813" stroke-width="1.6"/>
<path d="M382.4 197.8H389.9M382.4 201H389.9M382.4 204.2H389.9M382.4 207.4H389.9M382.4 210.6H389.9M382.4 182.5H389.9M382.4 186H389.9" stroke="#1d1813" stroke-width="0.8"/>
<path d="M411.4 180.2 H420.4 V215.5 H411.4 C408.4 209.5 408.4 186.2 411.4 180.2Z" fill="#d6c7a9" stroke="#1d1813" stroke-width="1.7"/>
<path d="M418.2 181.2 V214.5" stroke="#1d1813" stroke-width="1.6"/>
<path d="M410.9 199.6H418.4M410.9 202.8H418.4M410.9 206H418.4M410.9 209.1H418.4M410.9 212.3H418.4M410.9 184.4H418.4M410.9 188H418.4" stroke="#1d1813" stroke-width="0.8"/>
<path d="M441.2 184.3 H450.2 V220 H441.2 C438.2 214 438.2 190.3 441.2 184.3Z" fill="#d6c7a9" stroke="#1d1813" stroke-width="1.7"/>
<path d="M448.1 185.3 V219" stroke="#1d1813" stroke-width="1.6"/>
<path d="M440.8 203.9H448.2M440.8 207.1H448.2M440.8 210.4H448.2M440.8 213.6H448.2M440.8 216.8H448.2M440.8 188.6H448.2M440.8 192.2H448.2" stroke="#1d1813" stroke-width="0.8"/>
<path d="M469.1 190.4 H478.1 V226.7 H469.1 C466.1 220.7 466.1 196.4 469.1 190.4Z" fill="#d6c7a9" stroke="#1d1813" stroke-width="1.7"/>
<path d="M475.9 191.4 V225.7" stroke="#1d1813" stroke-width="1.6"/>
<path d="M468.6 210.4H476.1M468.6 213.6H476.1M468.6 216.9H476.1M468.6 220.2H476.1M468.6 223.4H476.1M468.6 194.8H476.1M468.6 198.4H476.1" stroke="#1d1813" stroke-width="0.8"/>
<path d="M619.3 478.1 L615.8 477.4 L611.3 476.5 L606.2 475.6 L600.9 474.7 L595.4 473.8 L589.8 473.1 L584.5 472.3 L578.9 471.5 L573.2 470.7 L567.3 470 L561.3 469.4 L555.2 468.8 L549.1 468.3 L543 467.8 L536.7 467.4 L530.4 467 L524.1 466.7 L517.8 466.5 L511.5 466.3 L505.1 466.3 L498.8 466.3 L492.4 466.4 L486.1 466.5 L479.8 466.8 L473.4 467.1 L467.1 467.5 L460.8 468 L454.5 468.6 L448.2 469.2 L441.9 470 L435.5 470.9 L429 471.9 L422.5 473 L415.8 474.2 L409.1 475.6 L402.2 477.2 L395.1 478.8 L388 480.7 L380.8 482.6 L373.4 484.7 L366.1 486.9 L358.7 489.2 L351.4 491.6 L344.2 494 L337.2 496.5 L330.3 499 L323.6 501.5 L317.1 504 L310.9 506.5 L305 509 L299.2 511.5 L293.6 514 L288.2 516.6 L282.8 519.2 L277.5 521.9 L272.2 524.7 L266.8 527.6 L261.4 530.7 L255.8 533.8 L250.2 537.1 L244.4 540.6 L238.5 544.1 L232.6 547.7 L226.6 551.4 L220.6 555.2 L214.6 558.9 L208.8 562.7 L203 566.5 L197.5 570.2 L192.1 573.9 L187 577.5 L182.1 581.1 L177.4 584.5 L173 587.9 L168.8 591.2 L164.8 594.4 L161.1 597.5 L157.5 600.6 L154.1 603.6 L150.8 606.6 L147.6 609.5 L144.6 612.4 L141.7 615.3 L138.9 618.1 L136.2 621 L133.6 623.8 L131.1 626.6 L128.7 629.4 L126.5 632.2 L124.3 635 L122.3 637.8 L120.3 640.6 L118.6 643.4 L116.9 646.2 L115.3 649 L113.9 651.8 L112.6 654.5 L111.4 657.3 L110.3 660.1 L109.3 662.9 L108.4 665.6 L107.6 668.3 L106.9 671 L106.3 673.7 L105.7 676.4 L105.3 679.1 L105 681.7 L104.7 684.4 L104.5 687 L104.4 689.7 L104.4 692.3 L104.4 694.9 L104.6 697.6 L104.7 700.2 L105 702.9 L105.3 705.6 L105.7 708.3 L106.2 711.1 L106.7 713.9 L107.3 716.7 L108.1 719.5 L108.9 722.4 L109.8 725.2 L110.8 728 L111.9 730.8 L113.1 733.6 L114.4 736.4 L115.8 739.1 L117.3 741.7 L118.9 744.3 L120.5 746.8 L122.3 749.3 L124 751.7 L125.9 754 L127.8 756.4 L129.8 758.7 L131.9 761 L134.1 763.3 L136.3 765.7 L138.7 768.1 L141.1 770.5 L143.7 773 L146.3 775.5 L149.1 778.1 L152 780.8 L154.9 783.5 L158 786.2 L161 788.9 L164.2 791.5 L167.3 794.2 L170.5 796.8 L173.6 799.4 L176.7 801.9 L179.8 804.3 L182.9 806.7 L186 809 L189.1 811.3 L192.3 813.5 L195.4 815.8 L198.7 818.1 L202 820.5 L205.4 822.9 L209 825.3 L212.7 827.9 L216.6 830.5 L220.5 833.2 L224.6 835.9 L228.9 838.7 L233.2 841.4 L237.6 844.3 L242 847.1 L246.5 849.8 L251 852.6 L255.5 855.3 L260 857.9 L264.5 860.5 L269.1 863 L273.6 865.4 L278.2 867.8 L282.7 870.1 L287.4 872.4 L292 874.7 L296.9 876.9 L301.8 879.1 L306.8 881.3 L311.8 883.4 L316.7 885.5 L321.8 887.7 L327.1 889.8 L332.7 892.1 L338.3 894.2 L342.8 895.9 L347.2 884.1 L342.8 882.4 L337.2 880.3 L331.8 878.2 L326.6 876 L321.6 874 L316.7 871.8 L311.8 869.7 L306.9 867.6 L302.1 865.4 L297.4 863.3 L292.9 861.1 L288.4 858.9 L283.9 856.6 L279.5 854.3 L275.1 851.9 L270.7 849.5 L266.3 847 L261.9 844.4 L257.5 841.8 L253.1 839.1 L248.7 836.4 L244.3 833.6 L240 830.9 L235.7 828.1 L231.6 825.4 L227.5 822.7 L223.6 820 L219.8 817.5 L216.2 815 L212.6 812.5 L209.2 810.2 L205.9 807.8 L202.8 805.6 L199.6 803.3 L196.6 801.1 L193.6 798.9 L190.6 796.6 L187.6 794.3 L184.5 792 L181.5 789.5 L178.4 787.1 L175.4 784.5 L172.3 782 L169.3 779.3 L166.3 776.7 L163.4 774.1 L160.5 771.5 L157.7 768.9 L155 766.4 L152.4 763.9 L150 761.5 L147.6 759.2 L145.4 756.9 L143.2 754.7 L141.2 752.5 L139.3 750.4 L137.5 748.2 L135.7 746.1 L134 744 L132.5 741.9 L130.9 739.7 L129.5 737.5 L128.1 735.3 L126.9 733 L125.7 730.7 L124.5 728.4 L123.5 726 L122.6 723.6 L121.7 721.2 L120.9 718.7 L120.2 716.3 L119.6 713.8 L119.1 711.3 L118.6 708.9 L118.2 706.4 L117.8 704 L117.5 701.6 L117.3 699.2 L117.1 696.8 L117 694.5 L117 692.2 L117 689.9 L117.1 687.7 L117.3 685.4 L117.5 683.2 L117.8 680.9 L118.1 678.7 L118.6 676.4 L119.1 674 L119.7 671.7 L120.4 669.3 L121.2 667 L122.1 664.6 L123 662.2 L124.1 659.7 L125.2 657.3 L126.5 654.9 L127.8 652.5 L129.3 650 L130.8 647.5 L132.6 645.1 L134.4 642.6 L136.3 640 L138.4 637.5 L140.6 634.9 L143 632.2 L145.4 629.6 L148 626.9 L150.6 624.2 L153.4 621.4 L156.3 618.7 L159.3 615.9 L162.5 613 L165.8 610.1 L169.2 607.1 L172.8 604.1 L176.7 601 L180.7 597.8 L185 594.6 L189.5 591.2 L194.3 587.8 L199.3 584.3 L204.6 580.7 L210 577 L215.7 573.3 L221.4 569.5 L227.3 565.8 L233.2 562.1 L239.2 558.4 L245 554.9 L250.8 551.4 L256.5 548 L262.1 544.8 L267.6 541.7 L272.9 538.7 L278.1 535.8 L283.3 533.1 L288.5 530.5 L293.6 527.9 L298.9 525.4 L304.3 523 L309.9 520.5 L315.7 518.1 L321.8 515.7 L328.1 513.2 L334.6 510.8 L341.4 508.3 L348.3 505.9 L355.4 503.5 L362.6 501.2 L369.8 498.9 L377 496.8 L384.1 494.8 L391.2 492.8 L398.1 491.1 L405 489.4 L411.7 487.9 L418.3 486.6 L424.7 485.4 L431 484.3 L437.3 483.4 L443.5 482.5 L449.7 481.8 L455.8 481.1 L461.9 480.6 L468 480.1 L474.2 479.7 L480.3 479.4 L486.5 479.1 L492.7 479 L498.9 478.9 L505.1 478.9 L511.3 478.9 L517.5 479.1 L523.6 479.3 L529.8 479.6 L535.9 479.9 L542 480.3 L548.1 480.8 L554.1 481.4 L560 481.9 L565.8 482.6 L571.6 483.3 L577.2 484 L582.7 484.7 L588 485.5 L593.6 486.3 L598.9 487.1 L604 488 L608.9 488.9 L613.3 489.7 L616.7 490.5Z" fill="#1d1813"/>
<path d="M618.8 480.5 L615.3 479.8 L610.8 478.8 L605.8 477.9 L600.5 477.1 L595.1 476.2 L589.5 475.4 L584.2 474.6 L578.6 473.9 L572.9 473.1 L567 472.4 L561 471.8 L555 471.2 L548.9 470.7 L542.8 470.2 L536.6 469.7 L530.3 469.4 L524 469.1 L517.7 468.9 L511.4 468.7 L505.1 468.7 L498.8 468.7 L492.5 468.8 L486.2 468.9 L479.9 469.2 L473.6 469.5 L467.3 469.9 L461 470.4 L454.8 471 L448.5 471.6 L442.2 472.4 L435.8 473.3 L429.4 474.2 L422.9 475.3 L416.3 476.6 L409.6 478 L402.7 479.5 L395.7 481.2 L388.6 483 L381.4 484.9 L374.1 487 L366.8 489.2 L359.5 491.5 L352.2 493.8 L345 496.3 L338 498.7 L331.1 501.2 L324.4 503.7 L318 506.2 L311.8 508.7 L305.9 511.2 L300.2 513.7 L294.6 516.2 L289.2 518.7 L283.9 521.4 L278.6 524 L273.3 526.8 L268 529.7 L262.6 532.8 L257 535.9 L251.4 539.2 L245.6 542.6 L239.8 546.1 L233.8 549.8 L227.9 553.4 L221.9 557.2 L215.9 561 L210.1 564.7 L204.4 568.5 L198.8 572.2 L193.5 575.9 L188.4 579.5 L183.5 583 L178.9 586.4 L174.5 589.8 L170.3 593 L166.4 596.2 L162.6 599.3 L159.1 602.4 L155.7 605.4 L152.4 608.3 L149.3 611.3 L146.3 614.1 L143.4 617 L140.6 619.8 L138 622.6 L135.4 625.4 L132.9 628.2 L130.6 630.9 L128.3 633.7 L126.2 636.4 L124.2 639.2 L122.3 641.9 L120.6 644.6 L119 647.4 L117.5 650.1 L116.1 652.8 L114.8 655.5 L113.6 658.2 L112.5 660.9 L111.6 663.6 L110.7 666.3 L109.9 669 L109.2 671.6 L108.6 674.2 L108.1 676.8 L107.7 679.4 L107.3 682 L107.1 684.6 L106.9 687.2 L106.8 689.7 L106.8 692.3 L106.8 694.8 L107 697.4 L107.1 700 L107.4 702.6 L107.7 705.3 L108.1 708 L108.5 710.7 L109.1 713.4 L109.7 716.1 L110.4 718.9 L111.2 721.7 L112 724.4 L113 727.2 L114.1 729.9 L115.3 732.6 L116.5 735.3 L117.9 737.9 L119.4 740.5 L120.9 743 L122.5 745.5 L124.2 747.9 L126 750.2 L127.8 752.5 L129.7 754.8 L131.6 757.1 L133.7 759.4 L135.8 761.7 L138 764 L140.4 766.4 L142.8 768.8 L145.3 771.3 L148 773.8 L150.7 776.4 L153.6 779 L156.5 781.7 L159.5 784.4 L162.6 787 L165.7 789.7 L168.8 792.4 L172 795 L175.1 797.5 L178.2 800 L181.3 802.4 L184.4 804.7 L187.5 807.1 L190.5 809.3 L193.7 811.6 L196.8 813.9 L200.1 816.2 L203.4 818.5 L206.8 820.9 L210.4 823.4 L214.1 825.9 L217.9 828.5 L221.9 831.2 L226 833.9 L230.2 836.6 L234.5 839.4 L238.9 842.2 L243.3 845 L247.8 847.8 L252.2 850.5 L256.7 853.2 L261.2 855.8 L265.7 858.4 L270.2 860.9 L274.7 863.3 L279.3 865.7 L283.8 868 L288.4 870.3 L293.1 872.5 L297.9 874.7 L302.8 876.9 L307.8 879.1 L312.7 881.2 L317.6 883.3 L322.7 885.5 L328 887.6 L333.5 889.8 L339.2 892 L343.6 893.6" fill="none" stroke="#d6c7a9" stroke-width="0.8" opacity="0.75"/>
<path d="M618.2 483.5 L614.7 482.8 L610.2 481.9 L605.2 481 L600 480.1 L594.6 479.3 L589.1 478.5 L583.7 477.7 L578.2 476.9 L572.5 476.2 L566.6 475.5 L560.7 474.9 L554.7 474.3 L548.7 473.7 L542.6 473.3 L536.4 472.8 L530.2 472.5 L523.9 472.2 L517.7 472 L511.4 471.8 L505.1 471.8 L498.8 471.8 L492.5 471.9 L486.3 472 L480 472.3 L473.8 472.6 L467.5 473 L461.3 473.5 L455.1 474 L448.9 474.7 L442.6 475.5 L436.3 476.3 L429.9 477.3 L423.4 478.4 L416.9 479.6 L410.2 481 L403.4 482.5 L396.4 484.2 L389.4 486 L382.2 487.9 L375 490 L367.7 492.2 L360.4 494.4 L353.2 496.8 L346 499.2 L339 501.6 L332.2 504.1 L325.5 506.6 L319.2 509.1 L313 511.5 L307.1 514 L301.4 516.5 L295.9 519 L290.6 521.5 L285.3 524.1 L280 526.8 L274.8 529.6 L269.5 532.5 L264.1 535.5 L258.6 538.6 L253 541.9 L247.2 545.3 L241.4 548.8 L235.5 552.4 L229.5 556.1 L223.5 559.8 L217.6 563.6 L211.8 567.3 L206.1 571.1 L200.6 574.8 L195.3 578.4 L190.2 582 L185.3 585.5 L180.7 588.9 L176.4 592.2 L172.2 595.5 L168.3 598.6 L164.6 601.7 L161.1 604.7 L157.7 607.7 L154.5 610.6 L151.4 613.5 L148.5 616.4 L145.6 619.2 L142.9 622 L140.2 624.7 L137.7 627.5 L135.3 630.2 L133 632.9 L130.8 635.6 L128.7 638.3 L126.8 641 L124.9 643.6 L123.2 646.3 L121.7 648.9 L120.2 651.6 L118.8 654.2 L117.6 656.8 L116.5 659.4 L115.4 662 L114.5 664.6 L113.7 667.2 L112.9 669.8 L112.2 672.4 L111.7 674.9 L111.2 677.4 L110.8 679.9 L110.4 682.4 L110.2 684.9 L110 687.3 L109.9 689.8 L109.9 692.3 L109.9 694.7 L110.1 697.2 L110.2 699.8 L110.5 702.3 L110.8 704.9 L111.2 707.5 L111.6 710.1 L112.1 712.8 L112.7 715.4 L113.4 718.1 L114.1 720.8 L115 723.4 L115.9 726.1 L116.9 728.7 L118.1 731.3 L119.3 733.9 L120.6 736.4 L122 738.9 L123.5 741.3 L125.1 743.7 L126.7 746 L128.4 748.3 L130.2 750.6 L132 752.8 L134 755.1 L136 757.3 L138.1 759.5 L140.3 761.8 L142.6 764.2 L145 766.6 L147.5 769 L150.1 771.5 L152.9 774.1 L155.7 776.7 L158.6 779.4 L161.6 782 L164.6 784.7 L167.7 787.4 L170.8 790 L173.9 792.6 L177.1 795.1 L180.1 797.5 L183.2 799.9 L186.3 802.3 L189.3 804.6 L192.4 806.8 L195.5 809.1 L198.6 811.4 L201.8 813.6 L205.2 816 L208.6 818.4 L212.1 820.8 L215.8 823.3 L219.6 825.9 L223.6 828.6 L227.7 831.3 L231.9 834 L236.2 836.8 L240.5 839.6 L244.9 842.4 L249.4 845.1 L253.8 847.9 L258.3 850.5 L262.8 853.1 L267.2 855.7 L271.7 858.2 L276.2 860.6 L280.7 862.9 L285.2 865.2 L289.8 867.5 L294.4 869.7 L299.1 871.9 L304 874.1 L309 876.2 L313.9 878.4 L318.8 880.5 L323.9 882.6 L329.2 884.7 L334.7 886.9 L340.3 889.1 L344.7 890.7" fill="none" stroke="#d6c7a9" stroke-width="1.2" stroke-dasharray="1.2 2.2" opacity="0.75"/>
<path d="M617.5 486.6 L614.1 485.9 L609.6 485 L604.7 484.1 L599.5 483.3 L594.2 482.4 L588.6 481.7 L583.3 480.9 L577.8 480.1 L572.1 479.4 L566.3 478.7 L560.4 478.1 L554.4 477.5 L548.4 476.9 L542.3 476.5 L536.2 476 L530 475.7 L523.8 475.4 L517.6 475.2 L511.3 475 L505.1 475 L498.8 475 L492.6 475.1 L486.4 475.2 L480.2 475.5 L474 475.8 L467.8 476.2 L461.6 476.7 L455.4 477.2 L449.2 477.9 L443 478.6 L436.7 479.5 L430.4 480.5 L424 481.5 L417.5 482.8 L410.9 484.1 L404.1 485.6 L397.2 487.3 L390.2 489.1 L383.1 491 L375.9 493 L368.6 495.2 L361.4 497.5 L354.2 499.8 L347 502.2 L340.1 504.7 L333.3 507.1 L326.7 509.6 L320.3 512.1 L314.2 514.5 L308.4 517 L302.7 519.4 L297.3 521.9 L292 524.4 L286.7 527 L281.5 529.6 L276.3 532.4 L271 535.3 L265.7 538.3 L260.2 541.4 L254.6 544.6 L248.9 548 L243 551.5 L237.1 555.1 L231.2 558.8 L225.2 562.5 L219.3 566.3 L213.5 570 L207.9 573.8 L202.4 577.4 L197.1 581.1 L192 584.6 L187.2 588.1 L182.6 591.5 L178.3 594.8 L174.2 598 L170.4 601.1 L166.7 604.2 L163.2 607.2 L159.9 610.1 L156.7 613 L153.6 615.8 L150.7 618.6 L147.9 621.4 L145.2 624.2 L142.6 626.9 L140.1 629.6 L137.7 632.3 L135.4 635 L133.3 637.6 L131.3 640.2 L129.4 642.8 L127.6 645.4 L126 648 L124.4 650.5 L123 653.1 L121.7 655.6 L120.5 658.1 L119.4 660.7 L118.4 663.2 L117.5 665.7 L116.7 668.2 L116 670.7 L115.3 673.1 L114.8 675.6 L114.3 678 L113.9 680.4 L113.6 682.7 L113.4 685.1 L113.2 687.5 L113.1 689.9 L113.1 692.2 L113.1 694.6 L113.2 697.1 L113.4 699.5 L113.7 702 L114 704.5 L114.3 707 L114.7 709.5 L115.2 712.1 L115.8 714.7 L116.5 717.3 L117.2 719.9 L118 722.4 L118.9 725 L119.9 727.5 L121 730 L122.2 732.5 L123.4 734.9 L124.8 737.3 L126.2 739.6 L127.7 741.9 L129.3 744.2 L131 746.4 L132.7 748.6 L134.5 750.8 L136.4 752.9 L138.3 755.1 L140.4 757.4 L142.6 759.6 L144.8 761.9 L147.2 764.3 L149.7 766.7 L152.3 769.2 L155 771.8 L157.8 774.4 L160.7 777 L163.7 779.6 L166.7 782.3 L169.8 784.9 L172.9 787.5 L176 790.1 L179.1 792.6 L182.1 795 L185.2 797.4 L188.2 799.7 L191.2 802 L194.3 804.3 L197.4 806.5 L200.5 808.8 L203.7 811 L207 813.4 L210.4 815.7 L213.9 818.2 L217.6 820.7 L221.4 823.3 L225.4 825.9 L229.4 828.6 L233.6 831.4 L237.9 834.1 L242.2 836.9 L246.6 839.7 L251.1 842.4 L255.5 845.1 L259.9 847.8 L264.4 850.4 L268.8 852.9 L273.2 855.3 L277.7 857.7 L282.1 860.1 L286.6 862.4 L291.2 864.6 L295.8 866.8 L300.5 869 L305.3 871.2 L310.3 873.3 L315.2 875.4 L320.1 877.5 L325.1 879.7 L330.4 881.8 L335.8 883.9 L341.4 886.1 L345.8 887.8" fill="none" stroke="#d6c7a9" stroke-width="1.2" stroke-dasharray="1.2 2.2" stroke-dashoffset="1.5" opacity="0.75"/>
<clipPath id="p5"><path d="M129.4 648.6 L137 636 L118 640 L108 670 L108 715 L118 745 L137 750 L129.4 738.7Z"/></clipPath>
<path d="M137 636.5 L129.4 648.6 V738.7 L137 751" fill="none" stroke="#1d1813" stroke-width="1.6"/>
<g clip-path="url(#p5)"><rect x="100" y="630" width="40" height="125" fill="#1d1813" opacity="0.15"/>
<path d="M100 566 l40 40M100 569.2 l40 40M100 572.4 l40 40M100 575.6 l40 40M100 578.8 l40 40M100 582 l40 40M100 585.2 l40 40M100 588.4 l40 40M100 591.6 l40 40M100 594.8 l40 40M100 598 l40 40M100 601.2 l40 40M100 604.4 l40 40M100 607.6 l40 40M100 610.8 l40 40M100 614 l40 40M100 617.2 l40 40M100 620.4 l40 40M100 623.6 l40 40M100 626.8 l40 40M100 630 l40 40M100 633.2 l40 40M100 636.4 l40 40M100 639.6 l40 40M100 642.8 l40 40M100 646 l40 40M100 649.2 l40 40M100 652.4 l40 40M100 655.6 l40 40M100 658.8 l40 40M100 662 l40 40M100 665.2 l40 40M100 668.4 l40 40M100 671.6 l40 40M100 674.8 l40 40M100 678 l40 40M100 681.2 l40 40M100 684.4 l40 40M100 687.6 l40 40M100 690.8 l40 40M100 694 l40 40M100 697.2 l40 40M100 700.4 l40 40M100 703.6 l40 40M100 706.8 l40 40M100 710 l40 40M100 713.2 l40 40M100 716.4 l40 40M100 719.6 l40 40M100 722.8 l40 40M100 726 l40 40M100 729.2 l40 40M100 732.4 l40 40M100 735.6 l40 40M100 738.8 l40 40M100 742 l40 40M100 745.2 l40 40M100 748.4 l40 40M100 751.6 l40 40M100 754.8 l40 40M100 758 l40 40M100 761.2 l40 40M100 764.4 l40 40M100 767.6 l40 40M100 770.8 l40 40M100 774 l40 40M100 777.2 l40 40M100 780.4 l40 40M100 783.6 l40 40M100 786.8 l40 40M100 790 l40 40M100 793.2 l40 40M100 796.4 l40 40M100 799.6 l40 40M100 802.8 l40 40M100 806 l40 40M100 809.2 l40 40M100 812.4 l40 40M100 815.6 l40 40M100 818.8 l40 40" stroke="#1d1813" stroke-width="1.3"/></g>
<path d="M126.8 646 V741" fill="none" stroke="#1d1813" stroke-width="4.6" clip-path="url(#p5)"/>
<path d="M126.8 646 V741" fill="none" stroke="#d6c7a9" stroke-width="1.3" stroke-dasharray="1.3 2.2" clip-path="url(#p5)"/>
<path d="M612 490 C611.5 490.4 612.1 488 608.7 492.6 C605.4 497.2 597.5 510.1 591.9 517.8 C586.3 525.5 583.4 531.8 575 538.8 C566.6 545.8 550.6 553.5 541.5 559.8 C532.4 566.1 527.2 570.9 520.5 576.6 C513.8 582.3 507.3 588 501 594 C494.7 600 489.2 606.3 482.7 612.5 C476.1 618.7 468.7 624.5 461.7 631.1 C454.7 637.7 447.8 644.4 440.8 652.1 C433.8 659.8 426.8 668.2 419.8 677.3 C412.8 686.4 405.1 696.9 398.8 706.7 C392.5 716.5 387.2 724.8 382 736 C376.8 747.2 371.5 760.6 367.3 773.9 C363.1 787.2 359.6 801.9 356.8 815.9 C354 829.9 352.1 846.4 350.5 857.8 C348.9 869.1 348 879.6 347.5 884" fill="none" stroke="#1d1813" stroke-width="1.7"/>
<path d="M618.7 478.5 L621 480 L616 490.5" fill="none" stroke="#1d1813" stroke-width="1.5"/>
<text x="538" y="175" style="font-family:'Liberation Serif',serif;font-weight:bold;font-style:italic;font-size:18px" fill="#1d1813" stroke="#1d1813" stroke-width="0.75">1</text>
<text x="582" y="200" style="font-family:'Liberation Serif',serif;font-weight:bold;font-style:italic;font-size:18px" fill="#1d1813" stroke="#1d1813" stroke-width="0.75">2</text>
<text x="520" y="253" style="font-family:'Liberation Serif',serif;font-weight:bold;font-style:italic;font-size:18px" fill="#1d1813" stroke="#1d1813" stroke-width="0.75">1a</text>
<text x="610" y="242" style="font-family:'Liberation Serif',serif;font-weight:bold;font-style:italic;font-size:18px" fill="#1d1813" stroke="#1d1813" stroke-width="0.75">2a</text>
<text x="106" y="245.5" style="font-family:'Liberation Serif',serif;font-weight:bold;font-style:italic;font-size:18px" fill="#1d1813" stroke="#1d1813" stroke-width="0.75">2a</text>
<text x="208" y="266" style="font-family:'Liberation Serif',serif;font-weight:bold;font-style:italic;font-size:18px" fill="#1d1813" stroke="#1d1813" stroke-width="0.75">3</text>
<text x="110" y="362" style="font-family:'Liberation Serif',serif;font-weight:bold;font-style:italic;font-size:18px" fill="#1d1813" stroke="#1d1813" stroke-width="0.75">6</text>
<text x="613" y="359.5" style="font-family:'Liberation Serif',serif;font-weight:bold;font-style:italic;font-size:18px" fill="#1d1813" stroke="#1d1813" stroke-width="0.75">6</text>
<text x="301" y="240.5" style="font-family:'Liberation Serif',serif;font-weight:bold;font-style:italic;font-size:18px" fill="#1d1813" stroke="#1d1813" stroke-width="0.75">7</text>
<text x="335" y="239.5" style="font-family:'Liberation Serif',serif;font-weight:bold;font-style:italic;font-size:18px" fill="#1d1813" stroke="#1d1813" stroke-width="0.75">7b</text>
<text x="378" y="241" style="font-family:'Liberation Serif',serif;font-weight:bold;font-style:italic;font-size:18px" fill="#1d1813" stroke="#1d1813" stroke-width="0.75">7a</text>
<text x="417" y="239.5" style="font-family:'Liberation Serif',serif;font-weight:bold;font-style:italic;font-size:18px" fill="#1d1813" stroke="#1d1813" stroke-width="0.75">7b</text>
<text x="554" y="420" style="font-family:'Liberation Serif',serif;font-weight:bold;font-style:italic;font-size:18px" fill="#1d1813" stroke="#1d1813" stroke-width="0.75">2</text>
<text x="212" y="199" style="font-family:'Liberation Serif',serif;font-weight:bold;font-style:italic;font-size:18px" fill="#d6c7a9" stroke="#d6c7a9" stroke-width="3.2" stroke-linejoin="round">3</text>
<text x="212" y="199" style="font-family:'Liberation Serif',serif;font-weight:bold;font-style:italic;font-size:18px" fill="#1d1813" stroke="#1d1813" stroke-width="0.75">3</text>
<text x="391" y="389" style="font-family:'Liberation Serif',serif;font-weight:bold;font-style:italic;font-size:18px" fill="#d6c7a9" stroke="#d6c7a9" stroke-width="3.2" stroke-linejoin="round">1a</text>
<text x="391" y="389" style="font-family:'Liberation Serif',serif;font-weight:bold;font-style:italic;font-size:18px" fill="#1d1813" stroke="#1d1813" stroke-width="0.75">1a</text>
<path d="M536.7 177 C530 190 518 205 509.5 214" fill="none" stroke="#1d1813" stroke-width="1.35" stroke-linecap="round"/>
<path d="M581 194.5 C570 196 562 208 556 219.5" fill="none" stroke="#1d1813" stroke-width="1.35" stroke-linecap="round"/>
<path d="M525.8 240 C522 233 526 228 524.7 223.8" fill="none" stroke="#1d1813" stroke-width="1.35" stroke-linecap="round"/>
<path d="M610.5 236.8 C609 243 613 248 613.8 254" fill="none" stroke="#1d1813" stroke-width="1.35" stroke-linecap="round"/>
<path d="M108 248.8 C106 254 112 257 117.8 258.6" fill="none" stroke="#1d1813" stroke-width="1.35" stroke-linecap="round"/>
<path d="M217.7 200 L217.7 252" fill="none" stroke="#1d1813" stroke-width="0.9" stroke-linecap="round"/>
<path d="M108.3 350.4 C102 335 103 322 105.5 313.3" fill="none" stroke="#1d1813" stroke-width="1.35" stroke-linecap="round"/>
<path d="M111 348 C109 338 108 331 111.5 327.3" fill="none" stroke="#1d1813" stroke-width="1.35" stroke-linecap="round"/>
<path d="M116.5 348 C115 342 114 338 117 335.7" fill="none" stroke="#1d1813" stroke-width="1.35" stroke-linecap="round"/>
<path d="M619.3 348.9 C619 340 623 335 625.8 331" fill="none" stroke="#1d1813" stroke-width="1.35" stroke-linecap="round"/>
<path d="M624.2 348 C630 344 633 338 631.5 332.6 C630 326 629 322 629 319.5" fill="none" stroke="#1d1813" stroke-width="1.35" stroke-linecap="round"/>
<path d="M308.5 226.5 L317 207" fill="none" stroke="#1d1813" stroke-width="1.2" stroke-linecap="round"/>
<path d="M317.5 205 L313 211.5 L319.5 212.5Z" fill="#1d1813"/>
<path d="M343.2 223.2 L340 197" fill="none" stroke="#1d1813" stroke-width="1.35" stroke-linecap="round"/>
<path d="M380 222 C376 214 370 208 363.8 205.9" fill="none" stroke="#1d1813" stroke-width="1.35" stroke-linecap="round"/>
<path d="M387 222 C395 215 402 210 410.5 208" fill="none" stroke="#1d1813" stroke-width="1.35" stroke-linecap="round"/>
<path d="M429 222 L434.4 199" fill="none" stroke="#1d1813" stroke-width="1.35" stroke-linecap="round"/>
<path d="M398 380 C396 390 393 398 386 402" fill="none" stroke="#1d1813" stroke-width="1.35" stroke-linecap="round"/>
<path d="M559 408 C553 406 547 402 540 398" fill="none" stroke="#1d1813" stroke-width="1.35" stroke-linecap="round"/>
<text x="153" y="163.4" textLength="81" lengthAdjust="spacing" style="font-family:'Liberation Serif',serif;font-weight:bold;font-style:italic;font-size:25px" fill="#1d1813" stroke="#1d1813" stroke-width="1.0">Fig.1.</text>
<text x="164.5" y="514.2" textLength="92" lengthAdjust="spacing" style="font-family:'Liberation Serif',serif;font-weight:bold;font-style:italic;font-size:25px" fill="#1d1813" stroke="#1d1813" stroke-width="1.0">Fig.2.</text>
<text x="474.5" y="681" textLength="95" lengthAdjust="spacing" style="font-family:'Liberation Serif',serif;font-weight:bold;font-style:italic;font-size:25px" fill="#1d1813" stroke="#1d1813" stroke-width="1.0">Fig.3.</text>
<text x="369.5" y="815" textLength="90" lengthAdjust="spacing" style="font-family:'Liberation Serif',serif;font-weight:bold;font-style:italic;font-size:25px" fill="#1d1813" stroke="#1d1813" stroke-width="1.0">Fig.4.</text>
<text x="117" y="861" textLength="106" lengthAdjust="spacing" style="font-family:'Liberation Serif',serif;font-weight:bold;font-style:italic;font-size:25px" fill="#1d1813" stroke="#1d1813" stroke-width="1.0">Fig.2a.</text>
<text x="488" y="460.5" style="font-family:'Liberation Serif',serif;font-weight:bold;font-style:italic;font-size:18px" fill="#1d1813" stroke="#1d1813" stroke-width="0.75">1a</text>
<text x="529" y="458" style="font-family:'Liberation Serif',serif;font-weight:bold;font-style:italic;font-size:18px" fill="#1d1813" stroke="#1d1813" stroke-width="0.75">1</text>
<text x="561" y="460.5" style="font-family:'Liberation Serif',serif;font-weight:bold;font-style:italic;font-size:18px" fill="#1d1813" stroke="#1d1813" stroke-width="0.75">2</text>
<text x="595" y="466.5" style="font-family:'Liberation Serif',serif;font-weight:bold;font-style:italic;font-size:18px" fill="#1d1813" stroke="#1d1813" stroke-width="0.75">3</text>
<text x="602" y="527" style="font-family:'Liberation Serif',serif;font-weight:bold;font-style:italic;font-size:18px" fill="#1d1813" stroke="#1d1813" stroke-width="0.75">4</text>
<path d="M480.5 467 C480 461 481 457 488 453" fill="none" stroke="#1d1813" stroke-width="1.2" stroke-linecap="round"/>
<path d="M521.5 467 C521.5 461 523 456 530 452" fill="none" stroke="#1d1813" stroke-width="1.2" stroke-linecap="round"/>
<path d="M552.5 468.5 C555 462 557 456 563 452" fill="none" stroke="#1d1813" stroke-width="1.2" stroke-linecap="round"/>
<path d="M586.5 474 C589 468 590 462 596 458" fill="none" stroke="#1d1813" stroke-width="1.2" stroke-linecap="round"/>
<path d="M573 480.7 C577 498 588 512 602 520" fill="none" stroke="#1d1813" stroke-width="1.2" stroke-linecap="round"/>
<text x="109" y="622.5" style="font-family:'Liberation Serif',serif;font-weight:bold;font-style:italic;font-size:18px" fill="#1d1813" stroke="#1d1813" stroke-width="0.75">2a</text>
<text x="159" y="693" style="font-family:'Liberation Serif',serif;font-weight:bold;font-style:italic;font-size:18px" fill="#1d1813" stroke="#1d1813" stroke-width="0.75">5</text>
<path d="M112 627 C113 633 117 637 123 639" fill="none" stroke="#1d1813" stroke-width="1" stroke-linecap="round"/>
<path d="M129.6 685.2 H156" fill="none" stroke="#1d1813" stroke-width="1" stroke-linecap="round"/>
<path d="M148.6 625 V762" fill="none" stroke="#1d1813" stroke-width="1.1" stroke-dasharray="4 3"/>
<pattern id="xh" patternUnits="userSpaceOnUse" width="4" height="4"><rect width="4" height="4" fill="#1d1813" opacity="0.72"/><path d="M0 4L4 0M0 0L4 4" stroke="#d6c7a9" stroke-width="0.7" opacity="0.75"/></pattern>
<pattern id="dh" patternUnits="userSpaceOnUse" width="3.4" height="3.4"><path d="M-1 1L1 -1M0 3.4L3.4 0M2.4 4.4L4.4 2.4" stroke="#1d1813" stroke-width="1.25"/></pattern>
<pattern id="vh" patternUnits="userSpaceOnUse" width="3" height="3"><rect width="3" height="3" fill="#1d1813" opacity="0.3"/><path d="M-1 1L1 -1M0 3L3 0M2 4L4 2" stroke="#1d1813" stroke-width="1.3"/></pattern>
<path d="M439.4 720 L524 717 L531 724.5 L543 724.5 L549 717 L618.5 720 V750 H439.4Z" fill="url(#xh)" stroke="#1d1813" stroke-width="1.4"/>
<path d="M439.4 731 Q530 728 618.5 731 V739.5 H439.4Z" fill="#1d1813" opacity="0.35"/>
<rect x="439.4" y="739.5" width="179" height="10.5" fill="url(#vh)" stroke="#1d1813" stroke-width="1.2"/>
<path d="M448.4 750 V769 L480 768 L520 770 L560 768 L611 769.5 V750" fill="none" stroke="#1d1813" stroke-width="1.6"/>
<text x="491" y="708" style="font-family:'Liberation Serif',serif;font-weight:bold;font-style:italic;font-size:18px" fill="#1d1813" stroke="#1d1813" stroke-width="0.75">1a</text>
<text x="523" y="704" style="font-family:'Liberation Serif',serif;font-weight:bold;font-style:italic;font-size:18px" fill="#1d1813" stroke="#1d1813" stroke-width="0.75">2</text>
<text x="550" y="708" style="font-family:'Liberation Serif',serif;font-weight:bold;font-style:italic;font-size:18px" fill="#1d1813" stroke="#1d1813" stroke-width="0.75">1</text>
<text x="596" y="714" style="font-family:'Liberation Serif',serif;font-weight:bold;font-style:italic;font-size:18px" fill="#1d1813" stroke="#1d1813" stroke-width="0.75">2</text>
<text x="428" y="772" style="font-family:'Liberation Serif',serif;font-weight:bold;font-style:italic;font-size:18px" fill="#1d1813" stroke="#1d1813" stroke-width="0.75">4</text>
<text x="522" y="765" style="font-family:'Liberation Serif',serif;font-weight:bold;font-style:italic;font-size:18px" fill="#1d1813" stroke="#1d1813" stroke-width="0.75">2</text>
<text x="613" y="772" style="font-family:'Liberation Serif',serif;font-weight:bold;font-style:italic;font-size:18px" fill="#1d1813" stroke="#1d1813" stroke-width="0.75">3</text>
<path d="M519 712 C523 712 526 716 527 720" fill="none" stroke="#1d1813" stroke-width="1" stroke-linecap="round"/>
<path d="M553 711 C551 713 548 716 546 720" fill="none" stroke="#1d1813" stroke-width="1" stroke-linecap="round"/>
<path d="M598 716 C596 720 592 724 590 728" fill="none" stroke="#1d1813" stroke-width="1" stroke-linecap="round"/>
<path d="M440 764 C455 762 465 756 470 748" fill="none" stroke="#1d1813" stroke-width="1" stroke-linecap="round"/>
<path d="M618.5 745 C624 750 625 757 622 762" fill="none" stroke="#1d1813" stroke-width="1" stroke-linecap="round"/>
<path d="M475.9 792.3 H519.6 C522 800 527 802 530 802 C533 802 538 800 540.5 792.3 H586 L576.6 822.7 H485.4Z" fill="url(#xh)" stroke="#1d1813" stroke-width="1.4"/>
<path d="M479.5 803.7 H582.5 L579 815 H482.9Z" fill="#d6c7a9"/><path d="M479.5 803.7 H582.5 L579 815 H482.9Z" fill="url(#dh)" stroke="#1d1813" stroke-width="0.8"/>
<path d="M482.9 815 H579 L576.6 822.7 H485.4Z" fill="url(#vh)" stroke="#1d1813" stroke-width="1"/><path d="M482.9 815 H579 L576.6 822.7 H485.4Z" fill="#1d1813" opacity="0.35"/>
<text x="509" y="790" style="font-family:'Liberation Serif',serif;font-weight:bold;font-style:italic;font-size:18px" fill="#1d1813" stroke="#1d1813" stroke-width="0.75">1a</text>
<text x="558" y="788" style="font-family:'Liberation Serif',serif;font-weight:bold;font-style:italic;font-size:18px" fill="#1d1813" stroke="#1d1813" stroke-width="0.75">1</text>
<text x="590" y="811" style="font-family:'Liberation Serif',serif;font-weight:bold;font-style:italic;font-size:18px" fill="#1d1813" stroke="#1d1813" stroke-width="0.75">2</text>
<text x="449" y="838" style="font-family:'Liberation Serif',serif;font-weight:bold;font-style:italic;font-size:18px" fill="#1d1813" stroke="#1d1813" stroke-width="0.75">2</text>
<text x="464" y="849" style="font-family:'Liberation Serif',serif;font-weight:bold;font-style:italic;font-size:18px" fill="#1d1813" stroke="#1d1813" stroke-width="0.75">3</text>
<text x="506" y="845" style="font-family:'Liberation Serif',serif;font-weight:bold;font-style:italic;font-size:18px" fill="#1d1813" stroke="#1d1813" stroke-width="0.75">4</text>
<path d="M520 792 C522 797 525 800 528 801" fill="none" stroke="#1d1813" stroke-width="1" stroke-linecap="round"/>
<path d="M562 790 C556 794 552 798 548 800" fill="none" stroke="#1d1813" stroke-width="1" stroke-linecap="round"/>
<path d="M582 800 C586 801 589 803 592 804" fill="none" stroke="#1d1813" stroke-width="1" stroke-linecap="round"/>
<path d="M485 822 C487 830 489 836 490 841" fill="none" stroke="#1d1813" stroke-width="1" stroke-linecap="round"/>
<path d="M478 808 C470 815 466 825 465 830" fill="none" stroke="#1d1813" stroke-width="1" stroke-linecap="round"/>
<path d="M576 822 C574 830 573 836 572 841" fill="none" stroke="#1d1813" stroke-width="1" stroke-linecap="round"/>
<path d="M507 824 V832" fill="none" stroke="#1d1813" stroke-width="1" stroke-linecap="round"/>
<text x="565" y="832.5" textLength="66" lengthAdjust="spacingAndGlyphs" style="font-family:'Liberation Serif',serif;font-style:italic;font-weight:bold;font-size:13px" fill="#1d1813">Inventor:</text>
<path d="M110.9 875 Q176 870 241 876 V906 H110.9Z" fill="none" stroke="#1d1813" stroke-width="1.3"/>
<rect x="110.9" y="883" width="130" height="13.5" fill="url(#xh)"/>
<rect x="110.9" y="898" width="130" height="8" fill="url(#vh)" stroke="#1d1813" stroke-width="1"/>
<path d="M110.9 875 L114 922 M241 876 L239 922" fill="none" stroke="#1d1813" stroke-width="1.3"/>
<text x="243" y="877" style="font-family:'Liberation Serif',serif;font-weight:bold;font-style:italic;font-size:18px" fill="#1d1813" stroke="#1d1813" stroke-width="0.75">2</text>
<text x="255" y="892" style="font-family:'Liberation Serif',serif;font-weight:bold;font-style:italic;font-size:18px" fill="#1d1813" stroke="#1d1813" stroke-width="0.75">1a</text>
<text x="251" y="907" style="font-family:'Liberation Serif',serif;font-weight:bold;font-style:italic;font-size:18px" fill="#1d1813" stroke="#1d1813" stroke-width="0.75">1</text>
<text x="247" y="923" style="font-family:'Liberation Serif',serif;font-weight:bold;font-style:italic;font-size:18px" fill="#1d1813" stroke="#1d1813" stroke-width="0.75">3</text>
<text x="164" y="927" style="font-family:'Liberation Serif',serif;font-weight:bold;font-style:italic;font-size:18px" fill="#1d1813" stroke="#1d1813" stroke-width="0.75">4</text>
<path d="M243 872 C238 873 235 876 233 878" fill="none" stroke="#1d1813" stroke-width="1" stroke-linecap="round"/>
<path d="M254 886 C250 884 246 883 241 882" fill="none" stroke="#1d1813" stroke-width="1" stroke-linecap="round"/>
<path d="M250 900 C247 898 244 896 241 894" fill="none" stroke="#1d1813" stroke-width="1" stroke-linecap="round"/>
<path d="M246 916 C244 912 242 908 241 904" fill="none" stroke="#1d1813" stroke-width="1" stroke-linecap="round"/>
<path d="M172 916 C173 912 174 908 174 905" fill="none" stroke="#1d1813" stroke-width="1" stroke-linecap="round"/>
<text x="419" y="882" textLength="201" lengthAdjust="spacing" style="font-family:'Liberation Serif',serif;font-weight:bold;font-style:italic;font-size:21.5px" fill="#1d1813" stroke="#1d1813" stroke-width="0.6">Milton B. Reach,</text>
<text x="373" y="907" style="font-family:'Liberation Serif',serif;font-style:italic;font-weight:bold;font-size:11px" fill="#1d1813">By</text>
<path d="M375 932 C392 926 408 918 420 906 C432 894 440 884 446 884 C450 886 446 894 440 902 C432 912 424 922 419 930" fill="none" stroke="#1d1813" stroke-linecap="round" stroke-linejoin="round" stroke-width="2.5"/>
<path d="M416 921 C422 914 428 911 432 913 C435 917 430 921 427 918 C433 911 439 909 443 913 C441 920 446 919 450 913 C453 910 455 915 457 917 C459 913 462 910 466 911 C465 916 468 918 471 914 M475 913 C477 917 476 922 472 925 M478 918 C488 915 498 913 506 913" fill="none" stroke="#1d1813" stroke-linecap="round" stroke-linejoin="round" stroke-width="2.1"/>
<path d="M484 896 C494 892 502 898 501 906 C500 914 490 918 481 914 M489 897 C493 906 498 916 502 924" fill="none" stroke="#1d1813" stroke-linecap="round" stroke-linejoin="round" stroke-width="2.3"/>
<path d="M503 915 C506 909 511 909 512 913 C511 917 507 917 506 914 M514 917 C515 911 518 909 520 912 L521 917 M524 911 C528 909 530 913 528 916 C527 912 531 910 532 916 C535 906 537 900 538 897 C538 906 537 912 540 916 C542 910 546 909 547 913 C546 917 542 917 542 913 C544 906 547 900 548 897 C547 906 548 912 551 914 C553 911 556 911 556 913 C554 916 553 917 557 917 C560 911 564 910 565 913 C564 917 561 917 561 913 M567 917 C568 911 571 909 573 912 L574 917 C580 916 586 914 590 913" fill="none" stroke="#1d1813" stroke-linecap="round" stroke-linejoin="round" stroke-width="1.9"/>
<path d="M576 905 C582 910 588 914 590 920 M586 908 L578 918" fill="none" stroke="#1d1813" stroke-linecap="round" stroke-linejoin="round" stroke-width="1.9"/>
<path d="M592 919 C596 910 600 900 603 894 M597 909 C604 907 610 906 616 905 M606 919 C610 909 614 900 617 895 M612 917 C615 911 620 910 621 913 C620 918 616 918 617 913 C620 906 623 899 625 896 C624 906 623 913 626 916 C628 908 631 900 632 897 C630 906 629 913 633 915" fill="none" stroke="#1d1813" stroke-linecap="round" stroke-linejoin="round" stroke-width="2"/>
<text x="583" y="931" style="font-family:'Liberation Serif',serif;font-style:italic;font-weight:bold;font-size:10.5px" fill="#1d1813">Attorneys.</text>
</svg></body></html>
